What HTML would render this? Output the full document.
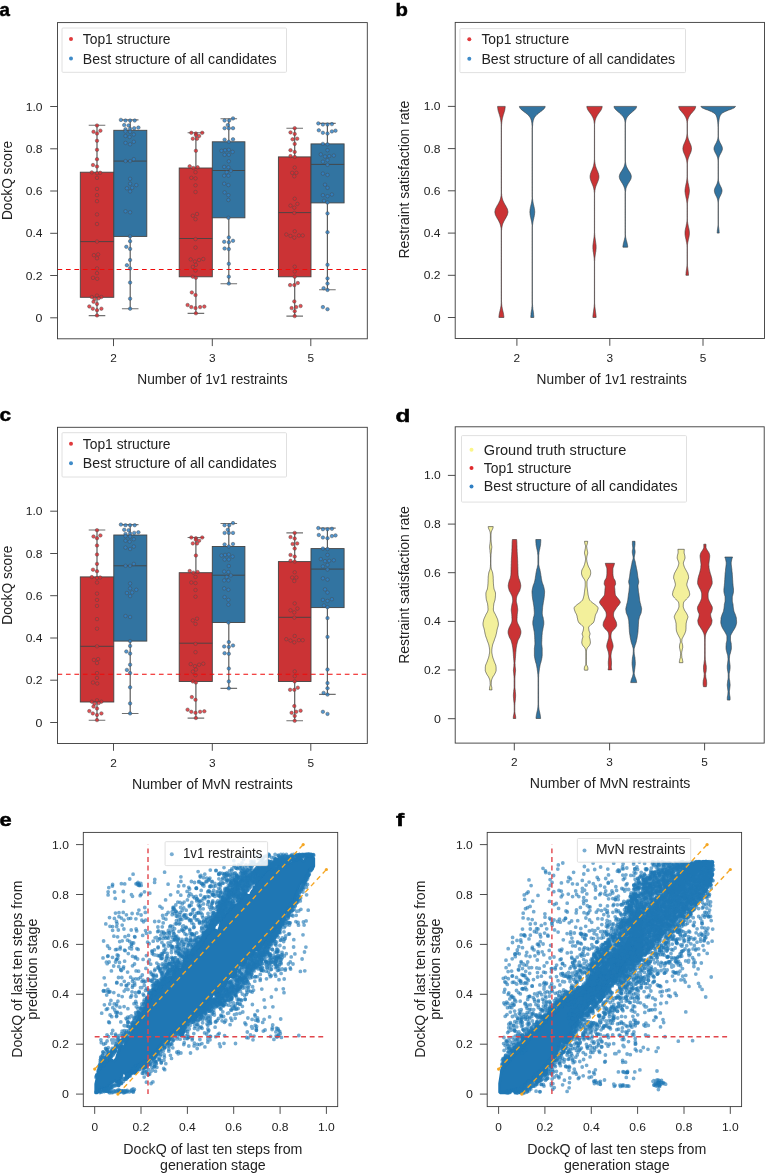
<!DOCTYPE html>
<html><head><meta charset="utf-8"><title>Figure</title>
<style>html,body{margin:0;padding:0;background:#fff}body{width:765px;height:1174px;overflow:hidden;font-family:"Liberation Sans",sans-serif}svg{will-change:transform;transform:translateZ(0)}svg text{font-family:"Liberation Sans",sans-serif;-webkit-font-smoothing:antialiased}</style>
</head><body><svg width="765" height="1174" viewBox="0 0 765 1174" style="display:block;font-family:'Liberation Sans',sans-serif"><path d="M97 125.3V172.2M97 297.3V315.6" stroke="#5c5c5c" stroke-width="1.2" fill="none"/>
<path d="M88.7 125.3h16.6M88.7 315.6h16.6" stroke="#707070" stroke-width="1.1" fill="none"/>
<rect x="80.3" y="172.2" width="33.5" height="125.1" fill="#cb3335" stroke="#444" stroke-width="0.9"/>
<line x1="80.3" y1="241.6" x2="113.8" y2="241.6" stroke="#444" stroke-width="0.9"/>
<g fill="#de2a2e" fill-opacity="0.82" stroke="#4a4a4a" stroke-opacity="0.7" stroke-width="0.65"><circle cx="97" cy="125.5" r="1.75"/><circle cx="93.5" cy="131.8" r="1.75"/><circle cx="100.4" cy="130.7" r="1.75"/><circle cx="97" cy="133.5" r="1.75"/><circle cx="97" cy="140.8" r="1.75"/><circle cx="97" cy="149.8" r="1.75"/><circle cx="97" cy="159.2" r="1.75"/><circle cx="93" cy="165" r="1.75"/><circle cx="97" cy="166.5" r="1.75"/><circle cx="91.8" cy="172.4" r="1.75"/><circle cx="97" cy="173.2" r="1.75"/><circle cx="100.2" cy="172.8" r="1.75"/><circle cx="97" cy="177.8" r="1.75"/><circle cx="97" cy="188.9" r="1.75"/><circle cx="97" cy="195.2" r="1.75"/><circle cx="97" cy="201.2" r="1.75"/><circle cx="97" cy="214.4" r="1.75"/><circle cx="97" cy="224" r="1.75"/><circle cx="97" cy="241.6" r="1.75"/><circle cx="93.9" cy="255.2" r="1.75"/><circle cx="98.1" cy="254.4" r="1.75"/><circle cx="97" cy="258.3" r="1.75"/><circle cx="97" cy="268.4" r="1.75"/><circle cx="97" cy="273.2" r="1.75"/><circle cx="93" cy="277.8" r="1.75"/><circle cx="97.2" cy="278.8" r="1.75"/><circle cx="91.8" cy="297" r="1.75"/><circle cx="97" cy="295.6" r="1.75"/><circle cx="101.4" cy="297" r="1.75"/><circle cx="94.5" cy="299.1" r="1.75"/><circle cx="98.7" cy="298.3" r="1.75"/><circle cx="93.5" cy="301.8" r="1.75"/><circle cx="97" cy="303.9" r="1.75"/><circle cx="89.3" cy="306.4" r="1.75"/><circle cx="92.8" cy="308.7" r="1.75"/><circle cx="97" cy="310.2" r="1.75"/><circle cx="101.4" cy="308.7" r="1.75"/><circle cx="97" cy="315.4" r="1.75"/></g>
<path d="M130.2 119.9V130.3M130.2 236.4V308.8" stroke="#5c5c5c" stroke-width="1.2" fill="none"/>
<path d="M121.9 119.9h16.6M121.9 308.8h16.6" stroke="#707070" stroke-width="1.1" fill="none"/>
<rect x="113.8" y="130.3" width="33" height="106.1" fill="#3274a1" stroke="#444" stroke-width="0.9"/>
<line x1="113.8" y1="161.1" x2="146.8" y2="161.1" stroke="#444" stroke-width="0.9"/>
<g fill="#2e80c6" fill-opacity="0.82" stroke="#4a4a4a" stroke-opacity="0.7" stroke-width="0.65"><circle cx="120.9" cy="119.9" r="1.75"/><circle cx="125.5" cy="120.5" r="1.75"/><circle cx="130.1" cy="120.5" r="1.75"/><circle cx="134.7" cy="120.5" r="1.75"/><circle cx="124.2" cy="125.1" r="1.75"/><circle cx="128.6" cy="125.5" r="1.75"/><circle cx="125.5" cy="129.3" r="1.75"/><circle cx="130.1" cy="128.9" r="1.75"/><circle cx="134.2" cy="128.2" r="1.75"/><circle cx="138.4" cy="127.6" r="1.75"/><circle cx="125.5" cy="131.4" r="1.75"/><circle cx="130.1" cy="131.8" r="1.75"/><circle cx="125.5" cy="136" r="1.75"/><circle cx="129.6" cy="137" r="1.75"/><circle cx="133.8" cy="134.5" r="1.75"/><circle cx="125.5" cy="142.9" r="1.75"/><circle cx="130.1" cy="144.3" r="1.75"/><circle cx="133.8" cy="141.8" r="1.75"/><circle cx="125.5" cy="161.1" r="1.75"/><circle cx="130.1" cy="161.1" r="1.75"/><circle cx="133.8" cy="159.2" r="1.75"/><circle cx="130.1" cy="178.8" r="1.75"/><circle cx="130.1" cy="183.7" r="1.75"/><circle cx="136.3" cy="185.1" r="1.75"/><circle cx="126.9" cy="188.3" r="1.75"/><circle cx="132.2" cy="187.8" r="1.75"/><circle cx="130.1" cy="191.4" r="1.75"/><circle cx="125.5" cy="211.3" r="1.75"/><circle cx="130.1" cy="212.3" r="1.75"/><circle cx="130.1" cy="236.4" r="1.75"/><circle cx="130.1" cy="241.2" r="1.75"/><circle cx="126.3" cy="246.8" r="1.75"/><circle cx="130.1" cy="248.9" r="1.75"/><circle cx="130.1" cy="260" r="1.75"/><circle cx="126.9" cy="265.2" r="1.75"/><circle cx="130.1" cy="268.4" r="1.75"/><circle cx="130.1" cy="282.6" r="1.75"/><circle cx="130.1" cy="298.7" r="1.75"/><circle cx="130.1" cy="308.7" r="1.75"/></g>
<path d="M195.9 132.8V168M195.9 276.8V313.4" stroke="#5c5c5c" stroke-width="1.2" fill="none"/>
<path d="M187.6 132.8h16.6M187.6 313.4h16.6" stroke="#707070" stroke-width="1.1" fill="none"/>
<rect x="179.2" y="168" width="33.1" height="108.8" fill="#cb3335" stroke="#444" stroke-width="0.9"/>
<line x1="179.2" y1="238.5" x2="212.3" y2="238.5" stroke="#444" stroke-width="0.9"/>
<g fill="#de2a2e" fill-opacity="0.82" stroke="#4a4a4a" stroke-opacity="0.7" stroke-width="0.65"><circle cx="191.3" cy="132.8" r="1.75"/><circle cx="195.9" cy="133.5" r="1.75"/><circle cx="202.2" cy="132.8" r="1.75"/><circle cx="195.9" cy="135.1" r="1.75"/><circle cx="199.1" cy="136" r="1.75"/><circle cx="192.8" cy="138.7" r="1.75"/><circle cx="197" cy="138.7" r="1.75"/><circle cx="195.9" cy="150.8" r="1.75"/><circle cx="189.7" cy="166.3" r="1.75"/><circle cx="193.4" cy="168" r="1.75"/><circle cx="197.6" cy="167.3" r="1.75"/><circle cx="195.5" cy="172.2" r="1.75"/><circle cx="191.3" cy="177.8" r="1.75"/><circle cx="195.5" cy="178.4" r="1.75"/><circle cx="195.5" cy="185.3" r="1.75"/><circle cx="195.5" cy="192" r="1.75"/><circle cx="197" cy="214" r="1.75"/><circle cx="192.8" cy="215.7" r="1.75"/><circle cx="195.5" cy="219.2" r="1.75"/><circle cx="195.5" cy="239.1" r="1.75"/><circle cx="195.5" cy="247.5" r="1.75"/><circle cx="190.7" cy="259.4" r="1.75"/><circle cx="194.9" cy="261.5" r="1.75"/><circle cx="199.1" cy="260" r="1.75"/><circle cx="203.3" cy="259" r="1.75"/><circle cx="195.9" cy="264.8" r="1.75"/><circle cx="192.8" cy="266.9" r="1.75"/><circle cx="195.5" cy="270.5" r="1.75"/><circle cx="192.8" cy="276.7" r="1.75"/><circle cx="195.9" cy="277.8" r="1.75"/><circle cx="191.8" cy="292.4" r="1.75"/><circle cx="195.5" cy="295.1" r="1.75"/><circle cx="187.6" cy="305" r="1.75"/><circle cx="191.3" cy="307.1" r="1.75"/><circle cx="195.5" cy="308.1" r="1.75"/><circle cx="200.1" cy="307.1" r="1.75"/><circle cx="204.3" cy="306.6" r="1.75"/><circle cx="195.9" cy="313.3" r="1.75"/></g>
<path d="M228.8 118.8V141.8M228.8 217.8V283.7" stroke="#5c5c5c" stroke-width="1.2" fill="none"/>
<path d="M220.5 118.8h16.6M220.5 283.7h16.6" stroke="#707070" stroke-width="1.1" fill="none"/>
<rect x="212.3" y="141.8" width="32.6" height="76" fill="#3274a1" stroke="#444" stroke-width="0.9"/>
<line x1="212.3" y1="170.5" x2="244.9" y2="170.5" stroke="#444" stroke-width="0.9"/>
<g fill="#2e80c6" fill-opacity="0.82" stroke="#4a4a4a" stroke-opacity="0.7" stroke-width="0.65"><circle cx="233" cy="118.4" r="1.75"/><circle cx="229.2" cy="120.5" r="1.75"/><circle cx="224.6" cy="120.5" r="1.75"/><circle cx="227.8" cy="125.1" r="1.75"/><circle cx="224.6" cy="128.2" r="1.75"/><circle cx="228.8" cy="128.2" r="1.75"/><circle cx="233" cy="128.2" r="1.75"/><circle cx="224.6" cy="139.7" r="1.75"/><circle cx="228.8" cy="141.8" r="1.75"/><circle cx="233" cy="139.3" r="1.75"/><circle cx="221.5" cy="150.8" r="1.75"/><circle cx="225.1" cy="150.2" r="1.75"/><circle cx="228.8" cy="149.8" r="1.75"/><circle cx="232.6" cy="151.9" r="1.75"/><circle cx="224.6" cy="154.8" r="1.75"/><circle cx="228.8" cy="154.8" r="1.75"/><circle cx="228.8" cy="161.3" r="1.75"/><circle cx="224.2" cy="166.9" r="1.75"/><circle cx="228.4" cy="167.3" r="1.75"/><circle cx="230.9" cy="170.7" r="1.75"/><circle cx="226.7" cy="172.2" r="1.75"/><circle cx="224.2" cy="175.7" r="1.75"/><circle cx="228.4" cy="175.7" r="1.75"/><circle cx="224.2" cy="183.7" r="1.75"/><circle cx="228.4" cy="185.1" r="1.75"/><circle cx="224.6" cy="192.4" r="1.75"/><circle cx="228.4" cy="195.2" r="1.75"/><circle cx="228.4" cy="200" r="1.75"/><circle cx="228.4" cy="217.8" r="1.75"/><circle cx="228.8" cy="237.4" r="1.75"/><circle cx="224.2" cy="241.8" r="1.75"/><circle cx="228.8" cy="242.2" r="1.75"/><circle cx="233" cy="240.8" r="1.75"/><circle cx="224.6" cy="248.5" r="1.75"/><circle cx="228.8" cy="249.1" r="1.75"/><circle cx="228.8" cy="263.8" r="1.75"/><circle cx="228.8" cy="276.7" r="1.75"/><circle cx="228.8" cy="283.6" r="1.75"/></g>
<path d="M294.7 128.2V156.9M294.7 276.8V316.1" stroke="#5c5c5c" stroke-width="1.2" fill="none"/>
<path d="M286.4 128.2h16.6M286.4 316.1h16.6" stroke="#707070" stroke-width="1.1" fill="none"/>
<rect x="278.4" y="156.9" width="32.6" height="119.9" fill="#cb3335" stroke="#444" stroke-width="0.9"/>
<line x1="278.4" y1="212.6" x2="311" y2="212.6" stroke="#444" stroke-width="0.9"/>
<g fill="#de2a2e" fill-opacity="0.82" stroke="#4a4a4a" stroke-opacity="0.7" stroke-width="0.65"><circle cx="294.7" cy="128.2" r="1.75"/><circle cx="290.5" cy="132.4" r="1.75"/><circle cx="294.7" cy="133.9" r="1.75"/><circle cx="292.6" cy="139.3" r="1.75"/><circle cx="297.2" cy="138.7" r="1.75"/><circle cx="294.7" cy="143.9" r="1.75"/><circle cx="290.5" cy="150.2" r="1.75"/><circle cx="294.7" cy="151.9" r="1.75"/><circle cx="290.5" cy="156.1" r="1.75"/><circle cx="294.7" cy="156.9" r="1.75"/><circle cx="294.7" cy="167.6" r="1.75"/><circle cx="292.2" cy="172.8" r="1.75"/><circle cx="296.4" cy="172.8" r="1.75"/><circle cx="294.3" cy="176.3" r="1.75"/><circle cx="294.7" cy="198.7" r="1.75"/><circle cx="297.4" cy="203.9" r="1.75"/><circle cx="290.5" cy="205.6" r="1.75"/><circle cx="294.3" cy="207.7" r="1.75"/><circle cx="294.3" cy="212.9" r="1.75"/><circle cx="294.7" cy="231.3" r="1.75"/><circle cx="286.3" cy="234.5" r="1.75"/><circle cx="290.5" cy="235.9" r="1.75"/><circle cx="294.3" cy="237.6" r="1.75"/><circle cx="298.9" cy="235.5" r="1.75"/><circle cx="302.7" cy="235.5" r="1.75"/><circle cx="294.7" cy="266.7" r="1.75"/><circle cx="294.7" cy="271.5" r="1.75"/><circle cx="294.7" cy="276.7" r="1.75"/><circle cx="290.1" cy="285.1" r="1.75"/><circle cx="294.3" cy="285.1" r="1.75"/><circle cx="297.8" cy="283" r="1.75"/><circle cx="294.3" cy="301.4" r="1.75"/><circle cx="291.6" cy="308.1" r="1.75"/><circle cx="296.2" cy="307.1" r="1.75"/><circle cx="300.6" cy="306" r="1.75"/><circle cx="294.7" cy="311.2" r="1.75"/><circle cx="294.7" cy="316.1" r="1.75"/></g>
<path d="M327.4 123.4V143.9M327.4 202.9V289.7" stroke="#5c5c5c" stroke-width="1.2" fill="none"/>
<path d="M319.1 123.4h16.6M319.1 289.7h16.6" stroke="#707070" stroke-width="1.1" fill="none"/>
<rect x="311" y="143.9" width="33.1" height="59" fill="#3274a1" stroke="#444" stroke-width="0.9"/>
<line x1="311" y1="164.4" x2="344.1" y2="164.4" stroke="#444" stroke-width="0.9"/>
<g fill="#2e80c6" fill-opacity="0.82" stroke="#4a4a4a" stroke-opacity="0.7" stroke-width="0.65"><circle cx="318.3" cy="123.4" r="1.75"/><circle cx="322.9" cy="124.5" r="1.75"/><circle cx="327.5" cy="124.5" r="1.75"/><circle cx="331.9" cy="124.1" r="1.75"/><circle cx="318.8" cy="130.3" r="1.75"/><circle cx="322.9" cy="132.8" r="1.75"/><circle cx="327.5" cy="133.5" r="1.75"/><circle cx="331.9" cy="131.4" r="1.75"/><circle cx="335.5" cy="130.7" r="1.75"/><circle cx="322.9" cy="143.9" r="1.75"/><circle cx="327.5" cy="144.3" r="1.75"/><circle cx="327.5" cy="150.2" r="1.75"/><circle cx="320.8" cy="154.4" r="1.75"/><circle cx="325" cy="156.5" r="1.75"/><circle cx="329.2" cy="156.1" r="1.75"/><circle cx="333.8" cy="155.6" r="1.75"/><circle cx="322.9" cy="161.7" r="1.75"/><circle cx="327.5" cy="160.2" r="1.75"/><circle cx="327.5" cy="164.8" r="1.75"/><circle cx="322.9" cy="173.6" r="1.75"/><circle cx="327.5" cy="174.9" r="1.75"/><circle cx="325" cy="184.7" r="1.75"/><circle cx="327.5" cy="187.8" r="1.75"/><circle cx="322.9" cy="195.2" r="1.75"/><circle cx="327.5" cy="196.2" r="1.75"/><circle cx="331.9" cy="194.5" r="1.75"/><circle cx="324" cy="200.8" r="1.75"/><circle cx="327.5" cy="202.5" r="1.75"/><circle cx="327.5" cy="213.4" r="1.75"/><circle cx="327.5" cy="232.2" r="1.75"/><circle cx="327.5" cy="264.8" r="1.75"/><circle cx="327.5" cy="278.4" r="1.75"/><circle cx="327.5" cy="283.6" r="1.75"/><circle cx="323.6" cy="288.2" r="1.75"/><circle cx="327.5" cy="289.9" r="1.75"/><circle cx="322.9" cy="307.1" r="1.75"/><circle cx="327.5" cy="309.2" r="1.75"/></g>
<line x1="57.5" y1="269.50" x2="367.3" y2="269.50" stroke="#f00a0a" stroke-width="1.15" stroke-dasharray="4.7 3.75"/>
<rect x="57.5" y="22.6" width="309.8" height="316.2" fill="none" stroke="#3a3a3a" stroke-width="0.9"/>
<line x1="50.2" y1="317.8" x2="57.5" y2="317.8" stroke="#3a3a3a" stroke-width="0.9"/>
<text x="42.5" y="321.8" font-size="11.5" text-anchor="end" fill="#222" textLength="6.9" lengthAdjust="spacingAndGlyphs">0</text>
<line x1="50.2" y1="275.5" x2="57.5" y2="275.5" stroke="#3a3a3a" stroke-width="0.9"/>
<text x="42.5" y="279.5" font-size="11.5" text-anchor="end" fill="#222" textLength="16.8" lengthAdjust="spacingAndGlyphs">0.2</text>
<line x1="50.2" y1="233.3" x2="57.5" y2="233.3" stroke="#3a3a3a" stroke-width="0.9"/>
<text x="42.5" y="237.3" font-size="11.5" text-anchor="end" fill="#222" textLength="16.8" lengthAdjust="spacingAndGlyphs">0.4</text>
<line x1="50.2" y1="191" x2="57.5" y2="191" stroke="#3a3a3a" stroke-width="0.9"/>
<text x="42.5" y="195" font-size="11.5" text-anchor="end" fill="#222" textLength="16.8" lengthAdjust="spacingAndGlyphs">0.6</text>
<line x1="50.2" y1="148.8" x2="57.5" y2="148.8" stroke="#3a3a3a" stroke-width="0.9"/>
<text x="42.5" y="152.8" font-size="11.5" text-anchor="end" fill="#222" textLength="16.8" lengthAdjust="spacingAndGlyphs">0.8</text>
<line x1="50.2" y1="106.5" x2="57.5" y2="106.5" stroke="#3a3a3a" stroke-width="0.9"/>
<text x="42.5" y="110.5" font-size="11.5" text-anchor="end" fill="#222" textLength="16.8" lengthAdjust="spacingAndGlyphs">1.0</text>
<line x1="113.5" y1="338.8" x2="113.5" y2="346.1" stroke="#3a3a3a" stroke-width="0.9"/>
<text x="113.5" y="362" font-size="11.5" text-anchor="middle" fill="#222" textLength="6.6" lengthAdjust="spacingAndGlyphs">2</text>
<line x1="212.3" y1="338.8" x2="212.3" y2="346.1" stroke="#3a3a3a" stroke-width="0.9"/>
<text x="212.3" y="362" font-size="11.5" text-anchor="middle" fill="#222" textLength="6.6" lengthAdjust="spacingAndGlyphs">3</text>
<line x1="310.8" y1="338.8" x2="310.8" y2="346.1" stroke="#3a3a3a" stroke-width="0.9"/>
<text x="310.8" y="362" font-size="11.5" text-anchor="middle" fill="#222" textLength="6.6" lengthAdjust="spacingAndGlyphs">5</text>
<text x="212.4" y="383.9" font-size="14.2" text-anchor="middle" fill="#222" textLength="150.3" lengthAdjust="spacingAndGlyphs">Number of 1v1 restraints</text>
<text x="11.9" y="180.5" font-size="14.2" text-anchor="middle" fill="#222" textLength="79.1" lengthAdjust="spacingAndGlyphs" transform="rotate(-90 11.9 180.5)">DockQ score</text>
<rect x="62" y="28" width="224.5" height="44.3" rx="1" fill="#fff" fill-opacity="0.85" stroke="#dcdcdc" stroke-width="0.9"/>
<circle cx="71" cy="39.1" r="2.0" fill="#e03a3c"/>
<text x="82.8" y="44" font-size="14.2" text-anchor="start" fill="#222" textLength="87.7" lengthAdjust="spacingAndGlyphs">Top1 structure</text>
<circle cx="71" cy="58.6" r="2.0" fill="#3f8bc8"/>
<text x="82.8" y="63.5" font-size="14.2" text-anchor="start" fill="#222" textLength="193.8" lengthAdjust="spacingAndGlyphs">Best structure of all candidates</text>
<text x="-0.6" y="16.3" font-size="19" text-anchor="start" fill="#000" textLength="10.4" lengthAdjust="spacingAndGlyphs" font-weight="bold" stroke="#000" stroke-width="0.5">a</text>
<path d="M97 530V576.9M97 702V720.3" stroke="#5c5c5c" stroke-width="1.2" fill="none"/>
<path d="M88.7 530h16.6M88.7 720.3h16.6" stroke="#707070" stroke-width="1.1" fill="none"/>
<rect x="80.3" y="576.9" width="33.5" height="125.1" fill="#cb3335" stroke="#444" stroke-width="0.9"/>
<line x1="80.3" y1="646.3" x2="113.8" y2="646.3" stroke="#444" stroke-width="0.9"/>
<g fill="#de2a2e" fill-opacity="0.82" stroke="#4a4a4a" stroke-opacity="0.7" stroke-width="0.65"><circle cx="97" cy="530.2" r="1.75"/><circle cx="93.5" cy="536.5" r="1.75"/><circle cx="100.4" cy="535.4" r="1.75"/><circle cx="97" cy="538.2" r="1.75"/><circle cx="97" cy="545.5" r="1.75"/><circle cx="97" cy="554.5" r="1.75"/><circle cx="97" cy="563.9" r="1.75"/><circle cx="93" cy="569.7" r="1.75"/><circle cx="97" cy="571.2" r="1.75"/><circle cx="91.8" cy="577.1" r="1.75"/><circle cx="97" cy="577.9" r="1.75"/><circle cx="100.2" cy="577.5" r="1.75"/><circle cx="97" cy="582.5" r="1.75"/><circle cx="97" cy="593.6" r="1.75"/><circle cx="97" cy="599.9" r="1.75"/><circle cx="97" cy="605.9" r="1.75"/><circle cx="97" cy="619.1" r="1.75"/><circle cx="97" cy="628.7" r="1.75"/><circle cx="97" cy="646.3" r="1.75"/><circle cx="93.9" cy="659.9" r="1.75"/><circle cx="98.1" cy="659.1" r="1.75"/><circle cx="97" cy="663" r="1.75"/><circle cx="97" cy="673.1" r="1.75"/><circle cx="97" cy="677.9" r="1.75"/><circle cx="93" cy="682.5" r="1.75"/><circle cx="97.2" cy="683.5" r="1.75"/><circle cx="91.8" cy="701.7" r="1.75"/><circle cx="97" cy="700.3" r="1.75"/><circle cx="101.4" cy="701.7" r="1.75"/><circle cx="94.5" cy="703.8" r="1.75"/><circle cx="98.7" cy="703" r="1.75"/><circle cx="93.5" cy="706.5" r="1.75"/><circle cx="97" cy="708.6" r="1.75"/><circle cx="89.3" cy="711.1" r="1.75"/><circle cx="92.8" cy="713.4" r="1.75"/><circle cx="97" cy="714.9" r="1.75"/><circle cx="101.4" cy="713.4" r="1.75"/><circle cx="97" cy="720.1" r="1.75"/></g>
<path d="M130.2 524.6V535M130.2 641.1V713.5" stroke="#5c5c5c" stroke-width="1.2" fill="none"/>
<path d="M121.9 524.6h16.6M121.9 713.5h16.6" stroke="#707070" stroke-width="1.1" fill="none"/>
<rect x="113.8" y="535" width="33" height="106.1" fill="#3274a1" stroke="#444" stroke-width="0.9"/>
<line x1="113.8" y1="565.8" x2="146.8" y2="565.8" stroke="#444" stroke-width="0.9"/>
<g fill="#2e80c6" fill-opacity="0.82" stroke="#4a4a4a" stroke-opacity="0.7" stroke-width="0.65"><circle cx="120.9" cy="524.6" r="1.75"/><circle cx="125.5" cy="525.2" r="1.75"/><circle cx="130.1" cy="525.2" r="1.75"/><circle cx="134.7" cy="525.2" r="1.75"/><circle cx="124.2" cy="529.8" r="1.75"/><circle cx="128.6" cy="530.2" r="1.75"/><circle cx="125.5" cy="534" r="1.75"/><circle cx="130.1" cy="533.6" r="1.75"/><circle cx="134.2" cy="532.9" r="1.75"/><circle cx="138.4" cy="532.3" r="1.75"/><circle cx="125.5" cy="536.1" r="1.75"/><circle cx="130.1" cy="536.5" r="1.75"/><circle cx="125.5" cy="540.7" r="1.75"/><circle cx="129.6" cy="541.7" r="1.75"/><circle cx="133.8" cy="539.2" r="1.75"/><circle cx="125.5" cy="547.6" r="1.75"/><circle cx="130.1" cy="549" r="1.75"/><circle cx="133.8" cy="546.5" r="1.75"/><circle cx="125.5" cy="565.8" r="1.75"/><circle cx="130.1" cy="565.8" r="1.75"/><circle cx="133.8" cy="563.9" r="1.75"/><circle cx="130.1" cy="583.5" r="1.75"/><circle cx="130.1" cy="588.4" r="1.75"/><circle cx="136.3" cy="589.8" r="1.75"/><circle cx="126.9" cy="593" r="1.75"/><circle cx="132.2" cy="592.5" r="1.75"/><circle cx="130.1" cy="596.1" r="1.75"/><circle cx="125.5" cy="616" r="1.75"/><circle cx="130.1" cy="617" r="1.75"/><circle cx="130.1" cy="641.1" r="1.75"/><circle cx="130.1" cy="645.9" r="1.75"/><circle cx="126.3" cy="651.5" r="1.75"/><circle cx="130.1" cy="653.6" r="1.75"/><circle cx="130.1" cy="664.7" r="1.75"/><circle cx="126.9" cy="669.9" r="1.75"/><circle cx="130.1" cy="673.1" r="1.75"/><circle cx="130.1" cy="687.3" r="1.75"/><circle cx="130.1" cy="703.4" r="1.75"/><circle cx="130.1" cy="713.4" r="1.75"/></g>
<path d="M195.9 537.5V572.7M195.9 681.5V718.1" stroke="#5c5c5c" stroke-width="1.2" fill="none"/>
<path d="M187.6 537.5h16.6M187.6 718.1h16.6" stroke="#707070" stroke-width="1.1" fill="none"/>
<rect x="179.2" y="572.7" width="33.1" height="108.8" fill="#cb3335" stroke="#444" stroke-width="0.9"/>
<line x1="179.2" y1="643.2" x2="212.3" y2="643.2" stroke="#444" stroke-width="0.9"/>
<g fill="#de2a2e" fill-opacity="0.82" stroke="#4a4a4a" stroke-opacity="0.7" stroke-width="0.65"><circle cx="191.3" cy="537.5" r="1.75"/><circle cx="195.9" cy="538.2" r="1.75"/><circle cx="202.2" cy="537.5" r="1.75"/><circle cx="195.9" cy="539.8" r="1.75"/><circle cx="199.1" cy="540.7" r="1.75"/><circle cx="192.8" cy="543.4" r="1.75"/><circle cx="197" cy="543.4" r="1.75"/><circle cx="195.9" cy="555.5" r="1.75"/><circle cx="189.7" cy="571" r="1.75"/><circle cx="193.4" cy="572.7" r="1.75"/><circle cx="197.6" cy="572" r="1.75"/><circle cx="195.5" cy="576.9" r="1.75"/><circle cx="191.3" cy="582.5" r="1.75"/><circle cx="195.5" cy="583.1" r="1.75"/><circle cx="195.5" cy="590" r="1.75"/><circle cx="195.5" cy="596.7" r="1.75"/><circle cx="197" cy="618.7" r="1.75"/><circle cx="192.8" cy="620.4" r="1.75"/><circle cx="195.5" cy="623.9" r="1.75"/><circle cx="195.5" cy="643.8" r="1.75"/><circle cx="195.5" cy="652.2" r="1.75"/><circle cx="190.7" cy="664.1" r="1.75"/><circle cx="194.9" cy="666.2" r="1.75"/><circle cx="199.1" cy="664.7" r="1.75"/><circle cx="203.3" cy="663.7" r="1.75"/><circle cx="195.9" cy="669.5" r="1.75"/><circle cx="192.8" cy="671.6" r="1.75"/><circle cx="195.5" cy="675.2" r="1.75"/><circle cx="192.8" cy="681.4" r="1.75"/><circle cx="195.9" cy="682.5" r="1.75"/><circle cx="191.8" cy="697.1" r="1.75"/><circle cx="195.5" cy="699.8" r="1.75"/><circle cx="187.6" cy="709.7" r="1.75"/><circle cx="191.3" cy="711.8" r="1.75"/><circle cx="195.5" cy="712.8" r="1.75"/><circle cx="200.1" cy="711.8" r="1.75"/><circle cx="204.3" cy="711.3" r="1.75"/><circle cx="195.9" cy="718" r="1.75"/></g>
<path d="M228.8 523.5V546.5M228.8 622.5V688.4" stroke="#5c5c5c" stroke-width="1.2" fill="none"/>
<path d="M220.5 523.5h16.6M220.5 688.4h16.6" stroke="#707070" stroke-width="1.1" fill="none"/>
<rect x="212.3" y="546.5" width="32.6" height="76" fill="#3274a1" stroke="#444" stroke-width="0.9"/>
<line x1="212.3" y1="575.2" x2="244.9" y2="575.2" stroke="#444" stroke-width="0.9"/>
<g fill="#2e80c6" fill-opacity="0.82" stroke="#4a4a4a" stroke-opacity="0.7" stroke-width="0.65"><circle cx="233" cy="523.1" r="1.75"/><circle cx="229.2" cy="525.2" r="1.75"/><circle cx="224.6" cy="525.2" r="1.75"/><circle cx="227.8" cy="529.8" r="1.75"/><circle cx="224.6" cy="532.9" r="1.75"/><circle cx="228.8" cy="532.9" r="1.75"/><circle cx="233" cy="532.9" r="1.75"/><circle cx="224.6" cy="544.4" r="1.75"/><circle cx="228.8" cy="546.5" r="1.75"/><circle cx="233" cy="544" r="1.75"/><circle cx="221.5" cy="555.5" r="1.75"/><circle cx="225.1" cy="554.9" r="1.75"/><circle cx="228.8" cy="554.5" r="1.75"/><circle cx="232.6" cy="556.6" r="1.75"/><circle cx="224.6" cy="559.5" r="1.75"/><circle cx="228.8" cy="559.5" r="1.75"/><circle cx="228.8" cy="566" r="1.75"/><circle cx="224.2" cy="571.6" r="1.75"/><circle cx="228.4" cy="572" r="1.75"/><circle cx="230.9" cy="575.4" r="1.75"/><circle cx="226.7" cy="576.9" r="1.75"/><circle cx="224.2" cy="580.4" r="1.75"/><circle cx="228.4" cy="580.4" r="1.75"/><circle cx="224.2" cy="588.4" r="1.75"/><circle cx="228.4" cy="589.8" r="1.75"/><circle cx="224.6" cy="597.1" r="1.75"/><circle cx="228.4" cy="599.9" r="1.75"/><circle cx="228.4" cy="604.7" r="1.75"/><circle cx="228.4" cy="622.5" r="1.75"/><circle cx="228.8" cy="642.1" r="1.75"/><circle cx="224.2" cy="646.5" r="1.75"/><circle cx="228.8" cy="646.9" r="1.75"/><circle cx="233" cy="645.5" r="1.75"/><circle cx="224.6" cy="653.2" r="1.75"/><circle cx="228.8" cy="653.8" r="1.75"/><circle cx="228.8" cy="668.5" r="1.75"/><circle cx="228.8" cy="681.4" r="1.75"/><circle cx="228.8" cy="688.3" r="1.75"/></g>
<path d="M294.7 532.9V561.6M294.7 681.5V720.8" stroke="#5c5c5c" stroke-width="1.2" fill="none"/>
<path d="M286.4 532.9h16.6M286.4 720.8h16.6" stroke="#707070" stroke-width="1.1" fill="none"/>
<rect x="278.4" y="561.6" width="32.6" height="119.9" fill="#cb3335" stroke="#444" stroke-width="0.9"/>
<line x1="278.4" y1="617.3" x2="311" y2="617.3" stroke="#444" stroke-width="0.9"/>
<g fill="#de2a2e" fill-opacity="0.82" stroke="#4a4a4a" stroke-opacity="0.7" stroke-width="0.65"><circle cx="294.7" cy="532.9" r="1.75"/><circle cx="290.5" cy="537.1" r="1.75"/><circle cx="294.7" cy="538.6" r="1.75"/><circle cx="292.6" cy="544" r="1.75"/><circle cx="297.2" cy="543.4" r="1.75"/><circle cx="294.7" cy="548.6" r="1.75"/><circle cx="290.5" cy="554.9" r="1.75"/><circle cx="294.7" cy="556.6" r="1.75"/><circle cx="290.5" cy="560.8" r="1.75"/><circle cx="294.7" cy="561.6" r="1.75"/><circle cx="294.7" cy="572.3" r="1.75"/><circle cx="292.2" cy="577.5" r="1.75"/><circle cx="296.4" cy="577.5" r="1.75"/><circle cx="294.3" cy="581" r="1.75"/><circle cx="294.7" cy="603.4" r="1.75"/><circle cx="297.4" cy="608.6" r="1.75"/><circle cx="290.5" cy="610.3" r="1.75"/><circle cx="294.3" cy="612.4" r="1.75"/><circle cx="294.3" cy="617.6" r="1.75"/><circle cx="294.7" cy="636" r="1.75"/><circle cx="286.3" cy="639.2" r="1.75"/><circle cx="290.5" cy="640.6" r="1.75"/><circle cx="294.3" cy="642.3" r="1.75"/><circle cx="298.9" cy="640.2" r="1.75"/><circle cx="302.7" cy="640.2" r="1.75"/><circle cx="294.7" cy="671.4" r="1.75"/><circle cx="294.7" cy="676.2" r="1.75"/><circle cx="294.7" cy="681.4" r="1.75"/><circle cx="290.1" cy="689.8" r="1.75"/><circle cx="294.3" cy="689.8" r="1.75"/><circle cx="297.8" cy="687.7" r="1.75"/><circle cx="294.3" cy="706.1" r="1.75"/><circle cx="291.6" cy="712.8" r="1.75"/><circle cx="296.2" cy="711.8" r="1.75"/><circle cx="300.6" cy="710.7" r="1.75"/><circle cx="294.7" cy="715.9" r="1.75"/><circle cx="294.7" cy="720.8" r="1.75"/></g>
<path d="M327.4 528.1V548.6M327.4 607.6V694.4" stroke="#5c5c5c" stroke-width="1.2" fill="none"/>
<path d="M319.1 528.1h16.6M319.1 694.4h16.6" stroke="#707070" stroke-width="1.1" fill="none"/>
<rect x="311" y="548.6" width="33.1" height="59" fill="#3274a1" stroke="#444" stroke-width="0.9"/>
<line x1="311" y1="569.1" x2="344.1" y2="569.1" stroke="#444" stroke-width="0.9"/>
<g fill="#2e80c6" fill-opacity="0.82" stroke="#4a4a4a" stroke-opacity="0.7" stroke-width="0.65"><circle cx="318.3" cy="528.1" r="1.75"/><circle cx="322.9" cy="529.2" r="1.75"/><circle cx="327.5" cy="529.2" r="1.75"/><circle cx="331.9" cy="528.8" r="1.75"/><circle cx="318.8" cy="535" r="1.75"/><circle cx="322.9" cy="537.5" r="1.75"/><circle cx="327.5" cy="538.2" r="1.75"/><circle cx="331.9" cy="536.1" r="1.75"/><circle cx="335.5" cy="535.4" r="1.75"/><circle cx="322.9" cy="548.6" r="1.75"/><circle cx="327.5" cy="549" r="1.75"/><circle cx="327.5" cy="554.9" r="1.75"/><circle cx="320.8" cy="559.1" r="1.75"/><circle cx="325" cy="561.2" r="1.75"/><circle cx="329.2" cy="560.8" r="1.75"/><circle cx="333.8" cy="560.3" r="1.75"/><circle cx="322.9" cy="566.4" r="1.75"/><circle cx="327.5" cy="564.9" r="1.75"/><circle cx="327.5" cy="569.5" r="1.75"/><circle cx="322.9" cy="578.3" r="1.75"/><circle cx="327.5" cy="579.6" r="1.75"/><circle cx="325" cy="589.4" r="1.75"/><circle cx="327.5" cy="592.5" r="1.75"/><circle cx="322.9" cy="599.9" r="1.75"/><circle cx="327.5" cy="600.9" r="1.75"/><circle cx="331.9" cy="599.2" r="1.75"/><circle cx="324" cy="605.5" r="1.75"/><circle cx="327.5" cy="607.2" r="1.75"/><circle cx="327.5" cy="618.1" r="1.75"/><circle cx="327.5" cy="636.9" r="1.75"/><circle cx="327.5" cy="669.5" r="1.75"/><circle cx="327.5" cy="683.1" r="1.75"/><circle cx="327.5" cy="688.3" r="1.75"/><circle cx="323.6" cy="692.9" r="1.75"/><circle cx="327.5" cy="694.6" r="1.75"/><circle cx="322.9" cy="711.8" r="1.75"/><circle cx="327.5" cy="713.9" r="1.75"/></g>
<line x1="57.5" y1="674.20" x2="367.3" y2="674.20" stroke="#f00a0a" stroke-width="1.15" stroke-dasharray="4.7 3.75"/>
<rect x="57.5" y="427.3" width="309.8" height="316.2" fill="none" stroke="#3a3a3a" stroke-width="0.9"/>
<line x1="50.2" y1="722.5" x2="57.5" y2="722.5" stroke="#3a3a3a" stroke-width="0.9"/>
<text x="42.5" y="726.5" font-size="11.5" text-anchor="end" fill="#222" textLength="6.9" lengthAdjust="spacingAndGlyphs">0</text>
<line x1="50.2" y1="680.2" x2="57.5" y2="680.2" stroke="#3a3a3a" stroke-width="0.9"/>
<text x="42.5" y="684.2" font-size="11.5" text-anchor="end" fill="#222" textLength="16.8" lengthAdjust="spacingAndGlyphs">0.2</text>
<line x1="50.2" y1="638" x2="57.5" y2="638" stroke="#3a3a3a" stroke-width="0.9"/>
<text x="42.5" y="642" font-size="11.5" text-anchor="end" fill="#222" textLength="16.8" lengthAdjust="spacingAndGlyphs">0.4</text>
<line x1="50.2" y1="595.7" x2="57.5" y2="595.7" stroke="#3a3a3a" stroke-width="0.9"/>
<text x="42.5" y="599.7" font-size="11.5" text-anchor="end" fill="#222" textLength="16.8" lengthAdjust="spacingAndGlyphs">0.6</text>
<line x1="50.2" y1="553.5" x2="57.5" y2="553.5" stroke="#3a3a3a" stroke-width="0.9"/>
<text x="42.5" y="557.5" font-size="11.5" text-anchor="end" fill="#222" textLength="16.8" lengthAdjust="spacingAndGlyphs">0.8</text>
<line x1="50.2" y1="511.2" x2="57.5" y2="511.2" stroke="#3a3a3a" stroke-width="0.9"/>
<text x="42.5" y="515.2" font-size="11.5" text-anchor="end" fill="#222" textLength="16.8" lengthAdjust="spacingAndGlyphs">1.0</text>
<line x1="113.5" y1="743.5" x2="113.5" y2="750.8" stroke="#3a3a3a" stroke-width="0.9"/>
<text x="113.5" y="766.7" font-size="11.5" text-anchor="middle" fill="#222" textLength="6.6" lengthAdjust="spacingAndGlyphs">2</text>
<line x1="212.3" y1="743.5" x2="212.3" y2="750.8" stroke="#3a3a3a" stroke-width="0.9"/>
<text x="212.3" y="766.7" font-size="11.5" text-anchor="middle" fill="#222" textLength="6.6" lengthAdjust="spacingAndGlyphs">3</text>
<line x1="310.8" y1="743.5" x2="310.8" y2="750.8" stroke="#3a3a3a" stroke-width="0.9"/>
<text x="310.8" y="766.7" font-size="11.5" text-anchor="middle" fill="#222" textLength="6.6" lengthAdjust="spacingAndGlyphs">5</text>
<text x="212.4" y="788.6" font-size="14.2" text-anchor="middle" fill="#222" textLength="160.6" lengthAdjust="spacingAndGlyphs">Number of MvN restraints</text>
<text x="11.9" y="585.2" font-size="14.2" text-anchor="middle" fill="#222" textLength="79.1" lengthAdjust="spacingAndGlyphs" transform="rotate(-90 11.9 585.2)">DockQ score</text>
<rect x="62" y="432.7" width="224.5" height="44.3" rx="1" fill="#fff" fill-opacity="0.85" stroke="#dcdcdc" stroke-width="0.9"/>
<circle cx="71" cy="443.8" r="2.0" fill="#e03a3c"/>
<text x="82.8" y="448.7" font-size="14.2" text-anchor="start" fill="#222" textLength="87.7" lengthAdjust="spacingAndGlyphs">Top1 structure</text>
<circle cx="71" cy="463.3" r="2.0" fill="#3f8bc8"/>
<text x="82.8" y="468.2" font-size="14.2" text-anchor="start" fill="#222" textLength="193.8" lengthAdjust="spacingAndGlyphs">Best structure of all candidates</text>
<text x="-0.6" y="421" font-size="19" text-anchor="start" fill="#000" textLength="11.6" lengthAdjust="spacingAndGlyphs" font-weight="bold" stroke="#000" stroke-width="0.5">c</text>
<path d="M498.9 317.5L498.9 316.8L499 316L499.1 315.3L499.2 314.5L499.3 313.8L499.5 313L499.6 312.3L499.8 311.5L500 310.8L500.2 310L500.3 309.3L500.5 308.5L500.6 307.8L500.8 307L500.9 306.3L501 305.5L501.1 304.8L501.1 304L501.2 303.3L501.2 302.5L501.2 301.8L501.2 301L501.2 300.3L501.2 299.5L501.2 298.8L501.2 298L501.2 297.3L501.2 296.5L501.2 295.8L501.2 295L501.2 294.3L501.2 293.5L501.2 292.8L501.2 292L501.2 291.3L501.2 290.6L501.2 289.8L501.2 289.1L501.2 288.3L501.2 287.6L501.2 286.8L501.2 286.1L501.2 285.3L501.2 284.6L501.2 283.8L501.2 283.1L501.2 282.3L501.2 281.6L501.2 280.8L501.2 280.1L501.2 279.3L501.2 278.6L501.2 277.8L501.2 277.1L501.2 276.3L501.2 275.6L501.2 274.8L501.2 274.1L501.2 273.3L501.2 272.6L501.2 271.8L501.2 271.1L501.2 270.3L501.2 269.6L501.2 268.8L501.2 268.1L501.2 267.3L501.2 266.6L501.2 265.8L501.2 265.1L501.2 264.4L501.2 263.6L501.2 262.9L501.2 262.1L501.2 261.4L501.2 260.6L501.2 259.9L501.2 259.1L501.2 258.4L501.2 257.6L501.2 256.9L501.2 256.1L501.2 255.4L501.2 254.6L501.2 253.9L501.2 253.1L501.2 252.4L501.2 251.6L501.2 250.9L501.2 250.1L501.2 249.4L501.2 248.6L501.2 247.9L501.2 247.1L501.2 246.4L501.2 245.6L501.2 244.9L501.2 244.1L501.2 243.4L501.2 242.6L501.2 241.9L501.2 241.1L501.2 240.4L501.2 239.6L501.2 238.9L501.2 238.2L501.2 237.4L501.2 236.7L501.2 235.9L501.2 235.2L501.2 234.4L501.2 233.7L501.2 232.9L501.2 232.2L501.2 231.4L501.2 230.7L501.2 229.9L501.1 229.2L501.1 228.4L501 227.7L500.8 226.9L500.7 226.2L500.5 225.4L500.3 224.7L500.1 223.9L499.8 223.2L499.4 222.4L499.1 221.7L498.7 220.9L498.3 220.2L497.9 219.4L497.4 218.7L497 217.9L496.6 217.2L496.2 216.4L495.8 215.7L495.5 214.9L495.2 214.2L495.1 213.4L494.9 212.7L494.9 211.9L494.9 211.2L495.1 210.5L495.2 209.7L495.5 209L495.8 208.2L496.2 207.5L496.6 206.7L497 206L497.4 205.2L497.9 204.5L498.3 203.7L498.7 203L499.1 202.2L499.4 201.5L499.8 200.7L500.1 200L500.3 199.2L500.5 198.5L500.7 197.7L500.8 197L501 196.2L501.1 195.5L501.1 194.7L501.2 194L501.2 193.2L501.2 192.5L501.2 191.7L501.2 191L501.2 190.2L501.2 189.5L501.2 188.7L501.2 188L501.2 187.2L501.2 186.5L501.2 185.7L501.2 185L501.2 184.3L501.2 183.5L501.2 182.8L501.2 182L501.2 181.3L501.2 180.5L501.2 179.8L501.2 179L501.2 178.3L501.2 177.5L501.2 176.8L501.2 176L501.2 175.3L501.2 174.5L501.2 173.8L501.2 173L501.2 172.3L501.2 171.5L501.2 170.8L501.2 170L501.2 169.3L501.2 168.5L501.2 167.8L501.2 167L501.2 166.3L501.2 165.5L501.2 164.8L501.2 164L501.2 163.3L501.2 162.5L501.2 161.8L501.2 161L501.2 160.3L501.2 159.5L501.2 158.8L501.2 158.1L501.2 157.3L501.2 156.6L501.2 155.8L501.2 155.1L501.2 154.3L501.2 153.6L501.2 152.8L501.2 152.1L501.2 151.3L501.2 150.6L501.2 149.8L501.2 149.1L501.2 148.3L501.2 147.6L501.2 146.8L501.2 146.1L501.2 145.3L501.2 144.6L501.2 143.8L501.2 143.1L501.2 142.3L501.2 141.6L501.2 140.8L501.2 140.1L501.2 139.3L501.2 138.6L501.2 137.8L501.2 137.1L501.2 136.3L501.2 135.6L501.2 134.8L501.2 134.1L501.2 133.3L501.2 132.6L501.2 131.9L501.2 131.1L501.2 130.4L501.2 129.6L501.2 128.9L501.2 128.1L501.2 127.4L501.2 126.6L501.2 125.9L501.2 125.1L501.2 124.4L501.1 123.6L501.1 122.9L501 122.1L500.9 121.4L500.8 120.6L500.7 119.9L500.5 119.1L500.4 118.4L500.2 117.6L500 116.9L499.8 116.1L499.6 115.4L499.4 114.6L499.1 113.9L498.9 113.1L498.7 112.4L498.4 111.6L498.2 110.9L498.1 110.1L497.9 109.4L497.8 108.6L497.7 107.9L497.6 107.1L497.6 106.4L505.2 106.4L505.2 107.1L505.1 107.9L505 108.6L504.9 109.4L504.7 110.1L504.6 110.9L504.4 111.6L504.1 112.4L503.9 113.1L503.7 113.9L503.4 114.6L503.2 115.4L503 116.1L502.8 116.9L502.6 117.6L502.4 118.4L502.3 119.1L502.1 119.9L502 120.6L501.9 121.4L501.8 122.1L501.7 122.9L501.7 123.6L501.6 124.4L501.6 125.1L501.5 125.9L501.5 126.6L501.5 127.4L501.5 128.1L501.5 128.9L501.5 129.6L501.5 130.4L501.5 131.1L501.5 131.9L501.5 132.6L501.5 133.3L501.5 134.1L501.5 134.8L501.5 135.6L501.5 136.3L501.5 137.1L501.5 137.8L501.5 138.6L501.5 139.3L501.5 140.1L501.5 140.8L501.5 141.6L501.5 142.3L501.5 143.1L501.5 143.8L501.5 144.6L501.5 145.3L501.5 146.1L501.5 146.8L501.5 147.6L501.5 148.3L501.5 149.1L501.5 149.8L501.5 150.6L501.5 151.3L501.5 152.1L501.5 152.8L501.5 153.6L501.5 154.3L501.5 155.1L501.5 155.8L501.5 156.6L501.5 157.3L501.5 158.1L501.5 158.8L501.5 159.5L501.5 160.3L501.5 161L501.5 161.8L501.5 162.5L501.5 163.3L501.5 164L501.5 164.8L501.5 165.5L501.5 166.3L501.5 167L501.5 167.8L501.5 168.5L501.5 169.3L501.5 170L501.5 170.8L501.5 171.5L501.5 172.3L501.5 173L501.5 173.8L501.5 174.5L501.5 175.3L501.5 176L501.5 176.8L501.5 177.5L501.5 178.3L501.5 179L501.5 179.8L501.5 180.5L501.5 181.3L501.5 182L501.5 182.8L501.5 183.5L501.5 184.3L501.5 185L501.5 185.7L501.5 186.5L501.5 187.2L501.5 188L501.5 188.7L501.5 189.5L501.5 190.2L501.5 191L501.5 191.7L501.5 192.5L501.5 193.2L501.6 194L501.7 194.7L501.7 195.5L501.8 196.2L502 197L502.1 197.7L502.3 198.5L502.5 199.2L502.7 200L503 200.7L503.4 201.5L503.7 202.2L504.1 203L504.5 203.7L504.9 204.5L505.4 205.2L505.8 206L506.2 206.7L506.6 207.5L507 208.2L507.3 209L507.6 209.7L507.7 210.5L507.9 211.2L507.9 211.9L507.9 212.7L507.7 213.4L507.6 214.2L507.3 214.9L507 215.7L506.6 216.4L506.2 217.2L505.8 217.9L505.4 218.7L504.9 219.4L504.5 220.2L504.1 220.9L503.7 221.7L503.4 222.4L503 223.2L502.7 223.9L502.5 224.7L502.3 225.4L502.1 226.2L502 226.9L501.8 227.7L501.7 228.4L501.7 229.2L501.6 229.9L501.5 230.7L501.5 231.4L501.5 232.2L501.5 232.9L501.5 233.7L501.5 234.4L501.5 235.2L501.5 235.9L501.5 236.7L501.5 237.4L501.5 238.2L501.5 238.9L501.5 239.6L501.5 240.4L501.5 241.1L501.5 241.9L501.5 242.6L501.5 243.4L501.5 244.1L501.5 244.9L501.5 245.6L501.5 246.4L501.5 247.1L501.5 247.9L501.5 248.6L501.5 249.4L501.5 250.1L501.5 250.9L501.5 251.6L501.5 252.4L501.5 253.1L501.5 253.9L501.5 254.6L501.5 255.4L501.5 256.1L501.5 256.9L501.5 257.6L501.5 258.4L501.5 259.1L501.5 259.9L501.5 260.6L501.5 261.4L501.5 262.1L501.5 262.9L501.5 263.6L501.5 264.4L501.5 265.1L501.5 265.8L501.5 266.6L501.5 267.3L501.5 268.1L501.5 268.8L501.5 269.6L501.5 270.3L501.5 271.1L501.5 271.8L501.5 272.6L501.5 273.3L501.5 274.1L501.5 274.8L501.5 275.6L501.5 276.3L501.5 277.1L501.5 277.8L501.5 278.6L501.5 279.3L501.5 280.1L501.5 280.8L501.5 281.6L501.5 282.3L501.5 283.1L501.5 283.8L501.5 284.6L501.5 285.3L501.5 286.1L501.5 286.8L501.5 287.6L501.5 288.3L501.5 289.1L501.5 289.8L501.5 290.6L501.5 291.3L501.5 292L501.5 292.8L501.5 293.5L501.5 294.3L501.5 295L501.5 295.8L501.5 296.5L501.5 297.3L501.5 298L501.5 298.8L501.5 299.5L501.5 300.3L501.5 301L501.5 301.8L501.6 302.5L501.6 303.3L501.7 304L501.7 304.8L501.8 305.5L501.9 306.3L502 307L502.2 307.8L502.3 308.5L502.5 309.3L502.6 310L502.8 310.8L503 311.5L503.2 312.3L503.3 313L503.5 313.8L503.6 314.5L503.7 315.3L503.8 316L503.9 316.8L503.9 317.5Z" fill="#cb3335" stroke="#383838" stroke-width="0.6" stroke-linejoin="round"/>
<path d="M530.8 317.5L530.8 316.8L530.8 316L530.9 315.3L531 314.5L531 313.8L531.1 313L531.2 312.3L531.3 311.5L531.4 310.8L531.6 310L531.7 309.3L531.8 308.5L531.8 307.8L531.9 307L532 306.3L532 305.5L532.1 304.8L532.1 304L532.1 303.3L532.1 302.5L532.1 301.8L532.1 301L532.1 300.3L532.1 299.5L532.1 298.8L532.1 298L532.1 297.3L532.1 296.5L532.1 295.8L532.1 295L532.1 294.3L532.1 293.5L532.1 292.8L532.1 292L532.1 291.3L532.1 290.6L532.1 289.8L532.1 289.1L532.1 288.3L532.1 287.6L532.1 286.8L532.1 286.1L532.1 285.3L532.1 284.6L532.1 283.8L532.1 283.1L532.1 282.3L532.1 281.6L532.1 280.8L532.1 280.1L532.1 279.3L532.1 278.6L532.1 277.8L532.1 277.1L532.1 276.3L532.1 275.6L532.1 274.8L532.1 274.1L532.1 273.3L532.1 272.6L532.1 271.8L532.1 271.1L532.1 270.3L532.1 269.6L532.1 268.8L532.1 268.1L532.1 267.3L532.1 266.6L532.1 265.8L532.1 265.1L532.1 264.4L532.1 263.6L532.1 262.9L532.1 262.1L532.1 261.4L532.1 260.6L532.1 259.9L532.1 259.1L532.1 258.4L532.1 257.6L532.1 256.9L532.1 256.1L532.1 255.4L532.1 254.6L532.1 253.9L532.1 253.1L532.1 252.4L532.1 251.6L532.1 250.9L532.1 250.1L532.1 249.4L532.1 248.6L532.1 247.9L532.1 247.1L532.1 246.4L532.1 245.6L532.1 244.9L532.1 244.1L532.1 243.4L532.1 242.6L532.1 241.9L532.1 241.1L532.1 240.4L532.1 239.6L532.1 238.9L532.1 238.2L532.1 237.4L532.1 236.7L532.1 235.9L532.1 235.2L532.1 234.4L532.1 233.7L532.1 232.9L532.1 232.2L532.1 231.4L532.1 230.7L532.1 229.9L532.1 229.2L532.1 228.4L532.1 227.7L532.1 226.9L532.1 226.2L532.1 225.4L532 224.7L531.9 223.9L531.8 223.2L531.7 222.4L531.6 221.7L531.4 220.9L531.3 220.2L531.1 219.4L530.9 218.7L530.8 217.9L530.6 217.2L530.4 216.4L530.3 215.7L530.2 214.9L530 214.2L530 213.4L529.9 212.7L529.9 211.9L529.9 211.2L530 210.5L530 209.7L530.2 209L530.3 208.2L530.4 207.5L530.6 206.7L530.8 206L530.9 205.2L531.1 204.5L531.3 203.7L531.4 203L531.6 202.2L531.7 201.5L531.8 200.7L531.9 200L532 199.2L532.1 198.5L532.1 197.7L532.1 197L532.1 196.2L532.1 195.5L532.1 194.7L532.1 194L532.1 193.2L532.1 192.5L532.1 191.7L532.1 191L532.1 190.2L532.1 189.5L532.1 188.7L532.1 188L532.1 187.2L532.1 186.5L532.1 185.7L532.1 185L532.1 184.3L532.1 183.5L532.1 182.8L532.1 182L532.1 181.3L532.1 180.5L532.1 179.8L532.1 179L532.1 178.3L532.1 177.5L532.1 176.8L532.1 176L532.1 175.3L532.1 174.5L532.1 173.8L532.1 173L532.1 172.3L532.1 171.5L532.1 170.8L532.1 170L532.1 169.3L532.1 168.5L532.1 167.8L532.1 167L532.1 166.3L532.1 165.5L532.1 164.8L532.1 164L532.1 163.3L532.1 162.5L532.1 161.8L532.1 161L532.1 160.3L532.1 159.5L532.1 158.8L532.1 158.1L532.1 157.3L532.1 156.6L532.1 155.8L532.1 155.1L532.1 154.3L532.1 153.6L532.1 152.8L532.1 152.1L532.1 151.3L532.1 150.6L532.1 149.8L532.1 149.1L532.1 148.3L532.1 147.6L532.1 146.8L532.1 146.1L532.1 145.3L532.1 144.6L532.1 143.8L532.1 143.1L532.1 142.3L532.1 141.6L532.1 140.8L532.1 140.1L532.1 139.3L532.1 138.6L532.1 137.8L532.1 137.1L532.1 136.3L532.1 135.6L532.1 134.8L532.1 134.1L532.1 133.3L532.1 132.6L532.1 131.9L532.1 131.1L532.1 130.4L532.1 129.6L532.1 128.9L532.1 128.1L532.1 127.4L532.1 126.6L532 125.9L532 125.1L531.9 124.4L531.9 123.6L531.8 122.9L531.7 122.1L531.5 121.4L531.4 120.6L531.1 119.9L530.9 119.1L530.6 118.4L530.2 117.6L529.7 116.9L529.1 116.1L528.5 115.4L527.7 114.6L526.8 113.9L525.9 113.1L524.9 112.4L523.9 111.6L522.9 110.9L522 110.1L521.1 109.4L520.4 108.6L519.9 107.9L519.5 107.1L519.4 106.4L545.2 106.4L545.1 107.1L544.7 107.9L544.2 108.6L543.5 109.4L542.6 110.1L541.7 110.9L540.7 111.6L539.7 112.4L538.7 113.1L537.8 113.9L536.9 114.6L536.1 115.4L535.5 116.1L534.9 116.9L534.4 117.6L534 118.4L533.7 119.1L533.5 119.9L533.2 120.6L533.1 121.4L532.9 122.1L532.8 122.9L532.7 123.6L532.7 124.4L532.6 125.1L532.6 125.9L532.5 126.6L532.5 127.4L532.4 128.1L532.4 128.9L532.4 129.6L532.4 130.4L532.4 131.1L532.4 131.9L532.4 132.6L532.4 133.3L532.4 134.1L532.4 134.8L532.4 135.6L532.4 136.3L532.4 137.1L532.4 137.8L532.4 138.6L532.4 139.3L532.4 140.1L532.4 140.8L532.4 141.6L532.4 142.3L532.4 143.1L532.4 143.8L532.4 144.6L532.4 145.3L532.4 146.1L532.4 146.8L532.4 147.6L532.4 148.3L532.4 149.1L532.4 149.8L532.4 150.6L532.4 151.3L532.4 152.1L532.4 152.8L532.4 153.6L532.4 154.3L532.4 155.1L532.4 155.8L532.4 156.6L532.4 157.3L532.4 158.1L532.4 158.8L532.4 159.5L532.4 160.3L532.4 161L532.4 161.8L532.4 162.5L532.4 163.3L532.4 164L532.4 164.8L532.4 165.5L532.4 166.3L532.4 167L532.4 167.8L532.4 168.5L532.4 169.3L532.4 170L532.4 170.8L532.4 171.5L532.4 172.3L532.4 173L532.4 173.8L532.4 174.5L532.4 175.3L532.4 176L532.4 176.8L532.4 177.5L532.4 178.3L532.4 179L532.4 179.8L532.4 180.5L532.4 181.3L532.4 182L532.4 182.8L532.4 183.5L532.4 184.3L532.4 185L532.4 185.7L532.4 186.5L532.4 187.2L532.4 188L532.4 188.7L532.4 189.5L532.4 190.2L532.4 191L532.4 191.7L532.4 192.5L532.4 193.2L532.4 194L532.4 194.7L532.4 195.5L532.4 196.2L532.4 197L532.5 197.7L532.5 198.5L532.6 199.2L532.7 200L532.8 200.7L532.9 201.5L533 202.2L533.2 203L533.3 203.7L533.5 204.5L533.7 205.2L533.8 206L534 206.7L534.2 207.5L534.3 208.2L534.4 209L534.6 209.7L534.6 210.5L534.7 211.2L534.7 211.9L534.7 212.7L534.6 213.4L534.6 214.2L534.4 214.9L534.3 215.7L534.2 216.4L534 217.2L533.8 217.9L533.7 218.7L533.5 219.4L533.3 220.2L533.2 220.9L533 221.7L532.9 222.4L532.8 223.2L532.7 223.9L532.6 224.7L532.5 225.4L532.5 226.2L532.4 226.9L532.4 227.7L532.4 228.4L532.4 229.2L532.4 229.9L532.4 230.7L532.4 231.4L532.4 232.2L532.4 232.9L532.4 233.7L532.4 234.4L532.4 235.2L532.4 235.9L532.4 236.7L532.4 237.4L532.4 238.2L532.4 238.9L532.4 239.6L532.4 240.4L532.4 241.1L532.4 241.9L532.4 242.6L532.4 243.4L532.4 244.1L532.4 244.9L532.4 245.6L532.4 246.4L532.4 247.1L532.4 247.9L532.4 248.6L532.4 249.4L532.4 250.1L532.4 250.9L532.4 251.6L532.4 252.4L532.4 253.1L532.4 253.9L532.4 254.6L532.4 255.4L532.4 256.1L532.4 256.9L532.4 257.6L532.4 258.4L532.4 259.1L532.4 259.9L532.4 260.6L532.4 261.4L532.4 262.1L532.4 262.9L532.4 263.6L532.4 264.4L532.4 265.1L532.4 265.8L532.4 266.6L532.4 267.3L532.4 268.1L532.4 268.8L532.4 269.6L532.4 270.3L532.4 271.1L532.4 271.8L532.4 272.6L532.4 273.3L532.4 274.1L532.4 274.8L532.4 275.6L532.4 276.3L532.4 277.1L532.4 277.8L532.4 278.6L532.4 279.3L532.4 280.1L532.4 280.8L532.4 281.6L532.4 282.3L532.4 283.1L532.4 283.8L532.4 284.6L532.4 285.3L532.4 286.1L532.4 286.8L532.4 287.6L532.4 288.3L532.4 289.1L532.4 289.8L532.4 290.6L532.4 291.3L532.4 292L532.4 292.8L532.4 293.5L532.4 294.3L532.4 295L532.4 295.8L532.4 296.5L532.4 297.3L532.4 298L532.4 298.8L532.4 299.5L532.4 300.3L532.4 301L532.4 301.8L532.4 302.5L532.4 303.3L532.5 304L532.5 304.8L532.6 305.5L532.6 306.3L532.7 307L532.8 307.8L532.8 308.5L532.9 309.3L533 310L533.2 310.8L533.3 311.5L533.4 312.3L533.5 313L533.6 313.8L533.6 314.5L533.7 315.3L533.8 316L533.8 316.8L533.8 317.5Z" fill="#3274a1" stroke="#383838" stroke-width="0.6" stroke-linejoin="round"/>
<path d="M592.9 317.5L592.9 316.8L592.9 316L593 315.3L593.1 314.5L593.2 313.8L593.3 313L593.4 312.3L593.5 311.5L593.6 310.8L593.7 310L593.8 309.3L593.9 308.5L594 307.8L594.1 307L594.2 306.3L594.2 305.5L594.3 304.8L594.3 304L594.4 303.3L594.4 302.5L594.4 301.8L594.4 301L594.4 300.3L594.4 299.5L594.4 298.8L594.4 298L594.4 297.3L594.4 296.5L594.4 295.8L594.4 295L594.4 294.3L594.4 293.5L594.4 292.8L594.4 292L594.4 291.3L594.4 290.6L594.4 289.8L594.4 289.1L594.4 288.3L594.4 287.6L594.4 286.8L594.4 286.1L594.4 285.3L594.4 284.6L594.4 283.8L594.4 283.1L594.4 282.3L594.4 281.6L594.4 280.8L594.4 280.1L594.4 279.3L594.4 278.6L594.4 277.8L594.4 277.1L594.4 276.3L594.4 275.6L594.4 274.8L594.4 274.1L594.4 273.3L594.4 272.6L594.4 271.8L594.4 271.1L594.4 270.3L594.4 269.6L594.4 268.8L594.4 268.1L594.4 267.3L594.4 266.6L594.4 265.8L594.4 265.1L594.4 264.4L594.4 263.6L594.4 262.9L594.4 262.1L594.4 261.4L594.3 260.6L594.3 259.9L594.2 259.1L594.2 258.4L594.1 257.6L594 256.9L593.9 256.1L593.8 255.4L593.7 254.6L593.6 253.9L593.5 253.1L593.4 252.4L593.2 251.6L593.1 250.9L593.1 250.1L593 249.4L592.9 248.6L592.9 247.9L592.9 247.1L592.9 246.4L592.9 245.6L593 244.9L593.1 244.1L593.2 243.4L593.3 242.6L593.4 241.9L593.5 241.1L593.6 240.4L593.7 239.6L593.8 238.9L593.9 238.2L594 237.4L594.1 236.7L594.2 235.9L594.2 235.2L594.3 234.4L594.3 233.7L594.4 232.9L594.4 232.2L594.4 231.4L594.4 230.7L594.4 229.9L594.4 229.2L594.4 228.4L594.4 227.7L594.4 226.9L594.4 226.2L594.4 225.4L594.4 224.7L594.4 223.9L594.4 223.2L594.4 222.4L594.4 221.7L594.4 220.9L594.4 220.2L594.4 219.4L594.4 218.7L594.4 217.9L594.4 217.2L594.4 216.4L594.4 215.7L594.4 214.9L594.4 214.2L594.4 213.4L594.4 212.7L594.4 211.9L594.4 211.2L594.4 210.5L594.4 209.7L594.4 209L594.4 208.2L594.4 207.5L594.4 206.7L594.4 206L594.4 205.2L594.4 204.5L594.4 203.7L594.4 203L594.4 202.2L594.4 201.5L594.4 200.7L594.4 200L594.4 199.2L594.4 198.5L594.4 197.7L594.4 197L594.4 196.2L594.4 195.5L594.4 194.7L594.4 194L594.4 193.2L594.3 192.5L594.2 191.7L594.2 191L594.1 190.2L593.9 189.5L593.8 188.7L593.6 188L593.4 187.2L593.2 186.5L592.9 185.7L592.6 185L592.3 184.3L592 183.5L591.7 182.8L591.4 182L591.1 181.3L590.8 180.5L590.6 179.8L590.4 179L590.2 178.3L590.1 177.5L590.1 176.8L590.1 176L590.2 175.3L590.4 174.5L590.5 173.8L590.8 173L591.1 172.3L591.3 171.5L591.7 170.8L592 170L592.3 169.3L592.6 168.5L592.9 167.8L593.1 167L593.4 166.3L593.6 165.5L593.7 164.8L593.9 164L594 163.3L594.1 162.5L594.2 161.8L594.3 161L594.3 160.3L594.4 159.5L594.4 158.8L594.4 158.1L594.4 157.3L594.4 156.6L594.4 155.8L594.4 155.1L594.4 154.3L594.4 153.6L594.4 152.8L594.4 152.1L594.4 151.3L594.4 150.6L594.4 149.8L594.4 149.1L594.4 148.3L594.4 147.6L594.4 146.8L594.4 146.1L594.4 145.3L594.4 144.6L594.4 143.8L594.4 143.1L594.4 142.3L594.4 141.6L594.4 140.8L594.4 140.1L594.4 139.3L594.4 138.6L594.4 137.8L594.4 137.1L594.4 136.3L594.4 135.6L594.4 134.8L594.4 134.1L594.4 133.3L594.4 132.6L594.4 131.9L594.4 131.1L594.4 130.4L594.4 129.6L594.4 128.9L594.4 128.1L594.4 127.4L594.4 126.6L594.4 125.9L594.4 125.1L594.4 124.4L594.3 123.6L594.2 122.9L594.1 122.1L594 121.4L593.9 120.6L593.7 119.9L593.5 119.1L593.2 118.4L592.9 117.6L592.5 116.9L592.1 116.1L591.7 115.4L591.2 114.6L590.7 113.9L590.1 113.1L589.6 112.4L589 111.6L588.5 110.9L588 110.1L587.6 109.4L587.3 108.6L587 107.9L586.9 107.1L586.8 106.4L602.2 106.4L602.1 107.1L602 107.9L601.7 108.6L601.4 109.4L601 110.1L600.5 110.9L600 111.6L599.4 112.4L598.9 113.1L598.3 113.9L597.8 114.6L597.3 115.4L596.9 116.1L596.5 116.9L596.1 117.6L595.8 118.4L595.5 119.1L595.3 119.9L595.1 120.6L595 121.4L594.9 122.1L594.8 122.9L594.7 123.6L594.6 124.4L594.6 125.1L594.6 125.9L594.6 126.6L594.6 127.4L594.6 128.1L594.6 128.9L594.6 129.6L594.6 130.4L594.6 131.1L594.6 131.9L594.6 132.6L594.6 133.3L594.6 134.1L594.6 134.8L594.6 135.6L594.6 136.3L594.6 137.1L594.6 137.8L594.6 138.6L594.6 139.3L594.6 140.1L594.6 140.8L594.6 141.6L594.6 142.3L594.6 143.1L594.6 143.8L594.6 144.6L594.6 145.3L594.6 146.1L594.6 146.8L594.6 147.6L594.6 148.3L594.6 149.1L594.6 149.8L594.6 150.6L594.6 151.3L594.6 152.1L594.6 152.8L594.6 153.6L594.6 154.3L594.6 155.1L594.6 155.8L594.6 156.6L594.6 157.3L594.6 158.1L594.6 158.8L594.6 159.5L594.7 160.3L594.7 161L594.8 161.8L594.9 162.5L595 163.3L595.1 164L595.3 164.8L595.4 165.5L595.6 166.3L595.9 167L596.1 167.8L596.4 168.5L596.7 169.3L597 170L597.3 170.8L597.7 171.5L597.9 172.3L598.2 173L598.5 173.8L598.6 174.5L598.8 175.3L598.9 176L598.9 176.8L598.9 177.5L598.8 178.3L598.6 179L598.4 179.8L598.2 180.5L597.9 181.3L597.6 182L597.3 182.8L597 183.5L596.7 184.3L596.4 185L596.1 185.7L595.8 186.5L595.6 187.2L595.4 188L595.2 188.7L595.1 189.5L594.9 190.2L594.8 191L594.8 191.7L594.7 192.5L594.6 193.2L594.6 194L594.6 194.7L594.6 195.5L594.6 196.2L594.6 197L594.6 197.7L594.6 198.5L594.6 199.2L594.6 200L594.6 200.7L594.6 201.5L594.6 202.2L594.6 203L594.6 203.7L594.6 204.5L594.6 205.2L594.6 206L594.6 206.7L594.6 207.5L594.6 208.2L594.6 209L594.6 209.7L594.6 210.5L594.6 211.2L594.6 211.9L594.6 212.7L594.6 213.4L594.6 214.2L594.6 214.9L594.6 215.7L594.6 216.4L594.6 217.2L594.6 217.9L594.6 218.7L594.6 219.4L594.6 220.2L594.6 220.9L594.6 221.7L594.6 222.4L594.6 223.2L594.6 223.9L594.6 224.7L594.6 225.4L594.6 226.2L594.6 226.9L594.6 227.7L594.6 228.4L594.6 229.2L594.6 229.9L594.6 230.7L594.6 231.4L594.6 232.2L594.6 232.9L594.7 233.7L594.7 234.4L594.8 235.2L594.8 235.9L594.9 236.7L595 237.4L595.1 238.2L595.2 238.9L595.3 239.6L595.4 240.4L595.5 241.1L595.6 241.9L595.7 242.6L595.8 243.4L595.9 244.1L596 244.9L596.1 245.6L596.1 246.4L596.1 247.1L596.1 247.9L596.1 248.6L596 249.4L595.9 250.1L595.9 250.9L595.8 251.6L595.6 252.4L595.5 253.1L595.4 253.9L595.3 254.6L595.2 255.4L595.1 256.1L595 256.9L594.9 257.6L594.8 258.4L594.8 259.1L594.7 259.9L594.7 260.6L594.6 261.4L594.6 262.1L594.6 262.9L594.6 263.6L594.6 264.4L594.6 265.1L594.6 265.8L594.6 266.6L594.6 267.3L594.6 268.1L594.6 268.8L594.6 269.6L594.6 270.3L594.6 271.1L594.6 271.8L594.6 272.6L594.6 273.3L594.6 274.1L594.6 274.8L594.6 275.6L594.6 276.3L594.6 277.1L594.6 277.8L594.6 278.6L594.6 279.3L594.6 280.1L594.6 280.8L594.6 281.6L594.6 282.3L594.6 283.1L594.6 283.8L594.6 284.6L594.6 285.3L594.6 286.1L594.6 286.8L594.6 287.6L594.6 288.3L594.6 289.1L594.6 289.8L594.6 290.6L594.6 291.3L594.6 292L594.6 292.8L594.6 293.5L594.6 294.3L594.6 295L594.6 295.8L594.6 296.5L594.6 297.3L594.6 298L594.6 298.8L594.6 299.5L594.6 300.3L594.6 301L594.6 301.8L594.6 302.5L594.6 303.3L594.7 304L594.7 304.8L594.8 305.5L594.8 306.3L594.9 307L595 307.8L595.1 308.5L595.2 309.3L595.3 310L595.4 310.8L595.5 311.5L595.6 312.3L595.7 313L595.8 313.8L595.9 314.5L596 315.3L596.1 316L596.1 316.8L596.1 317.5Z" fill="#cb3335" stroke="#383838" stroke-width="0.6" stroke-linejoin="round"/>
<path d="M622.9 247.2L622.9 246.5L623 245.7L623.1 245L623.3 244.2L623.4 243.5L623.6 242.7L623.8 242L624 241.2L624.2 240.5L624.4 239.7L624.6 239L624.7 238.2L624.9 237.5L625 236.7L625.1 236L625.1 235.2L625.1 234.5L625.1 233.7L625.1 233L625.1 232.2L625.1 231.5L625.1 230.7L625.1 230L625.1 229.2L625.1 228.5L625.1 227.7L625.1 227L625.1 226.2L625.1 225.5L625.1 224.7L625.1 224L625.1 223.2L625.1 222.5L625.1 221.7L625.1 221L625.1 220.2L625.1 219.5L625.1 218.7L625.1 218L625.1 217.2L625.1 216.5L625.1 215.7L625.1 215L625.1 214.2L625.1 213.5L625.1 212.8L625.1 212L625.1 211.3L625.1 210.5L625.1 209.8L625.1 209L625.1 208.3L625.1 207.5L625.1 206.8L625.1 206L625.1 205.3L625.1 204.5L625.1 203.8L625.1 203L625.1 202.3L625.1 201.5L625.1 200.8L625.1 200L625.1 199.3L625.1 198.5L625.1 197.8L625.1 197L625.1 196.3L625.1 195.5L625.1 194.8L625.1 194L625.1 193.3L625.1 192.5L625.1 191.8L625 191L624.9 190.3L624.8 189.5L624.7 188.8L624.5 188L624.2 187.3L623.9 186.5L623.6 185.8L623.2 185L622.8 184.3L622.4 183.5L621.9 182.8L621.4 182L621 181.3L620.5 180.5L620.1 179.8L619.8 179L619.5 178.3L619.4 177.6L619.3 176.8L619.3 176.1L619.5 175.3L619.7 174.6L620 173.8L620.4 173.1L620.8 172.3L621.3 171.6L621.8 170.8L622.3 170.1L622.7 169.3L623.1 168.6L623.5 167.8L623.9 167.1L624.2 166.3L624.4 165.6L624.6 164.8L624.8 164.1L624.9 163.3L625 162.6L625.1 161.8L625.1 161.1L625.1 160.3L625.1 159.6L625.1 158.8L625.1 158.1L625.1 157.3L625.1 156.6L625.1 155.8L625.1 155.1L625.1 154.3L625.1 153.6L625.1 152.8L625.1 152.1L625.1 151.3L625.1 150.6L625.1 149.8L625.1 149.1L625.1 148.3L625.1 147.6L625.1 146.8L625.1 146.1L625.1 145.3L625.1 144.6L625.1 143.8L625.1 143.1L625.1 142.3L625.1 141.6L625.1 140.9L625.1 140.1L625.1 139.4L625.1 138.6L625.1 137.9L625.1 137.1L625.1 136.4L625.1 135.6L625.1 134.9L625.1 134.1L625.1 133.4L625.1 132.6L625.1 131.9L625.1 131.1L625.1 130.4L625.1 129.6L625.1 128.9L625.1 128.1L625.1 127.4L625.1 126.6L625.1 125.9L625.1 125.1L625.1 124.4L625.1 123.6L625.1 122.9L625 122.1L624.9 121.4L624.8 120.6L624.6 119.9L624.4 119.1L624.1 118.4L623.7 117.6L623.2 116.9L622.7 116.1L622 115.4L621.3 114.6L620.5 113.9L619.7 113.1L618.8 112.4L617.9 111.6L617 110.9L616.2 110.1L615.5 109.4L614.8 108.6L614.4 107.9L614.1 107.1L614 106.4L636.6 106.4L636.5 107.1L636.2 107.9L635.8 108.6L635.1 109.4L634.4 110.1L633.6 110.9L632.7 111.6L631.8 112.4L630.9 113.1L630.1 113.9L629.3 114.6L628.6 115.4L627.9 116.1L627.4 116.9L626.9 117.6L626.5 118.4L626.2 119.1L626 119.9L625.8 120.6L625.7 121.4L625.6 122.1L625.5 122.9L625.4 123.6L625.4 124.4L625.4 125.1L625.4 125.9L625.4 126.6L625.4 127.4L625.4 128.1L625.4 128.9L625.4 129.6L625.4 130.4L625.4 131.1L625.4 131.9L625.4 132.6L625.4 133.4L625.4 134.1L625.4 134.9L625.4 135.6L625.4 136.4L625.4 137.1L625.4 137.9L625.4 138.6L625.4 139.4L625.4 140.1L625.4 140.9L625.4 141.6L625.4 142.3L625.4 143.1L625.4 143.8L625.4 144.6L625.4 145.3L625.4 146.1L625.4 146.8L625.4 147.6L625.4 148.3L625.4 149.1L625.4 149.8L625.4 150.6L625.4 151.3L625.4 152.1L625.4 152.8L625.4 153.6L625.4 154.3L625.4 155.1L625.4 155.8L625.4 156.6L625.4 157.3L625.4 158.1L625.4 158.8L625.4 159.6L625.4 160.3L625.4 161.1L625.5 161.8L625.6 162.6L625.7 163.3L625.8 164.1L626 164.8L626.2 165.6L626.4 166.3L626.7 167.1L627.1 167.8L627.5 168.6L627.9 169.3L628.3 170.1L628.8 170.8L629.3 171.6L629.8 172.3L630.2 173.1L630.6 173.8L630.9 174.6L631.1 175.3L631.3 176.1L631.3 176.8L631.2 177.6L631.1 178.3L630.8 179L630.5 179.8L630.1 180.5L629.6 181.3L629.2 182L628.7 182.8L628.2 183.5L627.8 184.3L627.4 185L627 185.8L626.7 186.5L626.4 187.3L626.1 188L625.9 188.8L625.8 189.5L625.7 190.3L625.6 191L625.5 191.8L625.4 192.5L625.4 193.3L625.4 194L625.4 194.8L625.4 195.5L625.4 196.3L625.4 197L625.4 197.8L625.4 198.5L625.4 199.3L625.4 200L625.4 200.8L625.4 201.5L625.4 202.3L625.4 203L625.4 203.8L625.4 204.5L625.4 205.3L625.4 206L625.4 206.8L625.4 207.5L625.4 208.3L625.4 209L625.4 209.8L625.4 210.5L625.4 211.3L625.4 212L625.4 212.8L625.4 213.5L625.4 214.2L625.4 215L625.4 215.7L625.4 216.5L625.4 217.2L625.4 218L625.4 218.7L625.4 219.5L625.4 220.2L625.4 221L625.4 221.7L625.4 222.5L625.4 223.2L625.4 224L625.4 224.7L625.4 225.5L625.4 226.2L625.4 227L625.4 227.7L625.4 228.5L625.4 229.2L625.4 230L625.4 230.7L625.4 231.5L625.4 232.2L625.4 233L625.4 233.7L625.4 234.5L625.5 235.2L625.5 236L625.6 236.7L625.7 237.5L625.9 238.2L626 239L626.2 239.7L626.4 240.5L626.6 241.2L626.8 242L627 242.7L627.2 243.5L627.3 244.2L627.5 245L627.6 245.7L627.7 246.5L627.7 247.2Z" fill="#3274a1" stroke="#383838" stroke-width="0.6" stroke-linejoin="round"/>
<path d="M685.9 275.3L685.9 274.5L686 273.8L686 273L686.1 272.3L686.2 271.5L686.3 270.8L686.4 270L686.5 269.3L686.6 268.6L686.7 267.8L686.8 267.1L686.9 266.3L687 265.6L687 264.8L687.1 264.1L687.1 263.3L687.1 262.6L687.1 261.8L687.1 261.1L687.1 260.3L687.1 259.6L687.1 258.8L687.1 258.1L687.1 257.3L687.1 256.6L687.1 255.9L687.1 255.1L687.1 254.4L687.1 253.6L687.1 252.9L687.1 252.1L687.1 251.4L687.1 250.6L687.1 249.9L687.1 249.1L687.1 248.4L687.1 247.6L687.1 246.9L687 246.1L687 245.4L686.9 244.6L686.8 243.9L686.7 243.1L686.6 242.4L686.4 241.7L686.3 240.9L686.1 240.2L686 239.4L685.8 238.7L685.6 237.9L685.5 237.2L685.3 236.4L685.2 235.7L685.1 234.9L685 234.2L685 233.4L685 232.7L685 231.9L685.1 231.2L685.2 230.4L685.3 229.7L685.5 229L685.6 228.2L685.8 227.5L686 226.7L686.1 226L686.3 225.2L686.4 224.5L686.6 223.7L686.7 223L686.8 222.2L686.9 221.5L687 220.7L687 220L687.1 219.2L687.1 218.5L687.1 217.7L687.1 217L687.1 216.2L687.1 215.5L687.1 214.8L687.1 214L687.1 213.3L687.1 212.5L687.1 211.8L687.1 211L687.1 210.3L687.1 209.5L687.1 208.8L687.1 208L687.1 207.3L687.1 206.5L687.1 205.8L687.1 205L687 204.3L687 203.5L686.9 202.8L686.8 202L686.7 201.3L686.6 200.6L686.5 199.8L686.4 199.1L686.2 198.3L686 197.6L685.9 196.8L685.7 196.1L685.6 195.3L685.4 194.6L685.3 193.8L685.2 193.1L685.1 192.3L685 191.6L685 190.8L685 190.1L685.1 189.3L685.2 188.6L685.3 187.9L685.4 187.1L685.6 186.4L685.7 185.6L685.9 184.9L686 184.1L686.2 183.4L686.4 182.6L686.5 181.9L686.6 181.1L686.7 180.4L686.8 179.6L686.9 178.9L687 178.1L687 177.4L687.1 176.6L687.1 175.9L687.1 175.1L687.1 174.4L687.1 173.7L687.1 172.9L687.1 172.2L687.1 171.4L687.1 170.7L687.1 169.9L687.1 169.2L687.1 168.4L687.1 167.7L687.1 166.9L687.1 166.2L687.1 165.4L687.1 164.7L687.1 163.9L687 163.2L686.9 162.4L686.8 161.7L686.7 160.9L686.6 160.2L686.4 159.5L686.2 158.7L686 158L685.7 157.2L685.4 156.5L685.1 155.7L684.8 155L684.5 154.2L684.1 153.5L683.8 152.7L683.5 152L683.3 151.2L683.1 150.5L683 149.7L682.9 149L682.9 148.2L683 147.5L683.1 146.8L683.3 146L683.5 145.3L683.8 144.5L684.1 143.8L684.5 143L684.8 142.3L685.1 141.5L685.4 140.8L685.7 140L686 139.3L686.2 138.5L686.4 137.8L686.6 137L686.7 136.3L686.8 135.5L686.9 134.8L687 134L687.1 133.3L687.1 132.6L687.1 131.8L687.1 131.1L687.1 130.3L687.1 129.6L687.1 128.8L687.1 128.1L687.1 127.3L687.1 126.6L687.1 125.8L687.1 125.1L687.1 124.3L687.1 123.6L687 122.8L686.9 122.1L686.9 121.3L686.7 120.6L686.6 119.9L686.4 119.1L686.1 118.4L685.8 117.6L685.4 116.9L685 116.1L684.5 115.4L684 114.6L683.4 113.9L682.8 113.1L682.1 112.4L681.5 111.6L680.8 110.9L680.2 110.1L679.7 109.4L679.3 108.6L679 107.9L678.8 107.1L678.7 106.4L695.7 106.4L695.6 107.1L695.4 107.9L695.1 108.6L694.7 109.4L694.2 110.1L693.6 110.9L692.9 111.6L692.3 112.4L691.6 113.1L691 113.9L690.4 114.6L689.9 115.4L689.4 116.1L689 116.9L688.6 117.6L688.3 118.4L688 119.1L687.8 119.9L687.7 120.6L687.5 121.3L687.5 122.1L687.4 122.8L687.4 123.6L687.4 124.3L687.4 125.1L687.4 125.8L687.4 126.6L687.4 127.3L687.4 128.1L687.4 128.8L687.4 129.6L687.4 130.3L687.4 131.1L687.4 131.8L687.4 132.6L687.4 133.3L687.4 134L687.5 134.8L687.6 135.5L687.7 136.3L687.8 137L688 137.8L688.2 138.5L688.4 139.3L688.7 140L689 140.8L689.3 141.5L689.6 142.3L689.9 143L690.3 143.8L690.6 144.5L690.9 145.3L691.1 146L691.3 146.8L691.4 147.5L691.5 148.2L691.5 149L691.4 149.7L691.3 150.5L691.1 151.2L690.9 152L690.6 152.7L690.3 153.5L689.9 154.2L689.6 155L689.3 155.7L689 156.5L688.7 157.2L688.4 158L688.2 158.7L688 159.5L687.8 160.2L687.7 160.9L687.6 161.7L687.5 162.4L687.4 163.2L687.4 163.9L687.4 164.7L687.4 165.4L687.4 166.2L687.4 166.9L687.4 167.7L687.4 168.4L687.4 169.2L687.4 169.9L687.4 170.7L687.4 171.4L687.4 172.2L687.4 172.9L687.4 173.7L687.4 174.4L687.4 175.1L687.4 175.9L687.4 176.6L687.4 177.4L687.4 178.1L687.5 178.9L687.6 179.6L687.7 180.4L687.8 181.1L687.9 181.9L688 182.6L688.2 183.4L688.4 184.1L688.5 184.9L688.7 185.6L688.8 186.4L689 187.1L689.1 187.9L689.2 188.6L689.3 189.3L689.4 190.1L689.4 190.8L689.4 191.6L689.3 192.3L689.2 193.1L689.1 193.8L689 194.6L688.8 195.3L688.7 196.1L688.5 196.8L688.4 197.6L688.2 198.3L688 199.1L687.9 199.8L687.8 200.6L687.7 201.3L687.6 202L687.5 202.8L687.4 203.5L687.4 204.3L687.4 205L687.4 205.8L687.4 206.5L687.4 207.3L687.4 208L687.4 208.8L687.4 209.5L687.4 210.3L687.4 211L687.4 211.8L687.4 212.5L687.4 213.3L687.4 214L687.4 214.8L687.4 215.5L687.4 216.2L687.4 217L687.4 217.7L687.4 218.5L687.4 219.2L687.4 220L687.4 220.7L687.5 221.5L687.6 222.2L687.7 223L687.8 223.7L688 224.5L688.1 225.2L688.3 226L688.4 226.7L688.6 227.5L688.8 228.2L688.9 229L689.1 229.7L689.2 230.4L689.3 231.2L689.4 231.9L689.4 232.7L689.4 233.4L689.4 234.2L689.3 234.9L689.2 235.7L689.1 236.4L688.9 237.2L688.8 237.9L688.6 238.7L688.4 239.4L688.3 240.2L688.1 240.9L688 241.7L687.8 242.4L687.7 243.1L687.6 243.9L687.5 244.6L687.4 245.4L687.4 246.1L687.4 246.9L687.4 247.6L687.4 248.4L687.4 249.1L687.4 249.9L687.4 250.6L687.4 251.4L687.4 252.1L687.4 252.9L687.4 253.6L687.4 254.4L687.4 255.1L687.4 255.9L687.4 256.6L687.4 257.3L687.4 258.1L687.4 258.8L687.4 259.6L687.4 260.3L687.4 261.1L687.4 261.8L687.4 262.6L687.4 263.3L687.4 264.1L687.4 264.8L687.4 265.6L687.5 266.3L687.6 267.1L687.7 267.8L687.8 268.6L687.9 269.3L688 270L688.1 270.8L688.2 271.5L688.3 272.3L688.4 273L688.4 273.8L688.5 274.5L688.5 275.3Z" fill="#cb3335" stroke="#383838" stroke-width="0.6" stroke-linejoin="round"/>
<path d="M717.2 233.1L717.2 232.3L717.3 231.6L717.3 230.8L717.4 230.1L717.5 229.3L717.6 228.6L717.7 227.8L717.8 227.1L717.9 226.3L718 225.6L718.1 224.8L718.1 224.1L718.1 223.3L718.1 222.6L718.1 221.8L718.1 221.1L718.1 220.3L718.1 219.6L718.1 218.8L718.1 218.1L718.1 217.3L718.1 216.6L718.1 215.8L718.1 215.1L718.1 214.3L718.1 213.6L718.1 212.8L718.1 212.1L718.1 211.3L718.1 210.6L718.1 209.8L718.1 209.1L718.1 208.3L718.1 207.6L718.1 206.8L718.1 206.1L718.1 205.3L718.1 204.6L718.1 203.8L718.1 203.1L718 202.3L717.9 201.6L717.8 200.8L717.7 200.1L717.5 199.3L717.3 198.6L717 197.8L716.7 197.1L716.3 196.3L715.9 195.6L715.6 194.8L715.2 194.1L714.9 193.3L714.7 192.6L714.5 191.8L714.4 191.1L714.4 190.3L714.5 189.6L714.7 188.8L715 188.1L715.3 187.3L715.7 186.6L716.1 185.8L716.4 185.1L716.8 184.3L717.1 183.6L717.3 182.8L717.6 182.1L717.7 181.3L717.9 180.6L718 179.8L718 179.1L718.1 178.3L718.1 177.6L718.1 176.8L718.1 176.1L718.1 175.4L718.1 174.6L718.1 173.9L718.1 173.1L718.1 172.4L718.1 171.6L718.1 170.9L718.1 170.1L718.1 169.4L718.1 168.6L718.1 167.9L718.1 167.1L718.1 166.4L718.1 165.6L718.1 164.9L718.1 164.1L718.1 163.4L718.1 162.6L718.1 161.9L718.1 161.1L718 160.4L717.9 159.6L717.8 158.9L717.7 158.1L717.5 157.4L717.2 156.6L717 155.9L716.6 155.1L716.2 154.4L715.8 153.6L715.4 152.9L715 152.1L714.7 151.4L714.4 150.6L714.1 149.9L714 149.1L714 148.4L714.1 147.6L714.3 146.9L714.6 146.1L714.9 145.4L715.3 144.6L715.7 143.9L716.1 143.1L716.5 142.4L716.8 141.6L717.2 140.9L717.4 140.1L717.6 139.4L717.8 138.6L717.9 137.9L718 137.1L718.1 136.4L718.1 135.6L718.1 134.9L718.1 134.1L718.1 133.4L718.1 132.6L718.1 131.9L718.1 131.1L718.1 130.4L718.1 129.6L718.1 128.9L718.1 128.1L718.1 127.4L718 126.6L718 125.9L717.9 125.1L717.9 124.4L717.8 123.6L717.8 122.9L717.7 122.1L717.6 121.4L717.5 120.6L717.4 119.9L717.2 119.1L717.1 118.4L716.9 117.6L716.7 116.9L716.4 116.1L716.1 115.4L715.6 114.6L715 113.9L714.1 113.1L712.9 112.4L711.4 111.6L709.7 110.9L707.8 110.1L705.7 109.4L703.8 108.6L702.3 107.9L701.3 107.1L700.9 106.4L735.5 106.4L735.1 107.1L734.1 107.9L732.6 108.6L730.7 109.4L728.6 110.1L726.7 110.9L725 111.6L723.5 112.4L722.3 113.1L721.4 113.9L720.8 114.6L720.3 115.4L720 116.1L719.7 116.9L719.5 117.6L719.3 118.4L719.2 119.1L719 119.9L718.9 120.6L718.8 121.4L718.7 122.1L718.6 122.9L718.6 123.6L718.5 124.4L718.5 125.1L718.4 125.9L718.4 126.6L718.4 127.4L718.4 128.1L718.4 128.9L718.4 129.6L718.4 130.4L718.4 131.1L718.4 131.9L718.4 132.6L718.4 133.4L718.4 134.1L718.4 134.9L718.4 135.6L718.4 136.4L718.4 137.1L718.5 137.9L718.6 138.6L718.8 139.4L719 140.1L719.2 140.9L719.6 141.6L719.9 142.4L720.3 143.1L720.7 143.9L721.1 144.6L721.5 145.4L721.8 146.1L722.1 146.9L722.3 147.6L722.4 148.4L722.4 149.1L722.3 149.9L722 150.6L721.7 151.4L721.4 152.1L721 152.9L720.6 153.6L720.2 154.4L719.8 155.1L719.4 155.9L719.2 156.6L718.9 157.4L718.7 158.1L718.6 158.9L718.5 159.6L718.4 160.4L718.4 161.1L718.4 161.9L718.4 162.6L718.4 163.4L718.4 164.1L718.4 164.9L718.4 165.6L718.4 166.4L718.4 167.1L718.4 167.9L718.4 168.6L718.4 169.4L718.4 170.1L718.4 170.9L718.4 171.6L718.4 172.4L718.4 173.1L718.4 173.9L718.4 174.6L718.4 175.4L718.4 176.1L718.4 176.8L718.4 177.6L718.4 178.3L718.4 179.1L718.4 179.8L718.5 180.6L718.7 181.3L718.8 182.1L719.1 182.8L719.3 183.6L719.6 184.3L720 185.1L720.3 185.8L720.7 186.6L721.1 187.3L721.4 188.1L721.7 188.8L721.9 189.6L722 190.3L722 191.1L721.9 191.8L721.7 192.6L721.5 193.3L721.2 194.1L720.8 194.8L720.5 195.6L720.1 196.3L719.7 197.1L719.4 197.8L719.1 198.6L718.9 199.3L718.7 200.1L718.6 200.8L718.5 201.6L718.4 202.3L718.4 203.1L718.4 203.8L718.4 204.6L718.4 205.3L718.4 206.1L718.4 206.8L718.4 207.6L718.4 208.3L718.4 209.1L718.4 209.8L718.4 210.6L718.4 211.3L718.4 212.1L718.4 212.8L718.4 213.6L718.4 214.3L718.4 215.1L718.4 215.8L718.4 216.6L718.4 217.3L718.4 218.1L718.4 218.8L718.4 219.6L718.4 220.3L718.4 221.1L718.4 221.8L718.4 222.6L718.4 223.3L718.4 224.1L718.4 224.8L718.4 225.6L718.5 226.3L718.6 227.1L718.7 227.8L718.8 228.6L718.9 229.3L719 230.1L719.1 230.8L719.1 231.6L719.2 232.3L719.2 233.1Z" fill="#3274a1" stroke="#383838" stroke-width="0.6" stroke-linejoin="round"/>
<rect x="455.2" y="22.4" width="309.3" height="316.1" fill="none" stroke="#3a3a3a" stroke-width="0.9"/>
<line x1="447.9" y1="317.5" x2="455.2" y2="317.5" stroke="#3a3a3a" stroke-width="0.9"/>
<text x="440.6" y="321.5" font-size="11.5" text-anchor="end" fill="#222" textLength="6.9" lengthAdjust="spacingAndGlyphs">0</text>
<line x1="447.9" y1="275.3" x2="455.2" y2="275.3" stroke="#3a3a3a" stroke-width="0.9"/>
<text x="440.6" y="279.3" font-size="11.5" text-anchor="end" fill="#222" textLength="16.8" lengthAdjust="spacingAndGlyphs">0.2</text>
<line x1="447.9" y1="233.1" x2="455.2" y2="233.1" stroke="#3a3a3a" stroke-width="0.9"/>
<text x="440.6" y="237.1" font-size="11.5" text-anchor="end" fill="#222" textLength="16.8" lengthAdjust="spacingAndGlyphs">0.4</text>
<line x1="447.9" y1="190.8" x2="455.2" y2="190.8" stroke="#3a3a3a" stroke-width="0.9"/>
<text x="440.6" y="194.8" font-size="11.5" text-anchor="end" fill="#222" textLength="16.8" lengthAdjust="spacingAndGlyphs">0.6</text>
<line x1="447.9" y1="148.6" x2="455.2" y2="148.6" stroke="#3a3a3a" stroke-width="0.9"/>
<text x="440.6" y="152.6" font-size="11.5" text-anchor="end" fill="#222" textLength="16.8" lengthAdjust="spacingAndGlyphs">0.8</text>
<line x1="447.9" y1="106.4" x2="455.2" y2="106.4" stroke="#3a3a3a" stroke-width="0.9"/>
<text x="440.6" y="110.4" font-size="11.5" text-anchor="end" fill="#222" textLength="16.8" lengthAdjust="spacingAndGlyphs">1.0</text>
<line x1="516.9" y1="338.5" x2="516.9" y2="345.8" stroke="#3a3a3a" stroke-width="0.9"/>
<text x="516.9" y="362" font-size="11.5" text-anchor="middle" fill="#222" textLength="6.6" lengthAdjust="spacingAndGlyphs">2</text>
<line x1="609.8" y1="338.5" x2="609.8" y2="345.8" stroke="#3a3a3a" stroke-width="0.9"/>
<text x="609.8" y="362" font-size="11.5" text-anchor="middle" fill="#222" textLength="6.6" lengthAdjust="spacingAndGlyphs">3</text>
<line x1="703" y1="338.5" x2="703" y2="345.8" stroke="#3a3a3a" stroke-width="0.9"/>
<text x="703" y="362" font-size="11.5" text-anchor="middle" fill="#222" textLength="6.6" lengthAdjust="spacingAndGlyphs">5</text>
<text x="611.7" y="383.9" font-size="14.2" text-anchor="middle" fill="#222" textLength="150.2" lengthAdjust="spacingAndGlyphs">Number of 1v1 restraints</text>
<text x="409.1" y="179.6" font-size="14.2" text-anchor="middle" fill="#222" textLength="157.8" lengthAdjust="spacingAndGlyphs" transform="rotate(-90 409.1 179.6)">Restraint satisfaction rate</text>
<rect x="459.9" y="28.6" width="225.6" height="44" rx="1" fill="#fff" fill-opacity="0.85" stroke="#dcdcdc" stroke-width="0.9"/>
<circle cx="469.3" cy="39.2" r="2.0" fill="#e03a3c"/>
<text x="481.4" y="44.1" font-size="14.2" text-anchor="start" fill="#222" textLength="87.7" lengthAdjust="spacingAndGlyphs">Top1 structure</text>
<circle cx="469.3" cy="58.8" r="2.0" fill="#3f8bc8"/>
<text x="481.4" y="63.7" font-size="14.2" text-anchor="start" fill="#222" textLength="193.8" lengthAdjust="spacingAndGlyphs">Best structure of all candidates</text>
<text x="395.4" y="16.2" font-size="19" text-anchor="start" fill="#000" textLength="12.4" lengthAdjust="spacingAndGlyphs" font-weight="bold" stroke="#000" stroke-width="0.5">b</text>
<path d="M488.2 526.6L488.3 527.4L488.5 528.2L488.8 529L489.2 529.8L489.6 530.6L489.9 531.4L490.1 532.2L490.3 533L490.3 533.8L490.4 534.6L490.4 535.4L490.4 536.2L490.4 537L490.4 537.8L490.4 538.6L490.4 539.4L490.3 540.2L490.3 541L490.2 541.8L490.1 542.6L490 543.4L489.9 544.2L489.8 545L489.7 545.8L489.6 546.6L489.6 547.4L489.7 548.2L489.8 549L489.9 549.8L490 550.6L490 551.4L490.1 552.2L490.2 553L490.3 553.8L490.4 554.6L490.4 555.4L490.4 556.2L490.5 557L490.5 557.8L490.5 558.6L490.5 559.4L490.5 560.2L490.5 561L490.5 561.8L490.5 562.6L490.5 563.4L490.5 564.2L490.5 565L490.4 565.8L490.4 566.6L490.3 567.4L490.2 568.2L490.1 569L489.8 569.8L489.5 570.6L489.2 571.4L488.9 572.2L488.8 573L488.6 573.8L488.5 574.6L488.4 575.4L488.3 576.2L488.2 577L488.2 577.8L488.2 578.6L488.1 579.4L488.1 580.2L488.1 581L488.1 581.8L488 582.6L488 583.4L487.9 584.2L487.9 585L487.8 585.8L487.7 586.6L487.6 587.4L487.5 588.2L487.3 589L487.1 589.8L486.7 590.6L486.4 591.4L486.1 592.2L485.9 593L485.9 593.8L485.9 594.6L485.9 595.4L486 596.2L486 597L486.1 597.8L486.2 598.6L486.3 599.4L486.5 600.2L486.7 601L487 601.8L487.2 602.6L487.5 603.4L487.6 604.2L487.7 605L487.8 605.8L487.9 606.6L487.9 607.4L488 608.2L488 609L488 609.8L487.9 610.6L487.6 611.4L487.3 612.2L486.8 613L486.4 613.8L485.9 614.6L485.6 615.4L485.2 616.2L484.8 617L484.5 617.8L484.1 618.6L483.8 619.4L483.6 620.2L483.4 621L483.3 621.8L483.1 622.6L483 623.4L483 624.2L483.1 625L483.2 625.8L483.4 626.6L483.7 627.4L483.9 628.2L484.2 629L484.3 629.8L484.5 630.6L484.6 631.4L484.8 632.2L484.9 633L485.1 633.8L485.3 634.6L485.5 635.4L485.7 636.2L486 637L486.3 637.8L486.6 638.6L486.9 639.4L487.1 640.2L487.4 641L487.7 641.8L488 642.6L488.3 643.4L488.6 644.2L488.8 645L489 645.8L489.1 646.6L489.3 647.4L489.4 648.2L489.5 649L489.6 649.8L489.6 650.6L489.6 651.4L489.6 652.2L489.5 653L489.4 653.8L489.2 654.6L489.1 655.4L488.9 656.2L488.7 657L488.5 657.8L488.2 658.6L487.9 659.4L487.6 660.2L487.3 661L487.1 661.8L486.7 662.6L486.4 663.4L486 664.2L485.7 665L485.5 665.8L485.4 666.6L485.3 667.4L485.3 668.2L485.3 669L485.3 669.8L485.3 670.6L485.5 671.4L485.8 672.2L486.2 673L486.6 673.8L487 674.6L487.5 675.4L488.1 676.2L488.6 677L488.9 677.8L489.3 678.6L489.6 679.4L489.8 680.2L490 681L490 681.8L490.1 682.6L490.1 683.4L490.2 684.2L490.2 685L490 685.8L489.8 686.6L489.6 687.4L489.6 688.2L489.5 689L489.4 689.8L489.4 689.9L492 689.9L492 689.8L491.9 689L491.8 688.2L491.8 687.4L491.6 686.6L491.4 685.8L491.2 685L491.2 684.2L491.3 683.4L491.3 682.6L491.4 681.8L491.4 681L491.6 680.2L491.8 679.4L492.1 678.6L492.5 677.8L492.8 677L493.3 676.2L493.9 675.4L494.4 674.6L494.8 673.8L495.2 673L495.6 672.2L495.9 671.4L496.1 670.6L496.1 669.8L496.1 669L496.1 668.2L496.1 667.4L496 666.6L495.9 665.8L495.7 665L495.4 664.2L495 663.4L494.7 662.6L494.3 661.8L494.1 661L493.8 660.2L493.5 659.4L493.2 658.6L492.9 657.8L492.7 657L492.5 656.2L492.3 655.4L492.2 654.6L492 653.8L491.9 653L491.8 652.2L491.8 651.4L491.8 650.6L491.8 649.8L491.9 649L492 648.2L492.1 647.4L492.3 646.6L492.4 645.8L492.6 645L492.8 644.2L493.1 643.4L493.4 642.6L493.7 641.8L494 641L494.3 640.2L494.5 639.4L494.8 638.6L495.1 637.8L495.4 637L495.7 636.2L495.9 635.4L496.1 634.6L496.3 633.8L496.5 633L496.6 632.2L496.8 631.4L496.9 630.6L497.1 629.8L497.2 629L497.5 628.2L497.7 627.4L498 626.6L498.2 625.8L498.3 625L498.4 624.2L498.4 623.4L498.3 622.6L498.1 621.8L498 621L497.8 620.2L497.6 619.4L497.3 618.6L496.9 617.8L496.6 617L496.2 616.2L495.8 615.4L495.5 614.6L495 613.8L494.6 613L494.1 612.2L493.8 611.4L493.5 610.6L493.4 609.8L493.4 609L493.4 608.2L493.5 607.4L493.5 606.6L493.6 605.8L493.7 605L493.8 604.2L493.9 603.4L494.2 602.6L494.4 601.8L494.7 601L494.9 600.2L495.1 599.4L495.2 598.6L495.3 597.8L495.4 597L495.4 596.2L495.5 595.4L495.5 594.6L495.5 593.8L495.5 593L495.3 592.2L495 591.4L494.7 590.6L494.3 589.8L494.1 589L493.9 588.2L493.8 587.4L493.7 586.6L493.6 585.8L493.5 585L493.5 584.2L493.4 583.4L493.4 582.6L493.3 581.8L493.3 581L493.3 580.2L493.3 579.4L493.2 578.6L493.2 577.8L493.2 577L493.1 576.2L493 575.4L492.9 574.6L492.8 573.8L492.6 573L492.5 572.2L492.2 571.4L491.9 570.6L491.6 569.8L491.3 569L491.2 568.2L491.1 567.4L491 566.6L491 565.8L490.9 565L490.9 564.2L490.9 563.4L490.9 562.6L490.9 561.8L490.9 561L490.9 560.2L490.9 559.4L490.9 558.6L490.9 557.8L490.9 557L491 556.2L491 555.4L491 554.6L491.1 553.8L491.2 553L491.3 552.2L491.4 551.4L491.4 550.6L491.5 549.8L491.6 549L491.7 548.2L491.8 547.4L491.8 546.6L491.7 545.8L491.6 545L491.5 544.2L491.4 543.4L491.3 542.6L491.2 541.8L491.1 541L491.1 540.2L491 539.4L491 538.6L491 537.8L491 537L491 536.2L491 535.4L491 534.6L491.1 533.8L491.1 533L491.3 532.2L491.5 531.4L491.8 530.6L492.2 529.8L492.6 529L492.9 528.2L493.1 527.4L493.2 526.6Z" fill="#f3f09b" stroke="#383838" stroke-width="0.6" stroke-linejoin="round"/>
<path d="M512.4 539.5L512.3 540.3L512.2 541.1L512.2 541.9L512.1 542.7L512.1 543.5L512.1 544.3L512.1 545.1L512 545.9L512 546.7L512 547.5L512 548.3L511.9 549.1L511.9 549.9L511.9 550.7L511.9 551.5L511.8 552.3L511.8 553.1L511.7 553.9L511.7 554.7L511.6 555.5L511.6 556.3L511.5 557.1L511.5 557.9L511.4 558.7L511.4 559.5L511.4 560.3L511.3 561.1L511.3 561.9L511.3 562.7L511.3 563.5L511.2 564.3L511.2 565.1L511.2 565.9L511.2 566.7L511.1 567.5L511.1 568.3L511.1 569.1L511.1 569.9L511 570.7L511 571.5L511 572.3L511 573.1L510.9 573.9L510.9 574.7L510.8 575.5L510.6 576.3L510.5 577.1L510.3 577.9L510.1 578.7L509.7 579.5L509.4 580.3L509.2 581.1L508.9 581.9L508.7 582.7L508.5 583.5L508.4 584.3L508.3 585.1L508.2 585.9L508.3 586.7L508.4 587.5L508.6 588.3L508.8 589.1L509.1 589.9L509.3 590.7L509.7 591.5L510.2 592.3L510.6 593.1L511 593.9L511.4 594.7L511.8 595.5L512.1 596.3L512.3 597.1L512.5 597.9L512.6 598.7L512.6 599.5L512.7 600.3L512.7 601.1L512.6 601.9L512.4 602.7L512.2 603.5L512 604.3L511.9 605.1L511.7 605.9L511.6 606.7L511.5 607.5L511.4 608.3L511.3 609.1L511.3 609.9L511.3 610.7L511.4 611.5L511.5 612.3L511.6 613.1L511.7 613.9L511.8 614.7L511.8 615.5L511.9 616.3L511.9 617.1L511.9 617.9L512 618.7L512 619.5L512 620.3L511.9 621.1L511.8 621.9L511.5 622.7L511.2 623.5L510.8 624.3L510.4 625.1L510 625.9L509.6 626.7L509.2 627.5L508.9 628.3L508.7 629.1L508.4 629.9L508.2 630.7L508.1 631.5L508.1 632.3L508.1 633.1L508.3 633.9L508.5 634.7L508.8 635.5L509 636.3L509.3 637.1L509.7 637.9L510.2 638.7L510.6 639.5L511 640.3L511.2 641.1L511.5 641.9L511.7 642.7L511.9 643.5L512.1 644.3L512.3 645.1L512.4 645.9L512.5 646.7L512.7 647.5L512.8 648.3L512.9 649.1L513 649.9L513 650.7L513.1 651.5L513.2 652.3L513.3 653.1L513.3 653.9L513.4 654.7L513.4 655.5L513.5 656.3L513.5 657.1L513.6 657.9L513.7 658.7L513.7 659.5L513.8 660.3L513.9 661.1L513.9 661.9L514 662.7L514 663.5L513.9 664.3L513.9 665.1L513.9 665.9L513.8 666.7L513.7 667.5L513.6 668.3L513.5 669.1L513.5 669.9L513.4 670.7L513.5 671.5L513.6 672.3L513.7 673.1L513.8 673.9L513.8 674.7L513.9 675.5L514 676.3L514 677.1L514.1 677.9L514.1 678.7L514.1 679.5L514.1 680.3L514.1 681.1L514.1 681.9L514.1 682.7L514.1 683.5L514.1 684.3L514.1 685.1L514.1 685.9L514.1 686.7L514.1 687.5L514 688.3L514 689.1L513.8 689.9L513.7 690.7L513.7 691.5L513.6 692.3L513.5 693.1L513.5 693.9L513.4 694.7L513.4 695.5L513.4 696.3L513.5 697.1L513.5 697.9L513.6 698.7L513.6 699.5L513.7 700.3L513.8 701.1L513.9 701.9L514 702.7L514.1 703.5L514.1 704.3L514.2 705.1L514.2 705.9L514.2 706.7L514.2 707.5L514.2 708.3L514.2 709.1L514.2 709.9L514.2 710.7L514.2 711.5L514.1 712.3L514 713.1L513.9 713.9L513.7 714.7L513.5 715.5L513.4 716.3L513.3 717.1L513.3 717.9L513.2 718.5L515.8 718.5L515.7 717.9L515.7 717.1L515.6 716.3L515.5 715.5L515.3 714.7L515.1 713.9L515 713.1L514.9 712.3L514.8 711.5L514.8 710.7L514.8 709.9L514.8 709.1L514.8 708.3L514.8 707.5L514.8 706.7L514.8 705.9L514.8 705.1L514.9 704.3L514.9 703.5L515 702.7L515.1 701.9L515.2 701.1L515.3 700.3L515.4 699.5L515.4 698.7L515.5 697.9L515.5 697.1L515.6 696.3L515.6 695.5L515.6 694.7L515.5 693.9L515.5 693.1L515.4 692.3L515.3 691.5L515.3 690.7L515.2 689.9L515 689.1L515 688.3L514.9 687.5L514.9 686.7L514.9 685.9L514.9 685.1L514.9 684.3L514.9 683.5L514.9 682.7L514.9 681.9L514.9 681.1L514.9 680.3L514.9 679.5L514.9 678.7L514.9 677.9L515 677.1L515 676.3L515.1 675.5L515.2 674.7L515.2 673.9L515.3 673.1L515.4 672.3L515.5 671.5L515.6 670.7L515.5 669.9L515.5 669.1L515.4 668.3L515.3 667.5L515.2 666.7L515.1 665.9L515.1 665.1L515.1 664.3L515 663.5L515 662.7L515.1 661.9L515.1 661.1L515.2 660.3L515.3 659.5L515.3 658.7L515.4 657.9L515.5 657.1L515.5 656.3L515.6 655.5L515.6 654.7L515.7 653.9L515.7 653.1L515.8 652.3L515.9 651.5L516 650.7L516 649.9L516.1 649.1L516.2 648.3L516.3 647.5L516.5 646.7L516.6 645.9L516.7 645.1L516.9 644.3L517.1 643.5L517.3 642.7L517.5 641.9L517.8 641.1L518 640.3L518.4 639.5L518.8 638.7L519.3 637.9L519.7 637.1L520 636.3L520.2 635.5L520.5 634.7L520.7 633.9L520.9 633.1L520.9 632.3L520.9 631.5L520.8 630.7L520.6 629.9L520.3 629.1L520.1 628.3L519.8 627.5L519.4 626.7L519 625.9L518.6 625.1L518.2 624.3L517.8 623.5L517.5 622.7L517.2 621.9L517.1 621.1L517 620.3L517 619.5L517 618.7L517.1 617.9L517.1 617.1L517.1 616.3L517.2 615.5L517.2 614.7L517.3 613.9L517.4 613.1L517.5 612.3L517.6 611.5L517.7 610.7L517.7 609.9L517.7 609.1L517.6 608.3L517.5 607.5L517.4 606.7L517.3 605.9L517.1 605.1L517 604.3L516.8 603.5L516.6 602.7L516.4 601.9L516.3 601.1L516.3 600.3L516.4 599.5L516.4 598.7L516.5 597.9L516.7 597.1L516.9 596.3L517.2 595.5L517.6 594.7L518 593.9L518.4 593.1L518.8 592.3L519.3 591.5L519.7 590.7L519.9 589.9L520.2 589.1L520.4 588.3L520.6 587.5L520.7 586.7L520.8 585.9L520.7 585.1L520.6 584.3L520.5 583.5L520.3 582.7L520.1 581.9L519.8 581.1L519.6 580.3L519.3 579.5L518.9 578.7L518.7 577.9L518.5 577.1L518.4 576.3L518.2 575.5L518.1 574.7L518.1 573.9L518 573.1L518 572.3L518 571.5L518 570.7L517.9 569.9L517.9 569.1L517.9 568.3L517.9 567.5L517.8 566.7L517.8 565.9L517.8 565.1L517.8 564.3L517.7 563.5L517.7 562.7L517.7 561.9L517.7 561.1L517.6 560.3L517.6 559.5L517.6 558.7L517.5 557.9L517.5 557.1L517.4 556.3L517.4 555.5L517.3 554.7L517.3 553.9L517.2 553.1L517.2 552.3L517.1 551.5L517.1 550.7L517.1 549.9L517.1 549.1L517 548.3L517 547.5L517 546.7L517 545.9L516.9 545.1L516.9 544.3L516.9 543.5L516.9 542.7L516.8 541.9L516.8 541.1L516.7 540.3L516.6 539.5Z" fill="#cb3335" stroke="#383838" stroke-width="0.6" stroke-linejoin="round"/>
<path d="M535.8 539.5L535.8 540.3L535.8 541.1L535.9 541.9L535.9 542.7L536 543.5L536 544.3L536.1 545.1L536.3 545.9L536.4 546.7L536.6 547.5L536.7 548.3L536.9 549.1L537.1 549.9L537.3 550.7L537.4 551.5L537.6 552.3L537.6 553.1L537.7 553.9L537.8 554.7L537.9 555.5L537.9 556.3L537.9 557.1L537.9 557.9L537.9 558.7L537.9 559.5L537.9 560.3L537.9 561.1L537.9 561.9L537.9 562.7L537.9 563.5L537.9 564.3L537.8 565.1L537.6 565.9L537.4 566.7L537.3 567.5L537.1 568.3L536.8 569.1L536.6 569.9L536.5 570.7L536.3 571.5L536.2 572.3L536 573.1L535.9 573.9L535.8 574.7L535.7 575.5L535.5 576.3L535.4 577.1L535.3 577.9L535.2 578.7L535 579.5L534.9 580.3L534.7 581.1L534.5 581.9L534.3 582.7L534 583.5L533.7 584.3L533.4 585.1L533.1 585.9L532.9 586.7L532.7 587.5L532.5 588.3L532.4 589.1L532.2 589.9L532.1 590.7L532 591.5L532 592.3L532.1 593.1L532.1 593.9L532.2 594.7L532.2 595.5L532.3 596.3L532.4 597.1L532.5 597.9L532.6 598.7L532.7 599.5L532.9 600.3L533 601.1L533.2 601.9L533.3 602.7L533.4 603.5L533.5 604.3L533.7 605.1L533.8 605.9L533.9 606.7L534 607.5L534 608.3L534.1 609.1L534.2 609.9L534.2 610.7L534.3 611.5L534.3 612.3L534.4 613.1L534.3 613.9L534.2 614.7L534.1 615.5L533.9 616.3L533.6 617.1L533.4 617.9L533.3 618.7L533.2 619.5L533 620.3L532.9 621.1L532.8 621.9L532.8 622.7L532.8 623.5L532.8 624.3L533 625.1L533.1 625.9L533.3 626.7L533.4 627.5L533.6 628.3L533.7 629.1L533.9 629.9L534 630.7L534.2 631.5L534.3 632.3L534.4 633.1L534.4 633.9L534.5 634.7L534.6 635.5L534.6 636.3L534.7 637.1L534.7 637.9L534.7 638.7L534.8 639.5L534.8 640.3L534.8 641.1L534.9 641.9L534.9 642.7L534.9 643.5L534.9 644.3L534.8 645.1L534.7 645.9L534.6 646.7L534.5 647.5L534.4 648.3L534.4 649.1L534.4 649.9L534.4 650.7L534.4 651.5L534.4 652.3L534.4 653.1L534.4 653.9L534.4 654.7L534.4 655.5L534.5 656.3L534.6 657.1L534.7 657.9L534.9 658.7L535 659.5L535.2 660.3L535.4 661.1L535.6 661.9L535.8 662.7L536.1 663.5L536.3 664.3L536.5 665.1L536.6 665.9L536.8 666.7L536.9 667.5L537.1 668.3L537.2 669.1L537.3 669.9L537.4 670.7L537.5 671.5L537.6 672.3L537.7 673.1L537.8 673.9L537.9 674.7L537.9 675.5L537.9 676.3L538 677.1L538 677.9L538 678.7L538 679.5L538 680.3L538 681.1L538 681.9L538 682.7L538 683.5L538 684.3L538 685.1L538 685.9L538 686.7L538 687.5L538 688.3L538 689.1L538 689.9L538 690.7L538 691.5L538 692.3L538 693.1L538 693.9L538 694.7L538 695.5L538 696.3L538 697.1L538 697.9L538 698.7L538 699.5L538 700.3L538 701.1L538 701.9L538 702.7L538 703.5L538 704.3L538 705.1L537.9 705.9L537.9 706.7L537.8 707.5L537.7 708.3L537.6 709.1L537.5 709.9L537.3 710.7L537.1 711.5L536.9 712.3L536.8 713.1L536.6 713.9L536.4 714.7L536.3 715.5L536.2 716.3L536.1 717.1L536 717.9L536 718.5L540.6 718.5L540.6 717.9L540.5 717.1L540.4 716.3L540.3 715.5L540.2 714.7L540 713.9L539.8 713.1L539.7 712.3L539.5 711.5L539.3 710.7L539.1 709.9L539 709.1L538.9 708.3L538.8 707.5L538.7 706.7L538.7 705.9L538.6 705.1L538.6 704.3L538.6 703.5L538.6 702.7L538.6 701.9L538.6 701.1L538.6 700.3L538.6 699.5L538.6 698.7L538.6 697.9L538.6 697.1L538.6 696.3L538.6 695.5L538.6 694.7L538.6 693.9L538.6 693.1L538.6 692.3L538.6 691.5L538.6 690.7L538.6 689.9L538.6 689.1L538.6 688.3L538.6 687.5L538.6 686.7L538.6 685.9L538.6 685.1L538.6 684.3L538.6 683.5L538.6 682.7L538.6 681.9L538.6 681.1L538.6 680.3L538.6 679.5L538.6 678.7L538.6 677.9L538.6 677.1L538.7 676.3L538.7 675.5L538.7 674.7L538.8 673.9L538.9 673.1L539 672.3L539.1 671.5L539.2 670.7L539.3 669.9L539.4 669.1L539.5 668.3L539.7 667.5L539.8 666.7L540 665.9L540.1 665.1L540.3 664.3L540.5 663.5L540.8 662.7L541 661.9L541.2 661.1L541.4 660.3L541.6 659.5L541.7 658.7L541.9 657.9L542 657.1L542.1 656.3L542.2 655.5L542.2 654.7L542.2 653.9L542.2 653.1L542.2 652.3L542.2 651.5L542.2 650.7L542.2 649.9L542.2 649.1L542.2 648.3L542.1 647.5L542 646.7L541.9 645.9L541.8 645.1L541.7 644.3L541.7 643.5L541.7 642.7L541.7 641.9L541.8 641.1L541.8 640.3L541.8 639.5L541.9 638.7L541.9 637.9L541.9 637.1L542 636.3L542 635.5L542.1 634.7L542.2 633.9L542.2 633.1L542.3 632.3L542.4 631.5L542.6 630.7L542.7 629.9L542.9 629.1L543 628.3L543.2 627.5L543.3 626.7L543.5 625.9L543.6 625.1L543.8 624.3L543.8 623.5L543.8 622.7L543.8 621.9L543.7 621.1L543.6 620.3L543.4 619.5L543.3 618.7L543.2 617.9L543 617.1L542.7 616.3L542.5 615.5L542.4 614.7L542.3 613.9L542.2 613.1L542.3 612.3L542.3 611.5L542.4 610.7L542.4 609.9L542.5 609.1L542.6 608.3L542.6 607.5L542.7 606.7L542.8 605.9L542.9 605.1L543.1 604.3L543.2 603.5L543.3 602.7L543.4 601.9L543.6 601.1L543.7 600.3L543.9 599.5L544 598.7L544.1 597.9L544.2 597.1L544.3 596.3L544.4 595.5L544.4 594.7L544.5 593.9L544.5 593.1L544.6 592.3L544.6 591.5L544.5 590.7L544.4 589.9L544.2 589.1L544.1 588.3L543.9 587.5L543.7 586.7L543.5 585.9L543.2 585.1L542.9 584.3L542.6 583.5L542.3 582.7L542.1 581.9L541.9 581.1L541.7 580.3L541.6 579.5L541.4 578.7L541.3 577.9L541.2 577.1L541.1 576.3L540.9 575.5L540.8 574.7L540.7 573.9L540.6 573.1L540.4 572.3L540.3 571.5L540.1 570.7L540 569.9L539.8 569.1L539.5 568.3L539.3 567.5L539.2 566.7L539 565.9L538.8 565.1L538.7 564.3L538.7 563.5L538.7 562.7L538.7 561.9L538.7 561.1L538.7 560.3L538.7 559.5L538.7 558.7L538.7 557.9L538.7 557.1L538.7 556.3L538.7 555.5L538.8 554.7L538.9 553.9L539 553.1L539 552.3L539.2 551.5L539.3 550.7L539.5 549.9L539.7 549.1L539.9 548.3L540 547.5L540.2 546.7L540.3 545.9L540.5 545.1L540.6 544.3L540.6 543.5L540.7 542.7L540.7 541.9L540.8 541.1L540.8 540.3L540.8 539.5Z" fill="#3274a1" stroke="#383838" stroke-width="0.6" stroke-linejoin="round"/>
<path d="M584.5 541.3L584.6 542.1L584.7 542.9L584.9 543.7L585.1 544.5L585.4 545.3L585.6 546.1L585.5 546.9L585.4 547.7L585.3 548.5L585.1 549.3L585 550.1L584.8 550.9L584.6 551.7L584.5 552.5L584.5 553.3L584.7 554.1L584.9 554.9L585.1 555.7L585.3 556.5L585.4 557.3L585.5 558.1L585.6 558.9L585.5 559.7L585.4 560.5L585.3 561.3L585.1 562.1L584.9 562.9L584.7 563.7L584.5 564.5L584.2 565.3L583.9 566.1L583.6 566.9L583.2 567.7L582.7 568.5L582.3 569.3L581.9 570.1L581.7 570.9L581.6 571.7L581.5 572.5L581.5 573.3L581.6 574.1L581.8 574.9L582.1 575.7L582.4 576.5L582.9 577.3L583.4 578.1L584 578.9L584.5 579.7L584.8 580.5L585.1 581.3L585.2 582.1L585.2 582.9L585.2 583.7L585.2 584.5L585.2 585.3L585.2 586.1L585.1 586.9L585 587.7L584.9 588.5L584.8 589.3L584.7 590.1L584.6 590.9L584.5 591.7L584.4 592.5L584.3 593.3L584.2 594.1L584.1 594.9L583.9 595.7L583.7 596.5L583.5 597.3L583.3 598.1L583 598.9L582.7 599.7L582.2 600.5L581.4 601.3L580.5 602.1L579.5 602.9L578.4 603.7L577.3 604.5L576.3 605.3L575.4 606.1L574.6 606.9L574.2 607.7L574.1 608.5L574.3 609.3L574.5 610.1L574.8 610.9L575.1 611.7L575.4 612.5L575.9 613.3L576.3 614.1L576.7 614.9L576.9 615.7L577.1 616.5L577.2 617.3L577.4 618.1L577.6 618.9L577.7 619.7L577.9 620.5L578.2 621.3L578.5 622.1L579 622.9L580 623.7L581.1 624.5L581.9 625.3L582.7 626.1L583.3 626.9L583.6 627.7L583.5 628.5L583.4 629.3L583.3 630.1L583.1 630.9L582.8 631.7L582.5 632.5L582.2 633.3L582.2 634.1L582.4 634.9L582.7 635.7L582.9 636.5L582.8 637.3L582.5 638.1L582.3 638.9L582.1 639.7L582 640.5L581.9 641.3L581.8 642.1L581.8 642.9L582 643.7L582.3 644.5L582.7 645.3L583.3 646.1L584 646.9L584.7 647.7L585.1 648.5L585.4 649.3L585.6 650.1L585.7 650.9L585.8 651.7L585.8 652.5L585.8 653.3L585.8 654.1L585.8 654.9L585.8 655.7L585.8 656.5L585.8 657.3L585.8 658.1L585.8 658.9L585.8 659.7L585.8 660.5L585.8 661.3L585.8 662.1L585.8 662.9L585.8 663.7L585.7 664.5L585.4 665.3L584.9 666.1L584.6 666.9L584.4 667.7L584.3 668.5L584.3 669.3L584.5 670.1L584.5 670.2L587.7 670.2L587.7 670.1L587.9 669.3L587.9 668.5L587.8 667.7L587.6 666.9L587.3 666.1L586.8 665.3L586.5 664.5L586.4 663.7L586.4 662.9L586.4 662.1L586.4 661.3L586.4 660.5L586.4 659.7L586.4 658.9L586.4 658.1L586.4 657.3L586.4 656.5L586.4 655.7L586.4 654.9L586.4 654.1L586.4 653.3L586.4 652.5L586.4 651.7L586.5 650.9L586.6 650.1L586.8 649.3L587.1 648.5L587.5 647.7L588.2 646.9L588.9 646.1L589.5 645.3L589.9 644.5L590.2 643.7L590.4 642.9L590.4 642.1L590.3 641.3L590.2 640.5L590.1 639.7L589.9 638.9L589.7 638.1L589.4 637.3L589.3 636.5L589.5 635.7L589.8 634.9L590 634.1L590 633.3L589.7 632.5L589.4 631.7L589.1 630.9L588.9 630.1L588.8 629.3L588.7 628.5L588.6 627.7L588.9 626.9L589.5 626.1L590.3 625.3L591.1 624.5L592.2 623.7L593.2 622.9L593.7 622.1L594 621.3L594.3 620.5L594.5 619.7L594.6 618.9L594.8 618.1L595 617.3L595.1 616.5L595.3 615.7L595.5 614.9L595.9 614.1L596.3 613.3L596.8 612.5L597.1 611.7L597.4 610.9L597.7 610.1L597.9 609.3L598.1 608.5L598 607.7L597.6 606.9L596.8 606.1L595.9 605.3L594.9 604.5L593.8 603.7L592.7 602.9L591.7 602.1L590.8 601.3L590 600.5L589.5 599.7L589.2 598.9L588.9 598.1L588.7 597.3L588.5 596.5L588.3 595.7L588.1 594.9L588 594.1L587.9 593.3L587.8 592.5L587.7 591.7L587.6 590.9L587.5 590.1L587.4 589.3L587.3 588.5L587.2 587.7L587.1 586.9L587 586.1L587 585.3L587 584.5L587 583.7L587 582.9L587 582.1L587.1 581.3L587.4 580.5L587.7 579.7L588.2 578.9L588.8 578.1L589.3 577.3L589.8 576.5L590.1 575.7L590.4 574.9L590.6 574.1L590.7 573.3L590.7 572.5L590.6 571.7L590.5 570.9L590.3 570.1L589.9 569.3L589.5 568.5L589 567.7L588.6 566.9L588.3 566.1L588 565.3L587.7 564.5L587.5 563.7L587.3 562.9L587.1 562.1L586.9 561.3L586.8 560.5L586.7 559.7L586.6 558.9L586.7 558.1L586.8 557.3L586.9 556.5L587.1 555.7L587.3 554.9L587.5 554.1L587.7 553.3L587.7 552.5L587.6 551.7L587.4 550.9L587.2 550.1L587.1 549.3L586.9 548.5L586.8 547.7L586.7 546.9L586.6 546.1L586.8 545.3L587.1 544.5L587.3 543.7L587.5 542.9L587.6 542.1L587.7 541.3Z" fill="#f3f09b" stroke="#383838" stroke-width="0.6" stroke-linejoin="round"/>
<path d="M605.3 563.3L605.4 564.1L605.7 564.9L605.9 565.7L606.2 566.5L606.5 567.3L606.8 568.1L606.9 568.9L606.9 569.7L606.9 570.5L606.9 571.3L606.9 572.1L606.9 572.9L606.9 573.7L606.8 574.5L606.8 575.3L606.6 576.1L606.5 576.9L606.3 577.7L606 578.5L605.5 579.3L605 580.1L604.6 580.9L604.4 581.7L604.3 582.5L604.2 583.3L604.2 584.1L604.5 584.9L605 585.7L605.2 586.5L605.2 587.3L605.1 588.1L605 588.9L604.9 589.7L604.9 590.5L604.8 591.3L604.8 592.1L604.7 592.9L604.6 593.7L604.5 594.5L604.3 595.3L603.7 596.1L603 596.9L602.4 597.7L601.7 598.5L601.1 599.3L600.5 600.1L600 600.9L599.6 601.7L599.5 602.5L599.9 603.3L600.4 604.1L600.9 604.9L601.6 605.7L602.3 606.5L602.9 607.3L603.4 608.1L604 608.9L604.5 609.7L605 610.5L605.5 611.3L605.9 612.1L606.1 612.9L606.2 613.7L606.3 614.5L606.3 615.3L606.2 616.1L606 616.9L605.7 617.7L605.3 618.5L605 619.3L604.5 620.1L604.1 620.9L603.7 621.7L603.4 622.5L603.3 623.3L603.2 624.1L603.1 624.9L603.2 625.7L603.5 626.5L604 627.3L604.5 628.1L605.2 628.9L606.1 629.7L606.8 630.5L607.5 631.3L608.1 632.1L608.4 632.9L608.6 633.7L608.7 634.5L608.8 635.3L608.8 636.1L608.8 636.9L608.7 637.7L608.6 638.5L608.3 639.3L608.1 640.1L607.9 640.9L607.6 641.7L607.4 642.5L607.1 643.3L607 644.1L606.8 644.9L606.7 645.7L606.7 646.5L606.8 647.3L607 648.1L607.3 648.9L607.6 649.7L607.8 650.5L608.1 651.3L608.3 652.1L608.5 652.9L608.6 653.7L608.7 654.5L608.8 655.3L608.8 656.1L608.8 656.9L608.7 657.7L608.6 658.5L608.5 659.3L608.5 660.1L608.4 660.9L608.3 661.7L608.3 662.5L608.3 663.3L608.3 664.1L608.4 664.9L608.4 665.7L608.5 666.5L608.5 667.3L608.4 668.1L608.3 668.9L608.1 669.7L608.1 669.9L611.7 669.9L611.7 669.7L611.5 668.9L611.4 668.1L611.3 667.3L611.3 666.5L611.4 665.7L611.4 664.9L611.5 664.1L611.5 663.3L611.5 662.5L611.5 661.7L611.4 660.9L611.3 660.1L611.3 659.3L611.2 658.5L611.1 657.7L611 656.9L611 656.1L611 655.3L611.1 654.5L611.2 653.7L611.3 652.9L611.5 652.1L611.7 651.3L612 650.5L612.2 649.7L612.5 648.9L612.8 648.1L613 647.3L613.1 646.5L613.1 645.7L613 644.9L612.8 644.1L612.7 643.3L612.4 642.5L612.2 641.7L611.9 640.9L611.7 640.1L611.5 639.3L611.2 638.5L611.1 637.7L611 636.9L611 636.1L611 635.3L611.1 634.5L611.2 633.7L611.4 632.9L611.7 632.1L612.3 631.3L613 630.5L613.7 629.7L614.6 628.9L615.3 628.1L615.8 627.3L616.3 626.5L616.6 625.7L616.7 624.9L616.6 624.1L616.5 623.3L616.4 622.5L616.1 621.7L615.7 620.9L615.3 620.1L614.8 619.3L614.5 618.5L614.1 617.7L613.8 616.9L613.6 616.1L613.5 615.3L613.5 614.5L613.6 613.7L613.7 612.9L613.9 612.1L614.3 611.3L614.8 610.5L615.3 609.7L615.8 608.9L616.4 608.1L616.9 607.3L617.5 606.5L618.2 605.7L618.9 604.9L619.4 604.1L619.9 603.3L620.3 602.5L620.2 601.7L619.8 600.9L619.3 600.1L618.7 599.3L618.1 598.5L617.4 597.7L616.8 596.9L616.1 596.1L615.5 595.3L615.3 594.5L615.2 593.7L615.1 592.9L615 592.1L615 591.3L614.9 590.5L614.9 589.7L614.8 588.9L614.7 588.1L614.6 587.3L614.6 586.5L614.8 585.7L615.3 584.9L615.6 584.1L615.6 583.3L615.5 582.5L615.4 581.7L615.2 580.9L614.8 580.1L614.3 579.3L613.8 578.5L613.5 577.7L613.3 576.9L613.2 576.1L613 575.3L613 574.5L612.9 573.7L612.9 572.9L612.9 572.1L612.9 571.3L612.9 570.5L612.9 569.7L612.9 568.9L613 568.1L613.3 567.3L613.6 566.5L613.9 565.7L614.1 564.9L614.4 564.1L614.5 563.3Z" fill="#cb3335" stroke="#383838" stroke-width="0.6" stroke-linejoin="round"/>
<path d="M632.4 541.3L632.4 542.1L632.4 542.9L632.4 543.7L632.4 544.5L632.5 545.3L632.6 546.1L632.7 546.9L632.8 547.7L632.8 548.5L632.7 549.3L632.5 550.1L632.3 550.9L632.3 551.7L632.3 552.5L632.4 553.3L632.6 554.1L632.7 554.9L632.9 555.7L633 556.5L633.1 557.3L633.2 558.1L633 558.9L632.8 559.7L632.6 560.5L632.3 561.3L632.1 562.1L632 562.9L631.8 563.7L631.7 564.5L631.5 565.3L631.3 566.1L631.2 566.9L631 567.7L630.9 568.5L630.7 569.3L630.5 570.1L630.4 570.9L630.2 571.7L630.1 572.5L630 573.3L629.9 574.1L629.8 574.9L629.7 575.7L629.6 576.5L629.5 577.3L629.3 578.1L629.2 578.9L629 579.7L628.8 580.5L628.7 581.3L628.7 582.1L628.8 582.9L629 583.7L629.2 584.5L629.4 585.3L629.4 586.1L629.4 586.9L629.3 587.7L629.2 588.5L629.1 589.3L629.1 590.1L629 590.9L628.9 591.7L628.8 592.5L628.6 593.3L628.5 594.1L628.4 594.9L628.3 595.7L628.2 596.5L628.1 597.3L628 598.1L627.9 598.9L627.8 599.7L627.7 600.5L627.5 601.3L627.4 602.1L627.2 602.9L626.9 603.7L626.7 604.5L626.6 605.3L626.4 606.1L626.1 606.9L626 607.7L625.8 608.5L625.8 609.3L625.9 610.1L626 610.9L626.1 611.7L626.2 612.5L626.4 613.3L626.8 614.1L627.1 614.9L627.5 615.7L627.8 616.5L628 617.3L628.2 618.1L628.4 618.9L628.6 619.7L628.7 620.5L628.8 621.3L628.8 622.1L628.9 622.9L628.9 623.7L629 624.5L629 625.3L629.1 626.1L629.1 626.9L629.2 627.7L629.2 628.5L629.3 629.3L629.3 630.1L629.4 630.9L629.4 631.7L629.5 632.5L629.6 633.3L629.7 634.1L629.9 634.9L630 635.7L630.1 636.5L630.2 637.3L630.4 638.1L630.5 638.9L630.7 639.7L630.9 640.5L631 641.3L631.2 642.1L631.5 642.9L631.7 643.7L632 644.5L632.3 645.3L632.5 646.1L632.7 646.9L633 647.7L633.2 648.5L633.3 649.3L633.3 650.1L633.3 650.9L633.3 651.7L633.2 652.5L633.2 653.3L633.1 654.1L633 654.9L632.8 655.7L632.7 656.5L632.5 657.3L632.4 658.1L632.4 658.9L632.3 659.7L632.2 660.5L632.2 661.3L632.1 662.1L632.1 662.9L632.1 663.7L632.1 664.5L632.2 665.3L632.3 666.1L632.4 666.9L632.5 667.7L632.6 668.5L632.7 669.3L632.8 670.1L632.9 670.9L633 671.7L633.1 672.5L633.2 673.3L633.1 674.1L632.9 674.9L632.7 675.7L632.5 676.5L632.2 677.3L631.9 678.1L631.6 678.9L631.3 679.7L631.1 680.5L630.9 681.3L630.8 682.1L630.7 682.6L636.7 682.6L636.6 682.1L636.5 681.3L636.3 680.5L636.1 679.7L635.8 678.9L635.5 678.1L635.2 677.3L634.9 676.5L634.7 675.7L634.5 674.9L634.3 674.1L634.2 673.3L634.3 672.5L634.4 671.7L634.5 670.9L634.6 670.1L634.7 669.3L634.8 668.5L634.9 667.7L635 666.9L635.1 666.1L635.2 665.3L635.3 664.5L635.3 663.7L635.3 662.9L635.3 662.1L635.2 661.3L635.2 660.5L635.1 659.7L635 658.9L635 658.1L634.9 657.3L634.7 656.5L634.6 655.7L634.4 654.9L634.3 654.1L634.2 653.3L634.2 652.5L634.1 651.7L634.1 650.9L634.1 650.1L634.1 649.3L634.2 648.5L634.4 647.7L634.7 646.9L634.9 646.1L635.1 645.3L635.4 644.5L635.7 643.7L635.9 642.9L636.2 642.1L636.4 641.3L636.5 640.5L636.7 639.7L636.9 638.9L637 638.1L637.2 637.3L637.3 636.5L637.4 635.7L637.5 634.9L637.7 634.1L637.8 633.3L637.9 632.5L638 631.7L638 630.9L638.1 630.1L638.1 629.3L638.2 628.5L638.2 627.7L638.3 626.9L638.3 626.1L638.4 625.3L638.4 624.5L638.5 623.7L638.5 622.9L638.6 622.1L638.6 621.3L638.7 620.5L638.8 619.7L639 618.9L639.2 618.1L639.4 617.3L639.6 616.5L639.9 615.7L640.3 614.9L640.6 614.1L641 613.3L641.2 612.5L641.3 611.7L641.4 610.9L641.5 610.1L641.6 609.3L641.6 608.5L641.4 607.7L641.3 606.9L641 606.1L640.8 605.3L640.7 604.5L640.5 603.7L640.2 602.9L640 602.1L639.9 601.3L639.7 600.5L639.6 599.7L639.5 598.9L639.4 598.1L639.3 597.3L639.2 596.5L639.1 595.7L639 594.9L638.9 594.1L638.8 593.3L638.6 592.5L638.5 591.7L638.4 590.9L638.3 590.1L638.3 589.3L638.2 588.5L638.1 587.7L638 586.9L638 586.1L638 585.3L638.2 584.5L638.4 583.7L638.6 582.9L638.7 582.1L638.7 581.3L638.6 580.5L638.4 579.7L638.2 578.9L638.1 578.1L637.9 577.3L637.8 576.5L637.7 575.7L637.6 574.9L637.5 574.1L637.4 573.3L637.3 572.5L637.2 571.7L637 570.9L636.9 570.1L636.7 569.3L636.5 568.5L636.4 567.7L636.2 566.9L636.1 566.1L635.9 565.3L635.7 564.5L635.6 563.7L635.4 562.9L635.3 562.1L635.1 561.3L634.8 560.5L634.6 559.7L634.4 558.9L634.2 558.1L634.3 557.3L634.4 556.5L634.5 555.7L634.7 554.9L634.8 554.1L635 553.3L635.1 552.5L635.1 551.7L635.1 550.9L634.9 550.1L634.7 549.3L634.6 548.5L634.6 547.7L634.7 546.9L634.8 546.1L634.9 545.3L635 544.5L635 543.7L635 542.9L635 542.1L635 541.3Z" fill="#3274a1" stroke="#383838" stroke-width="0.6" stroke-linejoin="round"/>
<path d="M677.9 549.3L678 550.1L678 550.9L678.1 551.7L678.1 552.5L678 553.3L677.8 554.1L677.6 554.9L677.4 555.7L677.3 556.5L677.2 557.3L677.2 558.1L677.4 558.9L677.7 559.7L678 560.5L678.3 561.3L678.6 562.1L678.8 562.9L678.8 563.7L678.6 564.5L678.4 565.3L678.1 566.1L677.9 566.9L677.5 567.7L677.1 568.5L676.7 569.3L676.2 570.1L675.8 570.9L675.4 571.7L674.9 572.5L674.5 573.3L674.3 574.1L674 574.9L673.8 575.7L673.7 576.5L673.6 577.3L673.6 578.1L673.9 578.9L674.2 579.7L674.5 580.5L674.7 581.3L674.9 582.1L675.1 582.9L675.3 583.7L675.4 584.5L675.3 585.3L675.1 586.1L674.8 586.9L674.5 587.7L674.2 588.5L673.9 589.3L673.5 590.1L673.2 590.9L672.9 591.7L672.8 592.5L672.6 593.3L672.5 594.1L672.6 594.9L672.9 595.7L673.4 596.5L674 597.3L674.7 598.1L675.5 598.9L676.3 599.7L677 600.5L677.8 601.3L678.4 602.1L678.7 602.9L678.8 603.7L678.9 604.5L678.9 605.3L679 606.1L678.9 606.9L678.7 607.7L678.4 608.5L678.1 609.3L677.7 610.1L677.3 610.9L676.7 611.7L676.2 612.5L675.7 613.3L675.3 614.1L674.9 614.9L674.6 615.7L674.3 616.5L674.3 617.3L674.5 618.1L674.8 618.9L675.1 619.7L675.4 620.5L675.6 621.3L675.8 622.1L675.9 622.9L676.1 623.7L676.1 624.5L676.1 625.3L676.2 626.1L676.2 626.9L676.2 627.7L676.2 628.5L676.3 629.3L676.3 630.1L676.5 630.9L676.7 631.7L677 632.5L677.3 633.3L677.6 634.1L678.1 634.9L678.5 635.7L678.9 636.5L679.3 637.3L679.8 638.1L680.1 638.9L680.3 639.7L680.3 640.5L680.4 641.3L680.4 642.1L680.2 642.9L679.9 643.7L679.7 644.5L679.6 645.3L679.5 646.1L679.5 646.9L679.5 647.7L679.7 648.5L679.9 649.3L680 650.1L680.2 650.9L680.4 651.7L680.5 652.5L680.6 653.3L680.6 654.1L680.5 654.9L680.5 655.7L680.4 656.5L680.4 657.3L680.2 658.1L679.9 658.9L679.7 659.7L679.6 660.5L679.4 661.3L679.4 662.1L679.3 662.7L682.9 662.7L682.8 662.1L682.8 661.3L682.6 660.5L682.5 659.7L682.3 658.9L682 658.1L681.8 657.3L681.8 656.5L681.7 655.7L681.7 654.9L681.6 654.1L681.6 653.3L681.7 652.5L681.8 651.7L682 650.9L682.2 650.1L682.3 649.3L682.5 648.5L682.7 647.7L682.7 646.9L682.7 646.1L682.6 645.3L682.5 644.5L682.3 643.7L682 642.9L681.8 642.1L681.8 641.3L681.9 640.5L681.9 639.7L682.1 638.9L682.4 638.1L682.9 637.3L683.3 636.5L683.7 635.7L684.1 634.9L684.6 634.1L684.9 633.3L685.2 632.5L685.5 631.7L685.7 630.9L685.9 630.1L685.9 629.3L686 628.5L686 627.7L686 626.9L686 626.1L686.1 625.3L686.1 624.5L686.1 623.7L686.3 622.9L686.4 622.1L686.6 621.3L686.8 620.5L687.1 619.7L687.4 618.9L687.7 618.1L687.9 617.3L687.9 616.5L687.6 615.7L687.3 614.9L686.9 614.1L686.5 613.3L686 612.5L685.5 611.7L684.9 610.9L684.5 610.1L684.1 609.3L683.8 608.5L683.5 607.7L683.3 606.9L683.2 606.1L683.3 605.3L683.3 604.5L683.4 603.7L683.5 602.9L683.8 602.1L684.4 601.3L685.2 600.5L685.9 599.7L686.7 598.9L687.5 598.1L688.2 597.3L688.8 596.5L689.3 595.7L689.6 594.9L689.7 594.1L689.6 593.3L689.4 592.5L689.3 591.7L689 590.9L688.7 590.1L688.3 589.3L688 588.5L687.7 587.7L687.4 586.9L687.1 586.1L686.9 585.3L686.8 584.5L686.9 583.7L687.1 582.9L687.3 582.1L687.5 581.3L687.7 580.5L688 579.7L688.3 578.9L688.6 578.1L688.6 577.3L688.5 576.5L688.4 575.7L688.2 574.9L687.9 574.1L687.7 573.3L687.3 572.5L686.8 571.7L686.4 570.9L686 570.1L685.5 569.3L685.1 568.5L684.7 567.7L684.3 566.9L684.1 566.1L683.8 565.3L683.6 564.5L683.4 563.7L683.4 562.9L683.6 562.1L683.9 561.3L684.2 560.5L684.5 559.7L684.8 558.9L685 558.1L685 557.3L684.9 556.5L684.8 555.7L684.6 554.9L684.4 554.1L684.2 553.3L684.1 552.5L684.1 551.7L684.2 550.9L684.2 550.1L684.3 549.3Z" fill="#f3f09b" stroke="#383838" stroke-width="0.6" stroke-linejoin="round"/>
<path d="M703.8 544.2L703.8 545L703.8 545.8L703.8 546.6L703.8 547.4L703.6 548.2L703.2 549L702.8 549.8L702.3 550.6L701.7 551.4L701.2 552.2L700.8 553L700.5 553.8L700.3 554.6L700.1 555.4L700.1 556.2L700.1 557L700.2 557.8L700.3 558.6L700.4 559.4L700.5 560.2L700.6 561L700.7 561.8L700.8 562.6L700.9 563.4L701 564.2L701 565L700.9 565.8L700.8 566.6L700.8 567.4L700.7 568.2L700.6 569L700.4 569.8L700.2 570.6L700 571.4L699.8 572.2L699.6 573L699.4 573.8L699.1 574.6L698.8 575.4L698.6 576.2L698.4 577L698.2 577.8L698 578.6L697.9 579.4L697.8 580.2L697.7 581L697.6 581.8L697.6 582.6L697.6 583.4L697.8 584.2L698.1 585L698.5 585.8L698.8 586.6L699.2 587.4L699.6 588.2L700.1 589L700.5 589.8L700.8 590.6L701.1 591.4L701.4 592.2L701.6 593L701.7 593.8L701.7 594.6L701.7 595.4L701.7 596.2L701.7 597L701.6 597.8L701.5 598.6L701.2 599.4L700.9 600.2L700.6 601L700.2 601.8L699.8 602.6L699.4 603.4L698.9 604.2L698.6 605L698.1 605.8L697.7 606.6L697.5 607.4L697.4 608.2L697.5 609L697.6 609.8L697.8 610.6L698 611.4L698.3 612.2L698.8 613L699.1 613.8L699.2 614.6L699.1 615.4L699 616.2L698.8 617L698.6 617.8L698.3 618.6L698 619.4L697.8 620.2L697.8 621L697.9 621.8L698 622.6L698.2 623.4L698.5 624.2L698.8 625L699.3 625.8L699.9 626.6L700.4 627.4L700.9 628.2L701.4 629L701.9 629.8L702.4 630.6L702.8 631.4L703.2 632.2L703.6 633L703.9 633.8L704.1 634.6L704.3 635.4L704.4 636.2L704.5 637L704.5 637.8L704.5 638.6L704.6 639.4L704.6 640.2L704.6 641L704.6 641.8L704.6 642.6L704.6 643.4L704.6 644.2L704.6 645L704.6 645.8L704.6 646.6L704.6 647.4L704.6 648.2L704.6 649L704.6 649.8L704.6 650.6L704.6 651.4L704.6 652.2L704.6 653L704.6 653.8L704.6 654.6L704.6 655.4L704.6 656.2L704.6 657L704.5 657.8L704.5 658.6L704.5 659.4L704.4 660.2L704.3 661L704.2 661.8L704.1 662.6L704 663.4L703.9 664.2L703.7 665L703.6 665.8L703.5 666.6L703.5 667.4L703.5 668.2L703.5 669L703.6 669.8L703.6 670.6L703.7 671.4L703.9 672.2L704.1 673L704.2 673.8L704.2 674.6L704.1 675.4L704.1 676.2L704 677L703.9 677.8L703.7 678.6L703.5 679.4L703.3 680.2L703.2 681L703.2 681.8L703.1 682.6L703.1 683.4L703.1 684.2L703.2 685L703.3 685.8L703.4 686.6L703.5 686.7L706.3 686.7L706.4 686.6L706.5 685.8L706.6 685L706.7 684.2L706.7 683.4L706.7 682.6L706.6 681.8L706.6 681L706.5 680.2L706.3 679.4L706.1 678.6L705.9 677.8L705.8 677L705.7 676.2L705.7 675.4L705.6 674.6L705.6 673.8L705.7 673L705.9 672.2L706.1 671.4L706.2 670.6L706.2 669.8L706.3 669L706.3 668.2L706.3 667.4L706.3 666.6L706.2 665.8L706.1 665L705.9 664.2L705.8 663.4L705.7 662.6L705.6 661.8L705.5 661L705.4 660.2L705.3 659.4L705.3 658.6L705.3 657.8L705.2 657L705.2 656.2L705.2 655.4L705.2 654.6L705.2 653.8L705.2 653L705.2 652.2L705.2 651.4L705.2 650.6L705.2 649.8L705.2 649L705.2 648.2L705.2 647.4L705.2 646.6L705.2 645.8L705.2 645L705.2 644.2L705.2 643.4L705.2 642.6L705.2 641.8L705.2 641L705.2 640.2L705.2 639.4L705.3 638.6L705.3 637.8L705.3 637L705.4 636.2L705.5 635.4L705.7 634.6L705.9 633.8L706.2 633L706.6 632.2L707 631.4L707.4 630.6L707.9 629.8L708.4 629L708.9 628.2L709.4 627.4L709.9 626.6L710.5 625.8L711 625L711.3 624.2L711.6 623.4L711.8 622.6L711.9 621.8L712 621L712 620.2L711.8 619.4L711.5 618.6L711.2 617.8L711 617L710.8 616.2L710.7 615.4L710.6 614.6L710.7 613.8L711 613L711.5 612.2L711.8 611.4L712 610.6L712.2 609.8L712.3 609L712.4 608.2L712.3 607.4L712.1 606.6L711.7 605.8L711.2 605L710.9 604.2L710.4 603.4L710 602.6L709.6 601.8L709.2 601L708.9 600.2L708.6 599.4L708.3 598.6L708.2 597.8L708.1 597L708.1 596.2L708.1 595.4L708.1 594.6L708.1 593.8L708.2 593L708.4 592.2L708.7 591.4L709 590.6L709.3 589.8L709.7 589L710.2 588.2L710.6 587.4L711 586.6L711.3 585.8L711.7 585L712 584.2L712.2 583.4L712.2 582.6L712.2 581.8L712.1 581L712 580.2L711.9 579.4L711.8 578.6L711.6 577.8L711.4 577L711.2 576.2L711 575.4L710.7 574.6L710.4 573.8L710.2 573L710 572.2L709.8 571.4L709.6 570.6L709.4 569.8L709.2 569L709.1 568.2L709 567.4L709 566.6L708.9 565.8L708.8 565L708.8 564.2L708.9 563.4L709 562.6L709.1 561.8L709.2 561L709.3 560.2L709.4 559.4L709.5 558.6L709.6 557.8L709.7 557L709.7 556.2L709.7 555.4L709.5 554.6L709.3 553.8L709 553L708.6 552.2L708.1 551.4L707.5 550.6L707 549.8L706.6 549L706.2 548.2L706 547.4L706 546.6L706 545.8L706 545L706 544.2Z" fill="#cb3335" stroke="#383838" stroke-width="0.6" stroke-linejoin="round"/>
<path d="M724.8 557L725.1 557.8L725.4 558.6L725.6 559.4L725.8 560.2L725.9 561L726.1 561.8L726.2 562.6L726.2 563.4L726.2 564.2L726.1 565L726 565.8L725.9 566.6L725.8 567.4L725.7 568.2L725.6 569L725.5 569.8L725.5 570.6L725.4 571.4L725.3 572.2L725.2 573L725.1 573.8L725.1 574.6L725 575.4L725 576.2L724.9 577L724.9 577.8L724.8 578.6L724.8 579.4L724.7 580.2L724.7 581L724.6 581.8L724.6 582.6L724.5 583.4L724.4 584.2L724.4 585L724.3 585.8L724.2 586.6L724.1 587.4L724 588.2L723.9 589L723.9 589.8L723.9 590.6L723.9 591.4L724 592.2L724.1 593L724.3 593.8L724.5 594.6L724.7 595.4L725 596.2L725.1 597L725.1 597.8L725.1 598.6L725.1 599.4L725.1 600.2L725.1 601L725 601.8L724.8 602.6L724.6 603.4L724.4 604.2L724.3 605L724.3 605.8L724.2 606.6L724.1 607.4L724 608.2L723.9 609L723.7 609.8L723.6 610.6L723.4 611.4L723.1 612.2L722.8 613L722.4 613.8L722.1 614.6L721.8 615.4L721.6 616.2L721.3 617L721.1 617.8L721 618.6L721 619.4L720.9 620.2L720.9 621L720.8 621.8L720.8 622.6L720.9 623.4L721.1 624.2L721.3 625L721.5 625.8L721.8 626.6L722.2 627.4L722.6 628.2L723.1 629L723.5 629.8L724 630.6L724.6 631.4L725 632.2L725.5 633L725.9 633.8L726.3 634.6L726.7 635.4L726.9 636.2L726.9 637L726.9 637.8L726.9 638.6L726.9 639.4L726.9 640.2L726.8 641L726.6 641.8L726.4 642.6L726.2 643.4L726.2 644.2L726.1 645L726.1 645.8L726 646.6L726 647.4L726 648.2L726.1 649L726.2 649.8L726.4 650.6L726.6 651.4L726.8 652.2L727 653L727.2 653.8L727.5 654.6L727.7 655.4L727.8 656.2L727.9 657L727.9 657.8L728 658.6L728 659.4L728 660.2L727.9 661L727.8 661.8L727.7 662.6L727.6 663.4L727.5 664.2L727.4 665L727.3 665.8L727.3 666.6L727.3 667.4L727.3 668.2L727.4 669L727.5 669.8L727.6 670.6L727.8 671.4L727.9 672.2L728.1 673L728.2 673.8L728.2 674.6L728.2 675.4L728.2 676.2L728.2 677L728.2 677.8L728.1 678.6L728 679.4L727.8 680.2L727.7 681L727.6 681.8L727.5 682.6L727.4 683.4L727.3 684.2L727.3 685L727.3 685.8L727.4 686.6L727.5 687.4L727.6 688.2L727.7 689L727.8 689.8L727.9 690.6L728 691.4L728 692.2L727.9 693L727.9 693.8L727.8 694.6L727.7 695.4L727.5 696.2L727.4 697L727.3 697.8L727.3 698.6L727.3 699.4L727.4 700.1L730 700.1L730.1 699.4L730.1 698.6L730.1 697.8L730 697L729.9 696.2L729.7 695.4L729.6 694.6L729.5 693.8L729.5 693L729.4 692.2L729.4 691.4L729.5 690.6L729.6 689.8L729.7 689L729.8 688.2L729.9 687.4L730 686.6L730.1 685.8L730.1 685L730.1 684.2L730 683.4L729.9 682.6L729.8 681.8L729.7 681L729.6 680.2L729.4 679.4L729.3 678.6L729.2 677.8L729.2 677L729.2 676.2L729.2 675.4L729.2 674.6L729.2 673.8L729.3 673L729.5 672.2L729.6 671.4L729.8 670.6L729.9 669.8L730 669L730.1 668.2L730.1 667.4L730.1 666.6L730.1 665.8L730 665L729.9 664.2L729.8 663.4L729.7 662.6L729.6 661.8L729.5 661L729.4 660.2L729.4 659.4L729.4 658.6L729.5 657.8L729.5 657L729.6 656.2L729.7 655.4L729.9 654.6L730.2 653.8L730.4 653L730.6 652.2L730.8 651.4L731 650.6L731.2 649.8L731.3 649L731.4 648.2L731.4 647.4L731.4 646.6L731.3 645.8L731.3 645L731.2 644.2L731.2 643.4L731 642.6L730.8 641.8L730.6 641L730.5 640.2L730.5 639.4L730.5 638.6L730.5 637.8L730.5 637L730.5 636.2L730.7 635.4L731.1 634.6L731.5 633.8L731.9 633L732.4 632.2L732.8 631.4L733.4 630.6L733.9 629.8L734.3 629L734.8 628.2L735.2 627.4L735.6 626.6L735.9 625.8L736.1 625L736.3 624.2L736.5 623.4L736.6 622.6L736.6 621.8L736.5 621L736.5 620.2L736.4 619.4L736.4 618.6L736.3 617.8L736.1 617L735.8 616.2L735.6 615.4L735.3 614.6L735 613.8L734.6 613L734.3 612.2L734 611.4L733.8 610.6L733.7 609.8L733.5 609L733.4 608.2L733.3 607.4L733.2 606.6L733.1 605.8L733.1 605L733 604.2L732.8 603.4L732.6 602.6L732.4 601.8L732.3 601L732.3 600.2L732.3 599.4L732.3 598.6L732.3 597.8L732.3 597L732.4 596.2L732.7 595.4L732.9 594.6L733.1 593.8L733.3 593L733.4 592.2L733.5 591.4L733.5 590.6L733.5 589.8L733.5 589L733.4 588.2L733.3 587.4L733.2 586.6L733.1 585.8L733 585L733 584.2L732.9 583.4L732.8 582.6L732.8 581.8L732.7 581L732.7 580.2L732.6 579.4L732.6 578.6L732.5 577.8L732.5 577L732.4 576.2L732.4 575.4L732.3 574.6L732.3 573.8L732.2 573L732.1 572.2L732 571.4L731.9 570.6L731.9 569.8L731.8 569L731.7 568.2L731.6 567.4L731.5 566.6L731.4 565.8L731.3 565L731.2 564.2L731.2 563.4L731.2 562.6L731.3 561.8L731.5 561L731.6 560.2L731.8 559.4L732 558.6L732.3 557.8L732.6 557Z" fill="#3274a1" stroke="#383838" stroke-width="0.6" stroke-linejoin="round"/>
<rect x="455.2" y="426.8" width="309" height="316.3" fill="none" stroke="#3a3a3a" stroke-width="0.9"/>
<line x1="447.9" y1="718.7" x2="455.2" y2="718.7" stroke="#3a3a3a" stroke-width="0.9"/>
<text x="440.8" y="722.7" font-size="11.5" text-anchor="end" fill="#222" textLength="6.9" lengthAdjust="spacingAndGlyphs">0</text>
<line x1="447.9" y1="670" x2="455.2" y2="670" stroke="#3a3a3a" stroke-width="0.9"/>
<text x="440.8" y="674" font-size="11.5" text-anchor="end" fill="#222" textLength="16.8" lengthAdjust="spacingAndGlyphs">0.2</text>
<line x1="447.9" y1="621.4" x2="455.2" y2="621.4" stroke="#3a3a3a" stroke-width="0.9"/>
<text x="440.8" y="625.4" font-size="11.5" text-anchor="end" fill="#222" textLength="16.8" lengthAdjust="spacingAndGlyphs">0.4</text>
<line x1="447.9" y1="572.7" x2="455.2" y2="572.7" stroke="#3a3a3a" stroke-width="0.9"/>
<text x="440.8" y="576.7" font-size="11.5" text-anchor="end" fill="#222" textLength="16.8" lengthAdjust="spacingAndGlyphs">0.6</text>
<line x1="447.9" y1="524.1" x2="455.2" y2="524.1" stroke="#3a3a3a" stroke-width="0.9"/>
<text x="440.8" y="528.1" font-size="11.5" text-anchor="end" fill="#222" textLength="16.8" lengthAdjust="spacingAndGlyphs">0.8</text>
<line x1="447.9" y1="475.4" x2="455.2" y2="475.4" stroke="#3a3a3a" stroke-width="0.9"/>
<text x="440.8" y="479.4" font-size="11.5" text-anchor="end" fill="#222" textLength="16.8" lengthAdjust="spacingAndGlyphs">1.0</text>
<line x1="514.3" y1="743.1" x2="514.3" y2="750.4" stroke="#3a3a3a" stroke-width="0.9"/>
<text x="514.3" y="766.3" font-size="11.5" text-anchor="middle" fill="#222" textLength="6.6" lengthAdjust="spacingAndGlyphs">2</text>
<line x1="609.6" y1="743.1" x2="609.6" y2="750.4" stroke="#3a3a3a" stroke-width="0.9"/>
<text x="609.6" y="766.3" font-size="11.5" text-anchor="middle" fill="#222" textLength="6.6" lengthAdjust="spacingAndGlyphs">3</text>
<line x1="704.6" y1="743.1" x2="704.6" y2="750.4" stroke="#3a3a3a" stroke-width="0.9"/>
<text x="704.6" y="766.3" font-size="11.5" text-anchor="middle" fill="#222" textLength="6.6" lengthAdjust="spacingAndGlyphs">5</text>
<text x="610.1" y="788.3" font-size="14.2" text-anchor="middle" fill="#222" textLength="160.6" lengthAdjust="spacingAndGlyphs">Number of MvN restraints</text>
<text x="409.1" y="585" font-size="14.2" text-anchor="middle" fill="#222" textLength="157.6" lengthAdjust="spacingAndGlyphs" transform="rotate(-90 409.1 585)">Restraint satisfaction rate</text>
<rect x="461.5" y="435.6" width="225" height="66.5" rx="1" fill="#fff" fill-opacity="0.85" stroke="#dcdcdc" stroke-width="0.9"/>
<circle cx="471.5" cy="449.8" r="2.0" fill="#fbf68a"/>
<text x="483.8" y="454.7" font-size="14.2" text-anchor="start" fill="#222" textLength="142.5" lengthAdjust="spacingAndGlyphs">Ground truth structure</text>
<circle cx="471.5" cy="468" r="2.0" fill="#e02a2c"/>
<text x="483.8" y="472.9" font-size="14.2" text-anchor="start" fill="#222" textLength="87.7" lengthAdjust="spacingAndGlyphs">Top1 structure</text>
<circle cx="471.5" cy="486.4" r="2.0" fill="#2f7fc3"/>
<text x="483.8" y="491.3" font-size="14.2" text-anchor="start" fill="#222" textLength="193.8" lengthAdjust="spacingAndGlyphs">Best structure of all candidates</text>
<text x="395.6" y="422" font-size="19" text-anchor="start" fill="#000" textLength="14.8" lengthAdjust="spacingAndGlyphs" font-weight="bold" stroke="#000" stroke-width="0.5">d</text>
<path d="M95.6 1084L96.9 1078.4L98.2 1071.8L99.5 1066.9L100.8 1066.2L102.1 1065.3L103.4 1063.4L104.7 1061.8L106 1061.2L107.3 1060.8L108.5 1059.5L109.8 1058.3L111.1 1059.5L112.4 1060.2L113.7 1061.7L115 1060L116.3 1058.3L117.6 1053.9L118.9 1050.5L120.2 1046.3L121.5 1045.8L122.7 1046.2L124 1047.1L125.3 1043.6L126.6 1040.4L127.9 1037.6L129.2 1037.6L130.5 1036.3L131.8 1033.5L133.1 1029.8L134.4 1026L135.7 1023.6L137 1020.9L138.2 1018.6L139.5 1016.8L140.8 1014.7L142.1 1013.3L143.4 1011.4L144.7 1009L146 1006L147.3 1002.4L148.6 1000.7L149.9 998.1L151.2 995.3L152.5 991.8L153.7 989.4L155 989.4L156.3 990L157.6 989.4L158.9 986.8L160.2 984.7L161.5 982.6L162.8 980.4L164.1 978.2L165.4 977L166.7 977.8L168 977.6L169.2 978.2L170.5 977.4L171.8 977.5L173.1 974.9L174.4 971L175.7 967.7L177 967.2L178.3 968.4L179.6 969.3L180.9 968.6L182.2 968.1L183.4 964.7L184.7 960.6L186 956.1L187.3 955.3L188.6 956.1L189.9 955.4L191.2 953.4L192.5 950.8L193.8 950.5L195.1 949.9L196.4 949.1L197.7 948.6L198.9 948.3L200.2 948.2L201.5 944.9L202.8 940.4L204.1 935.4L205.4 932.8L206.7 932.3L208 931.2L209.3 930.2L210.6 927.8L211.9 928L213.2 927.5L214.4 929.3L215.7 929.9L217 931.3L218.3 930.4L219.6 927.2L220.9 921.6L222.2 916.6L223.5 913.8L224.8 914.5L226.1 914.3L227.4 913.1L228.7 910.7L229.9 909.1L231.2 907.3L232.5 905.9L233.8 905.2L235.1 905.4L236.4 904.9L237.7 903.7L239 902.7L240.3 900.2L241.6 898L242.9 894.4L244.1 893.5L245.4 892.9L246.7 894.5L248 895.3L249.3 895.6L250.6 894.3L251.9 891.1L253.2 890L254.5 886.5L255.8 885.8L257.1 881.6L258.4 880L259.6 877.7L260.9 877L262.2 874.7L263.5 870.9L264.8 868.5L266.1 868.4L267.4 870.1L268.7 869.6L270 868.1L271.3 866.1L272.6 866.7L273.9 867.1L275.1 869.1L276.4 868.1L277.7 866.7L279 862.6L280.3 861.1L281.6 860.3L282.9 862.2L284.2 863.6L285.5 864.1L286.8 863.6L288.1 862.5L289.3 863L290.6 863.8L291.9 863.3L293.2 861.3L294.5 859.1L295.8 859.4L297.1 858.7L298.4 858.1L299.7 856.9L301 858.8L302.3 860.6L303.6 861.3L304.8 860L306.1 857.2L307.4 856.4L308.7 855.6L310 856.7L311.3 856.2L312.6 857.2L313.9 858.3L313.9 866.3L312.6 868.9L311.3 869.7L310 869L308.7 870.7L307.4 875.2L306.1 880.5L304.8 882.2L303.6 881.9L302.3 881.2L301 882.8L299.7 884.8L298.4 887.8L297.1 890.7L295.8 895.3L294.5 899.3L293.2 903.7L291.9 906.8L290.6 908.9L289.3 910.8L288.1 910.9L286.8 911.1L285.5 911.5L284.2 915L282.9 919.2L281.6 922.6L280.3 925L279 926.3L277.7 927.1L276.4 927.2L275.1 928.6L273.9 931.6L272.6 933.9L271.3 937.4L270 939.4L268.7 941.8L267.4 941.7L266.1 942.5L264.8 942.7L263.5 943.6L262.2 944.7L260.9 947.2L259.6 949.7L258.4 950.7L257.1 949.8L255.8 949.4L254.5 950.7L253.2 954.3L251.9 956.6L250.6 957L249.3 956.3L248 956.7L246.7 959.6L245.4 962.5L244.1 964.7L242.9 965.2L241.6 965.4L240.3 965.2L239 965.1L237.7 967.1L236.4 970.5L235.1 975.8L233.8 977.3L232.5 977.6L231.2 976.1L229.9 976.9L228.7 978.1L227.4 980.2L226.1 983.5L224.8 986.5L223.5 989L222.2 989.3L220.9 991.4L219.6 993.4L218.3 995.9L217 995.3L215.7 994.3L214.4 993.1L213.2 993.8L211.9 996L210.6 1000L209.3 1003.5L208 1005.3L206.7 1006.3L205.4 1006.2L204.1 1008.2L202.8 1009.2L201.5 1011.4L200.2 1010.7L198.9 1010.6L197.7 1010.9L196.4 1012.8L195.1 1014.5L193.8 1015.2L192.5 1015.9L191.2 1017.6L189.9 1020.7L188.6 1021.8L187.3 1021.8L186 1023.2L184.7 1028.1L183.4 1033.5L182.2 1036.2L180.9 1035.6L179.6 1033.7L178.3 1031.3L177 1030.1L175.7 1030.7L174.4 1032L173.1 1033.6L171.8 1035.3L170.5 1038.4L169.2 1040.9L168 1041.1L166.7 1041.6L165.4 1041.1L164.1 1042.4L162.8 1041.7L161.5 1044.1L160.2 1046.2L158.9 1050.2L157.6 1052.6L156.3 1055.5L155 1057.6L153.7 1058.7L152.5 1058.9L151.2 1058.1L149.9 1059.5L148.6 1061.8L147.3 1065.5L146 1067.3L144.7 1068.2L143.4 1068.5L142.1 1068.1L140.8 1067.3L139.5 1066.4L138.2 1067.5L137 1070.2L135.7 1073L134.4 1073.5L133.1 1072.6L131.8 1072L130.5 1073.8L129.2 1076.1L127.9 1077.9L126.6 1076.5L125.3 1073.7L124 1071.9L122.7 1073.1L121.5 1076.8L120.2 1079.2L118.9 1081.9L117.6 1081.7L116.3 1082.1L115 1081L113.7 1081.4L112.4 1082L111.1 1083.3L109.8 1084L108.5 1085L107.3 1087L106 1089.6L104.7 1090.3L103.4 1089L102.1 1087.4L100.8 1087.8L99.5 1090.1L98.2 1091.8L96.9 1093.1L95.6 1093.1Z" fill="#1f77b4" stroke="#1f77b4" stroke-width="2.5" stroke-linejoin="round"/>
<path d="M194 909.4h0M219.6 1003.6h0M250.7 967.7h0M244.3 879h0M244.3 977.8h0M154.1 988.6h0M99.9 1092.5h0M270.4 944h0M206.1 1008.6h0M231.1 892h0M135.9 1068.6h0M238.8 896.6h0M255.2 1025.4h0M192.1 1020h0M135.6 956.9h0M247 968h0M271.8 941.5h0M200.9 875.3h0M199.3 943.6h0M217.7 906.4h0M132.5 1025h0M279.7 927.7h0M199.1 1014.5h0M188 918.6h0M198 945.5h0M129.4 1072h0M230.1 885.4h0M228.2 904.2h0M121.4 883.7h0M245.4 880.2h0M213.6 908.3h0M235 989.3h0M126.1 985.4h0M190.9 1022.5h0M222.3 995.2h0M290.7 858.4h0M192.2 942.1h0M257.3 962.6h0M137.7 913.6h0M163.9 945.9h0M260.4 958.3h0M105.7 1058.3h0M307.3 876h0M212.3 1011.7h0M216 870.3h0M278.3 958.3h0M275.2 863.6h0M154.2 978.4h0M171.9 973.3h0M200 942.6h0M212.1 922.5h0M176.9 1029.2h0M152.1 1054.7h0M275.8 932.6h0M174.2 971.9h0M222.4 913.5h0M271.5 865.9h0M242.2 879.4h0M274.1 864.1h0M247.5 879.7h0M117.9 1037.3h0M224.2 911.1h0M120.8 1013.4h0M204 1016h0M255.8 871.3h0M263.7 868.9h0M152 950.8h0M127.2 1090.4h0M238.1 876.1h0M214.4 1002.2h0M196.9 945.8h0M258.2 869.7h0M268.9 956.8h0M285.8 859.4h0M283.2 862h0M211.5 927.5h0M174.8 960h0M180.8 949h0M164.3 1047.8h0M196.9 947h0M285.2 859.6h0M185.5 1031.2h0M119.7 941.6h0M227.9 899.8h0M280.9 854.5h0M205.8 934.4h0M167 967.9h0M287.6 859.4h0M172.3 1041.3h0M256 967.9h0M232.2 987.5h0M273.4 864.9h0M266.2 865.2h0M284.3 861.2h0M247.1 971.7h0M251.3 972.2h0M262.9 955.2h0M256.8 877.7h0M137.9 1008.6h0M270.4 959.6h0M138.1 884.9h0M165.1 964.5h0M223.8 896.8h0M158.9 964.8h0M224.1 915h0M307.4 875.9h0M205.7 932.7h0M161.4 1060.7h0M197.6 943h0M250.6 965.6h0M193.8 1033.6h0M120.6 1042.6h0M198.8 944.3h0M258.4 858.4h0M194.7 1025.2h0M221.7 902.3h0M106.3 1009.4h0M211.6 1009.1h0M207.1 921.6h0M300.7 888.3h0M205.3 1013.5h0M247.2 877.9h0M227.1 895.3h0M236.7 880.8h0M118.3 955.6h0M207.5 1007.8h0M125.2 1036.7h0M253.5 990.2h0M263.3 869.6h0M230.9 993.3h0M204.5 896.9h0M163.3 918h0M200.2 1011.8h0M252.3 1028.2h0M288.9 859.5h0M241.9 980.2h0M183.8 1044.6h0M236.6 989.4h0M231.3 990.2h0M259.8 952.4h0M217.5 999.7h0M170.8 972.1h0M99.3 1069.2h0M275 974.2h0M269.7 861.6h0M262.5 873.1h0M267.2 955.9h0M274.6 863.8h0M209.4 919.3h0M265.4 869.6h0M273.3 937.3h0M267 952.1h0M250.4 967.5h0M265.4 945.7h0M290.8 858h0M231.6 982.9h0M112.6 926.6h0M271 937.6h0M281.4 923.5h0M283.2 860.1h0M273 864.9h0M271 865h0M143.1 959.4h0M258.7 876.4h0M181.7 929.7h0M308.4 855.6h0M196.4 888h0M175.7 1031.3h0M217.7 918.7h0M171.8 965.5h0M250.5 866.1h0M115.5 913.1h0M283.8 919.2h0M271.5 864.7h0M282.7 862.7h0M200.4 943.9h0M221.2 998.2h0M197.9 1015.4h0M163 966.9h0M213.2 1003h0M219.3 916h0M172.2 1032.9h0M200.9 1011.6h0M232.2 905.6h0M229.3 895.8h0M232.7 992.1h0M257.5 870.8h0M273.6 935.7h0M220.2 1002.9h0M140.1 1008.9h0M141.2 894.2h0M212.2 921.1h0M138.9 910.1h0M134 1003.7h0M124.8 1040.5h0M288.1 917.1h0M291.1 903.4h0M244.8 977.1h0M275 941.3h0M165.6 949.1h0M270.2 936.8h0M278.4 960.7h0M308.5 874.9h0M236.4 980.5h0M278.6 951.2h0M121.6 1079.5h0M207.9 1039.5h0M259.6 966.3h0M266 944.3h0M276.3 934.3h0M198.3 945.5h0M303.7 883.4h0M220.7 995.9h0M254.7 882.5h0M213.2 923.8h0M235.5 975.6h0M198.8 1019.2h0M120.4 1040.6h0M102.8 1061h0M177.6 965.5h0M197.3 1014.4h0M194.5 916.4h0M176.8 1052.2h0M238.3 988.7h0M276.8 935h0M213.2 1007h0M226 901h0M284.4 915.1h0M301.9 887.7h0M264.5 856.7h0M274.9 932.1h0M280.3 925.7h0M212 922.4h0M284.1 947.7h0M249.8 870.6h0M300.3 889.1h0M260.3 874.3h0M268.4 867.6h0M285.7 859.6h0M204.9 936.8h0M222.8 915.2h0M202.2 941.6h0M247.6 966.3h0M112.2 1048.4h0M256.4 967.7h0M246.5 881.8h0M283.1 861.7h0M234.1 889.3h0M168.2 972.9h0M178.6 950.4h0M154.7 921.5h0M228.7 1005.2h0M175.7 1034.4h0M310.3 855.1h0M178.3 939.5h0M162.6 915.5h0M283.6 918.2h0M249.9 966.8h0M301.5 855.4h0M235.6 889.3h0M264.3 872.2h0M243.8 978.3h0M164 1060.3h0M272.3 940.1h0M217.9 915.9h0M199.4 906.6h0M218.3 919.9h0M143.1 994.1h0M278.3 861.5h0M241.3 881.2h0M194.2 941.5h0M265.6 951.7h0M237 877.6h0M264.4 955.3h0M193.5 949.1h0M279.9 945.5h0M188.9 950.6h0M168.8 1051.2h0M220.4 997.5h0M254.6 963.7h0M276.6 942.1h0M111.8 1085.1h0M129.3 1074.3h0M280.2 861.2h0M223.7 903.9h0M272 866h0M129 1034.6h0M139.2 992.4h0M100.7 1064.2h0M182.6 952h0M284.7 919h0M121.4 918.1h0M220.6 906.4h0M252.3 865.8h0M108.2 1058.7h0M253.3 875.7h0M141.5 1009.9h0M100.3 1089.3h0M103.8 1089.9h0M177.3 959.6h0M292.8 900.5h0M251.5 865h0M107.2 963.7h0M116.7 959.8h0M219.3 902.4h0M159.8 985.7h0M209.8 918.8h0M237.2 989.8h0M272.9 959.5h0M202.6 939.4h0M211.9 1001h0M211 926h0M242 876h0M266.4 962.1h0M254.1 872.2h0M229.8 893.2h0M103.6 941h0M267.7 949.5h0M267.4 867.3h0M203.7 1010.4h0M251.9 961.4h0M230.4 991.3h0M303.7 885.1h0M228.6 892.2h0M266.9 941.8h0M160.2 971.3h0M231 987.5h0M229.2 904.5h0M120.8 1021.9h0M221.7 996.4h0M113.7 1049.4h0M115.2 1085.7h0M207.8 926.2h0M226.8 995.8h0M225.6 900.1h0M255.3 871.3h0M252.1 965.8h0M300.6 897.9h0M248.9 965.6h0M246.8 876.3h0M122.2 940.8h0M235.6 887.9h0M217.2 922.2h0M278.1 855.4h0M142.7 935.4h0M193.2 946.7h0M171.7 957.4h0M233.4 894.6h0M273.4 863.1h0M278.4 1030.4h0M197.8 1018.2h0M141.8 1008.6h0M109.1 992h0M276.2 933.4h0M126.4 1077.7h0M258.4 964.2h0M266.5 978.8h0M220.1 915h0M128.5 935.4h0M278.4 863.6h0M204.4 1011.5h0M199.4 944.5h0M108.7 1054.4h0M193.4 949.8h0M238.5 888.9h0M192.3 1038.4h0M232.8 901.1h0M186.7 954.2h0M256 879h0M268.1 862.1h0M123.3 1081.4h0M170 972.3h0M286.1 914h0M249.9 972.3h0M208.5 1007.1h0M251.5 874.2h0M259 871.3h0M275 862.6h0M223.9 909.9h0M287.5 859.7h0M187.9 945.6h0M209.3 929.8h0M165.8 975.9h0M219.8 912.3h0M261 947.6h0M286.7 859.4h0M225.4 891.5h0M197 1014.1h0M203.3 1011.1h0M270.8 863.5h0M219.5 1044h0M181.1 945.8h0M100.7 1057.2h0M226.2 901.4h0M186.5 952.8h0M189.6 1021.8h0M291.3 856.1h0M295.8 859.7h0M286.8 918.7h0M267.3 868.5h0M180.9 1053h0M219 915.9h0M252.6 967.8h0M201.6 942.3h0M236.3 883.2h0M284.1 861.3h0M247.2 882.7h0M225.3 898.8h0M96.6 1075.5h0M103.7 1090.1h0M271.3 865.6h0M249.8 878.7h0M220.2 1001.9h0M285.9 859.5h0M146.4 933.3h0M204 937.9h0M286.5 859.7h0M159.8 938.6h0M234.4 879.8h0M195 948.1h0M226.3 907.2h0M197.9 946.5h0M195.9 1017.5h0M138.9 1012.4h0M298.8 856.4h0M221.8 1002.9h0M197 947.4h0M171.3 973.4h0M175.7 957.7h0M136.1 929h0M198.2 1026.1h0M213.7 999.9h0M205.9 933.8h0M200.4 943.1h0M282.6 863.4h0M306.5 854.6h0M287.7 912.6h0M293.8 939.7h0M289.3 908.2h0M231 903.6h0M111.2 1053.5h0M272.2 863.4h0M278.7 970.2h0M183.7 944.4h0M242 863h0M279.6 864.6h0M207 1023.9h0M270.4 937.2h0M212.6 902.1h0M261.2 957.4h0M107.1 1040.9h0M106.4 962.2h0M239.3 978.1h0M236.8 976.6h0M268.7 939.2h0M265.4 870.4h0M282.9 861h0M246.9 872.3h0M185.2 953.1h0M275.9 1031.9h0M127.6 972.1h0M211.4 922.3h0M268.2 864.7h0M278.2 862.5h0M225.7 899.2h0M253.7 960.4h0M256.6 960.2h0M270.3 938.9h0M226.7 902.5h0M145.7 1065.4h0M156 985.1h0M193.2 950.3h0M139.3 1014.8h0M171.4 963.6h0M200.6 942h0M230.9 883.1h0M167.2 964.2h0M264.8 867.2h0M107 1091.1h0M219 909.6h0M203.8 932.7h0M266.8 944.8h0M298.3 857.8h0M276.1 934.4h0M302.4 856.8h0M299.3 854.6h0M195.4 1026.4h0M211.5 920.6h0M227.2 912h0M237.2 992.2h0M189.4 953.1h0M286.4 854.5h0M188.8 1046h0M99.9 1064.3h0M199.3 1015.5h0M254.5 964.3h0M236.2 987.4h0M247.4 867.1h0M108.2 1091.5h0M284.6 917.8h0M286.3 953.7h0M163.1 965.4h0M281.5 861.9h0M226.6 989h0M239.3 971.3h0M284.4 917.9h0M276.2 933.3h0M228.8 989.2h0M238.3 885.7h0M156.1 1050.6h0M169.7 978h0M212.2 881.3h0M297.1 855.6h0M156.4 976.3h0M110.6 1057.4h0M268.9 865h0M201.9 940.5h0M228 996.9h0M240.6 978.5h0M234.2 873.7h0M199.9 944.6h0M125.7 1032.6h0M221.2 1015.9h0M263.8 864.2h0M285.2 970.2h0M164.2 1055h0M203.9 936h0M115.5 962h0M253.2 957.2h0M231.8 894.3h0M261.1 860.9h0M220.2 884.5h0M211.9 1011.5h0M298.8 856.6h0M224.8 907.5h0M210 1039.8h0M110.9 1054h0M254.9 1014.6h0M287 860.5h0M220.3 1046.5h0M268.5 866.6h0M218.7 888.3h0M281.3 861.7h0M298.3 854.9h0M144.5 1064.2h0M288 915.3h0M176 966.1h0M250.9 861.4h0M312.6 855.4h0M271.3 962.3h0M294.9 902.4h0M178.3 962.2h0M207.9 1037.5h0M220.6 909.2h0M251.6 1026.7h0M172.3 947.3h0M206.8 919.9h0M194.7 1017.5h0M218.6 915.9h0M283.7 921.7h0M261.5 872.1h0M223.7 901.4h0M199.7 1044.6h0M158.5 983.8h0M200.1 876h0M100.1 1092h0M219.1 873.7h0M201.5 1012h0M174.7 962.8h0M251.8 965.9h0M279.8 930h0M230.8 899.7h0M206.4 1018.3h0M237.6 897.7h0M274.7 934.2h0M287.9 858.7h0M277.6 863.8h0M244.5 872.9h0M234.1 889h0M265.7 957.2h0M249.5 877.8h0M261.7 961.1h0M265.6 868.7h0M174.6 1035.1h0M272.8 863.1h0M284 931.8h0M143.1 1067.2h0M209.3 925.9h0M119.3 1083.8h0M199.2 941.6h0M266.5 942.5h0M116.7 1015.9h0M243.2 890.6h0M163.1 971.9h0M253.7 878.6h0M213.4 926.2h0M144.3 985.3h0M257 874.5h0M214 999.3h0M141.4 1008.6h0M275 944h0M280.7 960.5h0M268.7 866.5h0M191 950.6h0M263.6 953.3h0M235.4 888.4h0M232.9 990.6h0M223.6 1005.9h0M281.3 924.8h0M272.5 864.7h0M199.9 1013.7h0M196.9 945.9h0M254.6 954.9h0M195.2 1017h0M181 949.3h0M169.3 974.1h0M280.4 865.8h0M120.9 1045.1h0M204.5 930.5h0M269.2 854.8h0M167.7 973.5h0M207 1006.2h0M227.5 991.6h0M278.9 966.3h0M234.6 884.5h0M244.6 977.4h0M218.7 914.7h0M291.6 904.4h0M187.2 954.5h0M270.4 865h0M229.8 879.7h0M229.5 870.9h0M200.3 943.3h0M217.5 1001.1h0M229.8 902.2h0M181.5 1027.3h0M140.1 1067.5h0M195.4 948.8h0M104 1091.5h0M249.3 880.2h0M267.5 865.7h0M218.8 916.3h0M236.6 895.2h0M137.6 959h0M130.7 1032.3h0M231 980.7h0M228 995.5h0M261.6 873.2h0M282.8 924.5h0M157.5 990.5h0M228.1 889.9h0M218.8 916h0M280.9 924.8h0M236.7 978.9h0M132.5 1026.2h0M132.9 1091.8h0M141 1014.4h0M275.3 859.1h0M277.5 863.5h0M235.6 894.8h0M173.2 967h0M231.4 900.5h0M252.8 968h0M110 1053.7h0M264.1 867.4h0M200.4 941.3h0M257.6 874.9h0M143.3 1008.8h0M138.7 1012h0M224.4 894.6h0M282.1 858.4h0M198 1010.4h0M281.7 859.7h0M213.3 927.6h0M125.1 1091.4h0M105.2 1057.6h0M215.4 918.1h0M271.3 864.3h0M231.5 986.2h0M224.8 995.2h0M266.2 945.1h0M237.7 896.4h0M237.8 901.3h0M267.4 868.7h0" stroke="#1f77b4" stroke-opacity="0.62" stroke-width="3.8" stroke-linecap="round" fill="none"/>
<path d="M144.2 1077.1h0M205.5 933.5h0M108.8 1086.6h0M208.3 1005.1h0M176.3 1031.5h0M242.2 896.3h0M207.3 1007.5h0M257.3 877h0M147.9 1000.2h0M225.5 990.5h0M162.3 955.6h0M275.9 960.2h0M142.1 1006.5h0M284.4 859.3h0M118.7 1085h0M225.3 996h0M244.9 977.7h0M228.5 982.4h0M202 939.9h0M98 1071.6h0M301.3 889.8h0M144.4 1007.4h0M299.2 890.4h0M210.2 925h0M232.2 894.4h0M228.3 885.7h0M216.7 903.9h0M277.6 925.7h0M208.1 929.7h0M300.9 855h0M258.1 1021.2h0M177.2 960h0M183.2 1029.4h0M152.4 985.7h0M186 927.2h0M207.1 922.6h0M252.5 958h0M245.8 891.2h0M218.5 910.1h0M280.3 862.4h0M270.4 955.5h0M122.4 1040.9h0M216.3 1006.2h0M281.7 922.4h0M269.2 944.8h0M106.6 1090.9h0M222.7 996.5h0M244.2 885.3h0M263.8 867h0M224.1 905h0M278.4 932.5h0M262.4 870.9h0M214.1 926.3h0M263 954.9h0M203.6 1017.9h0M123.5 1037.6h0M249.1 971.8h0M153.3 974.5h0M206.1 931.9h0M243.6 892.9h0M271.8 864.1h0M175.5 950.7h0M256.5 868.3h0M198.1 946.8h0M283.3 988.8h0M214.4 1000.6h0M289.7 858.8h0M229 875.2h0M224.7 1000.3h0M274.8 931.8h0M259.9 871.5h0M220.1 919.1h0M153.6 954.5h0M133.6 943h0M225.4 907.1h0M159.4 1058.1h0M229.7 890.6h0M254.7 872.3h0M275.7 929h0M272.3 936.3h0M221.1 891.8h0M217.6 906.8h0M133.1 1070.9h0M285.3 859.7h0M196.2 938.3h0M162.4 1045.9h0M277.8 956.3h0M103.4 991.1h0M278.4 927.3h0M239.3 865.7h0M216.7 995.4h0M135.8 1023.7h0M129.7 879h0M200.5 942h0M119.2 1091.9h0M211.6 925.5h0M222.4 879.1h0M238.5 893.8h0M267.1 861.3h0M174.5 957.8h0M117.5 1083.1h0M197.4 1044.4h0M288.8 914.7h0M291.6 911.1h0M222.3 989.9h0M274.4 864.9h0M263 872.6h0M164.3 936.5h0M261.6 959.8h0M197.3 945.6h0M202.1 941.7h0M270.4 863.5h0M276.5 862.3h0M247.7 881.5h0M277.2 935.1h0M132.5 981.2h0M167.6 981.1h0M140.4 1014.2h0M236 890.5h0M260.1 964h0M148.3 1002.6h0M121.1 1042.8h0M273.4 863.9h0M108 1054.7h0M254.6 877.6h0M193.3 951h0M245.1 877.7h0M260 959.9h0M238.1 981.3h0M222.9 1004.6h0M297.5 858.7h0M224.6 1035.7h0M246 876.7h0M194.1 1045.9h0M190.2 955.6h0M205 936.1h0M120.3 1091.5h0M250 875.1h0M126.5 1091.9h0M253.2 882.3h0M207.7 891.9h0M209.3 1021.5h0M166.5 956.9h0M276.7 961.1h0M261.4 970h0M129.2 1075.3h0M224.2 908.3h0M122.4 1091h0M135.4 992.6h0M198.9 945.1h0M105.6 1048.3h0M178.8 920.2h0M123.4 968.5h0M99.2 1065.7h0M291 859.6h0M144.1 1070.9h0M285.6 859.4h0M176.4 963.8h0M235.2 993.2h0M287.6 860.1h0M236.7 875.6h0M279.3 925.6h0M248.3 971.1h0M207.3 930.8h0M188.3 1019.7h0M149.9 993.1h0M255.3 881.3h0M141.3 1007.1h0M201.9 1043.6h0M281.4 861.6h0M212.6 921.6h0M111.5 1056.2h0M286.5 859.6h0M198.7 944.8h0M241.2 892h0M234 903.2h0M226.9 992h0M233.9 892h0M184.6 1038.7h0M196.2 1015.2h0M246.4 969.5h0M305.9 947.1h0M174.9 939.4h0M112.7 1030.4h0M217.6 1001.9h0M239.9 867.8h0M241 880.7h0M202.5 1012.3h0M214.1 922h0M284.8 860.3h0M208.1 933h0M207.4 1004.8h0M118.1 1090h0M288.2 859.7h0M264.3 866.2h0M217.3 999.4h0M269.6 955.4h0M274.2 957.5h0M263.3 1031.1h0M209 1022.1h0M173.7 934h0M288.7 858.6h0M213.9 923.7h0M204.8 936.8h0M232.3 986.5h0M285.6 859.6h0M292.2 856.3h0M282.5 920.8h0M210.6 1022.9h0M261.2 951.3h0M241.2 870.4h0M245.4 976.6h0M303.5 854.7h0M238.1 897.7h0M258.2 878.5h0M270.2 865.4h0M232.5 887.9h0M173 946.6h0M184.6 1022h0M242.1 886.2h0M251.3 883.3h0M266.2 971.2h0M200.1 901.5h0M244.9 870.3h0M275 961.9h0M211.1 1003.8h0M192 947.2h0M130.7 1090.8h0M234.9 891.7h0M259.4 869.9h0M279.6 964.4h0M197.3 941.7h0M170 970.4h0M244 889.3h0M125.6 1078.6h0M292 906h0M217.1 891.6h0M291.9 915h0M235.1 896.8h0M205.2 1012.9h0M218.2 905.9h0M212.9 1002.4h0M199.2 1014.3h0M252.1 970.3h0M269.9 954.9h0M286.8 859.6h0M181.3 955.6h0M223 903.5h0M121.4 970.5h0M277.3 860h0M208.4 1005.5h0M277.4 970.5h0M257.5 872.3h0M139.2 1065.7h0M238.7 893.9h0M160.9 958.4h0M201.1 1012.8h0M283.4 860.8h0M153 989.1h0M241.7 967.8h0M101.2 1057.2h0M180.2 1034.8h0M308.1 856.2h0M210.9 926.9h0M259 875.7h0M295.2 896.7h0M274.9 938h0M225.4 888.4h0M275.7 859.3h0M139.4 883.6h0M255.2 873.4h0M222.5 892.8h0M264.6 954.6h0M204.2 1010.1h0M211.2 885.6h0M261.7 870.5h0M230.5 893.1h0M180.6 907.5h0M203.2 1011h0M183.2 1023.3h0M232.2 906.4h0M292.4 857.2h0M235.2 977h0M267.5 952.4h0M226.3 904.2h0M165.3 969.9h0M287.3 861.6h0M258.6 955.2h0M168.1 912.5h0M107.2 1088h0M173.3 1040.4h0M270.8 861.6h0M139 1020h0M236.2 900.7h0M206.5 1008.4h0M131.2 1073.7h0M104.2 977.8h0M212.1 1013.9h0M241 885.9h0M248.4 971h0M159.4 985.8h0M219.7 904.3h0M172.5 958.5h0M254.9 870.8h0M169.1 977.6h0M232.8 976.8h0M164.3 933.1h0M286.5 860.4h0M223 909.2h0M279.9 927.3h0M209.5 930.1h0M193.3 951h0M136.1 970.9h0M192.3 952.8h0M174.4 913.5h0M250.5 877.8h0M215.4 1021.9h0M187.7 1021.9h0M193.6 924.3h0M201.1 1011.4h0M253.2 965.9h0M192 1015.6h0M238.5 864.9h0M170.6 894.8h0M165.8 1063.7h0M171.4 1034.4h0M193.7 1020.7h0M307.8 855.8h0M232.9 878.1h0M251.4 974.2h0M107.7 1058.6h0M251.8 880.3h0M223.5 916.4h0M153.4 1056.2h0M111.9 1092.7h0M178.3 962h0M298.8 1035.5h0M247 974.7h0M175.4 1032.1h0M221.5 909.1h0M194.6 950.3h0M145.4 981.3h0M210.9 886.6h0M219.4 996h0M230 890.4h0M224.3 898.2h0M212.4 894.8h0M201.1 943.4h0M293.8 860.2h0M199.2 936.8h0M172.3 1038.2h0M233.6 904.7h0M156.3 975.2h0M186.5 1038.3h0M263.8 870.6h0M249.7 875.1h0M220.6 905.6h0M294.8 899.9h0M290.1 858.5h0M285.6 936h0M235.9 890h0M214.9 922.1h0M195.3 1017.9h0M146.9 1000.3h0M198.3 947.5h0M199 943.4h0M158.7 988.7h0M267.5 943.9h0M192.7 940.6h0M140.8 883.3h0M204.7 936.8h0M240.5 979.5h0M135.6 1066.3h0M225.5 900.5h0M259.7 952.8h0M183.2 1022.9h0M304.5 952h0M260 955.8h0M301.1 856.3h0M252.7 970.4h0M198.3 944.9h0M132.7 985.5h0M193 1022.2h0M170.3 970.8h0M249.4 884.4h0M297.3 898.6h0M117.3 1012.1h0M195.5 947.5h0M230.8 998.8h0M230.1 1024.7h0M216.1 919.7h0M257.6 867.3h0M264.7 863.2h0M156.4 1063.8h0M248.9 966.1h0M217.6 920.4h0M262.6 873.9h0M131.4 1027.3h0M132 1028h0M267.3 865.6h0M263.5 948.6h0M210 1019.2h0M205.4 936.2h0M167.8 1041.6h0M193.7 1018.1h0M161 957.6h0M210.9 925.8h0M246.6 869.7h0M246.9 890.4h0M124.8 1039.9h0M276.4 933.5h0M247.8 873.9h0M197.2 946.2h0M231.9 889.8h0M242 974.6h0M165.8 1042.9h0M217.9 916.4h0M198.7 946.2h0M221.8 906.1h0M252.2 992.1h0M273.9 864.2h0M240.5 987.8h0M219.7 911.4h0M119.1 1090.1h0M241.2 897.5h0M110.5 1055.6h0M115.9 1051.1h0M256.6 954.4h0M248.1 962.9h0M272.6 939.9h0M120.8 969.4h0M272.8 863.9h0M204.5 935.1h0M246.6 876.1h0M188.9 958.1h0M242.4 994.1h0M142.3 1073.3h0M299.6 891.9h0M134.9 937.1h0M244.9 1022.9h0M126.2 1078.9h0M262.4 858.7h0M220.9 902.8h0M192.5 1017.2h0M172.7 966.6h0M254.9 976.8h0M232.2 988h0M106.8 1055.6h0M219.5 912h0M185.8 1026.6h0M204.2 1009.3h0M229.7 982.6h0M141.2 885.4h0M170.9 969.1h0M203.5 903.9h0M115.6 1034.2h0M269 965.6h0M166.6 974h0M246.7 870.6h0M128.2 1021.8h0M266.4 869h0M271 861.8h0M230 902.5h0M263 868h0M241.6 896.3h0M243 888.1h0M110.8 1054.3h0M124.6 961.2h0M223 995.9h0M130.6 1072.4h0M276.6 864.2h0M167.5 974h0M168.4 930.5h0M230.3 904.6h0M210.3 870.1h0M226.6 882.2h0M96.8 1075h0M171.5 949.3h0M100.4 1059.9h0M201 942.3h0M241.2 975.8h0M119.7 1041h0M192.2 954.6h0M225.2 899.9h0M204.6 1032.9h0M105.8 923.9h0M180.6 1032h0M227.5 996.2h0M308.6 875.2h0M218.1 916.4h0M224 1043.3h0M237.1 1003.3h0M229.8 892.7h0M173.5 935.6h0M218.7 999.7h0M149.1 1064.2h0M279.2 862.5h0M272.7 1024.9h0M268.5 962.7h0M271.8 864.1h0M192.2 1017.7h0M143.2 1007.8h0M250.8 875.9h0M253.9 956.3h0M212.4 927.5h0M238.1 867.3h0M193.5 1021.8h0M283.5 919.1h0M234 894.1h0M237.4 885h0M161 986.7h0M171.9 1044.4h0M262.1 954.3h0M192.6 1018.6h0M164 950.6h0M187.6 1024.3h0M263.3 948.9h0M217.9 1004.6h0M184.6 962.6h0M260.7 952.4h0M276.9 951.6h0M108.6 1058.2h0M147.9 989.7h0M201.2 941.7h0M225.1 888.3h0M110.6 1087.8h0M198.3 905h0M227.4 901.9h0M133.1 1070.4h0M212.7 915.6h0M155.3 993.7h0M216.6 1006h0M165.3 978.1h0M243.6 969.8h0M280.9 862.2h0M278.7 931.4h0M256.4 873.5h0M285 855.6h0M251 883.5h0M140 1065.3h0M263.5 944h0M271.6 863.7h0M304.8 854.4h0M248.2 878.4h0M222.8 988.5h0M235.9 974.8h0M242.4 880.4h0M278.6 862h0M154.4 988.1h0M242.6 978.6h0M206.3 926.5h0M249.4 887.9h0M185 933.9h0M272.2 864.6h0M129.4 1075.8h0M206.9 1020.2h0M234.9 993.8h0M196.6 948.3h0M120.1 1043.4h0M118.3 930h0M126.2 1025.8h0M204.8 874.2h0M164.2 980.6h0M233.8 891.8h0M180.4 912.3h0M222.5 897.6h0M274 932h0M222.3 900h0M159.2 968.7h0M242.8 1012h0M258.9 869.1h0M287.4 915.9h0M155 954.9h0M303.4 883.5h0M182.3 1026.7h0M224.5 904.3h0M179.2 1029.4h0M289.2 861.9h0M282.2 954.5h0M276.7 949.2h0M296 899.6h0M184 955.4h0M224.3 879h0M140.2 895.7h0M225.1 990.9h0M248.1 886.6h0M176.3 965.5h0M218.7 1002.6h0M217.9 998.6h0M238.7 892.6h0M221.3 910.7h0M255.6 957h0M254.3 965.8h0M253.6 963.4h0M191.9 940.1h0M160.3 1055.8h0M202.4 938.2h0M163.4 952.4h0M212 1007.4h0M266.7 865.4h0M166 981.3h0M228.9 892.6h0M269 946h0M138.4 1012.5h0M102.8 1052.1h0M207.4 932.2h0M289.8 912.9h0M274.8 859.5h0M217.4 994.2h0M258.5 868.1h0M168.1 971.1h0M237.7 897.1h0M209.9 878.1h0M163.5 932.2h0M248.9 877.7h0M220.3 919.9h0M119 916.7h0M280.8 861.9h0M302.4 884h0M111.9 1051.6h0M198.6 1013.6h0M232.5 906.3h0M264 951.8h0M110.1 1056.4h0M199.7 943.7h0M287.7 857.4h0M195.2 938.1h0M157.6 955.4h0M247.7 881.4h0M278.5 955.2h0M194.6 949.7h0M275.4 864.8h0M244.6 995.5h0M256.4 870.5h0M253.5 873.3h0M179.7 1028.9h0M124.2 1025.6h0M216.7 916.4h0M262 868.4h0M175.2 948.8h0M120.3 947.1h0M218.3 909.6h0M120 1081.9h0M234.2 1008.7h0M235.4 899h0M268.1 942.7h0M171.1 941.5h0M276.6 931.9h0M259.5 876.1h0M202 1017.2h0M202.3 937.4h0M170 963.9h0M184.1 902.1h0M283.7 918.1h0M219.4 920h0M275 937.6h0M305.8 879.1h0M236.7 891.1h0M299.2 855.4h0M170.8 1038.6h0M298.2 892.1h0M192.2 1019.8h0M137.2 1016.1h0M288.4 860.4h0M300.9 891.2h0M238.3 890h0M255.5 880.9h0M240.1 876.8h0M119.5 1082.5h0M263.3 870.8h0M205.7 932.8h0M244.9 872.5h0M197.7 947.3h0M227.8 989.9h0M263.4 862.3h0M234.2 875.9h0M176.6 1033.2h0M288.8 859.9h0M272.9 1006.8h0M220.1 1002.5h0M234.2 880.5h0M170.8 963.9h0M110.6 1056.2h0" stroke="#1f77b4" stroke-opacity="0.62" stroke-width="3.8" stroke-linecap="round" fill="none"/>
<path d="M112.1 1051.8h0M200.7 942.6h0M246.3 881.1h0M188.6 944.6h0M222.8 915.3h0M242 986.3h0M277.7 929.8h0M287.7 858.2h0M96.3 1076.3h0M269.5 968.4h0M217.2 999.1h0M224.7 992.4h0M152.5 1070.2h0M275.3 961.1h0M111.2 1089.7h0M248.7 881.8h0M253.7 873.8h0M136 883.8h0M156.5 937.4h0M275.5 862.2h0M276.9 931.1h0M222 994.4h0M289.5 912.5h0M241.4 967.4h0M219 874.4h0M232.6 880.3h0M243.7 880.6h0M135.7 1001.5h0M108.1 1055.1h0M297.1 856.6h0M114.4 1091h0M266.8 944.4h0M203.8 936.4h0M275.1 854.3h0M217.8 1005.6h0M254.2 966.3h0M136.4 1013.9h0M263.5 869.8h0M270.9 969.5h0M173.2 969.4h0M116.9 982.5h0M161.2 953.9h0M309.6 855.9h0M144.3 999.8h0M150 932.4h0M229.3 908.3h0M282.2 856.8h0M120.1 1090.8h0M174.6 928.7h0M121.3 984.7h0M211.8 925.3h0M203.4 932.7h0M271.7 865.8h0M132.2 1024.9h0M122.1 1031.1h0M122.2 996.6h0M275 935.3h0M184.9 1027.6h0M209 1003.7h0M280.9 859.6h0M182.8 965.6h0M177.2 1033.2h0M168.1 971.5h0M191.5 1022.5h0M168.3 1044.5h0M146.9 997.7h0M204.6 935.4h0M137.6 1011.9h0M205.5 922h0M158.6 967.1h0M238.2 884.3h0M104.3 1058.4h0M190.3 914.3h0M151.4 996h0M280.3 861h0M210.8 926.7h0M232.3 881.6h0M258.6 954.9h0M186.8 959.4h0M220.8 992.2h0M227.7 1000.2h0M222.5 909.9h0M252.7 872.4h0M264.2 863.9h0M267.3 856.8h0M196.6 898.9h0M296.8 894h0M164.7 1069.7h0M220.4 897.3h0M283.7 920.1h0M146.7 1065.8h0M285.3 860h0M228.6 898.5h0M200.5 942.9h0M114 1053.1h0M236 894.9h0M243.3 973.3h0M233 882.9h0M119.1 1047.6h0M235.3 882h0M176.7 946.4h0M285.9 921.2h0M107.4 1090.2h0M206.2 1009.6h0M164.3 1042.7h0M209.1 930.4h0M243.6 975.5h0M251.3 870.1h0M183.1 1030.8h0M148.8 1069.6h0M247.6 883.1h0M267 867.3h0M215.9 995h0M224.4 995.1h0M237.2 981.3h0M210.5 1005.2h0M303.2 854.8h0M108 1088.6h0M268.3 939.5h0M262 867h0M228.1 893.3h0M231.5 883h0M158.5 984.7h0M126.2 1034.1h0M118 1047h0M254.6 963.8h0M121.8 977.5h0M198.2 1014.3h0M101.7 1013.2h0M194.4 917.9h0M105.8 1090.6h0M193.6 951.1h0M128.4 918.6h0M161.3 1062.4h0M290.8 859.3h0M117.7 958.3h0M229.7 993.5h0M279.3 932.2h0M95.9 1092.1h0M275.4 967.7h0M130.6 977.2h0M138.5 1068.4h0M276.4 867.5h0M121.2 1091.1h0M162.6 982.7h0M172.1 911.8h0M275.9 957h0M246.6 973.4h0M237 883.4h0M245 886.4h0M278.1 862.1h0M246.1 983.6h0M233.4 1003h0M243.8 883.1h0M154.6 1066.8h0M280.8 962.5h0M231.8 903.9h0M209.2 1009.3h0M238 888.3h0M231.2 988.3h0M165.7 1046.9h0M222.2 915.2h0M147.5 998.5h0M219.2 907h0M281 939.9h0M181.9 919.6h0M246 881.8h0M212.9 920h0M193.4 896.6h0M146.4 955.6h0M240.5 991.4h0M105.4 984.9h0M179.9 923.1h0M228.6 1012.9h0M151.4 1055.6h0M270.8 866.3h0M271.7 941.6h0M106.5 1057.6h0M208.5 930.9h0M275.1 866.4h0M145.3 1008.7h0M211.3 925.7h0M273.2 864.7h0M283.1 922.4h0M221.8 998h0M221.2 910.5h0M224.8 992.7h0M245 981.2h0M220.6 900.4h0M211 926h0M178.3 965.7h0M238.8 897.7h0M194.5 949.6h0M265 946.3h0M160.1 1050.3h0M279.4 924.4h0M209.2 931h0M273.5 936.9h0M189.7 958.5h0M211.5 923.9h0M175.3 923.8h0M261.8 964.1h0M298.5 925.2h0M239.6 977.6h0M168.1 1045.9h0M207.4 923.9h0M198.9 913.2h0M275.2 965.1h0M117 949.3h0M294.7 855.8h0M200.4 877h0M253.7 877.2h0M214.2 1001.5h0M250.3 880.1h0M199.4 943.3h0M253.9 956.8h0M288.2 860.3h0M155.1 1052.2h0M273.5 863.7h0M114.3 1050.6h0M171.1 945.8h0M275.9 862.8h0M155 969.2h0M284.3 860.7h0M299.5 854.5h0M245.3 872.3h0M108.8 1059.3h0M277.7 863.4h0M157.3 980.9h0M232.3 890h0M136.7 1068h0M230.6 992.3h0M202 1010h0M278.6 863h0M207.7 1017.4h0M288 859.1h0M119.9 1007.2h0M261.6 956.4h0M224.4 1022.3h0M295.2 855.5h0M288 916.7h0M242.2 895.6h0M257.7 1020h0M278.8 863.7h0M268.4 971.8h0M227.3 888.3h0M193.1 1018.5h0M283 863.7h0M220.7 917.6h0M222.8 1011.8h0M178.6 886h0M223.2 1000.2h0M213.4 912.6h0M252 965.7h0M276.3 932.5h0M164.2 979.5h0M261.6 860.4h0M147.6 999.7h0M217.6 913.6h0M190.4 949.8h0M146.5 988.4h0M244.1 973.4h0M195.8 1016.8h0M284 860.4h0M232.4 991.9h0M109.1 1087.9h0M220.1 997.4h0M276.3 933.4h0M131.5 948.9h0M262.2 945.1h0M268.9 866.5h0M222.8 883.2h0M125.1 1035.1h0M302.2 856.2h0M123.6 966.8h0M176 923.8h0M285.8 862.6h0M220.4 999.9h0M276.9 862.6h0M299.6 890.1h0M158.4 968h0M196.6 942.2h0M246 876.2h0M223.5 902.2h0M145 1062h0M189.7 942.9h0M134 1069h0M257.3 976.6h0M133.6 1022.7h0M287.2 857.4h0M283.5 861.8h0M163.3 1042.8h0M221.6 995.3h0M222.3 906.9h0M212.4 927.9h0M265.7 949h0M264.6 955.9h0M263.9 958.9h0M273.8 937.6h0M234.5 985h0M274.2 937.4h0M198.2 912.9h0M129.6 948h0M200.6 942.4h0M208.9 1030.3h0M257.3 956.4h0M118.1 1082.5h0M224 867.6h0M190.1 919.8h0M149.4 999.8h0M206.1 933.5h0M263.3 872h0M258 869.4h0M248.2 876.1h0M203.6 1010.1h0M275.1 862.5h0M202.3 1009.5h0M245.8 872.2h0M217.9 901h0M151.1 992.1h0M290.4 855.9h0M169.7 975.6h0M201.8 928.5h0M162.3 926.8h0M185.7 953.1h0M253.8 871.5h0M214 913.9h0M216.8 1001.9h0M213.3 894.5h0M146.8 1071.5h0M250.2 964.4h0M281.1 861.1h0M227.3 894.1h0M303 934.8h0M138.9 1069.4h0M278 957.5h0M203.6 937.7h0M190 933.5h0M111.3 1086.1h0M241.8 979.3h0M136.8 1017.1h0M215.9 995.3h0M246.2 979.9h0M197.4 945.6h0M238.9 988.3h0M237.1 883.9h0M151.3 994.6h0M272.4 941h0M220.4 916.1h0M256.6 873.3h0M188.3 950.7h0M116.2 1043.7h0M195 915.9h0M298.9 899.4h0M177.6 1031.9h0M273.5 937.5h0M231.8 992.7h0M215.5 1001.4h0M196.2 948.2h0M211.2 924.3h0M175.9 952.8h0M222 908.8h0M275.8 976.2h0M204.8 935.4h0M210.6 1036.5h0M131.4 944.4h0M239.9 894h0M195.5 948.9h0M160.1 983.9h0M243.1 880.1h0M104.2 1057.7h0M132.2 1024.5h0M231.6 997.3h0M289.9 858.5h0M183.9 1026.6h0M277 863h0M178.3 953.6h0M272.4 863.6h0M227.7 874h0M285.5 860.1h0M218.3 1002.3h0M193.5 950h0M218.2 1001.7h0M109.5 1056.7h0M227.3 1000.3h0M259.4 964.1h0M260.3 866.4h0M284 992.7h0M153.3 1060.8h0M215.2 915h0M253.7 883h0M202 935.7h0M287.8 859.6h0M210.9 928h0M247.9 966.7h0M204.7 1010.2h0M108.5 1056h0M233.1 985.3h0M108.8 887.6h0M249.3 973.8h0M183.5 931.5h0M305.7 884.3h0M191.1 905.2h0M250.4 969.2h0M278.7 863.6h0M283.6 858.8h0M126.5 1033.1h0M262 955h0M132.5 965.8h0M209.3 928.7h0M254.2 864h0M261.2 876h0M192.6 952.4h0M288.4 858.7h0M283.7 921.2h0M138.6 971.2h0M243.7 978.3h0M127.6 1074.6h0M252.6 873h0M219.2 998.5h0M282.8 919.6h0M181.8 961.4h0M196.1 947h0M284.3 859.7h0M219.3 914.1h0M211.6 922.2h0M185.3 962.1h0M227 990.8h0M280.1 860.9h0M288.2 859.9h0M279.9 927h0M305.5 854.8h0M224.7 986.8h0M150 999.4h0M225.2 874.3h0M216.5 995.7h0M217.2 994.7h0M217.3 919.8h0M288.5 934.2h0M212.3 923h0M236.8 883h0M220.9 911.9h0M303.5 881.9h0M284.4 860.8h0M230.2 981.9h0M267.7 867.6h0M190 1025.6h0M263.3 864.6h0M188.6 1020.4h0M265 870.2h0M204.7 935.9h0M236.2 891.7h0M252.5 882.3h0M145.7 920.1h0M172.1 972.8h0M219.9 917.3h0M108.1 894.9h0M275 934.8h0M157.8 1054.1h0M168.9 969.9h0M291.2 861.1h0M287.6 861.8h0M196.4 940.6h0M264.8 953.7h0M109.8 1004h0M217.6 1005.2h0M220.2 908.4h0M108.1 992h0M310.5 869.6h0M211.4 926.5h0M241 999.8h0M113 1092.3h0M221.1 905.7h0M276.8 952.8h0M217.1 1001.2h0M245.5 872.1h0M231.7 881.1h0M210.7 1005.7h0M115.7 1049.4h0M226.1 1004.6h0M132 991.8h0M201.6 942.9h0M152.8 979.1h0M255.4 870.8h0M216.6 1002.6h0M240.5 980.7h0M138.8 1016.7h0M180.9 964.9h0M313.7 855.2h0M225 876.1h0M213.9 1000.1h0M266.3 865.1h0M182.4 956.4h0M252.2 977.3h0M222.2 996.7h0M230.4 985.8h0M195.9 944.5h0M196.7 932.8h0M192.6 952.6h0M160.8 1051.9h0M99.3 1066.9h0M173 959.4h0M200.9 1012.8h0M121.6 1083.1h0M290.7 858.6h0M268.3 941.7h0M106 1049h0M220.2 1003.1h0M218.6 905.9h0M219.2 915.3h0M202.3 939.3h0M141.9 920.2h0M151 1071.6h0M136.5 1018.9h0M207.8 1007.1h0M200.5 1011.8h0M248.6 883.4h0M256.4 1030.3h0M233.4 1005.4h0M122.8 1042.8h0M184.5 961.2h0M250.2 883.7h0M153.3 989.3h0M212.7 924.8h0M271.3 865.7h0M226.1 991.4h0M296.2 903.4h0M227.8 894.4h0M274.2 857.4h0M240.4 873.3h0M191.8 902.4h0M237.1 896.9h0M286.2 859.7h0M269.3 866.8h0M298.3 858.6h0M195.3 948.8h0M176.9 965.6h0M237.4 990.9h0M289.4 861.1h0M230.1 876.3h0M104.3 1091.3h0M242 973.6h0M202.1 1011.9h0M223.4 904.7h0M121.5 1083.1h0M226.2 988.5h0M268.1 944.2h0M261.6 874.3h0M155.1 937.8h0M279.4 926.5h0M168.1 884.2h0M138.3 978.9h0M176.3 916h0M231.5 881.7h0M307.7 856.2h0M228.9 892.6h0M243.1 876.9h0M170 970.4h0M97.4 1075.9h0M262.5 874.5h0M263.9 870.6h0M207.5 933.2h0M241.1 883.1h0M194.7 1021.3h0M229.1 992.1h0M225.4 903.7h0M231.6 1006.1h0M226 891.6h0M173.6 975h0M270.9 941.4h0M194.5 1014.5h0M225 901.9h0M152.3 953.5h0M270.4 954h0M116.5 921.4h0M268.2 952.1h0M253.5 873.2h0M261.5 970h0M236.5 876.3h0M188.5 959.5h0M259.9 962.2h0M259.6 957.2h0M233.4 884.5h0M273.1 939.5h0M179.2 1034.3h0M266.1 866.3h0M210.7 1005.1h0M214.3 913.1h0M117.2 1012.9h0M215.3 1003.9h0M195.1 948h0M284.9 915.9h0M258.6 866.4h0M201.2 942.4h0M204.9 934.3h0M215.4 1000.9h0M152.4 1055.7h0M268.2 863.6h0M270.3 962.9h0M271.7 941.8h0M282.1 952.5h0M181.1 942.5h0M217.6 917.4h0M212.4 903.3h0M151 1064.6h0M133.8 1023.2h0M278.5 928.5h0M111 1086.6h0M130.5 1033h0M138.5 1014.4h0M224.3 994.3h0M263.6 864.4h0M145.4 1062.2h0M205.6 933.1h0M203.9 936.4h0M183.7 957.2h0M227.6 992.8h0M235.4 895.9h0M201.7 941.3h0M153 1062.7h0M222.7 990.2h0M185.4 1023.9h0M254.5 967.8h0M192.8 949.9h0M107.6 946h0M282.2 923h0M222.6 997.7h0M212.7 920h0M279.4 862.2h0M250.1 877.3h0M232.6 884.2h0M219.4 1002.3h0M194.4 1016.1h0M189.6 956.6h0M226.8 909.5h0M261.6 875.2h0M156 1061.3h0M261.3 865.7h0M161.4 982.1h0M244.9 987.7h0M250.9 884.6h0M225.4 908.2h0M130.2 1075.9h0M280.8 861.3h0M209.6 929.6h0M206.8 881.7h0M227.6 1013.3h0M261 872h0M142.2 1010.3h0M279.3 856.6h0M191.8 922.9h0M151.3 974h0M233.8 993.6h0M202.2 936h0M195.5 948.1h0M218 892.1h0M199.3 943.6h0M165.1 967.9h0M213.7 919.6h0M169.9 1044.4h0M125.4 1036.8h0M125.7 1079.2h0M109.4 1022.7h0M263.3 857.3h0M215 916.5h0M140.8 1013.7h0M209 879.4h0M232.5 894.4h0M252.3 962.5h0M218.5 920.9h0M224.8 911.9h0M201.3 942.8h0M284 860h0M96.2 1091.8h0M255.9 881.4h0M237.8 985.6h0M175.8 904.9h0M284.1 860.4h0M187.1 891.4h0M270.5 939.1h0M199.8 1012.6h0M200.4 942.2h0M220 913.6h0" stroke="#1f77b4" stroke-opacity="0.62" stroke-width="3.8" stroke-linecap="round" fill="none"/>
<path d="M188.6 1019.6h0M239.9 978h0M226.4 994.1h0M207.7 930.8h0M278.5 927.7h0M205.9 935.3h0M193.6 927.6h0M188 1024.4h0M109.4 1088.2h0M282.3 860.2h0M214.9 924.2h0M149.2 1059.8h0M245.2 999.5h0M278.5 929.9h0M238.6 985.1h0M255.8 958.5h0M242.4 883.2h0M228.4 899.1h0M257 869.2h0M232.8 881.6h0M103.7 1090.3h0M256.2 879.2h0M127.3 1074h0M259 874h0M266.7 866.7h0M312 854.7h0M148.1 1074.7h0M164.5 1047.5h0M192.5 912.8h0M268.9 867.7h0M225.6 894.7h0M211.9 925.2h0M101.2 1062.7h0M168.3 980.1h0M132.2 1029.1h0M240.6 881.7h0M177.7 962.4h0M259.9 955.1h0M305.7 855.6h0M204.5 1010.5h0M197.7 946.2h0M112.6 1042.9h0M215.9 994.9h0M282.1 921.3h0M202.9 917.7h0M229.4 994.7h0M248.8 885h0M139 1015.1h0M302.1 855.4h0M252 969.4h0M280.2 865.1h0M207.3 1008.6h0M150.5 992.6h0M107.6 1008.7h0M288.4 964h0M296.4 896.3h0M263.1 873.8h0M233.8 860.7h0M288.2 859.1h0M276.7 1029h0M279.6 861.1h0M198.6 944.3h0M98.4 1070.2h0M140.3 1064.6h0M154.3 989.4h0M226.6 908.4h0M121.7 1040.4h0M226.4 888.7h0M181.8 1035.2h0M278.8 1035.4h0M251.1 976.1h0M276.6 931.3h0M103.9 1057.1h0M263.3 871.9h0M240.3 877.3h0M256.9 964.8h0M237.7 878h0M266.5 945.2h0M221.7 912.8h0M159.9 906.3h0M277 966.7h0M290.2 967.8h0M207.8 931.3h0M239.7 982.8h0M234.8 987.5h0M277.5 863.1h0M287.9 858.7h0M184.6 942h0M239.2 982.1h0M127.1 1019.8h0M279 861.1h0M263.6 870.5h0M293.6 902.8h0M148.3 1003.6h0M240.8 972.5h0M167.5 967.4h0M276.3 932.2h0M287.5 860.5h0M212.2 922.9h0M289.2 859.2h0M290.6 858.3h0M241.5 878.1h0M186.6 1019.9h0M195.4 948.9h0M209.9 920.6h0M198.7 945h0M170.2 977.8h0M228.7 896.9h0M236.6 982.8h0M171.6 1034.7h0M303.6 882.4h0M230.2 882.1h0M180.2 950.9h0M222.7 897h0M164.1 980h0M259.2 957.9h0M212.3 1004.4h0M200.2 942.8h0M118.2 1038.2h0M105.2 1059.4h0M275.9 960.6h0M228.3 903.6h0M281.3 861.6h0M200 939.1h0M242.4 1006.3h0M270.8 865.6h0M154.1 989.8h0M224 900.6h0M197.8 919.6h0M290.3 922.8h0M162.7 983.6h0M302.5 855.9h0M172.2 914.7h0M252.8 873.7h0M154.1 1058.1h0M273.7 864.1h0M290.7 859.8h0M286.8 859.6h0M261.3 970.6h0M230.2 908.6h0M266.1 870.1h0M257 962.1h0M243.9 881.2h0M288 859.5h0M163.7 1068.5h0M239.1 986.2h0M281 862.3h0M168.4 964.1h0M221.4 903.9h0M248.3 983h0M105.5 1062.1h0M216.6 907.1h0M113.3 1050.2h0M280.5 861.7h0M144 1001.3h0M169 972.2h0M202.3 940.8h0M245.7 890.9h0M184 957.2h0M307.7 875.1h0M282.3 856h0M124.5 1038.2h0M158.5 982.6h0M115.2 1041.6h0M208 913.7h0M271.2 869.5h0M125.2 950.7h0M242.8 883.1h0M225.1 1002.8h0M199.6 943.9h0M224.5 1004.3h0M185 960.1h0M200.9 912.8h0M209.2 932.1h0M195.7 1019.3h0M118 1047h0M228.1 900.6h0M244.1 982.7h0M238.2 895.2h0M234.6 883.7h0M222.2 993.4h0M197.1 937.6h0M123.7 901.2h0M260 957.3h0M226.8 911.3h0M217.1 1004.1h0M115.3 1050.6h0M262.2 951h0M278.2 937.1h0M300.3 900.9h0M297.3 895.1h0M235.4 879.7h0M293.7 902h0M177.2 913h0M194.3 935.6h0M281.5 959.1h0M220.1 912.6h0M269 942.1h0M215.6 922.9h0M144.4 1006.8h0M155.5 1061.9h0M267.5 946.5h0M281.2 862.4h0M146.2 1062h0M194.6 1016.7h0M210.4 920.7h0M114.5 1048.5h0M280.2 960h0M269.8 865.7h0M195.2 948.8h0M264.5 870.8h0M226.4 989.8h0M288.5 915.7h0M190.3 940h0M253 1039.8h0M239.7 969.2h0M122.4 1036.1h0M213.5 923.8h0M244.4 872.8h0M241.2 882.2h0M210.6 921.3h0M248.9 973.9h0M280.8 860.4h0M313 854.9h0M232 905.4h0M177.2 946.5h0M132.4 1027h0M246.8 971.2h0M208 1011.3h0M273.5 864.4h0M123.1 1038.9h0M232.6 901.2h0M308.1 873.9h0M285.3 860.5h0M277 862.7h0M187.4 899.9h0M282.5 920.8h0M290.9 859.5h0M217.9 910.8h0M265.8 945.9h0M201.2 883.4h0M195.6 1017h0M222 994.9h0M233.3 992.3h0M261.3 955.5h0M220.7 997.1h0M126.4 1077.6h0M285.8 860.2h0M267.5 944.9h0M219.8 911h0M213.7 1009.9h0M259.9 874.7h0M268.5 866.3h0M192.9 934.9h0M279.7 927h0M257.1 868h0M254.7 953.2h0M233.2 902.2h0M128.2 1075.9h0M278.3 957.9h0M202.3 940.8h0M219.2 1033.3h0M305.2 882.6h0M262.8 864.3h0M245.9 873.8h0M257.5 876.6h0M214.1 919.3h0M277.2 861.9h0M235.6 886.4h0M308.8 855.2h0M236.4 881.7h0M161.8 975.8h0M187.6 1034.2h0M210.8 1004.7h0M157 1054h0M295.3 906h0M259 868.8h0M148.4 962h0M271 938.9h0M296.8 895.1h0M192.1 951.8h0M198.6 1014.4h0M149.4 959.9h0M168.8 970h0M147.3 997.4h0M249.8 959.7h0M182.3 903.9h0M269.2 864.3h0M214 1000.3h0M197.7 1024.3h0M142 981.3h0M118.7 1082.3h0M202.6 939.3h0M197.4 947.5h0M148.8 992.9h0M271.4 997h0M116.5 1016.5h0M197 945.8h0M266.7 967.6h0M255.6 879.2h0M260.5 871.1h0M151.9 1067.3h0M134.9 1070.6h0M264.2 872.3h0M242.7 889h0M111.1 1051.7h0M109.7 1092.8h0M235.3 892.6h0M168.9 970h0M265.4 947.2h0M274.7 867.4h0M135.9 1066.1h0M227.7 880.3h0M244.8 966.1h0M231.4 1010.2h0M109.6 1054.5h0M164.4 1057.2h0M162.7 968.6h0M302.3 885.8h0M201.7 1007.6h0M187 942.6h0M248.7 964.3h0M237.7 987.6h0M238.3 983.1h0M237.4 982.3h0M298 855h0M115.3 1085.3h0M282.2 922.6h0M99.8 1067.6h0M248.5 966.4h0M160 970.3h0M152.3 1054.3h0M133.7 1025.2h0M255.4 871.7h0M230.7 874.1h0M102.9 1065.8h0M118.1 1040.9h0M177.9 1033.9h0M264.9 867.1h0M251.6 960.1h0M176.7 923.6h0M268.6 867.1h0M233.7 891.8h0M145.1 1002.8h0M278.5 924.3h0M101.9 1090.4h0M288.6 860h0M183.5 949.3h0M254 874.2h0M249.4 965.2h0M172.5 958.3h0M147 1005.1h0M143.2 1067.1h0M200.2 1019.1h0M197.2 1015.6h0M266 954.3h0M214.4 1002.7h0M252.8 878.1h0M308.8 873.9h0M215.6 885.9h0M216.5 916.2h0M265.1 870.4h0M193.1 950.6h0M276.5 1028.1h0M196.1 888.3h0M246.7 878.1h0M243.3 878.9h0M103.2 1061.7h0M204.7 1010.7h0M248 967.2h0M131.6 946.2h0M193.9 949.4h0M113.7 1039.9h0M248.5 987.4h0M280.2 926.6h0M222.5 988.3h0M143.8 1003.5h0M245.8 964.1h0M217.4 918h0M208.1 913.3h0M106.8 1050h0M143.3 1073.2h0M181.9 1030.9h0M247.9 1018h0M212.3 1004.5h0M264.7 868.1h0M116.6 1004h0M279 957.6h0M236.6 988.7h0M186.3 949.8h0M246.6 1037.5h0M202.8 884.5h0M217.5 912.1h0M225 900.8h0M137.5 1070h0M201.4 1013.1h0M223.8 911.1h0M162.2 980.8h0M131.4 1073.3h0M303.7 884.9h0M220.1 908.8h0M226.6 899.4h0M232.5 889.7h0M240.5 865.6h0M297.6 856h0M211.7 928.3h0M284.5 859.8h0M261 957.6h0M183.6 951.1h0M247.5 870.4h0M126.3 1030.8h0M204.3 927.8h0M267.2 860.9h0M309.7 855.6h0M243.4 879.4h0M207.6 1008.5h0M196.3 1016.2h0M138.6 1012.7h0M191.8 951.6h0M257.4 873.2h0M218.7 895.4h0M277.5 927.1h0M266.2 855.8h0M224.3 914.8h0M224 912.1h0M217.6 920.6h0M279 862.6h0M239.4 883.6h0M228.5 994h0M275.2 932.9h0M185 954.1h0M262.1 874h0M219.4 1001.5h0M241.9 876.6h0M117.2 954.9h0M205.5 933.9h0M220.2 889.6h0M269.5 937.7h0M254.6 882.7h0M244.6 867h0M256.6 1026.5h0M191.1 894.4h0M266.7 864.4h0M163.9 944.8h0M172.3 937.4h0M207.9 1025.3h0M198.1 945h0M280.3 1033.4h0M257.7 878.5h0M236.7 885.2h0M165.9 919.2h0M116.7 982.9h0M279.3 927.2h0M235.8 985.6h0M284.2 979h0M202.8 938.4h0M274.6 861.3h0M169.2 932.3h0M197.7 947h0M108 955.8h0M213.7 890.5h0M238.7 979.3h0M284.3 955.9h0M109 1054.3h0M221.6 906.3h0M282.1 923h0M235.9 885.7h0M103.1 1064.4h0M222.6 998.4h0M280.7 861.5h0M215 998.6h0M192.1 1019.6h0M146.8 1074.1h0M158.6 1048.6h0M160.2 955.9h0M278.5 865h0M308.1 874.3h0M193.7 950.9h0M225.1 910.4h0M256.1 961.6h0M283 864.7h0M261.5 872.6h0M282.7 920h0M280.4 861.4h0M206.8 932.2h0M205.7 932.6h0M134.1 1026.1h0M172.3 961.7h0M290.7 858.3h0M263.1 953.6h0M245.5 983.7h0M137.3 1067.1h0M287.6 856.7h0M201.4 930.8h0M192.6 951h0M250.4 961.9h0M112.8 1007.7h0M268.4 854.2h0M236.2 987.2h0M236.5 874.5h0M241.6 894h0M179.6 1029.1h0M149.2 980.1h0M126.5 1036.5h0M292.9 916h0M119.5 962.5h0M237.7 890.2h0M250.5 1035h0M171.9 929.9h0M288.5 857.3h0M102.4 1055.1h0M259.2 865.1h0M230 890.7h0M159.4 1059.4h0M206 881.5h0M276.8 931h0M201.4 940.8h0M193.2 953.6h0M161.9 942.5h0M257.1 965.4h0M245.7 892.5h0M102.3 1090.6h0M303.5 887.3h0M209.7 929.1h0M185.1 959.3h0M205.5 932.3h0M156.2 985.6h0M166.3 982.2h0M113.4 1086h0M267.2 965.2h0M290.7 858.3h0M207.1 932h0M292.5 906.6h0M114.3 1048.1h0M244 874.3h0M255.7 966.5h0M282.2 924.1h0M149.9 1064.7h0M274.4 862.6h0M221 918.8h0M274.8 937.5h0M213.1 1003.6h0M219.4 1007.2h0M299.1 858.9h0M237 986.2h0M295.5 900.2h0M278.2 861.4h0M267 864.7h0M132.2 1027h0M262.3 949.9h0M223.6 1016.5h0M216.6 921.4h0M104 1061.5h0M153.3 984.2h0M250.3 865.1h0M198.6 946.5h0M230.9 882.1h0M302.2 854.5h0M267.4 945.4h0M104.8 1089.4h0M231.3 991.8h0M276.8 863.1h0M124 920.1h0M279.8 861.6h0M242.1 980h0M217 996.8h0M253.8 963.9h0M132.1 1073.2h0M304.9 879.3h0M247.6 884.9h0M290.3 858.3h0M205.8 932.2h0M115.8 1046.5h0M274 940h0M199.5 943h0M220 919.3h0M244.8 966.9h0M251.3 879.8h0M267 941.8h0M173.1 909.2h0M174.6 1035.2h0M243.6 876.5h0M150.9 996.3h0M208.9 1004.4h0M252.7 881.6h0M267.7 945.2h0M246.5 889.5h0M302.8 883.6h0M201.7 939.9h0M248.8 882.6h0M298.2 857h0M216.3 1002.5h0M162 958.1h0M310.6 870.8h0M149.8 1062.7h0M281.5 924.6h0M260.4 868.7h0M167.9 979.9h0M224.6 904.9h0M242.6 980.3h0M122 1091.1h0M265.6 961.8h0M221.2 1003.4h0M236.5 881.9h0M204.7 1010.2h0M293 910.1h0M145.9 968.4h0M282.3 858h0M135.7 1071.3h0M243.8 965.5h0M273 865.2h0M210.5 924.2h0M277.7 862.2h0M121 1083.7h0M111.7 1040h0M233.4 895.8h0M276.4 929.5h0M188.1 953.4h0M266.4 963.5h0M286.9 859.8h0M272.5 865.9h0M232.5 902.4h0M127.8 1022.7h0M198.2 1012.8h0M243.2 873h0M209.8 1002.2h0M311.8 869h0M253.5 969h0M240.4 986.4h0M236.6 868.1h0M234.4 994.3h0M257.5 959.4h0M111.4 1087.3h0M283.2 861.6h0M220.9 882h0M244.7 871.1h0M281.1 924.8h0M281.7 923.8h0M297.3 897.6h0M216.2 902.3h0M285.5 968.8h0M214.4 921.6h0M207.9 1002.7h0M235.6 884.5h0M265.8 868.3h0M223.1 883.1h0M195.2 944.8h0M293.6 854.4h0M222.9 899.4h0M209.1 896.8h0M151.7 981.1h0M188.5 943.1h0M251.6 960.4h0M239.3 899h0M258.6 957.8h0M96.1 1077.4h0M142.8 1067.3h0M259.1 874.6h0M272.1 1029.5h0M199.8 1015.9h0M160.8 1045.4h0M287.1 922.5h0M111.7 1016.7h0M231.4 992.4h0M224.4 993.2h0M234 866.8h0M208.1 928.4h0M266.5 967.3h0M100.2 1091.4h0M291.9 854.6h0M118.9 1035.7h0M206.1 925.5h0M221.6 996.5h0M209.3 891.2h0M246.4 889h0M146.2 1004.3h0M168.6 978.8h0M244 883h0M211.5 904.1h0M116.4 1040.1h0M189.8 893.4h0M264.8 865.8h0M288.3 860h0" stroke="#1f77b4" stroke-opacity="0.62" stroke-width="3.8" stroke-linecap="round" fill="none"/>
<path d="M221.7 900.8h0M103 957.9h0M213.9 922.9h0M201.3 1026.8h0M143.7 1008.7h0M210.7 892.5h0M200.6 1013.4h0M188.1 1023.3h0M180.9 876.8h0M145.5 1002.4h0M185.7 957.9h0M178.6 1026.8h0M163.5 976.4h0M248.1 876h0M266.4 951.6h0M156.2 984.7h0M272.9 863h0M207.7 904.4h0M112.1 1052.3h0M265.1 1030h0M173 907.5h0M277.7 861.6h0M262.7 868.3h0M273.9 935.9h0M194.7 1019.4h0M135.3 1015.8h0M100.6 1059.6h0M281.5 861.3h0M204.5 935.8h0M197.2 947.1h0M268.2 862.3h0M272 865.1h0M280.1 932.8h0M159.5 983.7h0M238.7 878.1h0M274 934.1h0M154.4 949.9h0M155.8 984.6h0M266.4 869h0M257 961.6h0M307.5 879.1h0M146.4 1072h0M130.3 1028.9h0M249.7 875h0M149.8 893.2h0M169.8 932.9h0M211.1 1006.6h0M193.2 1018.5h0M249.4 984.6h0M133.5 1090.4h0M172.6 966.7h0M188.9 1037.1h0M168.9 964h0M166.3 977.3h0M157.6 987.2h0M246.4 971.1h0M198.1 945.8h0M175.6 965.4h0M278.2 861.5h0M173.5 971.5h0M219.2 994.7h0M231.1 883.2h0M210 1036.3h0M308.2 854.5h0M265.4 861.6h0M191.4 881.5h0M225.7 908.4h0M147.3 999.9h0M131.2 1071.3h0M267.6 860.8h0M163.6 933.3h0M227.5 910.2h0M232.5 892.6h0M293.9 860.2h0M303.4 922h0M283.5 917.3h0M199.4 1017.2h0M174 1039.3h0M112.9 1055h0M218.6 918.3h0M173.3 931.6h0M117.6 936.8h0M246.4 994.4h0M210.4 1005h0M155.9 1063h0M123.7 1079h0M288.1 915h0M99.8 1090.9h0M254 1036.1h0M216 870.7h0M260.3 974.4h0M280.8 858.5h0M211.7 928.9h0M217.7 914.3h0M286.5 859.6h0M232.6 986.5h0M248.3 959.9h0M130.7 918.3h0M231 991.1h0M242.6 895.8h0M247.7 977.6h0M290.6 859.1h0M264.2 872h0M296.3 898.7h0M295.6 898.2h0M116.7 1084.4h0M208.6 1004.1h0M242.3 896.5h0M132.3 1028.6h0M167.5 973.8h0M181.9 1026h0M148 1063.1h0M162.2 980.7h0M249.4 872.9h0M254.5 961.7h0M213.5 925.1h0M111.4 1053.2h0M222.6 899.6h0M212.6 892.8h0M258.7 863.9h0M125 936.7h0M130.1 1016.7h0M193 1018.1h0M256.8 868.9h0M153.6 975.8h0M230.9 990.5h0M278.5 855.5h0M290.6 969.1h0M215.3 924.4h0M187.4 1022h0M205.8 934.6h0M242 867.1h0M242.6 868.5h0M284.1 917.6h0M264.9 1007.3h0M250.2 963h0M193.8 950.6h0M208.2 1031.6h0M157.7 931.7h0M232.6 988.1h0M132.5 896.3h0M294.3 904.9h0M197.8 1029.7h0M154.4 994.6h0M179.8 958.8h0M195.7 951.3h0M125.2 1040.6h0M252.4 1004.5h0M276.6 860.4h0M129.7 941.5h0M202.4 1011.4h0M246 979.7h0M125 1037.9h0M134.8 985.1h0M303 854.7h0M182.6 926.4h0M271.9 937.6h0M236.6 884.4h0M273.5 863.9h0M283.3 854.4h0M244.9 965.5h0M206 933.3h0M130.5 1027.2h0M215.7 918.1h0M144.8 907.5h0M253.6 881.9h0M273.5 863.6h0M254.7 872.4h0M160.8 1054.4h0M226.2 991.4h0M262.5 866.8h0M240.7 897.2h0M195.6 947.8h0M162.8 975h0M200.7 1015h0M178 961.7h0M255.8 967.4h0M108.4 1052h0M107.9 1091.3h0M227 994.2h0M230.9 890h0M264.2 951.6h0M129.3 1033.3h0M239.6 885h0M104.4 1004.8h0M287.7 859.4h0M224.1 900.9h0M281 862h0M247.6 987h0M259.8 872.3h0M301.4 855h0M270.5 937.5h0M284.2 927.6h0M199 943.4h0M178 943.9h0M269.7 954.2h0M193.3 1015.4h0M184.9 957.7h0M268.8 867.8h0M243.5 873.4h0M262.1 859.7h0M264.1 1019.4h0M205.8 926.3h0M228.8 894.9h0M268.8 947.2h0M220.7 998.7h0M270.8 866h0M228.2 983.1h0M261.8 948.7h0M226 902.5h0M243.4 980.9h0M225.5 993.7h0M304 854.9h0M182.5 964.5h0M267.8 864.9h0M263.8 860.3h0M235.2 1006h0M183.5 925.9h0M207.9 930.1h0M276.1 945.3h0M209.7 930.5h0M115.7 1084.7h0M247.9 870h0M227 874.2h0M131.9 1089.6h0M243.1 985.1h0M207.7 896.4h0M280.3 926h0M220.2 912.1h0M223.4 998.3h0M290 858.4h0M262 868.4h0M198.6 944.4h0M269.6 1016.9h0M106.8 1056.4h0M196 1017.4h0M110.1 1015h0M240 986h0M242.9 982.3h0M285.6 860.8h0M164.8 966.3h0M268.7 940.7h0M131.9 1090.8h0M294.8 905.7h0M232.9 896.2h0M227.6 985.3h0M279.5 863.3h0M194.1 948.7h0M300.9 909.3h0M231.5 906.7h0M257.5 871.6h0M168.3 946h0M207.7 1006.4h0M289.6 860h0M215.6 922.7h0M257.3 871h0M310.5 854.3h0M207.7 1005.6h0M219.9 902.4h0M262 967.4h0M307.8 874.7h0M246.4 978.4h0M113.6 1084.2h0M249.9 887.6h0M243.7 983.1h0M268.1 864.7h0M263.6 867.7h0M158.9 988.6h0M140.7 1012.8h0M169.6 967.5h0M255.1 1016h0M192.8 1018.6h0M284 919.3h0M206.1 933.3h0M115.6 1035.3h0M247.2 887.7h0M250.5 991.3h0M110 991.7h0M235.1 995.6h0M223.2 902.5h0M233.7 989.4h0M200.6 895.1h0M202.6 936.8h0M231.5 996.6h0M252.9 872.7h0M241.1 974h0M232.6 981.4h0M208.9 1004.1h0M108.3 1088.5h0M247.6 979.4h0M205.3 897.1h0M123 1079h0M222.9 878.1h0M236.9 984.9h0M254.4 961.1h0M311.5 868.4h0M194.4 1043.2h0M215.4 919.6h0M199.7 945h0M220.2 896h0M136.7 1017.3h0M221.7 909.2h0M226.2 876.7h0M248.6 963.7h0M245.3 965.7h0M307.3 875.7h0M235.4 975.2h0M175.7 937.5h0M126.1 1039h0M221 896.9h0M265.9 947.2h0M233.7 895.3h0M158.2 947h0M235.5 1043.5h0M257 877.9h0M284.2 939.4h0M260.1 953h0M275.8 931.5h0M258.7 871.8h0M261.8 989.1h0M273.2 864h0M119.5 1092.3h0M212.8 1001.3h0M190.6 937.1h0M235.2 1018.3h0M272.6 962.1h0M106.7 1061.1h0M192.3 950.4h0M99 1069.4h0M290.7 858.9h0M246.2 880.3h0M211.5 1006.6h0M267.4 862.8h0M267 961.8h0M211.6 1003.7h0M239.2 975.2h0M215.6 1001.6h0M236.6 1008.8h0M124.5 950.1h0M107.3 1056h0M226.8 872.9h0M116.3 959.5h0M306.6 894.8h0M197.2 1011.2h0M273.6 862.8h0M219.9 999.3h0M143.1 980.2h0M245.2 885.3h0M192.1 952.6h0M238.8 999.2h0M105.7 1061.5h0M274.9 864.2h0M109.9 1053.1h0M231.6 906.6h0M307 854.7h0M267.8 867.2h0M201.9 900.4h0M225.7 900.1h0M173.9 940h0M276.2 932.6h0M280.7 857.7h0M255.1 855.6h0M162.4 964h0M272.9 867.1h0M250.3 968.6h0M237.4 980.1h0M211.9 1004.9h0M282.7 862.1h0M228.9 999.6h0M302.1 959h0M239.6 983.7h0M210.8 925.3h0M195.3 949.1h0M201.3 938.6h0M270.4 866.4h0M283.9 860.9h0M223 913.1h0M310.5 870.3h0M199.6 945.2h0M298.3 896.4h0M220.3 1003.3h0M250.5 966.5h0M261 871h0M278.9 861.2h0M272.1 865.1h0M143.5 921.8h0M210.2 1020.8h0M212.6 1001.6h0M239.6 984.1h0M225.3 910.2h0M247.2 889.5h0M175.3 938.4h0M239 989.5h0M203.9 883.6h0M202.7 943.8h0M198.1 1015h0M266.6 950h0M244.8 963.9h0M283.2 861.7h0M117.2 1046.8h0M210.6 927h0M156.4 980.5h0M266.1 948h0M264.6 868.4h0M139.1 991.5h0M105.6 1043.3h0M107.7 956.3h0M205.7 933.5h0M194.7 1016h0M110.9 1000.4h0M220.8 915.8h0M276 931.1h0M254.7 880h0M238 883.7h0M116.5 1091.2h0M212.1 921.8h0M280.2 956.7h0M148.5 1058.9h0M294.6 906.2h0M265.2 867.5h0M196.3 947.1h0M110.8 1091.2h0M261.6 960.1h0M284.1 859.9h0M240.4 895.1h0M134.1 1018.4h0M246.9 967.8h0M119.1 1091.6h0M255.7 870.1h0M247.8 978.4h0M112.6 884.5h0M256 864.6h0M277.4 1036.4h0M247.3 882.8h0M198.1 871.6h0M200.6 942.6h0M218.5 1018.4h0M149.4 993.4h0M271.8 863.8h0M159.4 1048.6h0M129.5 1017.7h0M214.3 914.4h0M264.2 866.1h0M232 996h0M132.5 956.3h0M227.5 991.7h0M215.1 1002.1h0M258 877.6h0M266.3 869.4h0M213.1 1001.6h0M104.8 1089.9h0M150.9 991h0M257.5 879.8h0M131.6 1026.4h0M230.3 902.2h0M208.2 1008.5h0M238.8 972.1h0M200.8 1014h0M243.4 887.1h0M187 953.2h0M226.6 889.9h0M154.8 983.1h0M273.5 934.1h0M263.1 956.1h0M191.7 951.6h0M194.2 949.3h0M118.7 1083.3h0M237.2 896.5h0M262 865h0M215.5 918.6h0M223.8 1002.7h0M254.9 964.4h0M257.8 879.1h0M282.5 920.7h0M212.8 901h0M182.2 964.5h0M283.8 862h0M307.5 854.4h0M228.7 996.9h0M218.4 922h0M272.3 1027.8h0M101.2 1065.9h0M166.3 960.3h0M233.5 980.7h0M251.1 877.1h0M231.3 896.3h0M282.2 957.6h0M124.1 1006.6h0M196.1 939.9h0M267.2 951.2h0M250.8 866.7h0M252 875.3h0M253.8 874.3h0M273.3 936.4h0M266.5 867.3h0M222.8 1005.7h0M306.6 876.3h0M239.5 883h0M211.7 926.2h0M214.2 922.9h0M255.8 962.9h0M250.5 873.4h0M206.8 878.1h0M243.5 859.5h0M103.6 1090h0M208.2 901.5h0M138 1019.4h0M212 925.7h0M239.3 987.1h0M224.1 908.2h0M236.2 990.3h0M210.3 1010.9h0M243.5 984.3h0M179.8 954.1h0M213.6 1000.6h0M212 924.2h0M262.4 963.4h0M248.2 889.8h0M252.1 960.3h0M156.7 1056.9h0M264.7 867.7h0M152.2 981.3h0M308.6 854.7h0M271.4 966.1h0M283.2 859h0M201.7 940.4h0M169.8 926.9h0M259.8 873.9h0M215.1 894.1h0M238.3 896.2h0M145.5 1060.9h0M105.2 991h0M183.1 956.7h0M218.9 995.7h0M296 860h0M186.5 939.6h0M255.7 1020.2h0M131.3 1016h0M177.3 916.5h0M110.7 1086.7h0M178.7 938.3h0M115.2 1051.1h0M152.7 992.8h0M259.4 959.4h0M257.6 865.5h0M194.9 949.5h0M240.7 879.9h0M225.4 907.6h0M215.6 917.3h0M253 874.5h0M304.5 882h0M112.3 1054.5h0M272.4 864.6h0M145.7 1067.3h0M238.3 891.8h0M109.8 1056.7h0M223.5 915.7h0M216.6 917.3h0M301.9 855.3h0M179.2 924.1h0M263.1 944h0M276.9 862.8h0M169.1 965.9h0M211.8 925.3h0M193.8 949h0M245.4 885.1h0M242.7 873.4h0M229.4 992.7h0M168.7 958.7h0M224.6 904.5h0M277.2 951.2h0M234.4 892.7h0M198.1 1013.9h0M99.1 1067h0M278.7 863.3h0M111.5 1052.3h0M227.4 897.2h0M102.7 1055.4h0M160.3 1049.2h0M182.4 930.3h0M272.2 949.5h0M117.9 1001.2h0M146.5 1067.7h0M275.7 864.5h0M107.9 989.5h0M262.7 1022.4h0M164.7 952.1h0M187.7 947.7h0M240.8 888.8h0M214.4 1004.1h0M190.9 940.1h0M213.1 1001.8h0M131.5 894.7h0M244.1 888.8h0M175.9 911.4h0M189.6 1021h0M265.8 961.5h0M122.9 1039.3h0M148.5 1059.2h0M176.9 970.2h0M188.7 887.3h0M189.4 905.3h0M293 964h0M247.1 962.5h0M236.7 888h0M216.4 915.9h0M162.5 1044.9h0M154.3 1057.8h0M168.1 966.2h0M246.1 888.3h0M292.4 910.6h0M236.1 881.6h0M231.2 999.2h0M208.7 932.4h0M279.4 858.2h0M152.1 996.3h0M211 923.2h0M194.1 948.3h0M280 930.8h0M283.7 863.5h0M224.4 902.8h0M114.2 1091.2h0M167.1 1043.7h0M254.2 960.8h0M258.6 955.7h0M178.2 1053.8h0M207.6 932h0M241.3 887.4h0M196.1 948.2h0M154.5 1064.2h0M217.3 995.5h0M102.9 1064.1h0M262.7 958.7h0M156.6 984h0M215.3 1005.8h0M144.2 1010.6h0M253.1 872.2h0M256.1 875.5h0M220.5 886h0M180.1 1039.2h0M221.6 1016.8h0M232.1 876.4h0M277.6 860.1h0M219.8 998.6h0M241.5 979.2h0M160.4 1045.6h0M285.2 923.6h0M269.1 939.3h0M198.9 944.9h0M213.9 1003.3h0M263.6 866.4h0M268.8 944.7h0M266.1 865.8h0M147.8 1002.9h0M180.1 902.4h0M293.1 857.8h0M230.1 982.7h0M281.1 963.7h0M201.9 922.5h0M289 862.4h0M210.3 924.1h0M287 862.3h0M258.2 953.4h0M231.1 894.9h0M269.1 869h0M216.7 916.6h0M108.1 891.8h0M153.9 1052.8h0M139.5 885.1h0M206.7 933h0M204.2 937.2h0M231 988.5h0M227.2 890.2h0M267.1 947.1h0M184.2 914.6h0M227.1 996.1h0M222.3 910.2h0M296.7 902.4h0M245.5 873.3h0M202.6 1022.8h0M217.9 997.9h0M230.8 1018.1h0M169.2 1046.5h0" stroke="#1f77b4" stroke-opacity="0.62" stroke-width="3.8" stroke-linecap="round" fill="none"/>
<path d="M161.7 978.6h0M236.2 982.7h0M187.6 1038.6h0M192.3 952h0M299.9 892h0M278.4 861.3h0M242.2 880.1h0M197.2 1048.5h0M309.7 854.6h0M205.7 1010.1h0M212.8 925.7h0M204.8 1008.9h0M264.6 868.9h0M112.6 930.3h0M223.2 903.3h0M214.9 921.4h0M278.8 956.2h0M259.7 949.5h0M186.4 917.6h0M170 944.1h0M251.1 966.7h0M174.7 966.8h0M257.6 1018h0M295.9 921.6h0M203.2 933.4h0M182.2 910.5h0M112.4 886.1h0M279.7 1031.3h0M240 868.6h0M229.8 896.1h0M186.3 927.8h0M131.2 930h0M210.4 926h0M225.1 874.1h0M281 925h0M171.2 964.1h0M211.7 928.8h0M178.5 953.1h0M235.1 890.8h0M285.2 860.7h0M277.4 863.1h0M156.6 982.5h0M241.7 888.6h0M266.8 864.7h0M237.8 894.4h0M237.1 989.9h0M146.5 1000.6h0M231.5 984.4h0M297.3 901.1h0M231.1 895.7h0M228.2 995.9h0M161 1050.6h0M261 865.9h0M265.4 867.7h0M102.8 1090h0M271.5 864.9h0M291.9 907.8h0M242.6 894.4h0M215.3 916.8h0M274 864.7h0M307.8 877.2h0M277 864.1h0M144.8 1067.6h0M232.9 991.1h0M275.9 862.2h0M234.7 887.5h0M233.6 986.5h0M290.8 859.1h0M200.2 1018.6h0M262.4 871.9h0M222.1 904.8h0M176.4 920.7h0M110.4 1087h0M218.3 916.7h0M217.9 1004.5h0M220.6 892.7h0M276.6 929.5h0M159.5 988h0M214.2 921.2h0M164.4 1048h0M201.2 944.6h0M184.9 959.3h0M181.9 1023.8h0M211.3 926.8h0M113.8 992.6h0M232.8 1008.5h0M210.4 1017.1h0M295.3 859.7h0M278.8 927.8h0M284.1 918.3h0M162.1 908.1h0M153.4 987.6h0M185.4 1024h0M162.8 983.5h0M245.6 964.3h0M109.8 1087.9h0M230.7 879.9h0M195.5 945h0M222.6 912.5h0M217 997.7h0M215 1004h0M154.9 1065.8h0M269.1 867.9h0M285.4 861h0M215.6 1000.3h0M214 1012.6h0M208.2 933.2h0M313.3 854.7h0M206.2 917.9h0M193.1 1018.8h0M105.8 1059.4h0M105 1060.5h0M140.5 977.3h0M228.6 992.1h0M162.3 972.6h0M281 862.3h0M235.6 974.8h0M279.4 861h0M168.5 1043h0M186.1 1036h0M169.5 961.9h0M296.8 911.3h0M301.9 888.5h0M225.8 989.8h0M195.9 1016.5h0M237.3 999.6h0M183.7 946.8h0M259.4 870.4h0M196.6 946h0M288.8 912.6h0M132.4 987.3h0M272.6 865.5h0M110.5 1057h0M132 943h0M110 926.3h0M289.5 933.9h0M198 1011.7h0M97.5 1074.5h0M214.9 1000h0M240.9 885.6h0M246.8 877.4h0M255.7 963h0M312.4 855h0M271.3 975.7h0M158.9 921.3h0M229.5 982.5h0M258.9 961.5h0M224.1 995.3h0M291 911.3h0M166.4 1039.6h0M200.3 942.4h0M211.5 929.5h0M280.7 1019h0M171.8 946.7h0M133.3 1070.3h0M159.4 986.9h0M177.8 902.1h0M263.3 866.3h0M306 880.7h0M294.2 903.8h0M269.2 963.9h0M127.1 1036.9h0M234.2 1007.1h0M210.4 1006.7h0M288.2 908.3h0M239.2 893.5h0M229.8 999.5h0M164.3 981.6h0M245.3 885.4h0M167.2 953.3h0M101.8 1062.5h0M247.5 981.7h0M262.6 954.7h0M276.9 930.8h0M171.8 1033.3h0M275.1 964.1h0M166.5 974.5h0M258.3 953.9h0M282.2 922.6h0M274.3 936h0M261 951.4h0M218.7 916.8h0M199.1 881.3h0M276.8 863.3h0M258.3 875.1h0M195 944.5h0M241.6 979.4h0M238.1 879.3h0M99.9 1067.7h0M224.9 901.6h0M199.8 1009h0M242.4 983.9h0M288.5 858.6h0M304.3 855.8h0M196.1 896.3h0M258.2 964.9h0M145.8 1064.5h0M233.7 884.6h0M231.3 887.4h0M171.4 952.5h0M220.4 911h0M156.1 988.6h0M285.2 857.1h0M152.8 1058.2h0M172.8 969.4h0M204.8 1011h0M242.3 895.2h0M273.4 862.8h0M220.5 1000.2h0M275 941.3h0M178.9 965.7h0M259.6 869.7h0M221.1 999.8h0M153.4 1053.9h0M176.6 969.1h0M122.2 925.1h0M300.7 857.5h0M101.6 1058.4h0M258.4 874.2h0M270.1 955.7h0M272.5 865.4h0M238.4 885.1h0M229.6 884.5h0M235.7 886.3h0M281.9 925.3h0M229.6 907.2h0M281.4 955.2h0M114.4 918.4h0M273.9 936.2h0M218.7 995.1h0M203.6 877.7h0M128.5 1030.9h0M221 1015.1h0M242.2 885.1h0M167.2 937.2h0M229.6 891.7h0M267.8 866.9h0M218.7 884.1h0M234.7 898.7h0M150 980.4h0M223 1005.4h0M248.9 885.6h0M239.9 970.4h0M127.4 989.1h0M243.2 883.4h0M267.5 968h0M101.5 1062.9h0M251.6 876.2h0M101.3 1042.7h0M251 876.6h0M259.5 868.6h0M285.8 859.5h0M251 959.1h0M247.4 972.3h0M261.3 875.6h0M304.1 883.2h0M234 988.3h0M229.2 988.2h0M200.1 1027.7h0M271.2 945h0M269.8 864.7h0M124.2 1039.1h0M180.8 965.4h0M207.5 931.2h0M201.6 883.3h0M274.2 935.8h0M297.1 896.3h0M134.5 964h0M262.6 872.1h0M249 877.9h0M232 997.9h0M217.2 921.3h0M186.9 955.1h0M280.6 862.2h0M210.3 917.7h0M196.9 944h0M202.5 1009.6h0M117.9 1044.7h0M224.8 893h0M295.5 901h0M192.5 1017.4h0M134.6 1023.2h0M166.6 979h0M216.3 1001.1h0M250.2 977.9h0M279 979.7h0M254.2 876.2h0M231.2 996.3h0M247.3 966h0M227.2 904.9h0M147.9 978.8h0M118.7 966.6h0M106.9 1052.2h0M100.5 1090.4h0M273.2 935.6h0M265.4 944.7h0M208.4 929.4h0M176 1036.4h0M108.5 1036.6h0M132.1 913.5h0M269.6 938.6h0M227.7 908h0M143.9 995.6h0M194.2 1019.9h0M115.8 1012.6h0M298.7 910.9h0M237.5 979.8h0M199.7 944.1h0M238.9 897.9h0M239.5 977.1h0M138 882.4h0M296 854.5h0M235.9 883.2h0M236.6 1013.9h0M275.7 935.7h0M276.9 956.4h0M253.2 966.8h0M221.2 907.6h0M209.3 1010.3h0M184.1 916h0M253.5 881.6h0M281.9 861.3h0M220 901.8h0M194.4 1017h0M220.5 905.8h0M212 918.4h0M274.7 862.7h0M279.6 925.3h0M262 871.1h0M171 1043.8h0M286.2 858.2h0M126 1018.3h0M235.2 893.8h0M307.5 884.5h0M238.3 894.3h0M260.1 871.8h0M259.5 949.3h0M203.6 920.9h0M281.1 928h0M290.1 858.7h0M212.9 895h0M261.1 873.6h0M180.9 881.4h0M194.5 948.3h0M276.4 931.3h0M264.7 949.7h0M252.6 986.7h0M280 957.5h0M155.8 985.8h0M177.4 1036.9h0M250.2 976.2h0M109.1 1054.1h0M168.1 942.9h0M287.3 860.2h0M193 950.5h0M110.6 1085.8h0M120.9 970h0M121.6 1082.8h0M238.1 886.1h0M211.9 881.9h0M118.4 1044.4h0M274.5 863.5h0M132.9 1069.3h0M157.9 927h0M197.7 1020.3h0M290.6 859.2h0M219.4 997.4h0M230.5 897.2h0M294.9 953.9h0M231.8 1020.4h0M227.3 998h0M266.8 869.6h0M225.7 994.8h0M274.2 935.4h0M157.9 989.9h0M273.5 935.4h0M227.7 999.2h0M194.5 897.8h0M199.5 921.5h0M133.8 1027.4h0M268.1 946.6h0M287.9 858.7h0M245.9 1024.5h0M229.2 908.1h0M224.6 901.8h0M256.4 873.4h0M133.1 874.2h0M198.5 912.4h0M249.7 876.4h0M298.1 895.8h0M278.1 862.9h0M278.6 1034.6h0M133.3 1026.5h0M255 953.4h0M200 939.6h0M218.3 919.5h0M224.4 1001.3h0M104.1 1089.2h0M183.9 1023.9h0M157.9 967.1h0M159.4 1046.9h0M277 859.5h0M188.7 896h0M209.5 917.9h0M229.2 887.2h0M153.2 941.2h0M237.8 881.9h0M191.3 946h0M227.1 897.9h0M198.7 946.2h0M278 862.8h0M153.9 1059.4h0M266 964.8h0M106.1 1061.2h0M290.3 962h0M291.1 859.4h0M208.7 928.9h0M249.3 875.4h0M281.9 922.3h0M227.1 880.5h0M219.1 912h0M120.7 1081.3h0M291.2 956.9h0M249.8 963h0M254.9 870.5h0M232.4 882.2h0M309.3 855.3h0M213.8 913.5h0M235.1 879.5h0M135.7 1070.2h0M241.8 886.5h0M174.4 961.6h0M133.3 1089h0M219.1 911.2h0M172 969.4h0M242.8 988.1h0M259.9 868.8h0M289.5 925.1h0M208.9 1005.2h0M108.3 1047.6h0M192.9 909.9h0M223.8 875.1h0M201.5 1016.3h0M127.1 1077.4h0M298.4 855.7h0M216.6 923.7h0M145.5 1065.5h0M121 1040.3h0M208.5 890.9h0M266.7 942.1h0M309.8 855.9h0M275.6 859.3h0M275.4 931.6h0M267.8 867.1h0M252.9 956.5h0M262.1 954.9h0M179.3 948.4h0M254.1 861.2h0M267.5 943.8h0M199.3 1013.1h0M237.8 888h0M257.7 865h0M283.4 919.8h0M254.4 966.4h0M281.1 973.4h0M223.6 902.5h0M230.6 908.8h0M299.3 893.5h0M270.8 945.7h0M144.4 1062.9h0M280.2 861.7h0M223.9 915.9h0M296.9 855.9h0M137.5 1021.1h0M252.3 861.8h0M192.4 934.2h0M125 1092.3h0M234 883.1h0M234.5 1014.6h0M269.3 946.2h0M268.4 866.2h0M221.7 996.3h0M233.3 892.7h0M208.8 1010.7h0M112.7 1050.2h0M153.4 994.1h0M241.9 986.3h0M226.4 894.1h0M306.2 854.3h0M219.8 905.2h0M307.9 876h0M118 1046.1h0M239.6 1004.2h0M200.7 943.7h0M131.9 1030.3h0M130.6 997.2h0M142.9 1068.2h0M276 936h0M204.5 935.5h0M274.4 937.7h0M266.2 870.1h0M282.3 937.9h0M193.6 950h0M128.6 983.6h0M241.8 871.1h0M264.5 868.2h0M181.6 955h0M299.6 896.3h0M149.3 999.1h0M249.3 972.9h0M177.9 892h0M124.7 883.9h0M250.2 970.2h0M155.1 1060.9h0M115.2 898.4h0M212.5 1002.3h0M259 956.4h0M143.9 1061.7h0M191.2 954.2h0M127.5 940.2h0M259.4 874.9h0M250 959.2h0M134.6 982.9h0M304.1 925.1h0M249.6 974.5h0M264.4 868.1h0M108.7 1022h0M163.4 978.5h0M254.1 877h0M147.6 942.2h0M272.4 863.3h0M271.7 940.7h0M277.4 931.6h0M163.4 1050.7h0M186.6 934.8h0M136.3 1003.3h0M270 941h0M223.8 895.8h0M211.4 906.2h0M242.5 889.2h0M267.5 865.4h0M149.5 1059.7h0M308 875.9h0M240.5 888.2h0M259.7 875.1h0M155.6 984.9h0M228.5 902.3h0M288.2 913.1h0M283.9 861.5h0M132.8 1068.9h0M206.6 933.9h0M258.2 968.9h0M206.6 1034.1h0M264.6 948.7h0M130.2 1029.3h0M133.9 1020.9h0M222.4 913.7h0M218 1004.6h0M289.4 859.8h0M236.6 876.2h0M278.8 928.7h0M176.7 936.2h0M265.7 960.8h0M124.2 1030.7h0M255.5 976.7h0M219.6 915.6h0M250.7 873.1h0M276.4 864.3h0M209 1002.3h0M134.4 1089.5h0M200.8 943.7h0M182.8 1028.9h0M200.1 939.4h0M194.1 1020.1h0M204.7 1007.4h0M216.6 915.9h0M238 883.5h0M278.3 864.2h0M170.5 925.8h0M257.9 872.4h0M310.4 855.3h0M204.6 936.9h0M128 989.5h0M282.1 860.4h0M189.5 1018.7h0M217.3 919.5h0M204.9 936.8h0M238.4 882.2h0M262.3 871.4h0M256.1 878.1h0M157.6 991.5h0M198.5 1020.7h0M294.3 909.3h0M181.4 1030.8h0M208.5 1006.6h0M264.7 949.1h0M124.2 991.1h0M183.5 965h0M209.7 1010.3h0M252.4 966.3h0M215.1 1027.2h0M249.4 976.1h0M295.2 899.6h0M234.1 885.8h0M242.2 987.9h0M238.2 900.5h0M243.6 890h0M258.4 875h0M143 1071.1h0M130.9 1073h0M267.3 864.6h0M235.9 1009.2h0M210.9 1002.6h0M198.2 900.2h0M210.7 925.3h0M125.5 1090.8h0M113.5 1049.6h0M103.7 1064.7h0M220 1000.5h0M183.1 1026.4h0M275.4 863.7h0M196.2 947.4h0M150.7 964.2h0M238.1 984.3h0M297.5 859.1h0M106 1062.2h0M269.2 861.4h0M263.8 869.2h0M219.4 1004.4h0M135.7 1067.8h0M200.1 944.1h0M123.9 929h0M185.2 1036.4h0M138.5 1020.2h0M237.6 988.4h0M115.5 949.7h0M187.7 1031.4h0M236.5 997.1h0M254.8 981.2h0M102.7 1090h0M163.1 1051.5h0M180.4 919.3h0M269.7 866.6h0M276.8 932.6h0M234.8 886.1h0M258.1 952.9h0M160.3 968.9h0M281.7 923.3h0M237 881.3h0M189.3 906.5h0M152.2 951.6h0M164.6 979.3h0M256.1 875.9h0M221 1000.8h0M159.7 989.9h0M287.9 856.4h0M274.3 933.4h0M246.8 990.7h0M184.6 952.7h0M255.8 872.9h0M248 880.3h0M208 1007.1h0M107.2 1088h0M231.4 903.6h0M119.9 1045.9h0M124.2 1041h0M262.9 869.1h0M202.1 940.2h0M154.6 970.6h0M280.3 862.2h0M288.6 922.4h0M125.8 989.3h0M206.9 1007.6h0M274.6 866.2h0M158.5 931h0M233.9 903.5h0M179.4 964.1h0M250.5 878.9h0M190.5 957.4h0M228.6 1000.7h0M110.9 1056.9h0M168.8 1049.3h0M124.3 981.3h0" stroke="#1f77b4" stroke-opacity="0.62" stroke-width="3.8" stroke-linecap="round" fill="none"/>
<path d="M276.1 1036h0M213.9 925.7h0M220.9 1009.2h0M219.9 994.1h0M211.3 1009.9h0M200.5 905.4h0M118.5 1091.3h0M243.3 869.2h0M158.1 1053.1h0M201.6 1016.8h0M259.3 949.1h0M226.4 904.5h0M127.1 1075.4h0M189.2 1028.9h0M162.5 1046.2h0M189 952.3h0M260.1 866.2h0M103.3 1051.9h0M262.2 959.2h0M140.5 987.6h0M277.6 963.4h0M162.2 1049.3h0M302.3 886.8h0M197.1 1016.2h0M262.5 968.1h0M223 899.6h0M279.6 857.8h0M220.8 913.1h0M262.5 867.5h0M271.9 943.3h0M208.8 1016h0M247.4 968.4h0M234.2 887.9h0M162.7 975.7h0M192.3 1018.6h0M246 972.5h0M123.3 1092.6h0M205.6 934.2h0M255.8 961.7h0M207.9 1029h0M260.2 968.6h0M239.1 877.4h0M163.2 922.9h0M285.2 938.5h0M242.2 874.5h0M190.2 944.6h0M168.3 938.3h0M211.9 916.9h0M222.3 873.3h0M154.5 1055.1h0M214.2 926.3h0M185.9 915h0M207.2 1004.7h0M183.8 907.9h0M128.5 1026.6h0M258.1 875.7h0M294.5 903.1h0M229.4 892.9h0M108.7 1090.6h0M293 907h0M232.3 889.8h0M200.8 942.1h0M109.5 917.6h0M193 950.4h0M283.4 919.8h0M213.4 1014.4h0M265.6 869h0M106.6 1060.7h0M269.7 974.4h0M308.7 854.7h0M240 887.2h0M195.4 949.3h0M214.8 896.3h0M203.7 937.7h0M255.9 878h0M254.2 876.7h0M249.7 877h0M272.9 936.8h0M260.2 980.4h0M263.3 948.7h0M132.1 1071.3h0M138 1021.7h0M241.6 1000.5h0M146.4 1082.2h0M228.5 896.9h0M211.7 1000h0M135.9 918.8h0M158.5 982h0M165.9 964.7h0M209.7 886.7h0M281.9 923.8h0M171.6 969.1h0M215.7 1036.7h0M250.1 877.9h0M163.2 977.5h0M273.7 936.9h0M297 858h0M202.5 941.4h0M115.6 1045.2h0M210.4 930.3h0M264.8 867.7h0M226.9 911.3h0M169 978.3h0M230.3 893.9h0M139.4 1069.6h0M274.8 935.2h0M291.6 859.1h0M148 1064.7h0M194.7 940h0M283.9 861.8h0M275.9 859.1h0M201.2 942h0M293.6 860h0M167.9 979.9h0M203.6 921.5h0M259.6 877.4h0M245.6 973.8h0M114.2 1003.9h0M226.6 999.4h0M242.2 876.5h0M291.6 859.4h0M187.8 1029.5h0M164.6 872.2h0M218.4 919.7h0M249.8 875.1h0M131.6 995.7h0M184.2 1042.7h0M295.2 859.2h0M231.7 990.5h0M256.9 965.7h0M238.5 897.5h0M223.4 904.7h0M209.6 927.8h0M206.3 1014.7h0M113.3 1053.9h0M241.3 879.2h0M306.4 887.4h0M261.2 867.6h0M203.9 886h0M286.3 860.1h0M154.6 882.4h0M234.3 987.3h0M219 896h0M205.7 1012.2h0M104 1089.3h0M172.8 1047.8h0M231.7 999.6h0M269.9 866.9h0M217.2 995.1h0M193.3 1020.6h0M283.6 861.8h0M159.6 938.9h0M260.4 872h0M203.2 908.8h0M242.9 892.5h0M286.2 861.1h0M251.2 874.5h0M100.2 1062.1h0M302.3 884.4h0M266.9 952.8h0M276.2 862.7h0M196.7 1013.8h0M285 919.8h0M153 975.4h0M176.7 1031h0M273.9 868.2h0M244.9 882.1h0M229.1 991.9h0M267.4 866.5h0M258.6 870.7h0M189.6 929.3h0M271.6 958.1h0M157.8 1053.6h0M132.1 1023.3h0M198.4 937.6h0M144.8 1003.7h0M187.2 959.9h0M230.6 892.2h0M279 861.8h0M233.4 989.9h0M284.4 861.2h0M199.4 945.2h0M200.4 909h0M194.4 934.2h0M222.3 1004.4h0M272.5 949.5h0M151.1 997.4h0M127.1 1074.4h0M183.9 944.2h0M276.5 959h0M243 874.7h0M273.9 864.2h0M108.7 1091.1h0M251.4 969.5h0M311.5 869.8h0M211.1 1002.3h0M287 862.8h0M247.2 961.9h0M247 886.9h0M297.1 894.5h0M174.4 908.9h0M219.5 909h0M213.3 927.6h0M222.8 999.7h0M290 905.1h0M308.1 875.2h0M263.9 872.5h0M100.3 1067.6h0M117.3 1045h0M228.7 902.6h0M283 857.8h0M256.4 1030.1h0M215.9 1021.8h0M148.5 1074.6h0M158.4 1053.5h0M274.7 863h0M138.2 949.4h0M218 1034.7h0M252.3 872.9h0M206.7 1006.5h0M198.9 943.9h0M247.9 968.9h0M209.5 907.2h0M113.9 936.2h0M214.9 1007.6h0M109 1055.3h0M262 953h0M179.8 914.7h0M239.9 979.6h0M96.9 1076.3h0M246.7 878.3h0M230.4 1002.1h0M298.5 890.6h0M257.1 962.4h0M113.7 966h0M157.6 940.6h0M311.7 869.1h0M179 944.2h0M252 876.6h0M282.3 862.4h0M124 1033.6h0M221.2 907.7h0M101 1064.3h0M283.2 863.5h0M259.1 864h0M236.4 990.8h0M229.9 909.6h0M228.1 904.5h0M246.6 981.7h0M243.2 967.6h0M134.5 1070.8h0M291.4 858.3h0M236.4 881.9h0M142.2 1064.5h0M288.7 860h0M288.6 859h0M212.1 907.7h0M281.4 1037.4h0M195.7 1015.3h0M298.6 856.1h0M299.3 892.3h0M236.4 979.4h0M256.7 956.7h0M203.4 937.2h0M293.8 857.4h0M272.2 938.1h0M181.6 1026.4h0M160.9 935.1h0M237.3 885.9h0M193.1 1022.1h0M117 923.7h0M243.3 977.5h0M112.5 957.3h0M233 894.3h0M114.3 1052.6h0M139.3 885.6h0M202.7 885h0M272.1 941.6h0M260.7 946.8h0M204.7 1006.8h0M284.2 919.1h0M279.9 969.4h0M225.5 901.6h0M276.4 863.8h0M230.6 999.2h0M285 856.2h0M197.7 946.5h0M268.2 865.6h0M179.1 954.8h0M220.2 996.2h0M292.8 903h0M229.6 905.6h0M270.2 939.7h0M111.7 1033.6h0M235.9 995.4h0M194.8 947.8h0M281.7 862.1h0M256 962.3h0M120.1 948.9h0M216.5 913.8h0M254.1 970.9h0M227.1 994.4h0M257.9 878.5h0M252.1 970.9h0M208.5 927.5h0M143.2 1066h0M263.4 952.5h0M210.3 1004.2h0M234.5 976.9h0M237.3 889.2h0M193.5 1018.5h0M264.8 949h0M221.7 999h0M267.2 866.5h0M178.2 947.4h0M252.9 872.9h0M288.9 858.5h0M308.1 854.2h0M257.5 1010.8h0M197.3 942.6h0M238.4 895.8h0M241.4 873h0M132.9 1028.4h0M246.8 878.5h0M154.8 879.5h0M249 969.9h0M193 1018.4h0M113.1 1053h0M201.7 1015.5h0M141.1 1063.4h0M287.7 913h0M255.1 869.4h0M135.9 1025.3h0M232.7 897.4h0M199.5 943.4h0M177.9 961.1h0M246.7 974.7h0M226.3 898h0M277.2 950.9h0M167.3 980.2h0M283.2 860.7h0M252 973.8h0M239.7 890.3h0M230.5 896h0M206.6 933.3h0M287 924.8h0M256.5 879.8h0M195 1016.5h0M258.7 877.1h0M168.2 971.1h0M230.9 903.2h0M201.5 1010.5h0M239.3 970.6h0M146.4 1065.4h0M157.7 1053.2h0M242.3 979.5h0M173.8 907.4h0M248.2 1037.8h0M151.1 996.9h0M154 1066.8h0M138.1 1065.2h0M244.1 874.7h0M253.4 966.1h0M245.7 974h0M174.8 1031.3h0M306.1 920.9h0M305.1 856.8h0M267.1 866.3h0M200.3 1012.2h0M148.9 998.8h0M278.3 862.3h0M179.1 954.9h0M269.9 941.4h0M144.7 1066.5h0M262.9 969.9h0M262.8 969.9h0M148.1 990.3h0M277.6 949.5h0M202.2 939.5h0M234.8 891.5h0M202.5 939.2h0M199.5 922.3h0M146.8 998.6h0M225.2 908.9h0M283.8 919.9h0M141.9 1004h0M239.8 882.8h0M206.1 932.5h0M135.9 995.8h0M174.5 962.9h0M270.6 941.2h0M261.6 959.7h0M187.1 1026.3h0M172.6 970.5h0M220.9 918.5h0M178.4 966.6h0M305.7 854.7h0M247.4 890.5h0M224.7 989.4h0M214.4 918h0M139.1 1066.5h0M280.5 861h0M220.6 906.9h0M216.8 916.1h0M228.2 905.5h0M161.2 1063.1h0M159.8 1047.8h0M277.8 933.2h0M275.9 864h0M210.8 923.3h0M296 900.8h0M220.5 905.2h0M182.9 1029.3h0M138.8 885.3h0M104.6 1058.9h0M217.1 895.4h0M148.6 1002.6h0M210 931.2h0M244.6 870.3h0M161 979.6h0M297.8 922.8h0M177.7 962h0M218.9 911.4h0M194.5 882.5h0M124.7 1035.5h0M179.2 1032h0M196.3 1015.3h0M239 888.2h0M257.4 872h0M264.1 999.9h0M287.7 858.9h0M261.8 954.8h0M171.7 1038.7h0M254.2 875h0M251.4 868h0M210.5 924.4h0M235.7 868.1h0M259.1 875.4h0M228.2 989.5h0M103.7 1044.2h0M118.5 977.5h0M210.9 925.6h0M212.1 913.2h0M225 901.9h0M255.2 953.8h0M208.5 932.5h0M216.9 917.1h0M203.8 933.4h0M169 979.4h0M259.8 862.3h0M121.5 1033.7h0M207.4 1004.4h0M195.4 1015.9h0M227 875.3h0M202.9 1012.2h0M204.9 1009.6h0M259.6 868h0M274.5 863.2h0M276.6 862.2h0M240.7 888.4h0M283.3 863.6h0M100.2 1063.9h0M290 856.7h0M237.5 985.2h0M178.4 1051.7h0M213.4 912.3h0M212.5 926.4h0M185.6 949.2h0M220.7 1004.5h0M162.5 983.2h0M255.3 959.9h0M157.8 990.8h0M211.6 1006.4h0M230.6 987.2h0M226.2 994.8h0M228.7 890.8h0M232.1 887h0M192.2 1039.9h0M303.2 889.2h0M174.6 939.7h0M158.3 983.2h0M255.1 877.1h0M166.3 914.6h0M276.8 863.7h0M227.3 994.7h0M208.7 1004.2h0M226.7 879.4h0M210.3 925h0M140.3 1008.1h0M306.8 855.4h0M289 859.6h0M136.3 1006.8h0M205.9 1010.2h0M145 1066.2h0M216.7 918.7h0M208.2 932.5h0M137.2 883.7h0M202.7 938.7h0M138.1 1019h0M283.8 860.9h0M118.6 1085.5h0M251.8 876.4h0M285.2 924.8h0M232.2 873.4h0M265.5 866.6h0M122.1 1092h0M251.8 959.3h0M161.9 958.5h0M221.9 993.6h0M219 912.9h0M214.9 883.5h0M290.4 857.3h0M253.3 962.9h0M267.9 947.9h0M208.7 916.7h0M141.8 987.6h0M269.2 960.3h0M193.4 949.3h0M127.1 1091.4h0M222.1 1020.8h0M278.5 932.5h0M160.3 986.9h0M242.2 974.7h0M303 884.9h0M295.5 899.8h0M243.8 982.7h0M290 857h0M253 961.1h0M212.9 1001.9h0M199.9 1014.2h0M231.8 898h0M273.9 1039.4h0M237.1 977.4h0M277.5 929.5h0M259.3 867.7h0M260.5 869.8h0M223.6 911h0M168 1043.5h0M160.5 981.7h0M252.3 880.7h0M234.2 895.3h0M227.8 996.3h0M236 992.1h0M239.5 982.5h0M205.4 933.2h0M101.5 1092.2h0M154 992.6h0M178.9 963.1h0M310.7 869.7h0M192.1 1019.2h0M132.8 1028.8h0M258.3 874.9h0M225.5 990.2h0M265.5 947.2h0M182.1 939.5h0M270.4 944h0M116.5 1005.8h0M259.8 855.7h0M189.3 955.8h0M133 979.1h0M111.4 970.9h0M161.4 973.2h0M148.2 1060.9h0M118.2 1040.2h0M275.5 935.4h0M161.1 978.9h0M184.5 959.1h0M255.5 879.5h0M202.1 1028.3h0M203.5 898.3h0M212.8 999.4h0M229.5 893.1h0M137 1006.7h0M311.2 854.9h0M155.5 1071.2h0M279.8 861.8h0M162.7 1046.6h0M155.2 983h0M249.9 864.8h0M127.8 1017.2h0M177 951.3h0M271.6 857.3h0M209.4 928.1h0M227.6 991h0M225.9 988.7h0M267.3 948.8h0M239.5 980.3h0M219.7 1002.5h0M177.1 942h0M256.5 956.1h0M232.8 886.7h0M214.4 1015h0M229.1 902.8h0M203.5 1010.4h0M203.3 938.9h0M230.1 982.1h0M219.4 903.9h0M300.4 971.4h0M250 878.8h0M301.2 887.3h0M165.6 899.9h0M213.6 919.6h0M192.5 1018.3h0M270.1 864.5h0M201 1013.4h0M202 941.7h0M267.5 943.5h0M158.1 991.2h0M209.7 922h0M287.7 859.3h0M294.1 856h0M127.9 1008.7h0M264.4 945.3h0M193.5 951.6h0M208.5 1021.2h0M204.8 898.7h0M213.3 912.7h0M223.5 991.7h0M285.6 860.8h0M221.2 913.8h0M196.4 947.4h0M271.9 864.2h0M220 998.6h0M261.6 947.3h0M182.6 956.5h0M219.9 997.9h0M169 975.2h0M285.2 926.1h0M220.8 892.9h0M218.9 878.8h0M151.1 1083.5h0M296.2 915.3h0M191.8 933.6h0M282.3 969h0M242.7 886.9h0M205.9 933h0M218.6 916.3h0M246.5 977.5h0M249.6 959.1h0M119 912.7h0M145.5 990.4h0M265.3 865.4h0M155.9 985.8h0M277.9 862.3h0M167.6 955.9h0M126.8 985.5h0M135.6 1017.8h0M140.2 1067.9h0M177.2 1038.9h0M194.4 1016.8h0M215.4 916.9h0M138.7 992.4h0M128.8 1032.3h0M216.3 919.2h0M263.9 869h0M145.2 1066.5h0M190.6 914.3h0M154.1 1056h0M307.2 854.8h0M163.1 938.5h0M207.8 1042.2h0M286.3 857.8h0M231.9 870.5h0M136.1 996.4h0M191.2 920.2h0M175.6 936.6h0M236.1 987.8h0M239.4 889h0M307.3 855.2h0M209.4 1011.3h0M112 1054.9h0M203.5 1011.4h0M145.3 912.4h0M290.5 859.5h0M195 949.8h0M281.2 859.6h0M280.5 862.6h0M216.3 1006.7h0M186.2 1027.3h0M177.2 966.3h0M225.6 995.9h0M277.2 859.6h0M298.1 922.5h0" stroke="#1f77b4" stroke-opacity="0.62" stroke-width="3.8" stroke-linecap="round" fill="none"/>
<path d="M286.7 859.3h0M272.1 861.2h0M175.8 911.2h0M217.5 915.5h0M199 901.6h0M213.7 886.6h0M104.1 1053.3h0M225.1 908.1h0M251.1 968.7h0M103.5 990.7h0M256.5 881.2h0M249.5 966h0M299.9 855.8h0M269.1 937.6h0M225.5 1021.1h0M112.1 1087.4h0M222.5 904.8h0M250.4 877.5h0M247.3 1032h0M250 881.2h0M236 883.3h0M197.1 898.6h0M291.2 858.9h0M244.2 890.6h0M270.8 958h0M283.4 858h0M136.9 948.6h0M169.5 963.9h0M173.4 1033.2h0M155.9 988.6h0M206.2 931.7h0M289 912.3h0M263.4 864.1h0M250.5 965.3h0M211.6 920.2h0M234.3 865.4h0M165.9 938.2h0M141.5 1010h0M294.3 858.7h0M220.7 907.2h0M197.3 1021.1h0M280.8 923.2h0M126.4 914.8h0M276.1 989.5h0M237.1 888.4h0M205.2 933.6h0M228.3 892.7h0M242.9 886.6h0M254.1 873.5h0M277.1 863.4h0M185.6 1020.8h0M265.8 869.6h0M268.6 939.4h0M119.7 1042.9h0M207.6 930.3h0M286.7 860.9h0M154.4 1056.2h0M245.6 881.5h0M192.8 945h0M229.1 894.8h0M273.4 862.2h0M277.8 1028.6h0M283.6 919h0M188.9 1037.2h0M259 878.3h0M130.3 1032.8h0M279.5 925.2h0M109.1 1091.8h0M292.2 858h0M253.5 872.3h0M309.2 854.1h0M261.5 870.6h0M219.9 997.5h0M280.6 864.1h0M225.3 998.6h0M162.4 982.4h0M196.4 913.4h0M230.5 995.2h0M220.1 999.3h0M250.4 958.6h0M199.6 1014.1h0M147.3 1060.6h0M133.3 1028.7h0M275.7 934.3h0M236.6 886.5h0M251.9 884.3h0M210.1 1005h0M234.9 979h0M295.7 855.8h0M181.8 941.4h0M144.5 891.8h0M282 861.4h0M277.6 861.2h0M123.2 912.4h0M168 972.1h0M189.6 889h0M252.6 872.8h0M199.5 923.3h0M266.1 942.6h0M276.5 965.6h0M274.8 958h0M300.5 887.9h0M216.7 1002.6h0M132.6 1022.5h0M107 1034.8h0M200.4 1012.9h0M270.4 864h0M152.3 1061h0M135.7 978.8h0M265.1 946.1h0M112.7 1086.5h0M189.8 920.7h0M306.2 877.9h0M202.1 1014.1h0M123 1035h0M294.1 858.4h0M165.3 961.4h0M204.6 934.7h0M195.1 1017.5h0M232.1 991.5h0M117 1091.2h0M280.6 860.7h0M220.6 913.9h0M222.4 988.9h0M278.1 1028.9h0M299.5 897.5h0M146.2 1063.4h0M256.5 878.7h0M128.2 1022.4h0M252.6 960.1h0M255.8 956.7h0M266.2 865.7h0M219.7 990.8h0M240 979h0M212.2 926.5h0M134.3 1017.7h0M223 913.7h0M283.6 861.7h0M221.2 990.1h0M145.8 1064.3h0M267.1 868.7h0M173 968.9h0M242.9 879.3h0M281.6 857.6h0M129.3 1091.9h0M133.4 1091.9h0M147.8 1000h0M268.6 867h0M164.4 983.4h0M250.2 882.6h0M249.6 877.6h0M196.7 900.9h0M231.9 984.3h0M158.1 1049.8h0M137.5 1068.5h0M106.7 995.1h0M118.5 1085.4h0M116.7 926.6h0M307.5 876.7h0M216.9 998.4h0M238.9 1000.2h0M214.8 924.5h0M242.4 980.8h0M289.8 915.4h0M128.3 953.6h0M246.4 980h0M266.8 865.6h0M232.3 901.2h0M281.2 865.1h0M153.7 985.4h0M185.9 939.1h0M111.6 1050.5h0M218.7 873.9h0M207.4 1007.4h0M291.8 857.9h0M276.6 932.7h0M271.4 969.3h0M194.9 949.6h0M223 911.1h0M119.2 1082h0M241.7 883.1h0M252.6 966.8h0M198.5 944.5h0M224.7 913h0M113 1052.3h0M144 1004h0M136.7 930.9h0M149.8 1000.1h0M202.8 1019.7h0M257.7 956h0M184.5 1021.8h0M246 886.5h0M140.9 1014.7h0M204.3 936.3h0M185.2 918h0M240 1013.3h0M277.5 860.7h0M139.2 884.3h0M139.7 1016h0M224.3 873.6h0M103.5 1061.2h0M264.5 871.8h0M279.4 928.1h0M238.8 897.3h0M156.8 963.1h0M103.8 1089.6h0M238.1 1008.5h0M240.7 886h0M283.5 863.7h0M220.3 1004.1h0M244.5 966h0M123.1 1042.1h0M231.1 984.8h0M237.7 900.9h0M308.2 910.2h0M161.6 973.1h0M245.6 978.9h0M286.7 916.9h0M261.4 874.8h0M272.1 935h0M288.3 918.1h0M189.9 930.7h0M268.8 865.1h0M283.7 941.6h0M224.7 889.8h0M282.9 860.7h0M280.4 940.3h0M223.9 991.3h0M273.5 955.3h0M116.3 1046.1h0M229 906.7h0M256.1 952.1h0M221.2 993.2h0M262.8 867.4h0M236.9 884.5h0M206.4 1009.1h0M255.1 873.9h0M212.1 1002.2h0M244.9 877.6h0M248.6 990.6h0M280.6 923.2h0M279.8 858.6h0M231.8 868.9h0M246.2 964.6h0M250.4 965.3h0M248.5 972.4h0M277.1 931.8h0M241.4 886.2h0M161 1046.4h0M259.5 868.6h0M172.9 973.3h0M253.3 862.6h0M124.8 1079.6h0M301.1 886.9h0M263.7 866.3h0M201.6 1009.5h0M282.2 921.9h0M283.8 918.6h0M196.5 888.4h0M244 885.3h0M203.4 939.4h0M106.5 1091.2h0M209.9 929.5h0M196.4 920h0M148.7 1001.3h0M287 860.5h0M283.5 860.7h0M215.2 919.7h0M179.7 953.6h0M218.9 910.3h0M131.2 1029.5h0M297.4 899.9h0M167.3 980.9h0M172.7 961.2h0M236.9 885h0M160.3 984h0M173.1 975.6h0M297.8 902.1h0M291.4 858.9h0M214.2 999.2h0M208.5 1004.3h0M222.1 914.9h0M213.3 919.8h0M110.4 1054.7h0M295.1 856.4h0M244.4 976.9h0M209.2 1005.6h0M231.2 882.3h0M170.9 973.2h0M263.7 863.2h0M251.6 880.2h0M230.3 891.9h0M232.7 987h0M232.3 985.5h0M263 946.5h0M183.9 885.7h0M248 879.3h0M210.7 909.7h0M267.8 868.5h0M156.9 1067.3h0M243 880.9h0M202.2 914.4h0M107.5 1049.7h0M114.6 892h0M277.9 862.5h0M288.7 861.8h0M212.5 917.1h0M263.2 970.9h0M251.3 882.6h0M240.3 1004h0M221.2 909.9h0M248.5 968.3h0M181.1 967.4h0M269.3 948.8h0M225.7 905.5h0M190.5 1053h0M179 931.4h0M169.5 935.7h0M208.8 880.2h0M209.4 1007.9h0M209.1 926.9h0M302.8 887.4h0M219.9 1000.4h0M263 872.4h0M273.8 934.1h0M257.4 958.9h0M205.5 1009.5h0M255.9 958.8h0M219.1 884.1h0M242.7 878.3h0M158.7 984.6h0M109.1 962h0M221 990.6h0M184 963.2h0M158.8 1059.9h0M282.9 921.9h0M286.8 860.8h0M118.6 995.3h0M100.9 1039.8h0M220.9 913.1h0M204.1 1011.4h0M192.4 952.1h0M187.2 960.2h0M262.4 868.3h0M193.3 951.6h0M222 1003.5h0M200.7 943.5h0M172.6 926.5h0M135.6 1012.6h0M123.2 1039.5h0M267.3 867h0M264.7 870h0M227.7 986.5h0M172.9 966.8h0M103 1060.3h0M274.8 863.4h0M203.7 1009.2h0M279.6 927.4h0M275.4 933.3h0M139.1 1013.6h0M178.2 948.4h0M151.9 990.5h0M174.1 933.8h0M228.9 898.9h0M109.5 948.4h0M165.1 1045.1h0M241.9 977.5h0M243.1 885.8h0M125.4 1034.4h0M223.8 998.2h0M290.8 858.9h0M201.7 927.5h0M293.6 947h0M201.9 1012.6h0M271.2 864.9h0M198.6 882h0M253.9 879.6h0M113.2 1049.8h0M183.9 916.2h0M141 1009.7h0M252.1 885.9h0M226.6 900.9h0M184.4 928.9h0M148.8 994.7h0M260.3 978.8h0M162.4 954h0M297.5 895h0M211.9 999.6h0M186.7 939h0M273.9 962.6h0M239 892.9h0M103.7 1064.1h0M201.2 890.4h0M158.3 1051.9h0M181.3 1025.2h0M141.1 915h0M113.3 1050.3h0M191.2 953h0M194.3 927.1h0M159.2 1050.4h0M173.7 908.8h0M165.3 974.6h0M228.3 888.1h0M272 863.8h0M237.3 980.4h0M226.3 890.2h0M221.5 909.9h0M208 929.6h0M123.9 1090.6h0M243.4 873.6h0M208.2 1008.4h0M246.9 881.9h0M194.3 1014.4h0M196.5 1024.2h0M225.5 909.9h0M280.3 925.2h0M180.4 963h0M150.6 972.1h0M263.1 870.2h0M148.2 1064.3h0M228.5 988.4h0M237.3 876.1h0M115.8 1050.1h0M155.3 1053.4h0M209.1 926.7h0M217.1 1020.4h0M260.4 871.4h0M234.9 887.6h0M247.3 992.5h0M271.3 960.9h0M236 994.6h0M276.8 932.1h0M193.7 1018.3h0M209 1003.9h0M270.4 865.8h0M216.1 909.4h0M229.8 995.3h0M308.8 873.5h0M108.4 1052.7h0M184.9 1027.8h0M285.9 860.2h0M265.1 866.7h0M245.7 975.2h0M270.7 940.8h0M146.5 998.6h0M261.2 961.8h0M192.9 949.9h0M289.4 923h0M205.1 934.7h0M276.1 867.1h0M272 865.7h0M194.5 949.5h0M229.1 893.8h0M188.5 940.3h0M311.1 854.4h0M276.7 863.7h0M281.9 922.5h0M158 947.8h0M260.4 869.8h0M230.9 1009.8h0M248.3 886.5h0M202.2 927.5h0M263 863.5h0M214.6 1000.8h0M220 872.9h0M275.4 963.5h0M255.4 876.4h0M204.7 1012.9h0M191.9 934.2h0M145.5 930.6h0M276.8 967.2h0M294.9 857.2h0M256.3 955.1h0M263.1 870.2h0M188.6 953.6h0M225.7 1020.2h0M259 962h0M254 965.4h0M297.6 892.3h0M166.2 958.6h0M105 1060.4h0M193.2 1019.4h0M134.7 1021.7h0M194.6 1017.4h0M237.4 880.1h0M234.2 878.8h0M256.3 1028.6h0M149.1 943.7h0M260.5 967.6h0M266.7 951.7h0M212.7 1006h0M279 931.8h0M160.4 987.1h0M261.3 873.4h0M155.2 993.4h0M186.2 910.2h0M278.1 861.2h0M128 1026h0M100.3 1065.6h0M158.7 1048h0M177.8 940.5h0M206.3 919.4h0M149.6 1074.2h0M210.3 886.1h0M152.9 1081.9h0M207.5 1004.2h0M198.2 946h0M222.1 992.9h0M218.1 920.8h0M245.4 892.8h0M256 964.9h0M123.3 891.5h0M242.3 893.1h0M240.3 987.4h0M220.7 1008.6h0M259.6 872h0M144 1004.1h0M184.1 960.5h0M247.6 883.5h0M195.2 952.3h0M124.3 1041.6h0M196 948.1h0M286 919.1h0M119.2 1090.4h0M214.6 1000.1h0M180.5 955.8h0M207.5 931.7h0M309.3 874h0M265 951.4h0M122 1043.1h0M275.5 943.6h0M270.3 976.7h0M217.8 921.7h0M268.7 953.9h0M303.4 855.2h0M237.4 975.3h0M227.4 993.7h0M200.6 1014h0M166.1 973.8h0M235.4 883h0M108.9 1055.8h0M259.1 959h0M105.5 1059.4h0M210.2 1023.4h0M269.5 863.9h0M286.9 860.5h0M279 926.8h0M272 865.7h0M204.9 934.6h0M260.2 953.7h0M174.7 963.4h0M115.5 1091.9h0M159.6 984.2h0M243.5 893.9h0M136.7 1023.7h0M144 982h0M202.2 915.8h0M135.3 957.9h0M154.4 993.1h0M221.6 908.8h0M162.8 979.3h0M237.4 868.7h0M237.7 1003.1h0M246.5 887.2h0M235.2 872.8h0M259.8 965.1h0M270.6 1036.4h0M171.9 975.7h0M200.3 1012.8h0M108.8 1055.9h0M237.9 989.4h0M276.9 1037.1h0M114.7 1010h0M157.1 985.3h0M225.2 1000.9h0M252.1 1019.4h0M228.7 986.1h0M131.7 1022.8h0M161.6 931.9h0M204.9 1005.2h0M303 892.1h0M159.3 980.2h0M306.6 854.6h0M309.2 855.4h0M166.8 933.3h0M195.9 947.5h0M180.2 917.1h0M134.6 936.6h0M162.5 1045.2h0M231.5 997.7h0M177.6 939.5h0M253.1 864h0M193.9 1017.3h0M179.8 1027.9h0M134.3 1020.7h0M292.9 856.2h0M278.6 861.2h0M237.5 973.4h0M298.1 895.3h0M215.2 1003.8h0M180.8 895.2h0M275.4 860.9h0M263 952.1h0M301.2 889.2h0M286 860.6h0M245.1 999.2h0M194 950.2h0M110.3 1053.7h0M221.2 915.9h0M284.9 860.7h0M203.9 1010.6h0M275.6 859.3h0M242.5 883.8h0M159.1 955.9h0M243.7 978.5h0M139.4 1065.4h0M123.4 1037.8h0M171.5 1058.4h0M274 866h0M204.9 1046.9h0M194.5 1016.7h0M279.7 862.2h0M197.7 946.7h0M199.8 1011.8h0M123.9 1092.7h0M250 869.3h0M236.3 990.6h0M100.2 1091.3h0M265.3 868.8h0M170.4 1055.3h0M210.3 1001.8h0M269.9 866.2h0M203.2 924.8h0M142.3 975h0M227.9 988.2h0M260.1 872.4h0M304.8 970.8h0M257 966.3h0M263.1 865.8h0M208.5 929.1h0M223.4 898.3h0M272.2 866.1h0M231.3 885.2h0M273.4 865.2h0M282.6 924.3h0M138.3 1014.3h0M234.7 878.2h0M209.2 1003.7h0M227.8 983.6h0M247.9 878.2h0M236.5 893.8h0M187.9 951.5h0M238.9 892.3h0M303.6 855.2h0M107.7 1088.8h0M224.6 900.5h0M275.1 952.2h0M199.9 1039.5h0M239.3 881.4h0M184.7 1030.4h0M302.6 857.5h0M278.8 861.5h0M167.4 1040.5h0M115.2 1047.6h0M232.6 905.4h0M269.1 856h0M114.2 1051.4h0M236.6 875.6h0M124 1078.2h0M135.9 1024h0M246.7 879.3h0M231.3 994.1h0M238.5 972.3h0M208.6 901.9h0M218.7 912.6h0M166.4 1042.1h0M283.9 857.2h0M202.1 927.3h0M150.2 1063.1h0M194.5 1028.4h0M246 864.8h0M299.8 856.1h0M105.6 1089.2h0" stroke="#1f77b4" stroke-opacity="0.62" stroke-width="3.8" stroke-linecap="round" fill="none"/>
<path d="M94.7 1036.7H326.4M148 1094.1V844.6" stroke="#e1454b" stroke-width="1.4" stroke-dasharray="4.9 3.7" fill="none"/>
<path d="M94.7 1069.1L303.2 844.6M117.9 1094.1L326.4 869.5" stroke="#f5a623" stroke-width="1.35" stroke-dasharray="4.9 3.7" fill="none"/>
<circle cx="94.7" cy="1069.1" r="1.6" fill="#f5a623"/>
<circle cx="303.2" cy="844.6" r="1.6" fill="#f5a623"/>
<circle cx="117.9" cy="1094.1" r="1.6" fill="#f5a623"/>
<circle cx="326.4" cy="869.5" r="1.6" fill="#f5a623"/>
<rect x="83.3" y="832.4" width="254.4" height="274.2" fill="none" stroke="#3a3a3a" stroke-width="0.9"/>
<line x1="76" y1="1094.1" x2="83.3" y2="1094.1" stroke="#3a3a3a" stroke-width="0.9"/>
<text x="68.9" y="1098.1" font-size="11.5" text-anchor="end" fill="#222" textLength="6.9" lengthAdjust="spacingAndGlyphs">0</text>
<line x1="76" y1="1044.2" x2="83.3" y2="1044.2" stroke="#3a3a3a" stroke-width="0.9"/>
<text x="68.9" y="1048.2" font-size="11.5" text-anchor="end" fill="#222" textLength="16.8" lengthAdjust="spacingAndGlyphs">0.2</text>
<line x1="76" y1="994.3" x2="83.3" y2="994.3" stroke="#3a3a3a" stroke-width="0.9"/>
<text x="68.9" y="998.3" font-size="11.5" text-anchor="end" fill="#222" textLength="16.8" lengthAdjust="spacingAndGlyphs">0.4</text>
<line x1="76" y1="944.4" x2="83.3" y2="944.4" stroke="#3a3a3a" stroke-width="0.9"/>
<text x="68.9" y="948.4" font-size="11.5" text-anchor="end" fill="#222" textLength="16.8" lengthAdjust="spacingAndGlyphs">0.6</text>
<line x1="76" y1="894.5" x2="83.3" y2="894.5" stroke="#3a3a3a" stroke-width="0.9"/>
<text x="68.9" y="898.5" font-size="11.5" text-anchor="end" fill="#222" textLength="16.8" lengthAdjust="spacingAndGlyphs">0.8</text>
<line x1="76" y1="844.6" x2="83.3" y2="844.6" stroke="#3a3a3a" stroke-width="0.9"/>
<text x="68.9" y="848.6" font-size="11.5" text-anchor="end" fill="#222" textLength="16.8" lengthAdjust="spacingAndGlyphs">1.0</text>
<line x1="94.7" y1="1106.6" x2="94.7" y2="1113.9" stroke="#3a3a3a" stroke-width="0.9"/>
<text x="94.7" y="1130.5" font-size="11.5" text-anchor="middle" fill="#222" textLength="6.6" lengthAdjust="spacingAndGlyphs">0</text>
<line x1="141" y1="1106.6" x2="141" y2="1113.9" stroke="#3a3a3a" stroke-width="0.9"/>
<text x="141" y="1130.5" font-size="11.5" text-anchor="middle" fill="#222" textLength="16.8" lengthAdjust="spacingAndGlyphs">0.2</text>
<line x1="187.4" y1="1106.6" x2="187.4" y2="1113.9" stroke="#3a3a3a" stroke-width="0.9"/>
<text x="187.4" y="1130.5" font-size="11.5" text-anchor="middle" fill="#222" textLength="16.8" lengthAdjust="spacingAndGlyphs">0.4</text>
<line x1="233.7" y1="1106.6" x2="233.7" y2="1113.9" stroke="#3a3a3a" stroke-width="0.9"/>
<text x="233.7" y="1130.5" font-size="11.5" text-anchor="middle" fill="#222" textLength="16.8" lengthAdjust="spacingAndGlyphs">0.6</text>
<line x1="280.1" y1="1106.6" x2="280.1" y2="1113.9" stroke="#3a3a3a" stroke-width="0.9"/>
<text x="280.1" y="1130.5" font-size="11.5" text-anchor="middle" fill="#222" textLength="16.8" lengthAdjust="spacingAndGlyphs">0.8</text>
<line x1="326.4" y1="1106.6" x2="326.4" y2="1113.9" stroke="#3a3a3a" stroke-width="0.9"/>
<text x="326.4" y="1130.5" font-size="11.5" text-anchor="middle" fill="#222" textLength="16.8" lengthAdjust="spacingAndGlyphs">1.0</text>
<text x="212.9" y="1154.3" font-size="14.2" text-anchor="middle" fill="#222" textLength="179.1" lengthAdjust="spacingAndGlyphs">DockQ of last ten steps from</text>
<text x="212.9" y="1169.6" font-size="14.2" text-anchor="middle" fill="#222" textLength="105.7" lengthAdjust="spacingAndGlyphs">generation stage</text>
<text x="21.6" y="969.2" font-size="14.2" text-anchor="middle" fill="#222" textLength="177.1" lengthAdjust="spacingAndGlyphs" transform="rotate(-90 21.6 969.2)">DockQ of last ten steps from</text>
<text x="36.6" y="969.2" font-size="14.2" text-anchor="middle" fill="#222" textLength="101.3" lengthAdjust="spacingAndGlyphs" transform="rotate(-90 36.6 969.2)">prediction stage</text>
<rect x="165.1" y="841.7" width="102.5" height="23.9" rx="1" fill="#fff" fill-opacity="0.85" stroke="#dcdcdc" stroke-width="0.9"/>
<circle cx="171.8" cy="854.3" r="2" fill="#1f77b4" fill-opacity="0.6"/>
<text x="182.9" y="858" font-size="14.2" text-anchor="start" fill="#222" textLength="79.5" lengthAdjust="spacingAndGlyphs">1v1 restraints</text>
<text x="-0.5" y="826.2" font-size="19" text-anchor="start" fill="#000" textLength="12.2" lengthAdjust="spacingAndGlyphs" font-weight="bold" stroke="#000" stroke-width="0.5">e</text>
<path d="M499.5 1083.5L500.7 1075.8L501.9 1067.8L503.1 1062.6L504.3 1062L505.5 1061.7L506.7 1062.2L507.9 1060.2L509.1 1059.1L510.3 1057.5L511.5 1057.5L512.7 1055.5L513.9 1053.6L515.1 1050.9L516.3 1051.2L517.5 1050.5L518.7 1050.2L519.9 1047.3L521.1 1045.6L522.3 1044.5L523.5 1043.4L524.7 1040.9L525.9 1037.7L527.1 1035.7L528.3 1035.5L529.5 1035.4L530.7 1034.3L531.9 1032L533.1 1030.3L534.3 1030L535.5 1030.6L536.7 1030.9L537.9 1030.5L539.1 1029.4L540.3 1027L541.5 1025L542.7 1022.7L543.9 1022.7L545.1 1021L546.3 1019.5L547.5 1015.2L548.7 1012.4L549.9 1010.6L551.1 1011.1L552.3 1012.5L553.5 1012.6L554.7 1012.7L555.9 1011.8L557.1 1010.9L558.3 1008.5L559.5 1004.5L560.7 1001.1L561.9 998.5L563.1 999.3L564.3 1000.1L565.5 1001L566.7 1000.1L567.9 999.2L569.1 997.8L570.3 996.4L571.5 995.4L572.7 995.5L573.9 995.9L575.1 995.5L576.3 994.8L577.5 994.3L578.7 993.6L579.9 992.5L581.1 991.4L582.3 991.2L583.5 990L584.7 988.8L585.9 986.7L587.1 986.3L588.3 982.6L589.5 979.4L590.7 975.1L591.9 976.1L593.1 978.4L594.3 981.3L595.5 980.5L596.7 977.1L597.9 973.2L599.1 972L600.3 972.1L601.5 972.7L602.7 972L603.9 970.9L605.1 969.6L606.3 968.7L607.5 970L608.7 971.2L609.9 971.4L611.1 967.2L612.3 960.6L613.5 956L614.7 954.7L615.9 957L617.1 956.4L618.3 954.8L619.5 951.6L620.7 950.1L621.9 949.3L623.1 948.3L624.3 947.5L625.5 945.3L626.7 944.1L627.9 942L629.1 942.3L630.3 943.1L631.5 945.4L632.7 945.3L633.9 944.6L635.1 940.8L636.3 938.6L637.5 935.5L638.7 934.9L639.9 934.3L641.1 933.4L642.3 932.2L642.3 950.1L641.1 951.1L639.9 951.5L638.7 952.4L637.5 953.1L636.3 952.9L635.1 952.4L633.9 954L632.7 957.7L631.5 960.5L630.3 959.9L629.1 958.4L627.9 958.9L626.7 962.9L625.5 965.8L624.3 968.4L623.1 968.9L621.9 970.3L620.7 969.9L619.5 970.4L618.3 972.8L617.1 976.4L615.9 979.6L614.7 980.2L613.5 981L612.3 980.7L611.1 980.8L609.9 980.1L608.7 981.4L607.5 983.7L606.3 987.4L605.1 990.4L603.9 994L602.7 997.2L601.5 999.8L600.3 1000L599.1 999.2L597.9 997.4L596.7 995.8L595.5 995.4L594.3 997L593.1 998.9L591.9 1000L590.7 1001L589.5 1003.1L588.3 1005.9L587.1 1008.1L585.9 1008.3L584.7 1009.8L583.5 1011L582.3 1014.8L581.1 1015.8L579.9 1016.9L578.7 1017.4L577.5 1021.4L576.3 1025.1L575.1 1026.7L573.9 1025.8L572.7 1026.5L571.5 1030.7L570.3 1036.4L569.1 1041.2L567.9 1042.7L566.7 1042.6L565.5 1042.7L564.3 1042.8L563.1 1042.4L561.9 1041L560.7 1041.8L559.5 1044.3L558.3 1048.8L557.1 1051.8L555.9 1055.5L554.7 1057.1L553.5 1059.2L552.3 1059.8L551.1 1061.2L549.9 1062.5L548.7 1064.1L547.5 1066.4L546.3 1068.6L545.1 1071L543.9 1071.8L542.7 1072.2L541.5 1072.1L540.3 1073.8L539.1 1076.4L537.9 1078.4L536.7 1078.7L535.5 1077.1L534.3 1078L533.1 1079.5L531.9 1081L530.7 1080.4L529.5 1080.2L528.3 1080.9L527.1 1082.3L525.9 1084L524.7 1086.9L523.5 1089.6L522.3 1092.3L521.1 1093L519.9 1093.1L518.7 1092L517.5 1092.3L516.3 1092.6L515.1 1092.8L513.9 1090.9L512.7 1090.7L511.5 1090.7L510.3 1092.4L509.1 1092.2L507.9 1093.1L506.7 1093.1L505.5 1093.1L504.3 1093.1L503.1 1093.1L501.9 1093.1L500.7 1093.1L499.5 1092.3Z" fill="#1f77b4" stroke="#1f77b4" stroke-width="2.5" stroke-linejoin="round"/>
<path d="M710 868.3h0M595.4 973.8h0M632.1 959.4h0M659.1 947.7h0M668.1 886.1h0M542 1073.4h0M689.6 871.1h0M587.2 1015.3h0M634 937.6h0M543.4 1006.2h0M680.1 885h0M633.1 964.1h0M699.8 894.7h0M633.5 985.1h0M682.5 894.7h0M653.7 919.5h0M637.7 911.5h0M530.6 1034.3h0M650.4 941.4h0M643.5 895.4h0M654.5 907.9h0M637.8 934.6h0M621.7 929.9h0M635.3 1044.2h0M609.2 986.1h0M603.8 961.6h0M635.7 955.4h0M647.6 920.7h0M635 869h0M673.9 936.1h0M563 1043.4h0M670.6 902.4h0M701.7 889.9h0M643.5 896.5h0M578.3 987.8h0M620.5 1005.6h0M664.7 931.4h0M633.7 926.4h0M654.1 918.9h0M679.8 911h0M686.4 920.3h0M635 957h0M674.6 895.3h0M692.2 892.8h0M663.2 919.2h0M684 873h0M625.6 961.3h0M553.8 891.7h0M632.1 897.7h0M650.1 949.3h0M603.5 993h0M689.4 889h0M686.4 906.5h0M652.3 925.3h0M700.9 867.2h0M636.4 912.6h0M668.7 885.2h0M665 881.6h0M682.7 873.8h0M641 931.9h0M686.9 876.8h0M658.5 882h0M569.3 976.3h0M672.1 908.9h0M674.7 888.1h0M668.8 891.5h0M542.4 1011.2h0M661.6 995.8h0M692.5 888.7h0M638 929h0M666.9 914.5h0M576.4 1074.2h0M523.3 963.9h0M674.8 876.6h0M594.1 933.6h0M601.8 1046.7h0M666.3 942.7h0M632.1 939.5h0M658.2 881.5h0M690.5 892.1h0M633.8 1035h0M667.7 881.9h0M648.2 928.6h0M536.6 928.7h0M682.5 865h0M584.9 1030.6h0M680 904h0M636.8 952.2h0M625.6 931.9h0M546.1 1068.2h0M663.4 903.4h0M702.5 892h0M594.5 980.3h0M605.2 948h0M517 940.4h0M702 899.2h0M552.6 1011.7h0M569.6 1067.3h0M567.9 994.4h0M688.6 884.2h0M671 896.6h0M572.7 1031.8h0M642.2 928.9h0M640.9 929h0M684.6 882.2h0M700.9 893.1h0M509.1 1057.4h0M673.7 894.1h0M707.8 863.5h0M559.9 985h0M591.7 1002.4h0M712.4 864.7h0M512.6 937.4h0M658.7 909.4h0M609.9 1010.6h0M556.5 976.6h0M510.8 1056.3h0M575.2 993.9h0M657 937.2h0M529.4 1084h0M638 938.4h0M531.6 1027.6h0M580.5 992.2h0M556.3 903.5h0M700.8 881.4h0M709.7 866h0M691.8 903.9h0M706.6 876.3h0M692 871.2h0M709.1 896h0M647.3 943.6h0M608.6 941.2h0M598.6 967.9h0M680.1 868h0M575 981.4h0M557.2 1059.6h0M524.2 964.9h0M693 881.6h0M686.7 898.5h0M639.3 901.3h0M642.7 954.8h0M684 875.2h0M684 873.1h0M581.9 1003h0M600.4 885.5h0M681.9 878.3h0M671.3 913.2h0M593 974h0M681.5 877h0M652.3 913h0M698.6 879.8h0M681.8 879.5h0M590.4 1026.4h0M661.4 934.2h0M676.4 924.4h0M548.5 1014.9h0M632.5 948.9h0M653 877.8h0M634.5 933.1h0M564.4 998.1h0M675.4 912.9h0M641.4 977.7h0M599.2 949.4h0M590.4 1009.8h0M684.7 875.5h0M687.5 879.5h0M619.2 962.3h0M671.1 868.9h0M673.5 966h0M604.3 1008.7h0M680.9 979.9h0M650.2 936.4h0M602 967.2h0M568.2 1038.5h0M703.2 891h0M633.1 923.8h0M712.3 868.5h0M643.9 908.1h0M645.3 879.6h0M699.4 875.3h0M694.7 893h0M680.3 868.7h0M589.3 980.4h0M639.9 887.9h0M657.4 912.2h0M625.2 979.9h0M606.6 988.5h0M704.1 863.8h0M618.7 960.8h0M575.8 975h0M657.4 961.5h0M665.7 874.2h0M650.4 925.9h0M616.1 956h0M605.6 954.8h0M610.9 953.1h0M681.4 873.6h0M672.4 876.7h0M636.5 941.6h0M659.4 897.2h0M638.7 925.6h0M644.6 893h0M630.2 937.4h0M677.8 932.4h0M506.4 1041.9h0M703.7 878.6h0M636.1 927.1h0M632.1 931.9h0M682.1 885.9h0M580.5 988.1h0M682.2 886.8h0M655.8 883.4h0M636.3 948.1h0M628.9 931.5h0M523.3 1041.5h0M541.8 1017.3h0M690.9 943.8h0M587.7 984.4h0M705.4 863h0M658.8 908.1h0M638.6 949.9h0M514.6 1053.5h0M629.2 989.2h0M691 897.3h0M697.3 881.3h0M647.7 932.9h0M652.7 919h0M637.8 887.7h0M671.7 901.8h0M619.7 973.9h0M634.8 940.9h0M655 917.8h0M570.9 1033.3h0M659.2 935.6h0M583.2 952h0M671.5 865.2h0M624.6 933.9h0M631.4 957.9h0M587.7 1037.4h0M653.4 894.1h0M638.7 881.2h0M637.6 941.5h0M606.5 951.6h0M658.5 918.7h0M579.5 977.2h0M571.5 993.5h0M682.9 887.2h0M659.5 883.9h0M679 904.9h0M621.2 951.8h0M680.4 873.9h0M705.2 893.2h0M513.2 1053.4h0M640.7 948.4h0M528.2 918.8h0M701.2 887.4h0M619.2 950.1h0M707.4 876.9h0M618 984.4h0M691 937.6h0M661.2 919.5h0M576.7 1025.5h0M652.1 913h0M674.4 903.6h0M579.3 969.9h0M684.7 893.2h0M629.4 945.1h0M657.6 920.1h0M598.6 1045h0M653.6 879h0M703.4 861.9h0M692.6 957.7h0M671.1 928.3h0M563 973.9h0M692 865.2h0M700.6 884.2h0M561 968.3h0M683.9 901.5h0M672.9 950h0M600.7 893.3h0M710.5 873.1h0M633.2 920.1h0M633.5 895.3h0M638.6 909.2h0M640.4 925.3h0M694.6 871.9h0M598 1040.8h0M630.2 930h0M691 877.4h0M663.7 878.5h0M661.8 907.4h0M703 872h0M554.2 1060.5h0M552.9 1058.8h0M684.5 872.7h0M643 954.6h0M639.7 919.5h0M681.4 870.6h0M671.2 920.3h0M640.2 931.2h0M703.9 883.7h0M609 962.2h0M647 931.7h0M678.5 870h0M671.6 964.8h0M640.3 934h0M675.7 883.7h0M573.2 1062.7h0M664.5 930.8h0M655.1 968.8h0M698.6 908.6h0M659.2 930.8h0M515.3 1047.9h0M569.3 1051.5h0M700.2 863.2h0M539.1 945.9h0M581 1016.7h0M636.3 922.5h0M599.8 961.3h0M636.2 899h0M633.7 936.9h0M641.4 912.8h0M521.7 1035.9h0M548 936.2h0M654.5 914.1h0M581.9 1015.3h0M689.9 862.2h0M658.7 911.8h0M636.6 941.8h0M547.1 1015.6h0M680.4 877.1h0M656.2 913.1h0M562 1006.3h0M672 906.5h0M532.2 919.6h0M653.5 959.5h0M528.4 1036.1h0M582.3 1004.8h0M617.8 954.9h0M656.3 867.2h0M589.3 1071.8h0M666.1 946h0M570.7 995h0M707.8 871.2h0M564.1 1042.5h0M531.1 1037.6h0M619.6 998.4h0M562.1 1001.2h0M637.2 951.7h0M653.4 933.8h0M561.2 959h0M647.3 912.9h0M546.1 1070.4h0M590.6 1011h0M677.8 901.4h0M673 911.3h0M658 937.9h0M711.9 865.6h0M562.8 1001.9h0M593.9 999.7h0M679.3 884.2h0M680.1 876.9h0M628.6 962.9h0M598.7 960.4h0M684.4 874.2h0M593.6 974.4h0M667.5 891.9h0M669.2 894h0M653.4 944.6h0M669.1 896.5h0M632.5 920.6h0M618.9 939h0M667.2 925.5h0M676.6 888.4h0M681.8 901.1h0M593.6 956h0M679.6 899.7h0M657.1 930.2h0M711.2 885h0M631.5 923.8h0M667.5 926h0M554.2 1008.9h0M646.6 887.6h0M698.9 898.2h0M613.6 950.4h0M645.2 880.5h0M665.5 896.5h0M647.6 936.7h0M659.4 950.7h0M684.1 897.5h0M530.4 1087.3h0M526.5 1035.4h0M696.6 864.8h0M594.6 967.7h0M644.2 961.5h0M580.7 988.9h0M514.2 1039.8h0M627.1 953.7h0M687.7 871.2h0M652.7 861.9h0M573.3 995.4h0M704.1 940.9h0M676.9 958.3h0M651.1 942.8h0M694.6 874.2h0M641.2 971.5h0M669.5 914h0M642.6 875.8h0M650 884.1h0M672.4 905.7h0M636.4 910.6h0M652.9 893.7h0M679.1 931h0M650.2 948.6h0M661.1 1082.2h0M582.6 988.4h0M675.5 888.3h0M694.1 899.9h0M709 881.6h0M563.1 1049.3h0M635.3 1049.2h0M529.1 967.8h0M696.9 892.3h0M641.3 929.6h0M592.7 963h0M629.5 917.6h0M639 918.1h0M684.3 869.8h0M592.1 981.7h0M704.2 890.8h0M695.9 869.7h0M709.4 884.5h0M659 933.1h0M630.6 927.1h0M683.5 871.8h0M682.2 876.1h0M514.1 1004.7h0M603 970.2h0M700.9 890.5h0M616 897.3h0M628.5 933h0M691.7 867h0M639.8 900.2h0M551.4 1009.1h0M682.4 882.7h0M680.2 908.6h0M623.7 929.1h0M658.5 973.1h0M639.6 904.5h0M601.3 973.2h0M659.8 897.7h0M538.2 1005.4h0M591.8 944.6h0M567.1 1055h0M618.1 973.2h0M696.4 905.1h0M535.3 923.5h0M629.3 905.2h0M643.4 928.8h0M657 1083.5h0M601.9 960h0M617.3 949.9h0M665.8 924.4h0M632.2 990h0M679.6 874.3h0M566.7 1041.5h0M635.5 934.1h0M559.3 1000.3h0M656.7 939.4h0M693.6 871.1h0M572.6 896.6h0M532.2 948.6h0M604.7 887.2h0M648.8 911.9h0M629.7 939.8h0M690.4 890.3h0M689.3 871.1h0M678.3 1041.2h0M636.9 932.9h0M676.7 866.6h0M696.7 873h0M538.2 1077.5h0M681 911.4h0M708.4 863.4h0M664.2 969.1h0M672.6 896.3h0M603.5 973.7h0M625.4 1016.8h0M506.1 967.7h0M586.7 968.6h0M582.8 994.6h0M701.5 871.2h0M662.3 932.8h0M606.5 968h0M512.7 1051.8h0M515.5 1049.5h0M634.1 934h0M572.9 1035.7h0M668 891.2h0M635 917.3h0M525.7 1084h0M697.5 868.7h0M668.9 989.9h0M608.3 981.5h0M552.2 925.3h0M552.9 987.5h0M628.8 974.6h0M519.9 1044h0M677.2 876.9h0M692.4 873.8h0M700.3 884.9h0M685.4 873.2h0M596 976.8h0M610.9 963.7h0M675.9 881.6h0M646.2 932.5h0M601 995.5h0M666.4 911.7h0M653.2 890.9h0M691.6 896.8h0M671.7 895.4h0M664.8 873.4h0M627.8 945.5h0M612.6 1012.5h0M571.9 938.1h0M637.7 982.5h0M536.8 1026.4h0M709.1 873.7h0M680.6 911.9h0M685.5 882.1h0M636.3 945h0M640.5 924.9h0M533.2 1077.6h0M523 1037.4h0M602.1 960.1h0M682.8 871.4h0M654.7 970.9h0M634.3 901.5h0M588 1012.8h0M675.7 901.1h0M666.5 869.5h0M707.3 885.1h0M561.9 1044.6h0M707.2 867.4h0M679.9 879.6h0M671.6 888.4h0M667 892.2h0M637.8 956.5h0M699.3 867.8h0M676.3 889.1h0M637.8 900.5h0M670.4 902.2h0M671.7 883.6h0M661.3 874.6h0M638.6 902.6h0M655.2 884.7h0M680.6 866.1h0M694.3 872.1h0M659.7 910.8h0M694.8 880.4h0M684 910.2h0M623.9 948.7h0M692.7 876.4h0M706.8 908h0M674.2 972.3h0M607.7 991.9h0M565.9 1066.7h0M690.3 916.1h0M658.9 899.3h0M586.1 935.4h0M687.4 869.4h0M684.5 935.4h0M697.6 900.5h0M640.6 977.2h0M686.7 945.7h0M568.6 996.7h0M712.1 870.9h0M632.9 921.7h0M544.8 1018.6h0M694.2 871.5h0M645.2 892.9h0M672.8 904.2h0M693.2 909.6h0M635.5 898.5h0M600.5 998.2h0M674.5 894.3h0M599.7 1052.4h0M582.3 880.4h0M648.2 911.7h0M606.5 957.9h0M579.6 1021.1h0M625.9 874.8h0M643.9 1025h0M564.9 1047.8h0M691.3 875.3h0M623.5 923h0M671.8 967h0M684.3 879.5h0M575.1 1015.6h0M573.8 995.2h0M560.9 1054h0M673.6 910.6h0M581.9 1020.4h0M690.9 890.3h0M580.7 991.6h0M637.7 1014.8h0M630.2 965.4h0M580.8 928.5h0M628.8 912.1h0M634.6 960.7h0M640.7 898.8h0M641.9 918.1h0M554.3 987.1h0M574.3 1069.2h0M661 884.7h0M690.2 901.1h0M713.1 880.6h0M638.7 898.1h0M610.4 934.1h0M705.9 872.5h0M652 873.6h0M613.1 950.5h0M696.5 885.8h0M638.8 929.4h0M629.3 973.8h0M661.9 910.4h0M671.8 877.7h0M663.1 905.6h0M638.1 927.3h0M578 1043.1h0M633.6 982.5h0M698.4 876.3h0M668.7 933.4h0M702 862.7h0M671.4 871.4h0M652.9 915.5h0M575.1 1031.2h0M605.8 951h0M698.3 863.1h0M553.7 1011.6h0M627 1072.5h0M594.9 983.8h0M602.9 1005.5h0M525 1041.6h0M593.9 1022.9h0M631.7 896.5h0M551.1 1065h0M670.1 961.7h0M688.2 875.1h0M627.3 912.7h0M639.4 862h0M706.9 885.2h0M549.6 918.2h0M591.7 982.6h0M709.9 878.7h0M555.9 1011.4h0M639.6 916.8h0M520.2 1001.2h0M667.1 882.8h0M642.3 960.3h0M624.6 932.5h0M638.6 934.8h0M599.4 962.8h0M665 886.4h0M654.7 872h0M667.3 911.1h0M608.4 986.6h0M660.2 940.8h0M621.8 945.5h0M685.8 918.5h0M664.3 876.8h0M640 933h0M620.1 912.8h0M645.8 876h0M692.4 906.7h0M676 892.6h0M696.7 874.7h0M689 875.8h0M680.7 884.2h0M607.8 962.1h0M521.1 1043.5h0M678.8 912h0M664.9 896.6h0M572.7 1014.7h0M585.6 1054.4h0M604.2 955.4h0M702.3 873.3h0M678.5 886h0M577.2 1036.5h0M704.6 878.1h0M633 923.6h0M650 885.8h0M619.3 997.4h0M572.9 1004h0M531.1 1030.9h0M597.1 986.8h0M644.6 938.4h0M669.8 892h0M680.2 875.6h0M660.9 907.7h0M656.1 903.7h0M687.8 899.2h0M707.6 884.9h0M645.3 919.7h0M639.6 955.2h0M657 908.7h0M677.5 905.2h0M658 914.2h0M527.1 1008.6h0M583.5 900.9h0M633.1 913h0M670.4 902.7h0M665 896.3h0M595.2 998.8h0M618.4 974.3h0M656.1 919.2h0M653.9 879.3h0M603.9 1036.1h0M522.9 1029.2h0M557.6 1002.4h0M648.9 927.3h0M628.5 948.7h0M636.5 918.9h0M691.3 867.5h0M541.3 1009.9h0M666.6 876h0M701.3 963h0M514.2 1054.5h0M598 928.3h0M624.6 966.1h0M595.4 1069.8h0M640.5 981.2h0M607.2 948.3h0M621.7 968.7h0M596.5 988.5h0M575.5 1026.7h0M679 871.2h0M594.6 1007h0M644.2 928.9h0M657.8 917.5h0M620.4 952.2h0M620 982.5h0M645.4 954.7h0M709.2 866.9h0M702.7 885h0M632.9 932.9h0M692.3 865.5h0M699.9 861.6h0M619.6 934.9h0M616.1 909.9h0M537.6 1026.2h0M578.1 1021.3h0M520.4 1047.4h0M555.3 969.1h0M704 950.3h0M676.5 881.6h0M660.8 986.7h0M618.3 953.1h0M679.7 909.1h0M647 902.5h0M601.3 967.3h0M575.4 989.8h0M597.8 918.7h0M633.4 928.4h0M588 986.5h0M631.9 990.4h0M693.4 864.4h0M561 1003.9h0M662.5 898.6h0M706.5 868.5h0M513.7 1025.4h0M691.6 866.1h0M636.2 961.5h0M674.7 907.1h0M599.6 971.4h0M688.6 874h0M588.8 970.6h0M691.8 871.4h0M577.6 1021.5h0M640.2 919.9h0M688.8 880.1h0M650.3 1009.8h0M679.2 888h0M674.3 897.2h0M622.2 1031.3h0M653.7 876.1h0M646.3 923.7h0M662.3 874.4h0M580.3 943.1h0M704 876.4h0M641.4 942.3h0M615 936.2h0M509.9 1058.6h0M655 948.9h0M622.8 944.8h0M636.4 933.7h0M623.1 970.6h0M659.9 873.5h0M695.6 894.3h0M669.2 963.1h0M651.3 947.3h0M589.4 980.4h0M690.7 873.1h0M638.9 956.5h0M667.2 901.2h0M579.5 1039.1h0M657.4 914.4h0M649.8 877.4h0M653.7 874.9h0M527.6 979.1h0M593.9 963.3h0M648.2 916.4h0M510.2 1060.3h0M639 940.2h0M633.7 954.9h0M631.3 920.2h0M660.5 921.1h0M570.8 978.1h0M593.1 985.6h0M621.7 928.4h0M630 960.7h0M647 936.3h0M664.1 885.5h0M610.2 958.6h0M705.2 861.9h0M573.7 1028h0M631.6 903.6h0M636.4 956.2h0M637 953.2h0M677.8 864.7h0M706.9 879h0M522.1 988.9h0M594.5 971.7h0M663.9 879h0M616.1 934.7h0M508.7 1027.7h0M597.8 967.9h0M527.8 1037.2h0M673.8 925.2h0M686.4 888h0M676.2 886.3h0M668.5 886.6h0M651.4 904h0M630 947.6h0M671.5 863.6h0M677.6 903.2h0M596.8 958.3h0M541 1020.2h0M624.7 975.8h0M690.3 867.2h0M697.7 864.8h0M592.1 965.2h0M615.6 982.9h0M659.9 920.7h0M698.8 864.6h0M565.5 918.2h0M596.7 962.7h0M632.2 898.7h0M641.8 938.8h0M663.2 895.4h0M642.3 884.4h0M595.9 951h0M612.4 1023.3h0M569.7 1039.8h0M712.4 873.6h0M608.2 941.8h0M600.6 959h0M624.6 923.4h0M635.5 983.8h0M692.7 865.7h0M638.3 922.3h0M560.7 1047.8h0M626.7 908.7h0M661.3 930.3h0M650.6 922.8h0M540.2 1017.1h0M647.1 920.8h0M674.2 893.8h0M703.5 886.2h0M575.4 1001.3h0M665.1 914h0M711 877.9h0M689.5 891.7h0M640.1 912.6h0M592.2 970.1h0M577 989h0M619.5 1023.4h0M677.7 867.1h0M559.6 950.1h0M708.4 864.1h0M680.7 866.5h0M551.7 1006.8h0M686.1 895.9h0M698.3 867.9h0M580.8 965.1h0M636.7 936.4h0M633.2 982.6h0M688.7 903.5h0M562.9 1046.6h0M545 992.6h0M695.2 870.8h0M692.3 888.1h0M531.6 967.6h0M606.6 963.5h0M667 956.8h0M552.3 1010.4h0M610.1 894.5h0M700.2 862.9h0M620.3 973.5h0M692.1 873.2h0M672.4 912.1h0M633.8 885.2h0M698.9 870.1h0M692.5 887.5h0M641 987.3h0M680.4 898.1h0M688.4 872.9h0M661.6 882.5h0M679.3 902.9h0M689.9 865.8h0M609.2 947.4h0M619.6 943.7h0M678.3 882h0M665.7 908.3h0M586.4 1044.3h0M671.5 894.2h0M579.1 1025.4h0M688.4 902.7h0M683.2 874.1h0M641.1 893.2h0M610.2 946.1h0M595.8 969.7h0M608.1 941.9h0M678.3 907.7h0M661.4 870h0M663.2 909h0M520.4 1023.1h0M689.6 880.7h0M515.9 1039.8h0M632.9 938.9h0M688.4 871.9h0M602.6 975h0M699.6 896.6h0M630.2 940.5h0M696.3 886.2h0M664.4 931.9h0M682 907.6h0M703.8 865h0M708.1 942.9h0M620.9 960.2h0M677.5 880.8h0M672.6 921.2h0M606.4 957.9h0M577.7 941.8h0M576.1 1032.4h0M637.9 956.7h0M631.9 945h0M676.8 902h0M647.6 938h0M605.7 891h0M521.3 1019.7h0M691.4 880.5h0M636.1 926h0M675.7 920.2h0M680.7 902.5h0M710.6 916.5h0M579.8 976.7h0M569.4 1014.9h0M668.9 915.8h0M676.2 886.4h0M665.7 883.1h0M704.3 879.6h0M645.6 1034.9h0M623.4 942h0M675.1 993.2h0M612.3 981.4h0M701.2 862.1h0M654 864.6h0M585.4 1013.8h0M673.3 877.5h0M665.2 902.3h0M613.9 930.2h0M606.9 965.7h0M612.6 927.6h0M699.8 866.3h0M655.2 878.3h0M631.3 906.7h0M582.3 986.8h0M644.4 911.5h0M691.6 880.6h0M639.6 960.8h0M626.2 1001.2h0M681.1 876.8h0M609.8 1027.2h0M677.9 925.6h0M550.1 1012.3h0M672.8 938.9h0M624.8 924.5h0M633.6 864h0M521.3 963h0M654.5 935.9h0M642.2 940.3h0M635.4 937.2h0M697.1 894.1h0M604.2 952.4h0M573.1 1036.9h0M692.6 870.5h0M616.6 890.4h0M628.7 940h0M596.3 1024.5h0M663.1 924.9h0M668.7 929.3h0M635.2 903.4h0M674.5 922.6h0M585.5 1032.1h0M641 921.4h0M692.6 1040.7h0M525.3 1042.2h0M628.7 919.2h0M564.7 965.6h0M662.3 947.3h0M676.6 864h0M676.1 895.4h0M584.2 1035.1h0M671 903h0M601.7 1041.2h0M627.9 920.1h0M649.2 942.3h0M633.8 965.3h0M623.2 966.9h0M667.6 918.3h0M575.7 995.6h0M654 902.4h0M658.6 918.7h0M622.8 875.1h0M628.8 906.2h0M654.1 872.2h0M615.9 886.7h0M642.4 950.9h0M614 932.7h0M626.2 907.5h0M588.2 1029.6h0M684.1 869.6h0M673.5 921.9h0M505.2 1016.3h0M650 970.3h0M640.5 945h0M694.8 875.2h0M591.8 1038h0M608.6 945h0M696.1 890.3h0M695.3 869.4h0M694.7 872.7h0M587 980h0M627.3 932.4h0M631.5 951.9h0M704.1 863.1h0M561.8 997.6h0M667.3 874.1h0M634.2 931.3h0M531.9 1035.6h0M631.1 912.8h0M601.7 953.9h0M517.9 1034.2h0M669.7 906.5h0M657.5 934.4h0M679.5 907.7h0M681.8 882.5h0M594.6 954.9h0M650.7 948.1h0M661.8 919h0M689.5 873h0M610.2 1002.5h0M682.8 908.1h0M596.9 1034.3h0M523.7 1036.2h0M673.1 899.4h0M678.7 884h0M637.8 1002.4h0M683.5 938.8h0M625.6 956.6h0M614 962.2h0M695 868h0M673.5 920.5h0M699 863.5h0M650.6 917.9h0M665.6 917.7h0M625.8 903.3h0M640.2 941.9h0M618.6 957.2h0M614 980.7h0M673.5 891.3h0M641.2 875.6h0M645.1 901.7h0M519 1046.2h0M703 871.1h0M691.4 869.7h0M645 900.4h0M630.2 946.6h0M647.8 931.6h0M703 863.2h0M679.2 925.4h0M674.8 903.5h0M645.1 924.1h0M634.7 956.2h0M618.5 945.4h0M702.4 879.8h0M665.1 892.2h0M653.4 976.7h0M634.3 953.1h0M631.5 929.3h0M701.6 888.3h0M546.8 1002.7h0M509.8 998.9h0M624.3 943.8h0M712.3 862.2h0M618.4 951.2h0M648.9 878.4h0M628.8 1030.3h0M596.8 934.8h0M662.3 925.3h0M618.8 956h0M659.9 880.9h0M683.8 875.5h0M709.6 910.1h0M660.6 909.8h0M550.3 1011.4h0M536.6 1082.1h0M586.9 1046.8h0M651.9 893.6h0M665.9 917.5h0M674 916.3h0M645.6 875.9h0M609.8 959.4h0M677.5 910.4h0M583.1 1015.7h0M631.5 957.5h0M522.7 1052.5h0M691.2 894.7h0M677.5 883.2h0M626 934h0M658.7 862.8h0M577.9 1013.5h0M612.9 981.6h0M582.8 1033.5h0M673.3 883.5h0M679 892.5h0M624.8 945.9h0M585.7 926.3h0M628.2 965.3h0M574.6 1044.1h0M689.9 895.6h0M638.1 957.3h0M704.5 892.4h0M589.4 982.8h0M549.5 1016h0M573.3 1031.5h0M695.8 974.1h0M597.2 877.3h0M683.9 888.5h0M536.1 1091.2h0M691 906.8h0M655.1 888.7h0M585.1 985.5h0M511 996.7h0M634.1 957.8h0M630 965.9h0M522.4 1043.1h0M693 876.5h0M669.6 890.6h0M587.1 1010.7h0M562.8 863h0M674.5 930.7h0M660.6 916.6h0M641.7 938.3h0M644.1 920.5h0M632.4 964.3h0M658.6 963.9h0M588.1 1007.4h0M667.3 873.4h0M681.1 876.4h0M628.7 917.2h0M574.9 997.5h0M593.9 976.2h0M634.9 937.6h0M676.8 888.5h0" stroke="#1f77b4" stroke-opacity="0.62" stroke-width="3.8" stroke-linecap="round" fill="none"/>
<path d="M683.4 906.9h0M704 904.8h0M535.7 1026.8h0M599.4 971.2h0M653.8 937.9h0M684.7 898.6h0M633.7 933.9h0M591.6 970.8h0M659.3 875.9h0M688.6 869.8h0M695.9 870.5h0M671.8 898.8h0M677.9 915.8h0M637.8 964.5h0M664.7 965.3h0M577.2 957.2h0M700.1 871.6h0M651.3 873h0M672 959.2h0M632.4 913.9h0M670.3 918.1h0M675.5 896.7h0M701.4 876.5h0M507.3 984.4h0M558.9 1051.3h0M630.1 966.7h0M651.8 914.1h0M589.5 974.4h0M690.3 909.2h0M688.4 890h0M566 910.9h0M510.2 1060.3h0M621.3 926.9h0M669.8 874.6h0M699.6 869.7h0M689.9 886.4h0M547.6 1015.5h0M681.3 891.3h0M624.3 937.6h0M641 955.7h0M651.9 888.7h0M625.8 985.7h0M688.1 874.5h0M629.2 976.3h0M669.2 887.4h0M677.7 864.2h0M512.4 982.4h0M707.5 869.8h0M518.9 1031.9h0M693.9 869.3h0M538.6 1072.9h0M514.9 1053.4h0M653.9 903.3h0M678.9 862.4h0M633 928.6h0M673.3 903.4h0M693.1 888.8h0M580.2 1028.3h0M661.7 917.9h0M613.2 961.4h0M537.6 977h0M630.3 950.8h0M660.9 921.9h0M706 889.5h0M671 899.3h0M580.6 1013.5h0M595 930.6h0M617.3 929h0M692.9 894.2h0M535.2 1081h0M636.5 951.8h0M656.5 953.8h0M674.3 883h0M669.8 883.2h0M512.2 958.8h0M599.1 953.5h0M673.3 893h0M545.5 871h0M670.6 897.7h0M648.8 932.5h0M655.5 1084.4h0M661.6 904.4h0M647.8 949.6h0M674.2 887.2h0M672.9 878.1h0M581.3 988.9h0M623.9 952.5h0M606.7 923.3h0M604.6 968.1h0M684.2 896.3h0M672.9 894.1h0M705.6 862.7h0M595.1 973.4h0M570.9 1021.1h0M601.9 954.9h0M699 863.6h0M614.7 975.1h0M656.6 895.9h0M620.4 957.4h0M578.7 987.3h0M610.5 1028.8h0M658 877.8h0M626.3 910.3h0M636.1 954.3h0M641.4 916.2h0M679.2 898.8h0M679.3 914.4h0M584.4 866.5h0M549.2 950.4h0M552.6 1009.1h0M665.1 936.7h0M603.6 1004.8h0M688.7 877.9h0M702.7 866.5h0M659.6 886.4h0M605.3 943h0M711.1 867.3h0M573.3 975.2h0M620.1 923.7h0M674.1 886.2h0M680.7 888.3h0M686.5 874.2h0M596.9 965.1h0M708.3 876.7h0M675.7 899.8h0M679.7 874.1h0M634.8 942.6h0M691.8 911.3h0M595.5 887.1h0M697.1 928.8h0M675.3 876.1h0M626.2 998.7h0M696.6 867.5h0M647.4 937.1h0M605.9 1020.9h0M658.4 922.4h0M517.3 1048.9h0M622.2 965.3h0M570 1037.1h0M584.2 986.8h0M612.3 981.6h0M551.7 1061.7h0M612.4 960.2h0M677.7 891h0M649.6 947.5h0M524.6 1038.3h0M671 893.3h0M678.5 882h0M676.6 877.4h0M572.9 997.2h0M666.4 911.3h0M562.5 894.8h0M631.6 939.7h0M633 964.1h0M681.8 908.9h0M615.9 1007.4h0M606.4 933.9h0M640.8 938.3h0M648.5 1036.2h0M676.8 900.9h0M549.6 1060.4h0M659.4 1085.5h0M586.9 1001.3h0M703 915.5h0M656.2 1084.6h0M657.4 974.1h0M702.7 871.5h0M699.5 864.8h0M641.2 872.3h0M665.2 916.8h0M678.6 892.7h0M633.6 929.7h0M680.6 886.2h0M544.3 1020.3h0M656.2 1017.6h0M634.9 975.2h0M634.5 937.7h0M650.6 898.5h0M663.8 891.1h0M709.5 878.2h0M595.5 977.8h0M680.6 915.1h0M692.7 867.3h0M671.1 896.7h0M676.7 926.2h0M688.4 950.9h0M541.9 1071.9h0M685.9 877.7h0M638.7 950.1h0M668.7 938h0M602.8 961.3h0M684 882.2h0M699.3 863h0M558.3 864.9h0M605.9 1025.5h0M673.5 895.2h0M630.9 900.8h0M681.7 899.7h0M635.3 905.9h0M531 1009.3h0M644.6 913.9h0M563.7 1047.1h0M608.7 964.3h0M694.4 866.1h0M646.4 945.2h0M528.9 1039h0M647.7 904.7h0M620.9 922.6h0M633.2 979.7h0M644.6 954.6h0M646.6 889.9h0M689.5 871.3h0M650.1 952h0M597 1001.1h0M642.1 945.5h0M685.7 882.8h0M599.5 987.8h0M629.2 934.7h0M503.9 1003h0M625.9 945.1h0M668.9 882.8h0M660.8 954.5h0M654 955.2h0M516.8 984h0M708.8 877.3h0M556.7 1001.7h0M508.1 1093h0M636.6 965.2h0M676.5 908.8h0M527.5 907.7h0M657.9 899.2h0M649.7 944.6h0M671.4 885.3h0M698.2 896.2h0M599 1051.1h0M568.9 1041.8h0M596 958h0M551 986h0M665.3 944.3h0M681.4 872.7h0M685.6 900.9h0M639.8 926.3h0M554.8 1008.8h0M638.1 943.5h0M619.3 970.8h0M663.8 941.5h0M566.7 973.8h0M702.5 867h0M706.1 885.9h0M693.5 885.6h0M702.2 897.5h0M646.7 951.3h0M647.8 952.7h0M694.6 864.5h0M682.3 870.2h0M680.8 892.5h0M645.4 943h0M676.7 904.3h0M653.4 917.5h0M703 865.4h0M598.2 974.1h0M666.6 871.4h0M621.9 1023.2h0M612.1 959.3h0M569.4 1082.6h0M585.2 982.9h0M658 919.4h0M607.9 982.7h0M639.2 946.1h0M632 898.5h0M618.2 899.5h0M677.9 885.4h0M695.8 867.2h0M634.1 934.1h0M641.5 902.6h0M611.6 960.3h0M674.8 908h0M662.3 929.7h0M682 916.7h0M673.9 867.8h0M670.3 915.8h0M597.8 978.8h0M656 918.3h0M689.9 884h0M703.3 907h0M534.3 1082.2h0M592.2 976h0M663.8 867.5h0M601.6 953.5h0M671.1 900.7h0M570.7 1045.4h0M624.4 918.4h0M654.3 883.9h0M644 882.9h0M682.9 888.1h0M654.5 953.6h0M641.9 921.2h0M511.8 1007.7h0M523.3 1040.2h0M639.9 933.4h0M667.9 892.4h0M682.4 913.7h0M696.2 869.6h0M577.9 987.7h0M701.5 887.3h0M701 865.7h0M663.9 1083.7h0M630.6 970.4h0M586.1 989.1h0M623.8 946.3h0M699.9 868.5h0M533.7 1009.6h0M680.7 879.1h0M632.6 914h0M635 950.8h0M612.1 977.8h0M678 875.8h0M641.4 924.9h0M696.6 868.1h0M648.4 971.5h0M680.8 879h0M692.1 900.4h0M651.4 946.7h0M687.3 890.8h0M676.5 900.1h0M685.2 871.8h0M650.6 910.6h0M614 1018.3h0M614.7 952.9h0M680.6 901.5h0M650.9 894.3h0M665 898.6h0M639.5 929.4h0M675.4 894.5h0M616.8 967.9h0M539.3 968.4h0M701.1 868h0M518.4 969.4h0M652.6 926.5h0M684.4 911.6h0M687.6 867.8h0M623.5 1085.2h0M641.8 914.7h0M602.1 995.7h0M632 910.9h0M625.3 1072.5h0M643.4 980.9h0M652.1 911.4h0M576.1 995.3h0M655.2 936.2h0M597.7 961.4h0M634.1 938.7h0M670.6 898.2h0M670.8 903.9h0M567.7 1052.5h0M599.2 1082.3h0M641.4 944.2h0M677.5 891.1h0M654.7 877.2h0M610.9 956.7h0M504.6 1065.8h0M681 889.4h0M701.5 864.7h0M682.6 924.3h0M651 924.3h0M593.5 1000.6h0M551.2 1083.6h0M646.7 887.4h0M683.6 893h0M644.7 945.9h0M607.7 982.6h0M620.8 1085.3h0M577.9 988.8h0M598.7 964.3h0M694 875.5h0M621.2 939.1h0M594 953.4h0M536.2 1082.2h0M654.1 879.1h0M665.8 888.4h0M689.1 955.5h0M604.5 955.3h0M564.7 994.7h0M657.7 922.3h0M706.1 863.1h0M684.5 877.9h0M688.1 870.5h0M648.6 977.2h0M518.1 1018.2h0M687.9 891h0M656.3 881.5h0M634.2 913h0M608.9 943.7h0M623.8 937.9h0M663.7 911.4h0M612.8 1016h0M626.7 964.1h0M644.9 952.8h0M638.4 939h0M592.3 930.2h0M653.5 946h0M689.2 879.4h0M619.7 987h0M659.4 864.3h0M709.9 866.4h0M602.1 954.7h0M538.3 1078.2h0M639 951.6h0M618.9 1003.8h0M685.6 892.3h0M628.1 910.5h0M699.8 893.4h0M662.6 933.6h0M658.8 932.2h0M640 928.2h0M660.7 931.7h0M586.6 1007.6h0M671.9 904.5h0M650.9 968.7h0M628 923.8h0M539 1017.4h0M596.6 1001.1h0M682.7 861.7h0M648.2 921.8h0M696 892.6h0M638.8 961.1h0M598.3 1043.6h0M695.2 962.5h0M670 868.4h0M604.3 976.4h0M608.3 946.4h0M595.6 965.6h0M580.4 1029.6h0M537.9 993.1h0M528.6 1081.7h0M647.5 924.5h0M567.2 903.2h0M629.2 945.9h0M549.3 996.2h0M513.7 1025.6h0M641.2 983.5h0M686 884.8h0M618.8 947.3h0M538.3 1073.5h0M655.1 1009.5h0M680.2 963.7h0M686.5 885.4h0M701 864.2h0M535.4 1029.2h0M656.1 929.8h0M631.7 933h0M615.2 979.9h0M606.7 951.2h0M656.3 890.7h0M681.9 898.6h0M600.3 1084.3h0M688.4 962.1h0M662.5 904.3h0M640 932.3h0M597.9 1083.5h0M603.5 966.1h0M689.8 886.8h0M672.7 901.4h0M655.6 943.4h0M677.5 896h0M601.7 972.8h0M602.6 950h0M695.6 872.4h0M619.5 944.3h0M639.5 887.4h0M680.1 862.5h0M594.1 999.6h0M631.3 935h0M618.4 1071.9h0M650.3 961.3h0M540 1091.8h0M553.6 875.5h0M634.4 915.3h0M690.2 879.4h0M670.6 902.9h0M674.1 912.5h0M706.2 862.1h0M656.6 877.5h0M594.8 964.2h0M670.6 875.3h0M696.9 891.3h0M625.7 997.5h0M603.9 1017.1h0M644.7 952.9h0M664.3 866.3h0M690 874.4h0M604.8 953.9h0M634.4 977.7h0M695.3 887.2h0M627.9 962.8h0M645.3 964.1h0M650 910.5h0M638.1 933.2h0M602.2 954.6h0M562.5 973.4h0M709.7 876h0M566.2 999h0M669.1 915.6h0M621.4 975.9h0M681.1 868.9h0M621.3 951.8h0M689.5 869.7h0M511.7 1050.8h0M682.4 951.1h0M633 958.9h0M627.1 944.1h0M665.7 873.3h0M525 1089.5h0M569.4 1018.7h0M618.5 971.7h0M651.7 957.1h0M614.4 952.6h0M710.4 905.8h0M705 862.5h0M598.4 1034h0M607.9 963.6h0M684.7 878.2h0M660.4 909.4h0M601.8 924.6h0M638.8 964.9h0M505.2 1058.2h0M623.4 969.4h0M609.8 958.6h0M672.6 895.6h0M673.6 890.8h0M652.7 902.7h0M647 869.2h0M542.2 951.8h0M603.5 996.5h0M611 982.2h0M712 862.3h0M705 863.9h0M655.8 908.5h0M698.8 884.8h0M558.7 1004.1h0M645.1 936.7h0M639.4 950.9h0M704.6 883.2h0M624 1046.7h0M537.1 1022.3h0M623.8 901.5h0M675.4 926.4h0M536.8 967.9h0M641.4 922.9h0M559.5 919.2h0M659.4 934.5h0M697.6 867.9h0M560 1053h0M708.8 866.6h0M630 910.1h0M656 885.8h0M705.9 861.7h0M701.7 878.8h0M677.5 874.2h0M591.4 965.3h0M705.3 863.8h0M622.1 924.5h0M632.1 952.2h0M574.4 989.6h0M595 974.9h0M550.2 1015.6h0M688.5 936.7h0M566.7 996.3h0M590.5 1008.3h0M605.8 966.1h0M649.7 907.6h0M689.7 932.1h0M626.9 984.3h0M687.2 880.2h0M631.2 939.8h0M528.6 1030.3h0M675.1 929.8h0M655.2 915h0M619.1 928.2h0M659.8 929.7h0M689 873.2h0M674.1 915.2h0M529.6 1032.8h0M576.1 1028.9h0M625.7 987.2h0M648.7 878.7h0M593.5 981.7h0M634.9 923.1h0M547.5 1073.9h0M524 1092.1h0M705.4 862.7h0M546.5 983.2h0M678.9 898.5h0M706.2 896.1h0M682.7 882.6h0M708.3 881.3h0M694.6 881.8h0M704 864.6h0M659.2 947.7h0M680.1 910.7h0M597.6 978.9h0M594.5 983.1h0M702.4 880.2h0M642.2 924.9h0M592.9 1052.4h0M577.8 1008.3h0M653 942.5h0M695.6 862.4h0M665.4 963.3h0M523.4 1040.3h0M680 889.8h0M636.2 933.6h0M649.8 883.5h0M665.6 1084.2h0M536.7 1080.2h0M597.4 950.4h0M630.3 936.4h0M670.8 895.6h0M692.8 902.5h0M623.8 976.5h0M679.6 904.7h0M663 924.3h0M674.6 917.2h0M644.5 908.4h0M654.7 914.6h0M559.7 1000h0M555.7 1004h0M555.9 1006h0M578.1 1052.1h0M524.2 1090.5h0M634 918.2h0M640.7 947.6h0M627.1 1054h0M692.9 899.3h0M629.2 920.5h0M698.6 882.2h0M642.1 929.6h0M623.7 925.9h0M656 917.5h0M664.5 900.2h0M656 938.8h0M575.6 991.9h0M677.1 893.6h0M568 977.3h0M516.7 1048.7h0M573.2 1032.6h0M607.6 993.7h0M619.4 870.8h0M573.5 989.4h0M611.6 1006.7h0M548.5 1069.6h0M549.2 1008.6h0M638.4 997.9h0M692.7 871.7h0M607.9 953h0M644.2 946.7h0M640.7 911.6h0M652.8 940.3h0M635.9 892h0M616.8 997.4h0M622.5 946.8h0M703.4 878.7h0M641.1 931.5h0M551.8 923.3h0M590.2 1009.5h0M666 928.3h0M617.2 958.9h0M618.3 980.2h0M690.5 880.4h0M550 987h0M577.3 993.3h0M687.8 882.7h0M550.2 1002.6h0M655.4 913.3h0M667 918.5h0M686.8 917.4h0M613.6 940.6h0M698 865.3h0M633.9 918.4h0M520.3 993.9h0M668.9 906.6h0M669.8 899.8h0M588.8 906.8h0M700.4 886.8h0M537.1 1021.3h0M631.1 942.8h0M655.5 882.6h0M628.8 934.5h0M685 868h0M688.3 909.2h0M653.7 881.3h0M640.3 937.5h0M522.4 1091.4h0M693.6 870.1h0M652.1 930.2h0M636.8 917.1h0M645.5 983.6h0M709.8 877.2h0M609.3 1044.2h0M581 1023.2h0M654.7 943.7h0M599.8 972.5h0M642.1 947.1h0M659.5 931.9h0M649.5 887.2h0M538.4 1000.3h0M522.2 1038.2h0M712.4 869.9h0M665.5 928.8h0M645.3 878.8h0M562.9 1043.9h0M682.1 912.7h0M684.3 884.7h0M701.1 884h0M668.2 889.3h0M634.5 957.1h0M638.3 890.9h0M694.9 938.4h0M570.7 1036.8h0M630.4 1002.7h0M608.4 982.6h0M598.7 1002.2h0M687.7 867h0M663.6 880.1h0M655.8 900.1h0M634.7 924.2h0M676.6 962.9h0M506.2 1040.7h0M512.8 1042.4h0M574.1 965h0M565.6 991.4h0M643.8 880.4h0M650.8 883.5h0M688.7 960.5h0M646.8 946.4h0M596.3 912.2h0M650.6 875.2h0M702.7 861.8h0M674.7 876.3h0M567.9 995.9h0M704.1 885.7h0M680.1 956.6h0M702.2 875.3h0M507.7 1032.6h0M614.6 949.6h0M674.3 898.3h0M620 1085.1h0M635.5 917.8h0M684.1 866.3h0M713 865.9h0M539 1075.9h0M626.2 889.4h0M639.4 940.7h0M688.5 901.7h0M704.8 882.5h0M700.4 865.4h0M690.5 869.4h0M628.8 977.2h0M658.9 873.6h0M680.9 890.4h0M683.4 916.6h0M633.4 938.4h0M592.1 968.6h0M619.9 970.6h0M676.4 942.8h0M601.4 992.4h0M664.2 940.2h0M615.5 938.8h0M533.2 997.6h0M638.4 926h0M656.6 931.8h0M645.1 934.2h0M629 965.9h0M657.5 944h0M550.2 1065.7h0M684.7 884.6h0M647.8 936h0M670.1 935.7h0M635.6 913.4h0M601.8 967.7h0M685.5 896h0M556 1006.8h0M527.6 1016.8h0M523.7 1016.9h0M623 967.1h0M686.5 870.5h0M675.3 906h0M638.1 958.1h0M686.9 879h0M662.4 991.5h0M567.7 973.7h0M522.7 1037.9h0M625.1 983.2h0M638.7 963.6h0M626.2 963.9h0M652 917.5h0M655.6 953.3h0M686.3 898.5h0M538.2 1030h0M702.3 874.1h0M686.7 871.1h0M661.9 934.8h0M699.7 875.7h0M677.6 911h0M675.2 886.5h0M542.9 1010.4h0M670.5 872.9h0M660.4 896.5h0M701 933.5h0M629.9 950.7h0M677.6 893.4h0M571.2 1018.4h0M680.5 866h0M699.7 866.5h0M691.6 870.9h0M633 988.2h0M531 1032.1h0M561.7 1003.8h0M524.5 1041.1h0M676.8 880.4h0M684.5 940.5h0M699.1 885.3h0M623 1071.7h0M538.3 1007.5h0M631 963.2h0M585.1 1020.7h0M647.9 963.7h0M554 1011.5h0M698.9 935h0M593.2 984.7h0M709 861.7h0M704.8 890.2h0M633.5 936.1h0M707.9 884.4h0M687.3 870.1h0M631.1 984.2h0M618.7 950.8h0M564.6 1059.7h0M541.7 994.7h0M657.3 906.4h0M633.6 917.5h0M654 884.4h0M678.3 869.1h0M626.5 908.2h0M577.7 988.8h0M656.5 901.9h0M601.5 938.1h0M668.6 995.6h0M681.7 873.9h0M528.8 1021.8h0M584.7 1015h0M688.3 876h0M580.7 992h0M667.9 941.4h0M622 955.3h0M710.2 867.8h0M704.3 865.8h0M703.9 865.5h0M690 865.3h0M683.3 890.1h0M593.3 1007.8h0M684.8 886.1h0M599.4 955.7h0M666 887.7h0M699 889h0M605.1 947.3h0M683.4 892.6h0M623.9 1039.5h0M566.3 1040h0M594.9 984.5h0M676.1 972.6h0M709.3 879.4h0M605.8 952h0M686.4 872.6h0M608.3 965.3h0M638.3 956.1h0M659.9 910.8h0M656 880.7h0M635.3 950.9h0M658.8 882.9h0M511.3 1056.8h0M598.7 973.2h0M635.4 904.8h0M639.1 952.1h0M675.5 876h0M634.7 931.9h0M646.8 936.2h0M640.6 955.9h0M626 932.7h0M608.3 959.3h0M641.3 948.4h0M699.6 868.1h0M609.8 964.5h0M669.8 897.6h0M683.6 868.2h0M632.5 1011.1h0M550.6 1007h0M620.9 977.3h0M555.2 993.3h0M515 954.2h0M676 912.7h0M690.6 877.3h0M684.1 866h0M627 942.2h0M580.2 1042.9h0M693.8 875.5h0M680.2 877.9h0M644 882.6h0M567.2 1048.6h0M703.8 871.2h0M634.1 920.9h0M596.4 1003.7h0M670.9 926h0M630.2 943.5h0M615 944.9h0M636.9 930.3h0M667.5 924h0M663.4 905.1h0M587.3 986h0M683.1 921.9h0M679.5 911.1h0M567.7 1067.3h0M647.3 974.7h0M587.5 948.5h0M591.2 978.2h0M607.2 966.3h0M677.2 882.3h0M643.2 879.1h0M703.2 864.1h0M707.5 871.6h0M642.5 944h0M631.7 952.5h0M631.3 1010.6h0M705 878.8h0M606.4 986.1h0M699 883.4h0M531 1081.9h0M658.1 910.3h0M689.8 899.8h0M665.8 912h0M631.6 913.7h0M678.1 892.8h0M673.4 889.8h0M568.5 972.5h0M677.6 889.1h0M642.7 918.8h0M657.6 880.9h0M698.9 861.8h0M542.9 1016.6h0M609.1 989.1h0M601.3 950.8h0M504.8 981.8h0M688.2 877.4h0M625.7 1086h0M653.1 924.7h0M712.6 865.1h0M656 927.6h0M634.2 934.6h0M608.5 964.3h0M651.7 971.7h0M703.6 862h0M656.7 927h0M636.9 866.9h0M626.6 959.2h0M546 1019.4h0M642 948.6h0M593 971.4h0M633.1 951.5h0M568 881.5h0M702.1 875h0M539.9 1022.7h0M640 887.5h0M624.1 938h0M625.6 976.7h0M605.9 962.8h0M534.1 1082.7h0M646.5 961h0M632.4 927.7h0M583.4 991.5h0M607.8 986.1h0M525.3 1003.2h0M641.1 915.3h0M697.2 867.4h0M620.8 997.5h0M639.2 965.5h0M642.4 894.5h0M535 1075.4h0M501.5 1071h0M661.3 906.3h0M561.3 891.2h0M588.5 1011.1h0M554.3 1000.6h0M684 910.2h0M694 869.1h0M577.3 884.2h0M673.6 872.9h0M613.4 963.8h0M512.4 1056.7h0M539.4 1081.1h0M666 927.3h0M687.8 901.7h0M692.6 899.4h0M709.6 863.3h0M685.2 911.8h0M603.7 954.7h0M536.6 1014.9h0M553.3 1005.5h0M701.1 872.5h0M574.7 961.7h0M699.8 865.9h0M711.7 874.1h0M535.6 1029h0M572.1 973.2h0M683.9 908.8h0M510.8 1027.7h0M689.7 871.4h0M636.3 925h0M620.1 946h0M564.8 1047.6h0M630.3 1054.7h0M640.2 957.9h0M650.4 905.6h0M636.1 984h0M586.8 1007.3h0M526.8 893.3h0M662.2 903.5h0M659.3 899.9h0M677.7 938.9h0M516.5 1048.9h0M640.2 959.6h0M521 1017.2h0M610.6 985.4h0M602.6 967.3h0M640.3 948h0M659.8 880.9h0M639.9 917.2h0M633.5 936.3h0M589.8 979.7h0M682.4 877.2h0M636 924h0M517.3 1093.1h0M577 990.7h0M629.6 921.7h0M610.1 986.5h0M583.9 998.3h0M624.7 891.1h0M671.4 894.5h0M695.7 863.2h0M604.2 958.7h0M697.8 869.6h0M587.7 1038.2h0M554.3 1087.6h0M503.6 1061.2h0M686.3 879h0M664.4 888.5h0M570.1 998.6h0M536.9 1084.4h0M556.2 1006.8h0M558.3 1000.1h0M702.8 879.9h0M631.1 907.5h0M647.4 878.5h0M523.3 1045.7h0M679.3 892.2h0M595.2 886.3h0M643.1 935.3h0M708.2 894.6h0M703.1 863.1h0M596.3 960.1h0M654.7 930.4h0M635.7 909.9h0M693.4 887.8h0M570.1 1024.5h0M595.7 1000.4h0M702.5 863.4h0M703.9 879.9h0M662.6 900h0M644.7 945.8h0M634.6 954.9h0M700.6 866h0M693.9 863.8h0M569.3 1039h0M586.1 967h0M594.4 979.8h0M636.3 961.8h0M635.8 921.2h0M649.1 920.5h0M638.6 895.7h0M635.7 940.7h0M655 892.9h0M657.7 895.9h0M701.6 867.8h0M681 897.9h0M655.1 884.8h0M587.3 905.6h0M635.4 922.8h0M544.3 1016h0M594.4 1083.5h0M603.5 1012.6h0M661.1 970.5h0M637.8 924.5h0M634.8 914.5h0M526.6 965.1h0M639.7 913.6h0M657.6 927h0M691.3 904.5h0M699.3 863.6h0M533.5 1085.9h0M686.2 904.6h0M601.5 970.9h0M644.9 944.6h0M635.1 919.3h0M701.1 873h0M655.5 908.4h0M636.2 959.8h0M643.2 964.7h0M618.8 976.4h0M535.5 1014.8h0M661.1 890.6h0M703.5 882.5h0M687.4 875.3h0M636.5 996.9h0M602 953.1h0M578.4 1045.5h0M622.7 973.5h0M574.3 933h0M645.9 914.6h0M642.6 889.4h0M651.8 953.1h0M583.2 1052.6h0M636.3 932.5h0M628.7 889.5h0M685.7 924.6h0M631.5 988.8h0M702.5 872h0M542.9 1071.6h0M620.1 1035.5h0M545.5 1080.3h0M621 904.6h0M696.2 871.3h0M568.8 1049h0M671.7 888.9h0M704.8 867.5h0M680.8 910.8h0M681.9 884.8h0M621 993.3h0M637.5 878.5h0M627.8 930.3h0M638.7 937.1h0M676.9 867.7h0M631.8 914.5h0M627.7 903.4h0M659.3 1080.7h0M571.6 921h0M651.5 891.1h0M572.3 991.2h0M591.5 1025.3h0M625.8 973.2h0M674 869.4h0M627 922.6h0M648.4 973.9h0M571.4 1053.5h0M660.5 890.7h0M585.8 986.6h0M617.5 1023.9h0M647.8 939.3h0M686.1 894.8h0M663 930.7h0M633.2 954.7h0M630 935.5h0M516.2 983.6h0M678.8 898.3h0M645.3 938.2h0M690.4 888h0M679.6 887.8h0M595 1026.1h0M614 960.1h0M612.8 893h0M707.1 887.5h0M673.8 888.4h0M711.2 861.6h0M706.6 861.7h0M623.1 1045.5h0M696.4 872h0M645.3 939.6h0M551.5 1008.4h0" stroke="#1f77b4" stroke-opacity="0.62" stroke-width="3.8" stroke-linecap="round" fill="none"/>
<path d="M552.7 1071.1h0M663.5 864.2h0M625.2 986.8h0M704.7 928.1h0M523.4 1087.5h0M690.2 876.5h0M653.9 1020.3h0M672.8 935.2h0M671.6 902.2h0M593.6 1022.9h0M621.1 948.9h0M569.1 1066.4h0M533.6 1086h0M536.6 1083.5h0M672.5 916.7h0M612.7 1034.9h0M665.6 899.2h0M589.9 910.6h0M655 1004.9h0M572.8 962.9h0M646.8 889.3h0M517.3 949.9h0M529.7 1033h0M704.3 881.3h0M600.6 1022.5h0M660.1 904.3h0M527.4 1090.7h0M557.1 1055.8h0M644.6 953h0M512.5 1037.7h0M630 976.5h0M577.9 988.5h0M576.7 1043.3h0M705 879.1h0M633.9 1032h0M626.4 947h0M704.6 877.3h0M686.6 893h0M536.4 1024.4h0M607.3 910.7h0M635.9 913.6h0M656.5 909.4h0M631.1 933.6h0M630.5 941.4h0M505.6 1055.3h0M682.4 872.3h0M700.3 863.6h0M560 1063.4h0M690.4 896.4h0M669.4 879.5h0M620.1 931h0M662.1 862h0M660.8 921.5h0M630.4 939.7h0M640 915.8h0M655 904h0M638.9 882.9h0M682.3 896.6h0M650 924.5h0M618.2 919.5h0M532.2 1032.3h0M657.2 915.3h0M690.6 872.3h0M531.1 885.6h0M649.1 905.3h0M641.6 937.3h0M600.6 998.9h0M657.5 922.7h0M665.3 933h0M603 961.1h0M555.8 998.6h0M611.9 967.9h0M625.8 939.1h0M542.5 999.2h0M602.3 944.5h0M620.9 914.1h0M668.5 942.5h0M619.7 933h0M635.5 939.1h0M633.2 967.5h0M701.8 894.7h0M614.4 948.4h0M686.8 873.4h0M561.6 975h0M573.9 994.2h0M561.6 1007h0M676 884.5h0M627.9 968.2h0M620.8 945.8h0M629.5 920.3h0M578.4 973.8h0M629.9 947h0M683 897.1h0M581.7 1017.6h0M669.6 891h0M677.3 888.1h0M638.6 959.4h0M690.7 887.6h0M701.4 896.6h0M634.5 927.1h0M658.2 939.3h0M696 871.5h0M688.1 884.6h0M638 944.4h0M674 896.1h0M677.5 902.1h0M698.6 948.8h0M645.8 929.2h0M693.3 874.5h0M608.1 954.9h0M601.5 967.5h0M586.3 900.6h0M689.4 877.7h0M604.7 965h0M617.5 931h0M507.5 1007.7h0M653.6 918h0M699.4 888h0M627.7 946.5h0M591.1 1032.8h0M690.2 871.8h0M702.5 863h0M580.9 971.6h0M537.3 995.8h0M647.6 888.4h0M655.9 924.3h0M554.7 1060.7h0M640.4 952.6h0M575.7 927.2h0M670 874.2h0M632.7 938.5h0M570.1 1051.9h0M645 926.9h0M641.6 945.7h0M605 968.2h0M588.7 1013.4h0M664.1 884h0M551.4 1063.8h0M697 942.2h0M699.4 866.7h0M631.1 912.1h0M646.9 897h0M649 915.2h0M710.2 881.5h0M661.6 924.2h0M577.6 993.5h0M645.8 919.3h0M617.9 952.3h0M657.9 929.9h0M683.6 913.5h0M632.3 897.2h0M592.9 961.1h0M634.8 932.6h0M694.4 870.1h0M684.3 874.7h0M678.3 904.6h0M660.4 938.4h0M700.3 881h0M681.4 862.1h0M607.1 895.3h0M561.3 1000h0M625.7 992.7h0M654.5 905.6h0M692.5 889.1h0M666 880.7h0M712.5 862h0M628.4 965.8h0M684 979.7h0M621.3 988.5h0M660.6 918.1h0M591.8 958.7h0M638.6 888.6h0M597.4 971.8h0M697.4 876.1h0M708.2 879.9h0M610.5 1008.8h0M635 898.9h0M529 879.9h0M514.8 1021.7h0M657.5 884.2h0M620.6 930.9h0M650.3 930.4h0M670.3 928.3h0M649.1 891.2h0M711.7 867.3h0M628.8 932.6h0M699.9 885.8h0M651.2 927.5h0M669.6 901.6h0M656.4 901.2h0M626.4 969.7h0M509.9 1041.4h0M650.9 870.5h0M522.5 1025.2h0M630.2 917.4h0M642.3 928.9h0M597.1 948.3h0M672.3 876.1h0M617.4 904.8h0M638.9 906.6h0M592.3 967.4h0M655.5 951.3h0M594.9 954.1h0M706.2 912.5h0M564.9 1047.8h0M657.2 935.9h0M626.7 945.8h0M627.1 1072.3h0M623.5 922.6h0M704.2 863.6h0M521.1 942.1h0M689 900.9h0M656.2 905.8h0M540 992.5h0M512.9 1055.3h0M622.8 926.2h0M647.5 881.9h0M687.7 899h0M675.4 886.4h0M706.2 884.6h0M651.4 921.5h0M674.7 904.5h0M611.5 1010.4h0M672.3 889.9h0M670.3 920.2h0M571.2 1033.4h0M695.1 866.2h0M672.2 907.1h0M697.6 869.1h0M650.4 915.4h0M592.1 1041.7h0M645.6 939.8h0M666.8 916.1h0M594.7 974.2h0M551.4 1058.3h0M606 963h0M683.2 881.5h0M643.4 905.2h0M673.9 888.1h0M517.4 1092.5h0M637 908.1h0M636.2 896.4h0M700.2 869.6h0M711.3 874.9h0M651.3 868.1h0M702.8 863.7h0M614.9 980.9h0M588.1 983.7h0M550.6 945.3h0M658.2 1083h0M695.1 866.3h0M699.6 870.1h0M589.6 919.9h0M657.4 914.9h0M636.8 904.9h0M697.2 863.3h0M642.6 906.9h0M678.5 888.7h0M694.9 903.6h0M561.1 1001.3h0M673 899.2h0M596 1005.8h0M649.1 946.5h0M607.9 983.7h0M639.9 941.8h0M695.2 868.7h0M676.6 891.8h0M560.9 997.2h0M667.9 879.8h0M563.7 1047.2h0M582.4 987.6h0M651.2 915.9h0M506.5 1063.7h0M571.2 952.4h0M601.7 990.6h0M669.3 875.1h0M709.8 861.8h0M710.1 874.5h0M649.1 941.9h0M638.9 949.1h0M696.1 866.6h0M644.7 931.5h0M663.5 907.4h0M511.1 1030.2h0M668.6 911.9h0M698.7 885h0M701.9 923.3h0M560.4 1065.7h0M702.2 863.7h0M681.1 916.2h0M632.1 925.3h0M631 934.9h0M596.7 1002.7h0M526.8 983.6h0M705 862.1h0M688.6 874.8h0M588.5 1012.6h0M679 956.1h0M609.7 989.4h0M661 923.1h0M602 958.3h0M680 953.9h0M647.1 903.3h0M583.6 1059.5h0M671.7 895.3h0M634.5 927.8h0M699.5 868.1h0M552 968.7h0M710.8 874.1h0M707.5 862.7h0M648.6 947.8h0M667.9 912.4h0M620.5 975.1h0M632 917.9h0M680.2 933.5h0M624.5 919.5h0M668.3 956.7h0M625.1 929.2h0M569.8 1078h0M546.6 1072.2h0M649.8 909.6h0M639.5 919.3h0M599.1 964.1h0M669.6 891.9h0M668.3 899.3h0M650 883.4h0M684.6 873.9h0M640.2 928.5h0M597 1034.3h0M680.6 935.5h0M607.3 984.7h0M687 884.7h0M504.3 1065.7h0M572.7 993.7h0M503.8 1066.7h0M704 864.4h0M701.5 880.8h0M620.6 932.5h0M546.8 1016.3h0M708.5 877.4h0M673 893.1h0M700.3 884.8h0M589.5 1009.6h0M640.4 955.8h0M652.8 886.6h0M597.7 976.9h0M551.7 983.7h0M611.2 961.9h0M612.1 1019.9h0M672.9 896.7h0M526.4 1042.8h0M711.2 920.6h0M631.3 901.4h0M598.7 975.8h0M709.1 872.5h0M559.8 1004.3h0M618.2 955h0M510.3 1055.2h0M666.1 904.1h0M670.6 923.2h0M682.2 889h0M631.7 962.2h0M632.3 953.7h0M696.2 885.9h0M659.7 902.6h0M634.2 928.8h0M683.6 870.2h0M544.8 1078.6h0M706.7 867.4h0M637.7 927.9h0M684.6 910.1h0M645.3 881.8h0M705.3 915h0M521.6 1045.6h0M610.7 992.1h0M674.1 910.1h0M640.5 920.6h0M657.4 945.6h0M637.9 952.5h0M704.3 887.3h0M668.1 914.8h0M577.2 1030.1h0M557.4 992.8h0M532.7 901.1h0M522 974.7h0M609.2 987.4h0M700.7 918.4h0M711.1 864.5h0M702.4 874.8h0M667.1 901.4h0M599.3 996.2h0M680.2 882.7h0M515.9 1050h0M656 927.8h0M620.5 927h0M621.5 939.8h0M672.8 897.7h0M616.6 970h0M526.6 989.7h0M682.8 892.6h0M660.8 966.1h0M709.8 867.5h0M661.4 924.9h0M691 863.7h0M665 943.6h0M640.5 925.3h0M663 906.1h0M592 972.5h0M708.8 916.4h0M704.3 881.9h0M696.5 869.7h0M665 923.1h0M709.3 869.3h0M665.6 874.4h0M640.1 947.8h0M680.2 867.2h0M658.7 865.4h0M644.9 949.3h0M679.5 884.7h0M634.9 940.8h0M687.1 869.5h0M676.6 908.9h0M669.7 936.5h0M550.2 1070.6h0M674.3 914.5h0M620.2 973.8h0M660.1 907.7h0M663.8 913.8h0M710 873.1h0M663.4 931.8h0M590.2 1045.6h0M649.9 903.3h0M709.8 874.4h0M578 995.3h0M636.7 929.1h0M600.6 931.6h0M601.3 997.3h0M632.4 961.9h0M628.2 943h0M687.3 885.3h0M698.7 877.5h0M587.4 969.5h0M707.3 887.3h0M657.7 970.9h0M704.3 874.9h0M646.9 942.7h0M700 867.6h0M544.5 1070.1h0M643.3 899.7h0M593.2 967.8h0M637.9 988h0M704.6 887.4h0M608.5 1037.5h0M664.5 973.2h0M662 897.8h0M671.5 864.8h0M671.5 919.8h0M684.6 864h0M666.5 896.3h0M554.7 1065.2h0M692.9 865.1h0M569.7 1040.8h0M664.3 923.8h0M690.2 901.7h0M626 919.6h0M627.7 961.4h0M592.7 978h0M636.6 905.5h0M694.2 866.6h0M662.9 916.1h0M700.3 895.2h0M681.3 904.6h0M700.8 879.6h0M704.7 871.3h0M608.1 925.7h0M572.2 1014.4h0M649.4 894.6h0M637.3 956.2h0M647.6 939.5h0M665.7 900.8h0M663.7 919.9h0M608 944.5h0M627 937.1h0M658.1 905.1h0M626.8 985.4h0M633.2 938.4h0M654 922.8h0M626.8 939.6h0M691.4 878.1h0M669.7 905.7h0M563.9 999.3h0M692.6 864.5h0M554 957h0M698.2 897.9h0M679.6 911.3h0M678.6 961.4h0M661.7 904.7h0M634.7 959.6h0M669.1 911.5h0M646.8 913.1h0M683.7 907.3h0M594.4 999.4h0M632.2 901h0M636.2 934.7h0M618.6 944.6h0M590.4 1010.9h0M635.7 956.5h0M647.2 929.2h0M659.7 875.6h0M571.3 1045.4h0M637 916.5h0M579.6 1006h0M660.3 924.4h0M512.5 975.8h0M558 980.7h0M687.8 872.3h0M655.2 929.3h0M651.5 909.4h0M700.8 865.3h0M698.3 865h0M667.2 910.9h0M608.2 883.2h0M685.5 890.2h0M600.1 1001.2h0M536.3 1026.8h0M544.9 913.8h0M661 887.1h0M516.2 1090.6h0M695.1 864.5h0M676.6 899.7h0M635.3 1025.8h0M625.7 954h0M692.9 872.8h0M642.5 918h0M619.3 934.5h0M569 1070.3h0M690.9 914.7h0M649.9 944.6h0M667.3 906.2h0M687.2 901.3h0M672.6 908.1h0M611.8 956.1h0M512.4 1016.5h0M609 959.2h0M653.6 936.7h0M668.2 914.9h0M626.4 922.3h0M652 903.2h0M646.2 886.4h0M633.9 894.5h0M631.9 924.6h0M644.8 952.1h0M594.4 980.5h0M678.6 876.1h0M705.5 862.3h0M659 885.4h0M639.7 924.1h0M616.7 957.2h0M672.4 883.2h0M624.8 953.3h0M637.6 951.5h0M678.6 906.2h0M514.5 1053.1h0M693.3 925.2h0M675.5 877h0M600.6 974h0M614.5 954.2h0M683.1 921.5h0M639.4 929.9h0M612.4 937.4h0M630.6 929h0M653.2 939.7h0M540.5 1077.5h0M646.6 941.9h0M611 959.4h0M645.7 953.3h0M515.1 1050.8h0M683.9 884.2h0M665 963.2h0M664.3 871.9h0M707.7 873.8h0M666.1 914.8h0M629.4 908.4h0M699.6 888.1h0M652.9 982.6h0M693.3 890.7h0M623.2 936.3h0M664.9 886.6h0M530.3 924h0M517.6 1046h0M689.4 873.7h0M682.7 899.1h0M626 942.4h0M635.3 929.7h0M522.5 968.6h0M628.2 943.2h0M646.4 898h0M622.4 920.6h0M575.7 890.9h0M577.7 1047.5h0M695.2 892.8h0M663 931.8h0M642.9 935.3h0M708.2 876.8h0M671.8 873.2h0M520.1 1014.4h0M654.8 882.9h0M689.9 873.8h0M706 862.7h0M658.5 872.5h0M610.1 965.4h0M658.5 913.7h0M694 893.4h0M639.8 931h0M621.4 954.9h0M635.7 894.8h0M609.3 946.4h0M571.3 989.9h0M661.4 894.4h0M658.5 898.2h0M660 917.1h0M570.6 1049.4h0M579.8 1061.5h0M578.4 991.4h0M529.3 1034.5h0M543.3 1074.7h0M597.5 964.9h0M658.9 928.8h0M692.2 874.6h0M671.4 892.3h0M617.8 956.6h0M707.6 875.8h0M682.4 921.8h0M615 953.8h0M659.2 927.5h0M600.4 1034.6h0M628.2 926.6h0M649.7 933.2h0M635 930.1h0M547.2 1070.7h0M694.9 878.7h0M673.4 891.1h0M706.2 880.5h0M598.8 969.1h0M642.9 922.9h0M644.6 928.7h0M662.4 927.3h0M668.6 888.7h0M531.5 1031.6h0M662.9 898.2h0M688.9 896.5h0M516 1053h0M585.9 988h0M681.7 865h0M689.3 898.3h0M685.1 882.1h0M524.1 1085.7h0M636.5 915.7h0M608.9 962.5h0M602.4 959.2h0M653.2 919.8h0M579.4 993.8h0M684.7 868.3h0M661.7 908.6h0M650.1 919.7h0M689.3 877.8h0M606.8 912.1h0M634.7 934.7h0M688.1 868.5h0M698.3 863.4h0M644.5 926.8h0M620.7 948.1h0M607.7 947.1h0M679.5 904.3h0M657.3 870.1h0M695.4 885.5h0M641.5 909.2h0M608.5 985.4h0M641.4 914.7h0M601.8 962.6h0M667.6 901.8h0M663.4 870.1h0M590.8 1027.2h0M686.1 932.6h0M677.8 906.1h0M588.9 992.4h0M623.7 1023.8h0M669.3 961.9h0M634.1 931.7h0M706.6 865.9h0M698.4 886.1h0M694 889.3h0M630.7 933.3h0M695.2 897.7h0M546.9 1075.8h0M609.8 960.6h0M642.9 934.3h0M657.3 903.1h0M617.7 966.5h0M633.3 935.3h0M515.2 1036.1h0M671 953.4h0M609.3 987.7h0M608.6 1012.5h0M662.7 1082.8h0M607.3 991.1h0M645.1 934.1h0M654 900.2h0M662.9 876.7h0M541.6 1074.4h0M681.5 909.3h0M663.5 880h0M591.3 938.1h0M670.5 863.8h0M710.7 876.9h0M676.2 887.1h0M708.2 883.5h0M685.5 882.5h0M693.8 871.2h0M525.8 1017.3h0M654.5 928.2h0M584.4 934.3h0M629.1 906.8h0M662.9 933.7h0M607.6 950.3h0M685.8 863.7h0M632.5 930h0M661.1 908.1h0M603.4 959.1h0M581.3 943.9h0M681.9 872.4h0M690.5 911h0M660.7 1082.7h0M510.2 1056.6h0M545.3 1071.5h0M695.4 864.4h0M524.9 975.4h0M682.3 903.4h0M567 1045.7h0M709.7 868.2h0M693.8 864.1h0M662.2 963.4h0M654.6 931.4h0M623.6 923.9h0M617.2 954.9h0M633.5 928.2h0M656.8 905.9h0M597 952.6h0M694 883.4h0M659.4 952.2h0M700.9 866.5h0M657.4 985h0M519.9 1050.4h0M682.1 899.7h0M700.1 899.7h0M663 891h0M656.7 929.3h0M590.6 1009.5h0M626.8 936.1h0M607.2 974.4h0M538 929h0M686.2 886.4h0M586.2 972.8h0M706.3 884h0M591.7 963.7h0M630.2 943.6h0M637.4 935.1h0M660.3 891.5h0M543 868.3h0M661.4 907h0M640.5 959.2h0M695.9 862.8h0M698.6 896.9h0M637.4 888.1h0M596.6 982.3h0M674.5 896.9h0M651.9 940.3h0M613.7 937h0M694.7 868.2h0M692.6 893.6h0M659.5 910.1h0M675.2 896.1h0M621.7 973.1h0M632.5 914.1h0M700 862.3h0M687.2 862.4h0M696.8 867.3h0M628.5 977.5h0M670.4 890.2h0M607.1 950.4h0M683.2 884.3h0M604.8 950.2h0M697.7 888.3h0M685.4 899.3h0M689.9 887.5h0M568.7 1051.2h0M646.4 925.8h0M690.5 879.9h0M708 875.7h0M628.7 983.6h0M621 1008.1h0M634.8 904.1h0M585.9 1010.5h0M604.8 1014h0M572.5 1060.2h0M641.2 913.1h0M643.8 929.7h0M631.5 913.1h0M617.8 946.5h0M698.2 864.4h0M644.7 903.9h0M703.8 868.5h0M662.7 925.7h0M673.6 918.9h0M649.7 878.4h0M571.4 1039.1h0M558.9 1006.9h0M658 909.7h0M677.2 898.9h0M610.3 995.9h0M676.3 928.5h0M623.3 949.8h0M522.1 1035.1h0M692.2 890.3h0M615.6 960.6h0M669.7 864.9h0M579 976.9h0M703.1 889.3h0M624.1 914.5h0M624 980.2h0M643.8 884.4h0M577.3 1054.9h0M648.9 910.3h0M670.1 926.4h0M638.1 878.8h0M636.9 912.8h0M693.8 899.7h0M647.9 949.2h0M507 1014.6h0M533.4 1030.1h0M659.2 913.4h0M679.2 891.9h0M544 1086.1h0M585.1 1024.4h0M706.8 930.4h0M656.7 878h0M665.1 898.3h0M534.4 1080.2h0M616.8 943h0M683.3 865.5h0M644.8 888.3h0M666.6 904.3h0M581 1012.9h0M616.4 948.8h0M602.4 931.5h0M677.2 888.8h0M574.6 991.3h0M651.5 905.3h0M698.8 867.1h0M607.1 1023.9h0M596.6 942h0M623.6 931.3h0M692.4 871.1h0M683.4 924.9h0M664.7 906.5h0M680 886.8h0M677 883.7h0M609.9 973.8h0M590.1 1056.9h0M546 1014.6h0M543.5 1022.7h0M531.1 1028.8h0M564.6 1002.4h0M667.1 929.5h0M615.8 961.3h0M574.8 1029.9h0M639.5 926.2h0M655.7 955.7h0M618.9 975.1h0M706.2 883.4h0M683.3 921.1h0M561.3 1054.6h0M650.1 891h0M641.9 947h0M660.8 933.5h0M639.7 923.9h0M575.4 994.3h0M689.4 902.1h0M692.1 908.7h0M692.2 875h0M707.6 883.2h0M661.3 917.3h0M690.3 894.3h0M676.4 893.8h0M637.6 926.9h0M616.2 953.2h0M630.5 929.7h0M711.2 977h0M572.6 1035.5h0M567.1 1091.4h0M633.9 934.2h0M675.9 901.5h0M633.8 1019.9h0M667.4 913.1h0M682.8 876.8h0M700 868.5h0M593.8 980.2h0M695 895.5h0M583.6 959.6h0M668.5 866.6h0M661.6 879.4h0M705.3 889h0M663.7 928.9h0M641.4 931.7h0M608 987.5h0M636.3 949.1h0M667.4 893.1h0M503.3 978.3h0M599.1 1000.7h0M512.5 1048.7h0M678.8 868.6h0M688.4 939.3h0M698.3 861.8h0M559.1 996.2h0M698.8 862.8h0M636.9 952h0M638.2 933.5h0M680.4 914.6h0M639.9 922h0M538.7 1077.6h0M620.7 923.3h0M663.4 899.7h0M669.3 927.8h0M636.5 925.1h0M654.4 886.2h0M708.7 861.8h0M673.7 920.4h0M705.3 885.8h0M660.3 899.9h0M671.5 915.5h0M673.9 881.4h0M693.9 873.8h0M702.8 881.6h0M641.1 908.4h0M700.8 867.4h0M686 869.3h0M639.6 945.1h0M638.4 954.3h0M661 903.5h0M685.8 894.4h0M689.1 867.3h0M634 928.4h0M511.6 1050.5h0M694.3 945.4h0M634.7 915.8h0M672.6 892.5h0M626 996.6h0M650.9 887.9h0M657.3 934.6h0M570.7 991.7h0M677.4 910.7h0M622.4 1027.9h0M660.6 904.8h0M657.7 908.1h0M651.2 913.8h0M634.4 960.3h0M652.5 894.9h0M686.2 891.6h0M541.3 1076.8h0M621.4 946h0M607 1026.3h0M709.2 884h0M667.5 910h0M668.3 892.1h0M687.5 909.1h0M663.7 926.8h0M688.9 869.1h0M636.8 929.1h0M709 866.1h0M626.8 944.4h0M684 914.4h0M673.2 936.3h0M664.7 904h0M635.9 953h0M639.9 908.7h0M610.4 994.1h0M638.6 918.1h0M599.8 1020.5h0M675.2 889h0M528.7 1039.1h0M558.8 1006.2h0M675.3 918.8h0M668.4 877.5h0M633.8 952.3h0M574.8 968.1h0M703.2 864.3h0M676.7 918.1h0M587.6 964.8h0M656.8 897.9h0M591.3 964.7h0M581.7 956h0M652.6 926h0M648.4 996.9h0M635.1 899.4h0M591 960h0M626.7 960.5h0M648.5 963.4h0M607.5 941.1h0M682.8 876.5h0M677.7 898.3h0M611.1 959.9h0M636 931.9h0M664.3 928.8h0M538.1 1024.3h0M594.2 946.8h0M649.3 932h0M654 1085h0M639.8 939.3h0M679.6 930.1h0M525 936h0M550.2 1016.3h0M709.3 871.6h0M647.6 884.3h0M545.2 1074.6h0M636.1 951.5h0M667.6 881.1h0M620 947.7h0M658.2 915.5h0M634 942.3h0M636.8 896.4h0M526 1038.5h0M652.8 912h0M671.7 887.3h0M518.9 1044.1h0M516.8 1026.8h0M640.7 934.2h0M656.5 909.6h0M698.1 903.4h0M631.9 916.5h0M655.1 953.6h0M662.1 929.2h0M630 921.1h0M659.8 884.8h0M681.9 946.2h0M670.2 924.1h0M709.9 880.2h0M509 1031.1h0M635.1 970.5h0M657.9 930.8h0M677.1 894.1h0M686.9 913.3h0M637.6 990.1h0M626.4 937.9h0M571.4 992.5h0M671.4 905.5h0M647.3 983.4h0M705.9 904.2h0M568.4 992.9h0M607 989.1h0M695.6 879.3h0M623.3 868.8h0M612.8 960.2h0M662.2 932.4h0M653.1 940.2h0M651.6 899.3h0M680.5 897.6h0M648.2 923.2h0M516.5 1045.9h0M654.4 921.3h0M635.2 913h0M621.3 951.4h0M704.8 881.6h0M702.9 885.9h0M530.5 1030.6h0M670.2 891.4h0M630.8 949.2h0M597.2 970.6h0M603.5 964.5h0M703.6 868.8h0M698.7 888.5h0M662.8 903h0M699.1 863.9h0M577.9 965.2h0M624.5 979.5h0M547.2 1069.4h0M591.4 981.4h0M522.3 1038.5h0M598.9 973.2h0M533.2 1085.5h0M651.7 910.9h0M560.8 973.9h0M650.6 924h0M659.7 884.3h0M524.3 983.4h0M673.1 925h0M669.7 907.5h0M631.3 987h0M689.6 878.7h0M660.5 935.1h0M621.1 924.8h0M634.7 931.2h0M638.2 935.1h0M636.3 907.2h0M686.1 881.2h0M692.5 868.9h0M594.8 976.3h0M600.3 970.5h0M638.9 927.1h0M598.5 879.5h0M623.2 986.5h0M599.9 959.6h0M698.5 871.3h0M505.9 1057.5h0M678.3 866.4h0M707.2 876.4h0M662.6 954.6h0M634.7 951.5h0M629.2 938.6h0M638.2 994.9h0M528.3 1035.6h0M570.4 994.4h0M537.2 1025.1h0M647.7 915.9h0M657.3 919.6h0M613.5 949.7h0M632.4 934.5h0M623.7 949.2h0M615.1 945.7h0M702.1 989.4h0M645.4 931.8h0M694.7 901.5h0M644 881.7h0M686.8 883h0M623.7 956.2h0M660.3 919.5h0M705.5 862h0M599.2 1015.5h0M565.2 1043.6h0M650 941.7h0M702.6 875.4h0M703.7 861.9h0M663.6 947.4h0M696.3 883.8h0M584.4 1038.1h0M665.2 896.9h0M585.9 918h0M624.2 934h0M590.8 1052.5h0M664 882.3h0M665.4 889.6h0M679.1 908.3h0M530.3 1032.8h0M512 1054.1h0M624.2 1005.3h0M684.5 879.5h0M684.7 908.5h0M626.1 988.9h0M592.3 1036.2h0M677.2 868.9h0M631.6 940.5h0M657.1 937.5h0M531.5 1086.1h0M594.5 955.5h0M561.2 1055.2h0M596.4 1082.3h0M700.2 880.6h0M653.5 924.2h0M600.6 867h0M603.3 992.9h0M593.5 1023h0M678.9 881.5h0M630 944.2h0M666.6 918h0M641.8 932h0M618.5 950.5h0M707 897.9h0M608.8 959.8h0M611.9 958.5h0M643.4 924.3h0M632.4 931.7h0M701.8 894.8h0M681.3 881.6h0M670.1 911.2h0M633.2 929.2h0M603.6 980h0M619.9 973.2h0" stroke="#1f77b4" stroke-opacity="0.62" stroke-width="3.8" stroke-linecap="round" fill="none"/>
<path d="M619 952.1h0M705.3 863.3h0M663.8 872.2h0M596.2 962h0M599.4 956.8h0M630 962h0M622.2 927.6h0M679.2 915.5h0M621.7 939h0M621.3 926h0M576.9 981h0M598.7 961.4h0M640.3 919.5h0M677.9 883.2h0M653.3 921h0M649.6 886.9h0M630.6 961.3h0M577.6 1024.6h0M656.3 878h0M699.5 896h0M620.6 943.2h0M650.8 937.4h0M651.8 916.7h0M623.3 889.1h0M674 890.6h0M573.9 986.1h0M668.9 862.7h0M650.7 973.3h0M681.9 877h0M678.1 909.9h0M678.8 885h0M516.9 1044.8h0M648.6 911.1h0M627.4 1072.2h0M645 890.6h0M573 994.1h0M667.4 924.2h0M551.2 1073.6h0M702.1 871.7h0M601.1 992h0M581.3 1016.5h0M576.9 1026.3h0M567.1 933.6h0M653.1 878.1h0M515.8 1040.2h0M668.7 926.6h0M626.6 971h0M560.1 959.7h0M642.4 936h0M665.4 949.4h0M664.4 911.1h0M653.7 926.5h0M518.3 1045.3h0M624.1 972.8h0M660.8 1003.5h0M659.5 896.6h0M674.3 917.7h0M662.7 915.1h0M652.1 946.4h0M639.4 922.2h0M654.4 899.6h0M640.1 922.3h0M658.2 934.7h0M684.7 898.7h0M628.2 984.5h0M622 949h0M701.8 889.3h0M692.9 878.9h0M657.6 921.4h0M692.1 876.3h0M705.4 867.4h0M564.5 998.6h0M580.4 907.4h0M690.7 893.3h0M569.5 1042.1h0M667 880.7h0M527.9 1039.6h0M593.5 981.4h0M599.7 970h0M678.5 874.2h0M606.7 987.7h0M615.2 961.6h0M691.1 870.4h0M661.3 917.4h0M571.2 966.7h0M567.6 1041.2h0M636 914.8h0M663.8 883.6h0M564 1062h0M708 870.3h0M618.5 1029.2h0M511.3 1049.8h0M616.9 956.6h0M519.2 980.2h0M644.7 909.4h0M627.3 902.3h0M657.5 881.8h0M705.7 997h0M675.8 917.4h0M628.7 913.8h0M673.5 912h0M675.7 912.3h0M626.8 945.7h0M627.3 944.8h0M655.7 892.1h0M602.2 962.5h0M684.1 912.7h0M700.4 890.3h0M647.4 911.4h0M605 909.2h0M683.4 905.2h0M598.1 958.8h0M545.3 1065.8h0M602.5 1019.7h0M679.7 886.3h0M527.9 1087.1h0M690.2 890.7h0M616 953h0M538.3 1026.2h0M682.4 883.8h0M679.9 938.9h0M517.5 1046h0M640.5 919.5h0M539.1 1078.7h0M608.8 1027.6h0M655.4 889.6h0M581.3 1002.4h0M678 906.5h0M692 873.5h0M667.9 921h0M618.1 976.2h0M635.8 954.1h0M677.8 878.8h0M599 969.2h0M551 1064h0M538 951.7h0M622.1 977.8h0M607.9 945.5h0M690.4 876.7h0M625.7 948.6h0M656.8 916.2h0M578.4 989h0M686 908.1h0M603.3 956.2h0M543.3 1073.7h0M592.3 969.3h0M647.5 949.4h0M531.9 1013.6h0M608.9 984.2h0M648.5 900h0M585.5 986.1h0M593.6 973h0M540.8 1080.1h0M680.9 886.9h0M680.4 889.5h0M635.8 1023.1h0M551.6 1009.8h0M667.8 890.5h0M615.6 976.1h0M687.2 897h0M631.3 926.4h0M504.1 992.2h0M623.4 954.4h0M688.8 870.7h0M685.2 889.1h0M655.2 914.1h0M680.9 879.2h0M525.4 1036.7h0M642.5 932.6h0M634.8 965.3h0M666.6 906h0M623.7 933.1h0M546.8 1011.9h0M675.8 924.5h0M691.4 864.4h0M684.3 894.3h0M638.9 928.1h0M650 925.1h0M704.8 875.2h0M704.4 862.7h0M546 1013.8h0M657.9 917.6h0M529.4 996.3h0M574.3 1016h0M640.3 955.6h0M563.3 1001.9h0M508.8 1024.2h0M705.5 863.4h0M545 917.2h0M631.8 919.4h0M578.1 1045.9h0M610 997.8h0M590.1 965.7h0M646.1 943.1h0M628.9 909.1h0M537.2 1021.6h0M638.7 908.6h0M571.1 1034.4h0M503 1058.6h0M541.4 976.2h0M669 903.5h0M636.3 956.6h0M595 1004h0M544 989h0M656.1 930.3h0M546.1 1021.5h0M596 968.7h0M695.6 874.2h0M592.7 999.4h0M683 877.3h0M686.4 906.5h0M692.5 867.7h0M590 970.5h0M673.2 913.9h0M562 1060.9h0M685.3 935h0M550 1006.5h0M638 949.4h0M666.2 936.5h0M621.5 951.6h0M638.5 927.3h0M694.6 871.9h0M707 871.4h0M506.6 1002.2h0M643.6 945.5h0M603 956h0M550.9 1009.4h0M637.2 928.8h0M710 879h0M626.6 934.6h0M692.1 879.7h0M630.8 875.4h0M628.4 949.2h0M615.3 899.1h0M692.8 910.3h0M547.2 991.7h0M677.2 943.6h0M698.1 881.1h0M637.2 914.6h0M687 871.9h0M670.9 894.3h0M590.7 1008.2h0M629.7 963h0M682.3 922.8h0M659 886.2h0M513 1052.3h0M643.2 913h0M543.1 1067.3h0M652.1 945.6h0M623.5 941.6h0M553.5 1013.7h0M574.4 959.6h0M655 934h0M674.7 885.5h0M659.7 915.4h0M620.9 980.9h0M700.9 863.1h0M680 934.2h0M563.2 1052h0M529.2 1023.6h0M592.3 977.2h0M651.2 876.1h0M658.2 895.3h0M668.8 872.7h0M514.2 1029h0M630.1 921.3h0M596 962.8h0M545.3 1009.8h0M682.8 882.3h0M650.5 948.4h0M641.3 959.1h0M622.6 1060.4h0M649.4 942.4h0M618.4 1006.3h0M641 922.9h0M635 894.7h0M600.6 960.9h0M706.5 862.2h0M650.2 922.9h0M576.8 1037h0M628.6 968.6h0M660.1 991.9h0M507.8 1056.4h0M683.1 885.7h0M658.1 880.4h0M534.3 999.4h0M631.3 948.6h0M620.1 954.4h0M634.6 929.5h0M622.1 968.2h0M598.1 909.9h0M642.8 928.3h0M550.4 1003.9h0M633.7 979.3h0M678.9 915.9h0M636.7 923.7h0M662 900h0M674.4 924.4h0M545.1 1013.9h0M572.7 1059h0M643.2 940.5h0M691.4 868.3h0M620.7 933.3h0M681.4 870.2h0M652.4 906.2h0M707 881h0M609.9 1011.6h0M627.6 946.6h0M628.1 948h0M650.2 880h0M600.2 994.6h0M696.4 867.6h0M608 963.3h0M641.2 942.7h0M651.9 883h0M627.6 1071.4h0M694.6 885.6h0M647.1 951.5h0M662.5 915.7h0M659.8 1084.1h0M556.1 1009.4h0M610.7 945.7h0M574.8 992.3h0M640.3 876.2h0M656.2 947.8h0M679.3 882.8h0M682.1 888.9h0M629 938.7h0M644.2 893.6h0M668.6 900.9h0M595.6 956h0M654 930.2h0M675.8 885.9h0M637.2 933.6h0M629.1 947.2h0M688.5 873.8h0M656.6 880.5h0M633.6 947.6h0M695.7 884.4h0M700.2 892.8h0M561.7 1053.7h0M661.7 911.5h0M646.5 979.1h0M679.3 888h0M583.8 874h0M666.9 905.3h0M686.3 905.1h0M672.1 882.1h0M690 869.6h0M655.5 940h0M641.5 924.3h0M694.4 905.3h0M648.5 918h0M610.5 968.6h0M658 939.5h0M653.4 937.2h0M641.3 925.2h0M648.6 946.9h0M707.5 934.2h0M659.1 945.5h0M579.1 988h0M635.4 934.8h0M638.5 880.3h0M676.9 890.1h0M550.1 879.6h0M603.1 1003.5h0M630.1 924.1h0M626.4 913.6h0M643 920.3h0M616.7 935.3h0M570.7 997.3h0M626.8 941h0M679.4 906.5h0M653.7 917h0M629.2 921h0M664.5 888.1h0M603 954.7h0M632.9 916.7h0M700 900h0M578.1 987.5h0M710 882.4h0M544.7 1068.7h0M652.7 997.9h0M514.4 1052.9h0M708.3 866.6h0M689.7 912h0M612.2 958.6h0M594.8 975.4h0M633.6 925.4h0M645.6 949.3h0M591.1 1022.9h0M631.1 933.5h0M699.9 986.5h0M650.1 912.9h0M666.2 878.3h0M525.9 1087.3h0M606.1 993.9h0M632.5 973.9h0M633.9 950.5h0M680.1 913.6h0M604.8 982h0M694.5 901.2h0M642.3 922h0M688.9 893.4h0M665.4 942.7h0M634.7 1006.7h0M634.8 887.8h0M706.2 877.4h0M545.3 996.1h0M594.7 1005.2h0M567.3 912h0M643.2 910.5h0M705.5 864.4h0M701.5 865.3h0M592.5 1009.5h0M606.5 948.4h0M638.8 936.3h0M676 880.9h0M603.8 1025.8h0M655.5 925.1h0M556.3 1060.4h0M667.3 938.6h0M692.3 904.2h0M634 949.4h0M633.3 919.1h0M702.4 871.1h0M625 987.4h0M636.5 900.3h0M649.2 940.8h0M633.3 964.1h0M526.7 1086.8h0M668.5 899.8h0M530 956.5h0M712 880.7h0M545.9 1005.8h0M703.1 866.9h0M644.8 928.9h0M594.9 973.5h0M708.3 866.9h0M673.3 871.1h0M704.4 862h0M543.4 1084.5h0M658.1 901.9h0M521.5 1026.2h0M658.9 915.2h0M532.2 986.2h0M609.6 962.3h0M544.1 986.8h0M593.3 993.6h0M683.3 886h0M528.2 1039.6h0M628.3 945.6h0M681.7 886.7h0M622.2 940.1h0M657.3 931.9h0M596 1023.4h0M711 873.4h0M652.4 946.1h0M624.4 949.4h0M508.5 1051.3h0M609.3 960.9h0M671.7 919h0M705.2 862.2h0M535.9 1004.6h0M616 1053.7h0M624.8 968.6h0M706.4 884.8h0M645.4 919.9h0M584.7 938.4h0M579.7 1022.3h0M616.3 956.7h0M584 912.7h0M684.6 871.7h0M688.3 871.1h0M636.3 923.3h0M635.8 897.4h0M503.6 1063.8h0M665.5 899.9h0M601.5 996.5h0M559 890.4h0M658.8 873.4h0M609.3 965.4h0M673.1 895.7h0M623.7 968.8h0M682.3 871h0M669.3 924.7h0M536.9 1076.3h0M670.7 889.6h0M584.2 990.6h0M626.3 1077.4h0M598.5 970.6h0M685.3 891.3h0M628.6 909.2h0M660.2 887.3h0M572.5 962.5h0M625.2 948h0M702.4 892.1h0M654.3 911.9h0M667.8 956.5h0M685.8 975.3h0M666.7 915.7h0M576.2 912.9h0M703 870.5h0M683.2 869.5h0M651 912.5h0M641.1 929.3h0M672.5 885.5h0M504.3 1061.3h0M686 877.4h0M630.7 939h0M631.8 898.5h0M651.6 917.5h0M551.9 1063.4h0M684 908.3h0M700.6 879.2h0M659.5 899h0M607.3 947.1h0M564.4 995.3h0M692.3 898h0M641.4 918.4h0M611.8 976.3h0M571.8 985.1h0M672.8 906.6h0M675.8 961h0M594.5 1081.6h0M540.1 1016.3h0M641.9 914.7h0M640.2 945.9h0M674.8 877.1h0M685.3 890.7h0M609.2 924.7h0M545.2 1074h0M616.5 956.1h0M608.6 943.9h0M587.7 1046.6h0M570.2 993h0M703.1 863h0M597.5 971.5h0M673.1 869.6h0M513.6 1005.2h0M630.5 938.7h0M635.9 932.1h0M689.8 874.5h0M620.5 1086.4h0M702.8 893.4h0M669 917.8h0M609 939.1h0M696.8 864.1h0M595.7 1006.2h0M654.9 888.3h0M524.7 1031.6h0M591.9 1001.8h0M616.1 976.5h0M639.2 936.6h0M674.7 980.5h0M652.5 921.4h0M640.4 909.1h0M631 937.1h0M691.9 863.6h0M709 878.3h0M526.1 955.7h0M684.1 907.6h0M669.7 926.4h0M687.1 893.6h0M619.6 988.5h0M671 908.4h0M659.9 891.5h0M591.8 1006.8h0M599.3 1008.8h0M676.4 928.2h0M648 922.6h0M712.2 865.4h0M620 978.8h0M616.6 953.8h0M573.6 872.3h0M628.9 978.6h0M656.9 942h0M679.5 889.6h0M630.2 982.9h0M639.9 923.3h0M514.8 1050.4h0M569.3 1018.3h0M596.5 983.4h0M598.1 972.8h0M696.8 890h0M675.1 870.5h0M643.5 877.4h0M681.7 956.2h0M621.8 946.6h0M604 954.4h0M647.3 881.9h0M634.3 943.3h0M657.8 930.6h0M638.6 929.2h0M704.2 872h0M638.2 959.1h0M557.8 869.1h0M666.2 893.8h0M641.1 904.2h0M654.6 862.3h0M696.6 863.4h0M626.1 884.9h0M656.8 917.7h0M672 931.4h0M636 922.7h0M622.4 1009.7h0M615.2 916.8h0M694 874.4h0M670.7 893.9h0M562.6 981.5h0M686 909h0M690.6 886.7h0M663.6 909h0M693.2 886.5h0M658.2 904.1h0M682.2 887.6h0M629.8 920.4h0M571.2 994.8h0M686.6 884h0M560.9 1073.7h0M630.3 941.3h0M581.4 988h0M619.5 952.9h0M540.5 1078.4h0M633.5 965h0M563.9 1046.5h0M674.5 914.5h0M635.3 1041.7h0M659.4 901.8h0M648.2 893.4h0M706.1 890h0M628.5 1041.6h0M696.4 867.6h0M624.8 950.1h0M687 902.3h0M601.4 964.2h0M636.3 895.4h0M708.6 883.1h0M644.8 927.4h0M606.3 926.3h0M699.3 894.8h0M633.8 929.8h0M632.9 933.4h0M633.9 962.1h0M610.6 936.9h0M682 865h0M568.3 894.1h0M673.5 871.8h0M702.6 881.3h0M666.3 892.3h0M636 933.8h0M577.3 972.2h0M679.1 875.9h0M710.2 865.3h0M657.7 866.2h0M631.4 933.6h0M541.7 1017.3h0M673.7 910.5h0M551.7 990.3h0M576.4 1050.4h0M637.4 909h0M681.4 905.6h0M689.1 875.2h0M638.8 958.3h0M683.9 883.5h0M613.3 957.9h0M574.8 1061.7h0M574.6 1039.6h0M622.7 921h0M651.9 915.8h0M705.9 891h0M670.4 917.8h0M580.2 977.4h0M651 929.6h0M634.7 926.2h0M624.8 878.1h0M694.4 895.7h0M600.6 994.1h0M621.6 991.8h0M646.6 923.5h0M515.6 1048.7h0M673.2 939.6h0M527.2 1091.5h0M642.8 907.2h0M640.9 945h0M667.8 872h0M692.8 900.8h0M702.2 879.9h0M562.3 1052.9h0M664.2 916.2h0M695 864.5h0M637 916.9h0M642 902.3h0M574.9 1011.6h0M637.2 884.3h0M640.7 935h0M649.9 931.7h0M686.7 902.8h0M702.6 891.6h0M528 1027.1h0M562.4 1049.5h0M576.2 1023.4h0M687.1 877.3h0M604.8 931.7h0M572.8 1048.5h0M689.2 884.4h0M646.6 925.4h0M641.9 954.6h0M621.6 983.6h0M632.6 936.8h0M645.9 897h0M647.3 878h0M679.7 889.3h0M667.5 889.9h0M695.6 862.9h0M606.7 957.2h0M661.1 896.1h0M681.1 884.1h0M657.8 904.4h0M669.4 909.4h0M709.4 885.6h0M516.1 1043h0M658.5 929.7h0M549.1 1012.7h0M670.9 891h0M609.8 957.8h0M529.4 1012.7h0M673.5 888.3h0M662.5 926.8h0M638.8 959.5h0M661.3 930.9h0M665.5 880.8h0M655.2 906.6h0M700.7 863.1h0M598.8 966.7h0M687.8 882.4h0M639.9 920.3h0M603.9 966.8h0M507 1059.6h0M686.8 863.5h0M692 869.6h0M707.3 874.6h0M530.2 1032.6h0M617 1010.6h0M691.5 872.4h0M683.9 878h0M604.9 993.4h0M636.6 895.9h0M523.3 1029.6h0M653.3 910.2h0M529.4 1086.2h0M567 998.1h0M657.3 866.1h0M626.7 1034.4h0M667.5 911.7h0M602.1 919h0M614 953.9h0M634 939.7h0M690.4 894.6h0M573.4 1036.4h0M592.5 1002.2h0M583.6 984.3h0M614.6 955.5h0M679.4 932.6h0M639.8 912.1h0M522.9 1039.6h0M693.8 873.2h0M613.8 1004.3h0M639.7 968.2h0M505.6 977.4h0M706 934.4h0M637.8 960.1h0M684.6 872.5h0M681.6 903.3h0M594.4 984.4h0M685.2 904.6h0M707.9 933.8h0M667.9 948.4h0M602.3 963.6h0M690.2 889.9h0M530.1 1082.2h0M628.3 978.9h0M575.8 978.3h0M522.1 1034.9h0M516.3 1091.5h0M528.4 1032.9h0M592.5 963.3h0M630.6 1025.9h0M630.6 936.1h0M657.6 906.2h0M663.7 1082.8h0M651.1 887h0M708 928.1h0M648.9 940.5h0M679.9 885.2h0M646.1 895.4h0M682.7 907.6h0M704.9 883.7h0M637.5 951.9h0M659.9 921.5h0M675.9 880.8h0M697.1 894.9h0M619.2 965.4h0M672.7 876.1h0M576.6 894.5h0M699.6 872.2h0M683.8 910.6h0M569.3 993.9h0M685.7 876.7h0M506.2 1059.6h0M664.6 884.9h0M623.5 941.1h0M566.7 1000.2h0M688 882.8h0M635.9 917h0M567.7 1052.7h0M636.3 884.3h0M611.6 966.3h0M609.4 966.4h0M640.1 939.3h0M577.7 920.7h0M688.7 953.7h0M601.5 951.9h0M712 879.8h0M554.5 1003.3h0M622 972.3h0M625.3 912.4h0M674.1 864.3h0M620.7 950.9h0M679.5 895.9h0M688.7 871.4h0M665.6 882.6h0M703.1 861.7h0M660.1 932.5h0M708.4 904.1h0M658.6 927.2h0M710.7 879.6h0M639.3 896h0M637.8 918.3h0M702.3 873.8h0M632.3 906.9h0M543.6 972.2h0M673.1 893.1h0M521 1048.5h0M699.2 863h0M613.2 955h0M686.2 863.1h0M514.8 1047.4h0M571.4 991.3h0M637.6 911.4h0M650.1 904.1h0M616.3 980.6h0M564.4 1080.2h0M704.9 862.6h0M654.8 921.1h0M660.2 906.8h0M600.6 957.4h0M699.8 865.7h0M644 1004.8h0M560.3 922.2h0M692.5 885.1h0M616.1 937.1h0M685.4 871.9h0M687.1 863.4h0M637.3 957.5h0M701.2 877.3h0M630.8 939.5h0M634 941.4h0M655.9 887.6h0M671.5 957.3h0M638.1 1022.3h0M638.8 920.2h0M710.3 869.3h0M695.7 877.8h0M611.6 997h0M659.6 1086.4h0M703.2 887.5h0M691.4 872.9h0M587.7 984.6h0M698.7 916.5h0M688.7 900.9h0M690.3 889.5h0M711.9 875.4h0M705.3 879.7h0M688.5 909.7h0M529.6 1087h0M611.9 952.9h0M583.2 1019.7h0M631.3 933.5h0M696.7 883.1h0M632 911.8h0M636.8 915.5h0M599.4 971.8h0M521 983.2h0M613.4 924h0M643.1 884.1h0M652.3 884.7h0M532.7 1030.2h0M694.7 881.7h0M698.5 877h0M711.7 862.9h0M672.6 906.1h0M627 923.8h0M629 983.4h0M622.4 952.1h0M621.9 939h0M678.3 896.4h0M671.7 874.5h0M622.9 956.7h0M698.8 954.7h0M673 900.5h0M692.9 888.3h0M678.5 890.9h0M648 1049.3h0M686.8 880.9h0M627.5 1085.9h0M564.5 981.8h0M710.5 864.2h0M609.4 941.2h0M677.2 898.4h0M602.1 965.5h0M599.7 962.6h0M524.9 1087.2h0M648.5 877.9h0M672.9 904.1h0M643.8 878.3h0M660.6 928.9h0M637.4 925.5h0M663.7 903.9h0M591.9 982.2h0M679.4 906.4h0M555.5 1002.4h0M524.2 894.9h0M605.8 943.2h0M610.6 1023.1h0M643.4 921.1h0M523.8 1039.5h0M654.3 981.2h0M545.5 1016.3h0M617.4 939.1h0M582.8 1015.5h0M622 971.4h0M649.7 883h0M675.6 886.4h0M607.9 990.4h0M587.7 975.9h0M644.6 863.4h0M705.9 873.2h0M507.3 1044.5h0M679 926.2h0M633.8 952.7h0M631.8 909.3h0M536.6 1016.2h0M619.8 926.1h0M552 1008.6h0M580.4 1024h0M662.6 878.5h0M706.5 876.7h0M647 917.3h0M553.4 1060h0M625.6 987.1h0M681.3 905h0M659.2 874.1h0M640.8 946.2h0M658.3 1082.4h0M589.2 1017h0M642.1 932.8h0M684.9 875.1h0M709.8 881.3h0M592.6 1004.7h0M664.7 897.2h0M633.8 944.8h0M703.3 862.3h0M622.3 955.1h0M547.7 1063.8h0M629.2 943.7h0M681.9 896.5h0M626.8 939.9h0M611.3 935.9h0M688.5 913.7h0M691.2 867.4h0M613.5 937.2h0M589.1 1077.5h0M628.6 942.7h0M698.2 861.6h0M603.8 985.8h0M625 943.7h0M576.2 1042.3h0M660.7 917.9h0M695.9 866.1h0M655.3 890.2h0M701.9 921.3h0M614.2 941.2h0M673.5 921.5h0M617.7 942.2h0M577.3 1010.3h0M586.4 961.2h0M694.2 905h0M688.2 874h0M711.1 863.2h0M675.6 895.8h0M616.3 976.4h0M680.1 879.5h0M658.2 875.5h0M641.8 921h0M685.1 897.7h0M639.7 960h0M691.9 877.5h0M639.9 928.5h0M696.3 873.3h0M665 909.8h0M561.5 1003.3h0M570.9 1014.9h0M542.2 1072h0M666.7 951.1h0M658.3 903.5h0M665 888.5h0M633.6 962.9h0M570.7 934.3h0M560.4 1046.2h0M693.8 871.3h0M622.2 1039.6h0M580.3 1017.3h0M703.3 863.9h0M520.6 1034.2h0M635.8 873.1h0M619.2 1035.2h0M549.7 1008.6h0M568.8 877.4h0M517.4 1035.3h0M654.2 977.1h0M606.4 948.5h0M635.5 918h0M624.5 975.7h0M650.5 896.8h0M675.3 928h0M625.9 943.5h0M603.6 952.7h0M626.8 868h0M525.7 1028.7h0M611.4 962.8h0M627.1 944.1h0M674.2 898h0M642.3 893.3h0M692.8 906.7h0M618.5 938.6h0M601.9 1041.9h0M537.6 1075.8h0M631 911.6h0M631.1 936.4h0M540.3 1071.2h0M683.4 874.8h0M613 982.9h0M622.4 968.5h0M643.5 916.1h0M649.5 911.5h0M518.7 1051.9h0M612.2 992.7h0M685.3 876.9h0M630.2 920.3h0M627.5 940.6h0M520.8 1092.2h0M690.1 954h0M593.3 883.7h0M617.5 1010.9h0M689.2 881.5h0M680.2 923.2h0M696.7 883h0M545.1 1070.5h0M662 884h0M628.3 943.9h0M515 953.9h0M697.1 886.3h0M705.7 863.5h0M640.4 953h0M596.5 962.8h0M670.2 914.4h0M638.5 882h0M700.2 885.7h0M660.7 920.2h0M629.2 992.3h0M585.3 996.3h0M653.9 929.9h0M637.8 959.6h0M599.2 962h0M708.7 873.7h0M655.9 929.9h0M582.5 1019.6h0M692.6 867.3h0M518.7 970.1h0M621.5 948.6h0M681.2 896.6h0M621.9 947.7h0M583.5 1035.2h0M600.6 968.1h0M652.4 901.7h0M635.3 940.8h0M541.5 1026.1h0M601.6 995.7h0M633.8 940.5h0M691 867.2h0M667.6 914.1h0M618.7 996.8h0M534.3 1078.9h0M698.5 870.7h0M672.5 898.7h0M638.1 936.9h0M651.4 920.6h0M556.5 1004.6h0M648.7 912.9h0M681.8 882.2h0M614.5 949h0M639.9 944.5h0M530.3 929h0M648.7 1010.3h0M682.7 916.7h0M661.3 950h0M519.5 1036.7h0M699.9 892.9h0M634 931.6h0M648.8 910.6h0M673.3 880.8h0M653 925.5h0M692.4 899.4h0M646.7 892.2h0M546.7 928.8h0M666.7 895.4h0M523.1 1092.5h0M655 875.4h0M658.3 954.9h0M701.9 927.5h0M699 882.8h0M649.2 932.5h0M698.8 863.4h0M628.5 928.2h0M660 897.7h0M685.9 879.4h0M614.8 1053.7h0M645 891.5h0M652.6 875.6h0M638.1 934.4h0M663.7 1022.6h0M599.3 965.1h0M691.8 869.2h0M651.3 966.8h0M627.9 1000.4h0M671.5 949.4h0M635.9 989.2h0M593.6 988.1h0M610.8 1020.9h0M691.7 903.9h0M663.5 921.5h0M562.3 963.8h0M657.9 914.1h0M548.1 1008.6h0M681.6 872.7h0M686.2 916.1h0M600.4 952.3h0M661.2 962.3h0M641.4 947.1h0M613.6 956.1h0M702.7 863.4h0M651.9 944.4h0M545 923.7h0M639.3 935.4h0M693.9 966.5h0M632 913.3h0M675.9 940.2h0M590.8 1010.3h0M693.5 963.1h0M649.5 922.7h0M666.6 888.6h0M675.2 863.8h0M634 897.8h0M593.9 975.9h0M611.3 956.8h0M524.6 899.4h0M630.8 895h0M593.1 863.1h0M625.4 936.8h0M666.7 926.2h0M662.6 907.7h0M594.5 1047.8h0M575.8 993.6h0M693.8 890.7h0M669.5 927.1h0" stroke="#1f77b4" stroke-opacity="0.62" stroke-width="3.8" stroke-linecap="round" fill="none"/>
<path d="M594.4 973.8h0M585.3 988.4h0M648.7 958.9h0M523.6 1014.4h0M653.2 914h0M608.7 948.6h0M687.7 908.3h0M632.8 969.4h0M665.4 916.4h0M702.4 866.3h0M657.9 893.1h0M641.2 922.2h0M710.6 869.6h0M643.7 916.4h0M638.8 910.8h0M669.3 925.4h0M589.1 1038.7h0M601.6 970.2h0M685.7 960.9h0M687.8 908.4h0M607.4 967.3h0M670.9 910.2h0M539.2 1023.8h0M682.9 919.6h0M589.9 1010.5h0M632.1 923.7h0M541.3 1084.4h0M592.4 963.6h0M666 905.2h0M687.9 917.8h0M667.4 904.3h0M692.6 885.7h0M635.3 893.4h0M632.7 898.8h0M686.5 906.7h0M529.7 973.3h0M708.9 869.7h0M708.6 916.9h0M607.7 954.4h0M702.2 862.6h0M687.3 890.2h0M512.5 942.5h0M638.7 972.7h0M635.6 959.6h0M687.3 868h0M710.4 866h0M644.3 945.7h0M633.6 949.7h0M681.1 862.3h0M702.7 863h0M689.7 879.7h0M507.4 1091.2h0M508.2 948.7h0M552.9 1083.6h0M647.4 929.6h0M653.7 948h0M624.3 968.2h0M650.5 931.2h0M654.9 931.3h0M690.9 913.8h0M591.1 982.6h0M601.4 967.1h0M512.8 1052.8h0M627.6 995.6h0M668.8 892h0M698.9 895.7h0M570.4 997.8h0M665 898.8h0M623.6 951.4h0M661.1 904.3h0M580.6 966.1h0M690.1 904.7h0M607.1 956.6h0M568.7 1035.3h0M597.4 967.6h0M682.3 898.3h0M590.9 976.7h0M705.2 876.7h0M642.3 931.7h0M577 1038.5h0M539.1 1024.7h0M673.1 912.2h0M664.7 911.6h0M607.8 869.1h0M676.3 867.6h0M641 958.3h0M643.5 939.5h0M705.9 937.4h0M669.5 900.1h0M636.9 935.9h0M659 874.1h0M619.3 951h0M664 918.6h0M681.3 881.1h0M648.3 1025.4h0M672.9 926.3h0M636.3 912.8h0M678.5 881.6h0M622.8 1086.1h0M672.1 892.3h0M695.4 892.4h0M652.8 930.1h0M660.5 880.8h0M694.3 878.4h0M678.4 890.9h0M641.1 907.2h0M633.1 928.3h0M633.2 1006h0M514.8 1050.2h0M522.4 1089.7h0M644.8 915.3h0M584.2 1017.8h0M520.3 1035.8h0M701.7 881.3h0M613.1 983.4h0M682.2 888.5h0M520.7 980.9h0M637.8 928.4h0M587.2 1012.9h0M676.5 911.4h0M663.2 919h0M687.5 923.3h0M639.2 884.6h0M696.1 881.7h0M671 880h0M667.6 870.4h0M621.3 929.9h0M634.5 1001.4h0M607.5 999.5h0M561.9 1045.7h0M666.7 886.9h0M529.4 1081.6h0M673.5 875.4h0M513.7 997.5h0M580.2 980.1h0M508.1 971.6h0M544.1 1075.9h0M628.8 1086.2h0M666.7 962.7h0M620.4 954.8h0M613.7 1043.7h0M659.6 1084.7h0M528.1 996.8h0M536.1 1084h0M537.7 1081.2h0M674.8 910.7h0M595.4 976.3h0M638.9 940h0M706.3 879.6h0M615.7 979.7h0M603.5 988.2h0M547.8 935.2h0M683.4 892.1h0M688.9 900h0M654.1 918.8h0M552.1 1078.9h0M535.3 1032.7h0M592.5 1023.9h0M663.6 919.4h0M654.8 898.8h0M620.4 970.7h0M514.6 1011.1h0M688.2 879.9h0M545.7 872.5h0M695.5 893.2h0M589.5 969.5h0M592 1030.1h0M607.9 934.6h0M594.2 978.2h0M637.8 927h0M682.9 915.6h0M648.1 966.8h0M688 881.5h0M675.5 930h0M694.1 878.6h0M652.9 888.6h0M633.3 910.9h0M656.5 940.5h0M616.4 998.1h0M704.9 876.6h0M707.8 900.9h0M528.7 1024.4h0M549.9 1009.1h0M652.2 930.6h0M624.9 965h0M707.2 877.9h0M634.5 958.4h0M667 929.3h0M643.2 913.4h0M692.2 877.8h0M667.6 900h0M658.4 927h0M546.5 1079.3h0M630.5 923.2h0M689.2 866.9h0M684.6 883.5h0M692.3 870.7h0M632.7 938.5h0M673.4 886.1h0M656.1 1085.9h0M704.6 862.5h0M630.5 904.4h0M629.8 906.7h0M646.8 932.4h0M646.8 925.2h0M637.1 915h0M690.7 864.6h0M697.2 902.6h0M657.1 873.4h0M542.2 1075.7h0M667.6 921.2h0M708.8 877.7h0M632.7 919.9h0M701.7 866.9h0M641.5 927.1h0M654.8 962.8h0M573.5 979.3h0M604.6 986.9h0M655.6 903.3h0M539.1 1081.2h0M665.4 919.3h0M701.5 863.8h0M678.4 903.3h0M627 936.2h0M634.7 921.2h0M588 1014.8h0M545.8 984.1h0M594 1003h0M692.8 891.2h0M528.9 1085.4h0M704.7 878.7h0M702 884.2h0M528.3 1087.1h0M673.1 884.9h0M586.8 893.9h0M614.8 953.1h0M630.3 907.6h0M516 1047.1h0M658.7 892.6h0M632.7 902.1h0M690.9 884.5h0M660.3 1012.9h0M704.6 917h0M658.6 931.7h0M705.9 869.2h0M682.8 912.2h0M559.3 1063.7h0M671 910.5h0M587.6 1048.3h0M553.4 1014h0M623.8 942.7h0M578.8 896.6h0M634.1 946.2h0M646.7 943.8h0M529.7 1032.1h0M649.2 894.8h0M636.7 958.2h0M627.7 994.2h0M688 874.6h0M710.4 882.5h0M678.8 918.8h0M663.3 901.7h0M706.9 879.8h0M668.9 889.5h0M694 867.8h0M634.5 973h0M568 992.2h0M623.6 1072.1h0M646.8 906.2h0M657 918.4h0M709 863h0M675 907.1h0M552.7 1089.3h0M515.9 1031.4h0M651.1 894.8h0M541.3 1017.6h0M614.9 978.5h0M696.9 887.7h0M704.7 863.2h0M648.8 920.4h0M676 879.6h0M637.5 903.9h0M594.7 869.5h0M674 915.5h0M641.7 936.5h0M700.6 873.6h0M601.3 961.6h0M700.6 894.3h0M657 957.9h0M686.3 862.7h0M561.2 1001.7h0M680.6 897.1h0M640.7 952.6h0M687.3 881.5h0M606 963.7h0M631.6 923.2h0M693.7 939.4h0M647.5 911.6h0M598.9 1006.4h0M686.6 905.5h0M543.6 1002.6h0M679.9 880.7h0M628.9 938.1h0M656 913.8h0M575.2 967.3h0M640.9 979h0M692 873.2h0M648.1 889.3h0M593.6 961.4h0M664.6 906.4h0M621 952.4h0M662.8 923.8h0M706.8 867h0M630.6 938.9h0M669 870.3h0M534.5 1024.3h0M698.4 866.1h0M659.6 903.7h0M575 971.8h0M656.4 936h0M565.3 1003.4h0M704.6 891.3h0M506.8 1048.3h0M542.1 1079.5h0M664.6 899.1h0M698.9 878.2h0M656.7 910.9h0M620.2 927.6h0M599.4 968.8h0M695.9 906.8h0M656.9 938.1h0M597.2 975h0M683.1 874.9h0M702.1 882.3h0M638.3 955.3h0M642.3 892.2h0M630.2 896.6h0M623.4 1037.1h0M690.4 878.8h0M540.7 1009.8h0M597.3 980.3h0M676.1 904.4h0M538.9 1079.9h0M647.8 947.3h0M521.8 1041.5h0M643.7 924.1h0M514.9 1049.6h0M621.6 1016.4h0M640.7 1051h0M525.5 1087h0M637.6 929.7h0M633.3 921.2h0M595.5 968.3h0M638.5 973.6h0M620.7 919.7h0M683.9 885.7h0M629.7 904.7h0M638.8 972.9h0M649.4 947h0M576 983.1h0M685.9 891.8h0M626.9 944.4h0M626.4 958.6h0M668.2 905.7h0M703.3 863.6h0M643.7 887.3h0M586.4 1017.2h0M511.6 971.1h0M705.3 876.9h0M701.5 886.4h0M688.2 872.9h0M686 868.3h0M682.3 885.1h0M630.6 938.5h0M677.4 880.3h0M663.4 897.7h0M683.1 880.2h0M683 880.5h0M696.6 903.9h0M622.6 982.9h0M613.7 978.4h0M611.3 928.3h0M649.8 895.4h0M689.2 888.5h0M614.9 956.9h0M609.4 1016.5h0M633.4 921.4h0M632.9 922.4h0M526.5 1086.3h0M643.7 892.6h0M663.3 952.5h0M681.8 920h0M657.9 941.3h0M592.2 977h0M699.2 863h0M648.5 960.1h0M626.5 942.4h0M663.7 865.8h0M651.6 942.9h0M630.4 925.5h0M615.5 977.9h0M669.1 921.9h0M552.1 882.4h0M513 1050.7h0M628.2 924.6h0M600 975.7h0M668.8 917.3h0M550.5 1063.6h0M644.2 941.5h0M640.7 930h0M706.5 874.1h0M631.1 912.4h0M643.8 948.4h0M698.1 868h0M646.9 919.4h0M625.6 1062.2h0M529.3 1009.5h0M688.4 880.9h0M650.3 957.1h0M665.2 863.3h0M634.5 954.5h0M528.4 980.5h0M689 950h0M680.3 879h0M629.9 919.4h0M712 874.8h0M649.5 925.2h0M692 864.7h0M679.7 930.4h0M670.9 883.7h0M644.1 926.4h0M635.9 957.9h0M552.6 1007.8h0M664.5 899.9h0M660.9 886.8h0M629.7 931.3h0M526.1 977.8h0M641 970.2h0M678.1 932h0M698.5 869.6h0M553.1 1011.4h0M669.2 902.1h0M654.3 907h0M698.3 895h0M626.5 969.7h0M588.7 981.6h0M656.3 919.2h0M696 873.3h0M525.1 1089.6h0M635.1 945.2h0M551.3 1085.6h0M646.1 869.9h0M535.8 1015.4h0M674.2 931.6h0M660.8 909.7h0M525.1 1019h0M673.4 871.7h0M623.7 948.5h0M592.5 959.4h0M647 948.7h0M671.6 932.1h0M623.1 973.2h0M512.1 1051.7h0M705.5 862.3h0M623.9 951.2h0M648.4 943h0M588.7 981.6h0M606.9 957.9h0M651.1 905.7h0M561.9 949.1h0M639.5 956.6h0M523.2 913.2h0M633.5 941.2h0M698.1 870.2h0M700 863.7h0M641 884.1h0M682 867.2h0M623.3 879.5h0M694.4 887.3h0M608.4 882.5h0M640.6 954.3h0M658.7 905h0M676.7 896.1h0M516.5 977.4h0M688.1 877.9h0M655.7 925.6h0M660 910.7h0M636.1 930.9h0M656.8 873.1h0M630.5 924.2h0M581.2 934.3h0M633.4 955.4h0M696.9 873.7h0M655.7 929.3h0M690.6 870.9h0M677.7 884.3h0M692.7 863.5h0M625.5 938.5h0M658.1 1080h0M569.1 1058.9h0M683.1 880.7h0M630.3 908.8h0M553.5 1011.2h0M657 920.5h0M673 885.1h0M669.8 913.6h0M602.7 966.5h0M706.9 880.8h0M692.7 888.9h0M653.7 913h0M658.1 907.8h0M552.7 1064.3h0M542.8 1070.6h0M667.2 868.6h0M651 921.5h0M511.9 1090.3h0M621.5 922.9h0M699.5 867.6h0M583.2 1075.8h0M666.7 921.5h0M604.9 996.2h0M591.8 985.5h0M585.7 1027.8h0M648.1 891.4h0M710.4 885h0M652.7 923.8h0M672.6 923.9h0M702.5 886h0M575.5 1005.7h0M630.9 952.5h0M701.8 935h0M654 914.3h0M681.6 897.9h0M687.2 901.3h0M557.1 1002.3h0M677.5 884.6h0M582.6 1026.2h0M668.8 896.9h0M664 876.6h0M672.5 976.1h0M657.2 913.1h0M647.8 942h0M558.9 1077.8h0M644 948.6h0M709.5 894.4h0M620.5 948.1h0M541.3 1079.5h0M622.2 947.2h0M700 869.7h0M678.6 899.4h0M572.7 1027.3h0M523.1 975.3h0M613.1 939.8h0M548.5 889.1h0M661.5 924.5h0M688.4 941.7h0M665.6 901.7h0M632.2 938.6h0M690.9 882h0M601.1 1029.8h0M581.1 1027.1h0M605.4 1007.4h0M572.5 987.1h0M562.5 997h0M577.4 989.5h0M649.6 930.6h0M597.9 1009.8h0M529.4 1033.1h0M662.9 915.1h0M652.7 920.2h0M626.1 912h0M575.1 1031.5h0M620.1 973.8h0M627.1 1032.5h0M635.6 958.3h0M658.9 912.3h0M626.4 940.4h0M592.4 984.6h0M681.5 951.4h0M672 873.8h0M631.1 906.7h0M534.6 1077.3h0M634.2 896.9h0M657.3 881.5h0M685.3 902.9h0M654.5 872.6h0M619.6 986.2h0M589.1 882.1h0M641.2 966.2h0M634.9 917.3h0M596.7 1046.8h0M665.1 872.7h0M639.3 982.1h0M641.1 940.1h0M648.2 891.9h0M581.8 1019.4h0M665.7 907.6h0M580.2 954.9h0M640.4 974.5h0M697.9 890.3h0M621.6 942.8h0M700.5 882.9h0M693.1 948.9h0M618.6 945.3h0M705.5 884.1h0M645.9 934.2h0M648.1 915.7h0M697.1 875.6h0M633.3 923.7h0M592 961.5h0M629.6 927.6h0M645.3 1026.2h0M649.3 911.7h0M593.6 1072.4h0M643.9 915.3h0M594.3 983.9h0M637.5 1023.2h0M685.6 876.9h0M684.7 890.6h0M604 1002.3h0M651.2 924.8h0M651.2 928.7h0M686.5 882h0M631.3 922.3h0M688.4 864.2h0M707.6 883.3h0M558 1049.8h0M554 1007.9h0M602.4 963.9h0M575.3 1020.1h0M528.5 1037.9h0M630.4 939.5h0M642.2 936.6h0M612.5 984.2h0M628.3 911.5h0M586.9 974.2h0M524.5 1044.5h0M704.1 862.1h0M673 892.8h0M594.5 975.2h0M613.7 957.8h0M681.7 895h0M694.8 869h0M509.2 964.8h0M587.9 1026.4h0M683.5 871.3h0M637.9 937.6h0M564 1052.2h0M586.6 983.7h0M663.5 922.1h0M600.4 1039h0M622.5 998.3h0M594.1 1004.2h0M689.9 869h0M573.7 993h0M583.7 903.6h0M609.6 964.1h0M647.3 918.3h0M638.4 976.6h0M688.6 882.4h0M692.2 877.8h0M616.6 951.5h0M666.1 873.3h0M665 892.6h0M644.4 873.9h0M688.1 882.1h0M676.8 867h0M686.7 882.6h0M517.8 1043.5h0M613.3 1017.9h0M697.4 869.6h0M549.2 1011.7h0M529.5 1088.8h0M695.5 867.7h0M652.3 920.2h0M639.2 923.7h0M685.1 910.2h0M582.6 991.7h0M610.8 953.9h0M652.7 872.6h0M696.2 861.7h0M627.9 922.1h0M575.1 1024.4h0M683.1 862.3h0M687.5 891.8h0M623.4 998.2h0M659.6 900.1h0M635.3 960.1h0M676.2 868.6h0M699.7 864.8h0M694 909.6h0M674.6 921.2h0M675.3 900.5h0M632.4 940.7h0M658.3 910.2h0M705 862.1h0M570.7 932h0M670 893.5h0M667 948.4h0M691.1 899h0M528.4 1037.9h0M584.7 971.9h0M659.4 935.5h0M640.5 912.8h0M630.3 904.5h0M708.1 872.2h0M702.8 891.9h0M619.7 989.7h0M694.3 870.8h0M622.5 955.5h0M669.8 911.9h0M661 928.7h0M704.2 871.9h0M537.5 972.6h0M647.9 925h0M670.1 915.4h0M631.6 923.8h0M691.5 883.6h0M663 914.5h0M702.2 884.6h0M641.6 964.6h0M666.5 1002.7h0M684.6 868.4h0M599.2 994.6h0M563.5 1048.3h0M690.2 881.6h0M680 971.2h0M675 891h0M646.4 914.1h0M674.4 887.8h0M682.4 936.1h0M646.1 938.5h0M698.2 869.9h0M695.7 872.7h0M667.4 889.7h0M628 961h0M660 905.9h0M569.5 1013.7h0M701 876.4h0M510.8 1024.1h0M538.7 1081.1h0M605.7 957h0M598.9 1016.1h0M671.9 885.5h0M632.8 932.7h0M629.3 901.7h0M665 1036.7h0M703.2 894h0M708.8 912.8h0M658.9 902.8h0M643.4 923.3h0M688.2 901.9h0M677.6 913.5h0M543.9 1000.6h0M588.3 978.2h0M612.1 958.6h0M679.6 891.8h0M703.2 864.3h0M557 1001.6h0M599.7 1001.2h0M701.6 864.7h0M606.6 963.8h0M645 886.4h0M644.1 939.1h0M630.7 964.2h0M648.9 916.7h0M596.1 996.9h0M678.3 896.4h0M618.4 896.2h0M572.1 1055.6h0M618.5 943.5h0M658.6 886.9h0M540.3 1009.1h0M678.3 867.5h0M528.2 891.9h0M633.3 944.8h0M657.1 902.3h0M640.9 943.3h0M639.5 918.1h0M680.9 873.1h0M634.3 969.3h0M640.1 928h0M627.3 975.8h0M678 877.7h0M667.9 900.3h0M515.3 1052.5h0M699.5 878.2h0M572.6 945.8h0M593.5 983.5h0M587.8 984.8h0M648.8 912.9h0M644.8 942.7h0M688 897h0M626.1 945.1h0M570.5 878.9h0M686.1 888.2h0M656.8 910h0M648.1 975.9h0M634.5 937.2h0M551 1064.9h0M523.1 917.9h0M701.8 870.3h0M543.9 1066.3h0M675.5 893.4h0M694 867h0M656 937h0M709.3 871.7h0M637.7 906.4h0M695.2 869h0M659 879.3h0M677.6 917.6h0M672.9 877.7h0M626 941.1h0M661.5 911.4h0M690.1 921.1h0M599.7 894.7h0M559.3 1001.7h0M679.9 889.7h0M634.8 929.7h0M646.6 949.5h0M603.2 969.7h0M590 906.9h0M627.1 944.7h0M601.2 985.1h0M668.8 908.4h0M658.7 900.4h0M628.5 910.9h0M703.8 862.2h0M676.3 878.2h0M539.8 1072.9h0M530.6 1033.2h0M658.6 939h0M656.8 1086h0M608.4 962.8h0M651.7 913.9h0M636.6 1050.8h0M609.8 973.1h0M690.8 891.5h0M541.5 1075.4h0M695.3 868.9h0M641.7 919.2h0M659.3 909.6h0M610.5 961.2h0M651.8 925.4h0M654.1 908.2h0M587.7 954.2h0M676.7 942.7h0M539.1 1081.4h0M530.1 906.4h0M635.1 893.7h0M661.9 872.2h0M610.9 936.1h0M605.4 1055h0M706.3 873.3h0M619 984.2h0M628.5 982h0M690.3 864.2h0M669.5 925.7h0M585 939.1h0M588.5 1021.7h0M679.4 899.3h0M634.3 893.2h0M569.9 968.4h0M687.6 876.2h0M657.9 1081h0M651.9 892.4h0M596.4 971.8h0M601.8 961.2h0M631.6 939.8h0M651.1 887.3h0M698.8 889.1h0M683.1 905.3h0M692.6 879.4h0M634.4 998.6h0M606.4 1009.1h0M651.3 939.6h0M530.3 935.2h0M592.2 1028.7h0M708.7 886h0M630.1 932.3h0M628 960.2h0M596.5 956.1h0M684.4 883.9h0M638.2 925.6h0M646.2 949.1h0M665.9 895h0M694.8 871.2h0M656.2 917.4h0M701.2 883.7h0M641.1 942.2h0M693.9 892.9h0M615.7 953.1h0M660.9 879.4h0M601.5 992.8h0M504.2 1058.1h0M565.9 1002h0M696.8 868.1h0M629.5 1002.4h0M580.5 1017.3h0M686.2 873.2h0M710.8 871.6h0M695.8 948.8h0M671.6 919.9h0M627.2 959.7h0M630.6 969.7h0M621.9 938.8h0M614.8 1009.5h0M593.8 1004.2h0M634.5 897.8h0M532.4 947.1h0M574.4 1035.2h0M512.8 1050.2h0M664.1 906.4h0M684.3 884.8h0M634.6 900h0M669 893.1h0M632 925h0M637.9 927.1h0M538.9 1025.4h0M545.7 1064.7h0M682.9 879.6h0M650.2 879.2h0M622.3 1009.4h0M643.8 922.1h0M707 872.2h0M658.5 914.5h0M629.3 943.9h0M689.9 879.5h0M647.6 949h0M684.6 912.3h0M605.9 964.3h0M603.8 995.6h0M643.4 960.1h0M623.1 948.6h0M648.2 950.2h0M635.5 954.5h0M623.4 947.2h0M576.5 972h0M661 888.5h0M678.5 907.1h0M693.3 894.4h0M646.2 932.5h0M647.2 950.6h0M663 905.8h0M612.4 938h0M644.3 934.9h0M623.6 967.2h0M646.6 941h0M592.3 1010.7h0M603.6 958.8h0M645.6 882.7h0M539.7 1072.2h0M587 1000.9h0M602.8 1027.6h0M612.5 1007.3h0M654.3 908h0M644.4 972.3h0M692.4 880.5h0M672.3 868.4h0M606.6 948h0M608.1 961.6h0M641.4 919.5h0M652.7 975.2h0M621.9 969.8h0M557.9 1010.2h0M544.9 1018.2h0M683.8 921.1h0M639.9 1069.9h0M513.3 1047.7h0M605.4 968.3h0M660.8 927.3h0M703.6 872.4h0M654.3 907.8h0M703.2 864.8h0M646.5 927.8h0M641.3 904.3h0M560.3 1057.7h0M662.3 914.7h0M641.7 939h0M658.4 889.6h0M671.2 909.9h0M606.8 942.7h0M551.8 1067h0M657.6 924.6h0M685.6 878.2h0M615.5 959.2h0M636.1 901.3h0M620.9 950.9h0M667.3 912.8h0M674 909.5h0M691.5 890.7h0M683 890.7h0M617.2 951.7h0M637 957.7h0M539.9 984.9h0M555.3 967.6h0M638.8 917.8h0M616.3 943h0M653.1 920.2h0M596.2 977.6h0M596.7 1004.6h0M633.9 925.8h0M682.8 907.7h0M706.1 862.9h0M618.3 953.7h0M616.2 976.8h0M683.7 882.9h0M690.9 865.9h0M698 866.9h0M685.1 871.7h0M622.7 970.4h0M629.3 961.2h0M698.1 866.4h0M620.4 999.6h0M609.1 963.4h0M698.7 871.5h0M706.9 872h0M620.9 951h0M596 970.2h0M627.9 938h0M694.6 891.7h0M701.8 871.2h0M656 917.8h0M583.9 1032.3h0M543.1 944h0M614.9 980.6h0M652.4 863.8h0M639.1 948h0M688.9 931.1h0M570 1035.7h0M686.9 872h0M667.8 949.1h0M577.2 995.4h0M666.7 912.7h0M654.9 873.6h0M652.3 1009.8h0M627.1 944.7h0M641.4 922.5h0M702.8 863.3h0M649.9 974.6h0M641.9 925h0M594.6 1050.1h0M700.2 883h0M673.8 885.9h0M683.1 867.7h0M684.9 876.5h0M710.3 874.1h0M629.2 956.4h0M699.7 897.4h0M628.8 919.8h0M698.1 895.6h0M678.2 871.4h0M579.6 992.3h0M579.2 1021.7h0M603.4 964.3h0M632.3 911.8h0M703.2 890.7h0M625.6 922.2h0M688.3 882.1h0M684.4 901h0M650.4 961.5h0M610.6 985.7h0M659.6 873.2h0M678 916.6h0M692 898.9h0M635.4 921.9h0M703.7 863h0M662.2 926h0M660.8 921.5h0M509.8 1059h0M616.8 962.7h0M690.1 862.2h0M661.2 934.5h0M580.6 970.3h0M590.6 1009.1h0M647.3 921.8h0M663.5 927h0M694.5 876.7h0M639.7 955.3h0M636.6 928.9h0M660.8 925.5h0M507.2 1041.2h0M631.1 919.8h0M710.7 881.3h0M628.8 981.6h0M623 1010.8h0M644.6 886.4h0M692.7 869.7h0M671.8 890.5h0M669.2 867.4h0M620.7 950.9h0M665 901.8h0M700.5 941.3h0M669.9 893.2h0M644.7 976.8h0M698.3 899h0M654.8 886.9h0M607.2 1000.6h0M608.2 963.6h0M654.7 918.8h0M651 932.2h0M710.8 877h0M659.5 906.5h0M661.6 927.7h0M658.6 907.2h0M630.4 1022.4h0M653.9 981.7h0M640.3 967.6h0M577.5 1024.7h0M523.4 1038.4h0M651.6 900.3h0M605.6 948h0M683.6 865.5h0M656.6 891.3h0M590.6 1002.8h0M615.9 933.2h0M684.3 910.7h0M697.3 878h0M568.7 997.4h0M686.1 897.6h0M693.5 867.5h0M678 870.7h0M579.1 1077.4h0M701 863.2h0M698.1 868.9h0M658.7 1082.9h0M646.1 939.1h0M702.7 866.6h0M637 887.4h0M697.2 863.5h0M643.3 931.7h0M696 901.6h0M647.6 949.2h0M589.5 982.7h0M688 869.9h0M603.5 949.9h0M658.7 871.2h0M626.7 944.9h0M504.8 989.5h0M684.7 878.3h0M619.4 963.3h0M612.2 955.9h0M696.3 887.7h0M643.9 909.4h0M617.9 924.6h0M635.2 911.8h0M584.5 986.5h0M551.4 971.7h0M666.8 981.6h0M604.8 894h0M695.2 897.3h0M705 869.1h0M692.4 863.5h0M651.3 925.1h0M677.9 912.2h0M694 888.9h0M697.9 874.7h0M641.8 928.8h0M565.2 976.1h0M621.5 1001.7h0M670.6 902.2h0M671.3 874h0M558.6 908.4h0M649.8 935.3h0M661.6 928.1h0M605.9 932.7h0M593.2 973.2h0M700.5 865.7h0M638.5 951.6h0M622.6 989.7h0M705.8 863h0M694.8 892.7h0M700.7 864.8h0M666.4 917.7h0M613.4 1020.4h0M677.2 889h0M649.2 913.1h0M601.5 947.4h0M634.8 960.7h0M673.5 876.1h0M603.5 963.8h0M600.7 956.5h0M545.3 1020h0M634.2 872.2h0M635.5 1022.3h0M553.5 1071.9h0" stroke="#1f77b4" stroke-opacity="0.62" stroke-width="3.8" stroke-linecap="round" fill="none"/>
<path d="M622 943.6h0M509.8 1046.8h0M702.7 862h0M688.5 878.8h0M692.8 898.6h0M635.3 1020.4h0M556.8 1053.9h0M595.3 898h0M651.3 938h0M616.1 930.8h0M644.7 934.4h0M534.7 1077h0M604.7 1062h0M616.8 954.2h0M673.5 889.2h0M707.8 894.2h0M692.6 866.6h0M571.3 1039.9h0M634.8 1071.9h0M653.4 913.8h0M675.6 921.9h0M710 874.9h0M640.3 912.5h0M710.2 863.7h0M700.8 870.8h0M635.5 939.3h0M584.7 991.9h0M653.1 934.4h0M554 1054.7h0M663 1019.6h0M639 931.7h0M596.7 942.3h0M602.9 965.4h0M622.5 918.6h0M517.3 1050.2h0M645.2 953.3h0M661.9 896.5h0M629.3 976.7h0M557.5 1054.6h0M645.8 916.5h0M595.9 978.4h0M630 910.4h0M633.4 934.3h0M673.7 907.2h0M648.8 931.5h0M645.1 937.7h0M704.4 883.7h0M625.4 947.4h0M588.7 967.3h0M546.5 1001.7h0M634.8 897.6h0M630 929.9h0M627.8 950.5h0M607 1008.7h0M538.3 1001.7h0M662.2 912.7h0M549.6 992.7h0M564.5 995.2h0M706.6 883.5h0M645.8 945.9h0M705.9 882.5h0M549.3 873.3h0M638 901.4h0M616.5 975.4h0M618 950.8h0M692.2 895.5h0M696.4 862.3h0M652.1 941.2h0M595.9 1002.2h0M689.1 895.7h0M521.4 1022h0M525.1 1092.5h0M621.9 936.2h0M677.9 882h0M630 940.8h0M629.8 971.8h0M533.1 1013h0M632.2 964.5h0M697.5 868.4h0M553.5 1010.5h0M621.8 888.5h0M575.9 991.5h0M680.2 879.3h0M675.2 948h0M690.5 904.4h0M693.3 869.1h0M547.4 1078.1h0M633.5 928h0M628.8 932.2h0M597.8 952.3h0M670.3 916.1h0M696.1 932.8h0M639.9 928.7h0M682.3 873.7h0M631.1 892.9h0M570.3 942.2h0M652.8 913.5h0M615.1 930.2h0M645.8 917.4h0M638 999.2h0M514.9 1000.9h0M529.9 1034.1h0M631.6 927.2h0M515.3 956.7h0M609.6 988h0M678.5 865.8h0M578 1023.3h0M696.8 871.1h0M548.7 1065h0M642 951.1h0M640.7 921.3h0M699.3 898.1h0M540.1 934.4h0M682.5 887h0M610 944.2h0M558.9 1055.6h0M675.9 889.9h0M643.4 880.2h0M517.2 953h0M538.1 1075.2h0M655.3 875.4h0M633.8 915.5h0M608.1 972.9h0M679.8 882h0M545.6 1066.4h0M644.8 950.7h0M668.3 919h0M703.4 884h0M582.8 1035.6h0M639.4 902h0M675.9 911h0M696.9 865.5h0M685.8 867h0M505.6 1060.4h0M630.8 908.1h0M592.5 960h0M703.9 881.9h0M656.7 1080.2h0M652.6 918.8h0M697.7 865.6h0M684.2 917.4h0M643.9 980.3h0M637.4 954.6h0M586.6 1015.3h0M682.6 896h0M659.1 919.3h0M634.4 885.3h0M618.6 950h0M619.5 937.6h0M601.9 958.2h0M636.4 894.5h0M668 880.8h0M677.3 962h0M625 929.8h0M535.2 1078.8h0M629.4 943h0M707.2 953.4h0M637.6 901.4h0M601.5 910.6h0M521.1 961.6h0M636.4 886h0M638.6 947.2h0M613.7 863.2h0M634.7 869h0M684.6 879.9h0M705.5 867.1h0M631.2 939.8h0M683.8 873.8h0M633 938.2h0M698.6 868.4h0M705.5 863.5h0M590 1011.6h0M654.3 921.3h0M621.4 904.9h0M692.3 871.9h0M657 1081.2h0M669.5 900.8h0M575.4 995.3h0M700.4 881.8h0M635.8 956.1h0M710.8 878.7h0M705.7 874.6h0M696.3 900h0M668.2 876.2h0M607.3 954h0M697.3 864.5h0M629.7 930.8h0M676.3 940.8h0M669 888h0M641.1 922.8h0M518.2 1045.1h0M655.9 1082.8h0M598.7 970.4h0M612.8 936.8h0M661.4 891.1h0M644.6 906.1h0M635.1 922h0M667.8 909.3h0M665.7 884.6h0M703 945.6h0M626.7 967.3h0M668.9 918.6h0M566.2 998.5h0M544 1017.3h0M586.9 977.1h0M700.2 868.1h0M644 937.9h0M695.9 884.1h0M600.6 958h0M643.4 888.4h0M625.5 956.8h0M672.3 944.1h0M591.6 977h0M666.1 874.3h0M678.1 910.7h0M665 901.9h0M631.5 958.4h0M596.7 973h0M706.3 862.7h0M676.8 909.7h0M703.1 876h0M590 1024.9h0M514.1 1045.1h0M695.7 879.7h0M601.3 999.1h0M691.2 885.8h0M633.8 947.4h0M684.2 875.1h0M638.9 918h0M648.7 885.2h0M643.4 887.8h0M640.6 930.1h0M665.1 927.8h0M580.5 992h0M666 917.4h0M680.8 888.9h0M627.1 901.5h0M523.9 1041.6h0M620.9 926.8h0M549.7 1066.4h0M705.5 888.4h0M630.8 905.1h0M628.8 929.9h0M652.6 893.3h0M669.4 931h0M671.6 894.2h0M646.9 916.5h0M609.8 921.7h0M623.2 979.1h0M695.1 896.1h0M568.9 1041.1h0M607.3 970.3h0M568.5 1039h0M638 930.2h0M552.6 1069.2h0M679.3 887.7h0M615.3 980.9h0M603.8 914.6h0M513.8 1044.7h0M684 884.5h0M628.5 938.1h0M662.8 880.5h0M657.9 1082.8h0M675.4 908.8h0M600.4 905.3h0M672.7 938.2h0M635.1 888.7h0M696 866.9h0M614.8 982.9h0M704.6 863.9h0M639.3 937.1h0M651.6 938.7h0M671.8 870.2h0M654.2 1085.1h0M543.8 983.7h0M695 872.6h0M689.2 915.1h0M709.9 866.6h0M668 901.8h0M595.2 1000.7h0M673.2 886.9h0M667.2 875.4h0M572.8 941.8h0M686 874.8h0M601.8 949.6h0M645.9 962h0M531.9 1086.3h0M641.7 939.4h0M708.8 873.1h0M704.1 895.8h0M510.3 1005.3h0M632.8 909.7h0M629.3 904.9h0M636 927.8h0M659.2 874h0M575.9 996.9h0M640.9 907.2h0M545.2 1007.7h0M628.4 944.1h0M523.6 1030.3h0M645.6 905.4h0M651.8 902.9h0M595.9 1029.4h0M508.2 1060.8h0M609.9 991.8h0M701.5 867.6h0M569.2 999.6h0M614.4 957.4h0M704.9 871.7h0M599 963.9h0M674.4 866.7h0M697.9 880.7h0M542.4 1017.8h0M671.7 912.1h0M641.4 945.7h0M639.7 956.4h0M632.2 940.7h0M641.5 951.6h0M700.6 889.2h0M541.6 1069.5h0M540.2 1072.5h0M670.7 894.3h0M661.3 888h0M639.1 932.4h0M681.6 880.9h0M694.2 881.4h0M634.2 946.1h0M507.8 1059.2h0M562.9 997.6h0M643.3 1047.5h0M688.8 894.2h0M522.5 929.1h0M570 1056.5h0M663.6 870.3h0M615.3 979.5h0M674.4 917h0M602.5 957.7h0M672.1 897.8h0M606 966h0M592 968.3h0M526.3 1006.6h0M623.1 972.8h0M610.4 946.8h0M600.3 1084h0M680.5 866.1h0M603 947.7h0M655.5 934.3h0M675.3 884h0M633.9 994.2h0M698.5 983.3h0M637.2 932.1h0M641.8 927h0M614.3 1086.3h0M619.9 947h0M667.3 918.5h0M607.5 905.9h0M524.3 1051.3h0M619.9 933.5h0M641.4 935.1h0M566.5 976.3h0M561.9 998.3h0M680.7 965.8h0M516.5 990.5h0M686.6 907.9h0M686.9 897.3h0M569.1 976.4h0M522.4 988.6h0M700 887.5h0M628.2 942h0M680.3 878.2h0M664.4 932.7h0M653.1 881.6h0M700 866.1h0M595 972.3h0M635.2 956.4h0M605.3 964.6h0M697 868.2h0M689.6 939.1h0M657.1 914.6h0M623.8 980.6h0M682.9 915.9h0M685.1 869.5h0M676.2 882.1h0M665.6 923.4h0M702.8 863.5h0M623.7 943.7h0M692.8 877h0M584.3 1019.6h0M553.2 1009.7h0M591.9 948h0M652.6 908.4h0M708.4 861.8h0M667.2 969.9h0M682.6 882.1h0M629.6 937.7h0M570.8 1035.9h0M626.7 990h0M603.1 996.8h0M681.2 953.5h0M601.9 956.5h0M632.4 911h0M646.5 950.1h0M663.6 884h0M646.2 950.2h0M662.7 870.6h0M508.3 978.7h0M665.5 909.1h0M520.7 1011.9h0M693.9 879.6h0M604.3 973.4h0M634.5 888.9h0M695.8 884.5h0M650.7 877.5h0M599.6 1016.9h0M514.1 1052h0M624.6 966.8h0M644.1 930.6h0M544.2 1016.2h0M658 887.9h0M694.2 893h0M691.1 873h0M675.9 893.7h0M574.5 1027.5h0M707.2 867.9h0M632.5 903.3h0M699.8 895.1h0M644 890.9h0M695.1 865.5h0M526.8 1034.2h0M692.5 896.2h0M611.1 984.4h0M650.7 874.9h0M628.5 911.1h0M620.4 980.7h0M624.3 968.5h0M612.8 960.1h0M633.2 944.8h0M510.4 1050.1h0M552.3 1014.7h0M675.8 897.3h0M592.6 1002.1h0M656.7 893h0M647.5 877.8h0M576.9 1029.3h0M642.6 952h0M686.4 903h0M619 928h0M680.1 882.3h0M581.8 934.5h0M638.4 950.6h0M699.4 876.2h0M707.4 870.3h0M597.5 1024.7h0M617.5 1011.4h0M682.1 904.1h0M688.7 879.2h0M542.6 1022.4h0M614.4 1010.4h0M666.4 883.6h0M597.5 972.7h0M645.2 1006.8h0M609.1 962.6h0M689.2 882.7h0M671.3 906.8h0M637 888.9h0M586.1 885.1h0M660.9 931h0M698.1 968.9h0M603.9 973.2h0M700 865.1h0M644.3 968.6h0M707 861.8h0M679.2 883.9h0M676.4 895.3h0M669.6 884.8h0M685.9 872.9h0M548.8 1073.6h0M654 944h0M637.7 963.1h0M610.3 961.1h0M633.4 894.9h0M654.2 942.3h0M582.2 1067h0M706 866.3h0M664.3 862.7h0M676.1 900.3h0M649.5 919.3h0M671.7 896.3h0M635.4 960.3h0M677.8 894.4h0M689.1 906.9h0M630.8 922.1h0M705.7 863.3h0M505.2 1045.4h0M645.8 898h0M621.2 921h0M613.6 954.7h0M635.6 978.1h0M620.2 964.3h0M571.9 958.3h0M706.2 882.2h0M678.4 892.7h0M619 871.6h0M614.1 998.6h0M678.4 900h0M625.3 925.9h0M584.8 1013.2h0M685.1 887.6h0M661.3 951.2h0M658.5 888.8h0M688.2 917h0M666.7 935.4h0M595.6 890h0M586.1 983.1h0M671 890.7h0M638.8 930.7h0M692.2 901.8h0M695.3 902.2h0M565.7 994.5h0M507.2 1063.4h0M622.1 936.6h0M684.2 864.2h0M698.7 888.1h0M612.5 961.8h0M672.7 887.1h0M622.3 973.6h0M664.9 914.4h0M637.2 913.9h0M599.7 984.2h0M633.8 941.3h0M668.5 925.8h0M705.4 889.8h0M641.1 988h0M614.9 955.2h0M689.5 874.2h0M609.7 939.4h0M548.7 1017.6h0M693.9 865.2h0M584.3 1013.4h0M613.5 950.5h0M536.8 1023.1h0M684.6 876.8h0M695.2 873.9h0M634.6 897.8h0M622.4 944.5h0M621.5 922.4h0M641.5 949.5h0M688.3 881.8h0M705.7 872.1h0M612.6 960.6h0M638.9 932.1h0M641.1 882.6h0M615.5 997.7h0M624.8 914.1h0M631.2 926.2h0M709.5 862.6h0M603.3 1017.1h0M689.3 900.1h0M643.9 928.5h0M662.2 905.8h0M599.4 954.6h0M623.4 969.6h0M509.9 1092.4h0M640.8 930.9h0M662.3 896.5h0M629.7 907.1h0M583.5 1027.1h0M674.1 919.5h0M641.9 930.9h0M636.9 956.5h0M637 924.9h0M544.6 933.1h0M545.5 972.6h0M593.8 1006.1h0M619.4 976.4h0M660.3 927.3h0M667.6 910.9h0M675.3 920.7h0M593.1 981.7h0M545.9 997.8h0M673.8 911.3h0M659.1 938.9h0M597.5 969h0M632 961.1h0M712.4 874.2h0M666.2 923.9h0M592.5 1006.6h0M639.2 945.1h0M694 898.4h0M695.2 866.6h0M618.6 978.3h0M616.2 928.2h0M646.8 925.4h0M670.4 898.5h0M637.9 915.9h0M593.8 1043.4h0M515.8 1001.5h0M650.9 891h0M681.2 914.5h0M665.1 930.9h0M514.5 1030.4h0M595.9 976h0M656 1082.6h0M693.8 900h0M676.1 891.2h0M696.5 867.6h0M523.7 935.1h0M505.3 1056.9h0M679.1 894.1h0M580.4 933.5h0M696.9 868.4h0M631 931.9h0M684 897.7h0M682.9 876.3h0M582 954h0M655.2 875.2h0M680 915.9h0M642.5 895.5h0M648.7 919.7h0M647.6 930.9h0M568.4 999.5h0M683.9 903.3h0M602.6 966.5h0M649.4 875.5h0M601.5 1047h0M698.2 883.5h0M622.6 866.6h0M647.5 879.2h0M601.8 997.4h0M590.8 994.3h0M647.6 923.9h0M563.3 939.8h0M711.7 875.1h0M663.7 896h0M626.5 952.5h0M704.5 863.1h0M582.7 936.7h0M611.1 948.2h0M548.2 1064.9h0M652 939.8h0M640.1 926.7h0M640.4 1002.8h0M623.4 981.9h0M690.7 898.6h0M645.8 911.1h0M630.1 915.1h0M690.6 871.4h0M681.6 880.8h0M508 1059.2h0M655.8 911.4h0M684.8 897.8h0M694.4 866.5h0M621.5 915.2h0M677.3 917.1h0M637.2 949.6h0M577 982.7h0M607.5 927.2h0M518.5 992.6h0M513.7 1050.9h0M517.6 1091.5h0M686.9 881.1h0M624.6 966.9h0M524 1092.9h0M697.8 887.1h0M626 964.2h0M586 1009.1h0M694.8 865.2h0M656 903.2h0M633.5 967.9h0M643.7 931.9h0M507.7 1003.3h0M625.7 947.9h0M707.5 880.4h0M554.5 1077.1h0M635.7 956.8h0M634.4 968.4h0M622.9 940h0M691.1 865.6h0M603.2 962.4h0M615 933.9h0M593.9 970.4h0M608.2 960.7h0M543.6 1019.8h0M677 901.5h0M600.2 969.3h0M614.9 969.1h0M638.2 943h0M636.9 977.4h0M659.2 926h0M658.4 1089.6h0M527.3 1023.9h0M703.6 872.5h0M672.2 901.8h0M604.8 949.9h0M691.4 883.2h0M693.5 894.7h0M637.7 940.9h0M611.8 983.7h0M605.6 970.5h0M630.6 924.3h0M636.9 922.7h0M682.4 888h0M695.5 894.1h0M642.3 921.6h0M711.5 872.3h0M671 872.2h0M651.1 908.8h0M703.3 876h0M639.2 919.5h0M659.4 915.9h0M710.2 878.8h0M645 922.4h0M616.3 955h0M678.9 895.1h0M569.1 1087.8h0M692.5 870.3h0M677.9 881.1h0M665 907.3h0M627.3 986.5h0M636.1 945.2h0M640.2 914.1h0M625.7 968.1h0M637.9 929.5h0M650.5 917.1h0M704.8 912.3h0M589.5 1027.9h0M694.1 876.9h0M645.3 918.3h0M667.6 918h0M707.5 867.3h0M678 865.9h0M695.9 866.4h0M695 871.8h0M631.8 940.6h0M690 864.3h0M533.7 911.7h0M694.5 877h0M636.1 956.5h0M704 871.3h0M571.6 1033.2h0M690.4 902.9h0M660.1 922.6h0M633.4 941.5h0M634 954.3h0M664.8 879.1h0M688.1 885.9h0M701.9 868.9h0M526.3 1014.7h0M635.2 1038.4h0M658.1 916.2h0M686.6 904.1h0M700.6 874.6h0M628.9 922.9h0M603.3 1028.1h0M670.6 877.4h0M563.6 990h0M637.7 909.1h0M679.9 917h0M643.8 929.1h0M605.8 964h0M618.4 870h0M557.2 999.2h0M617.5 926.8h0M653.1 915.5h0M521.8 1046.9h0M688.2 874h0M671.5 873.6h0M571.6 1037.4h0M621.4 926.7h0M632.4 1034.3h0M694.1 871.4h0M660.4 873h0M669.5 908.7h0M628.4 932.6h0M670.1 939.4h0M599 973.9h0M518.8 1042.5h0M704.1 940.2h0M598.3 959.8h0M657.4 911h0M652.3 897.2h0M602.9 956.5h0M699.3 869.8h0M656.6 928.6h0M657.5 911.5h0M679.7 872.1h0M557.6 1058h0M678.6 901.1h0M691.3 890.1h0M588.2 1000.5h0M613.7 966.2h0M671.2 938.5h0M525.7 1085.1h0M545.9 1005.1h0M646.5 1006.8h0M709 865h0M665.4 918.4h0M565.8 991.3h0M533.2 1084h0M681.4 886.7h0M638 943.2h0M616.8 955.3h0M636.6 948.4h0M631.6 942.2h0M681.5 913.6h0M649.7 928.8h0M631.1 960.5h0M707.3 885.9h0M637.7 896.2h0M635.8 945.8h0M691.9 867.2h0M683.4 870h0M710.4 884.5h0M638.9 958h0M650.9 991h0M616.9 947h0M642 931.4h0M658.4 927.7h0M550.2 885.4h0M659.8 910.7h0M570.3 1035h0M605 1013.7h0M588 1034.2h0M599.5 974.2h0M593.8 983.1h0M636.2 968.7h0M612.9 912.3h0M635.1 931.6h0M667 895h0M534.9 955.8h0M704.8 862.9h0M667.9 865h0M661.8 935.3h0M679.1 899.1h0M684.1 875.2h0M691.7 889.1h0M625.9 972.6h0M640.6 953.1h0M523.6 1093.3h0M704 864.1h0M674.3 957.8h0M684.3 884.2h0M523.5 1041.9h0M704.2 862.6h0M621.8 969.7h0M689.5 892.7h0M621.3 1021.9h0M694.4 871.1h0M641.3 929.4h0M632.8 988.4h0M616 961.7h0M666.6 990.6h0M689.3 888.6h0M653.9 918.2h0M627.5 964.2h0M569.2 922.8h0M603 978.6h0M684.3 883.8h0M503.4 1065.9h0M640.4 925.1h0M650.8 885.8h0M695.1 900h0M660.5 1026.9h0M703.5 891h0M616.4 957.6h0M687.3 880.6h0M685 884.4h0M632.2 957.2h0M658.6 937.1h0M664.1 875.3h0M577.7 1024.3h0M690.3 865h0M657.3 935.6h0M676.6 919.8h0M631.1 968.7h0M622.6 904.8h0M566.6 995.2h0M700.7 870.9h0M682.4 894.2h0M652.8 911.3h0M609.7 984.2h0M556.6 1075.5h0M580.1 1049.3h0M638.7 911.7h0M659 912.4h0M671.7 889.9h0M638.4 944.2h0M679.6 903.4h0M700.2 861.9h0M696.7 887.8h0M678.4 883.8h0M621 925.1h0M669.8 925.2h0M604.3 955.6h0M674.3 912.7h0M652.6 872.5h0M533.4 1024.3h0M581.3 991.9h0M698.2 864.3h0M635.6 941.4h0M684.2 910.3h0M605.8 1001.7h0M643.8 897.1h0M705.3 867.7h0M558 1002.4h0M700 864.2h0M648.7 947.8h0M526.8 1092h0M708.4 872.6h0M685.8 887.7h0M529.9 1017.1h0M611.1 1008.1h0M635.1 926.9h0M705.6 891.6h0M579.3 992.4h0M637.6 888.8h0M649.3 987.7h0M670.7 875.8h0M588.5 985.8h0M670.6 899.9h0M640.1 922.1h0M690.2 866.1h0M703.3 891.1h0M647.8 892.2h0M647.8 890.8h0M668.2 915.5h0M655.3 906h0M633.2 924.9h0M666.9 920.2h0M623.2 954.3h0M645 953.1h0M657.3 905.7h0M698.3 879.9h0M605.6 968.4h0M620.3 950.4h0M645.2 924.2h0M516 1090.7h0M683 883h0M703.4 863.9h0M671.9 872.8h0M518.7 946.7h0M556.5 1011.3h0M646.9 925.3h0M616.1 977.9h0M626.5 958.5h0M664.3 872.8h0M698 887.9h0M677.6 931.6h0M691.6 865.6h0M687.7 900.5h0M706.1 862.9h0M620.5 946.9h0M621.1 926.6h0M669.9 910.8h0M671.2 921h0M689.6 867.2h0M594.4 1074h0M593.1 969h0M661.5 945.8h0M659.6 925.8h0M664.9 894.9h0M509.1 1047.5h0M645.9 1023.2h0M603.1 992.9h0M704.7 887.8h0M559 1005.5h0M688.7 906.8h0M687.3 908.1h0M646.8 943.2h0M692 910.4h0M693.5 902.2h0M592.9 1013.3h0M702.3 874.3h0M702.4 908h0M688.6 907.4h0M655.7 898h0M635.7 1043.7h0M689.3 875.7h0M691.7 899.5h0M527 1091.2h0M513.1 1056.2h0M645.6 925h0M596.1 974.5h0M561.4 882.9h0M556.8 1003.4h0M605.2 961.5h0M557.2 1001.8h0M600.1 971.7h0M667.1 912.5h0M668 938.6h0M659.9 985.7h0M699.3 864.1h0M698.6 879.4h0M653 883.5h0M508.8 992.9h0M664.9 897.2h0M706.3 862.9h0M544.2 1072.3h0M687.8 881h0M675.8 868.4h0M552.4 1012.5h0M591.7 922.3h0M650.2 926.8h0M629.3 932.3h0M535.3 1026.9h0M608.6 898.8h0M700.1 868.1h0M680.8 890.1h0M598.1 938.2h0M653.1 911h0M593.8 1081.2h0M665.9 890h0M586.6 1065.3h0M661.4 936.2h0M630.1 964.2h0M650.5 930.3h0M652.1 928.5h0M672.3 871.6h0M606.1 968.1h0M660.7 910.7h0M676.1 909.3h0M502.3 1060.3h0M707.9 872.3h0M679.2 866.8h0M636.5 929.4h0M665.4 911.9h0M623.4 966.9h0M664.5 895.6h0M631.6 927.6h0M559.1 1062.4h0M575.4 993h0M606.7 1035.8h0M645.6 926.7h0M588.9 983.5h0M650.2 911.3h0M655.8 918.7h0M698 864.7h0M664.7 869.5h0M651.7 898.8h0M691.9 867.3h0M520.7 1042.3h0M664.7 873.9h0M581.6 988.1h0M668.8 924.2h0M641.7 876.9h0M649.4 932.7h0M699 892.2h0M711.7 871.8h0M636.7 955.6h0M613.4 1006.9h0M592.2 969.6h0M679 885.3h0M680.8 874.3h0M661.3 919.6h0M635.9 925.6h0M506 960.2h0M677.6 882.6h0M583.7 897.6h0M691.9 903.2h0M707.8 875.4h0M555.9 1010.5h0M643.4 906.2h0M700.4 877.2h0M687.2 872.7h0M609.2 980.5h0M635.6 963.3h0M706.1 869.6h0M636.7 956.4h0M668.9 871h0M563.7 1050.8h0M629.9 918.8h0M656.6 902.2h0M512.1 1055.2h0M678.8 879.6h0M679 902.2h0M640.5 942.5h0M569.8 1005.2h0M630.9 940.1h0M607.6 950.1h0M631.3 973h0M616.8 943.3h0M662.1 924.7h0M537.9 1073.5h0M579.2 1018.9h0M700.9 862.6h0M626.2 924.1h0M615.8 979h0M646.6 952.8h0M603.5 949.5h0M664.7 895.3h0M710.5 877.3h0M507.6 1056.2h0M630.9 932.8h0M686.9 895.3h0M634.4 955.5h0M582.5 1024h0M561.8 996h0M677 878.1h0M661.5 936.5h0M633.6 912.9h0M694.5 875.7h0M530.6 1082.7h0M519.5 966h0M694.5 868.2h0M700.6 866.5h0M658.4 869.3h0M634.2 919.1h0M675.1 973.2h0M656.2 1081h0M692 871.8h0M603.6 945.2h0M650.1 985.7h0M622.3 942.5h0M678.6 893.4h0M656.8 925.1h0M639.9 898.7h0M696.8 887.7h0M645.6 893.1h0M686.3 883.4h0M604.1 995.5h0M687.3 889.6h0M623.8 948.2h0M709.7 869.3h0M707.9 868.4h0M684.1 888.9h0M669.3 866.5h0M562.6 1058.2h0M685.7 877.5h0M685.3 879.7h0M683.5 863.8h0M696.7 872.1h0M653 924.2h0M692.5 899.4h0M591.4 1002.7h0M646 925.1h0M613.6 938h0M610.9 962.7h0M615.6 954.7h0M686.4 873.2h0M572 990.5h0M679 922h0M646.5 883.9h0M644.8 946.9h0M702.5 880.6h0M621.6 983h0M561.6 998.5h0M598.8 998.2h0M668.5 925h0M579.2 962.2h0M640.1 953.1h0M546.8 1072.4h0M652.7 913.3h0M622.2 868.7h0M688.2 864.5h0M695.7 891.4h0M705.2 861.6h0M707.6 872.6h0M596.7 958.6h0M562.6 1084.8h0M700.5 878.1h0M644.8 927.1h0M703.5 880.7h0M634.5 960.5h0M621.8 955.9h0M622.8 963h0M649.8 929h0M689.6 904.9h0M676.2 893.7h0M672.9 921.3h0M683.2 931.6h0M707.4 870.5h0M676.8 876.5h0M644.9 918.3h0M702.2 923.7h0M705.8 882.1h0M513.5 1053.5h0M657 908.5h0M603.3 1017.5h0M642.5 950.3h0M681.1 910.3h0M521.1 1087.7h0M668.5 894.7h0M595.8 968.1h0M621 992.9h0M594 957.5h0M665.9 912.2h0" stroke="#1f77b4" stroke-opacity="0.62" stroke-width="3.8" stroke-linecap="round" fill="none"/>
<path d="M557.9 1005.3h0M673.1 971.7h0M648.4 912.7h0M526.8 952.3h0M643.8 977.8h0M641.1 944.6h0M657 954.2h0M651.6 891.2h0M625.3 970.4h0M664.4 972.9h0M691.6 898.4h0M674.2 901.5h0M635.7 993.2h0M597.2 962.9h0M634.1 937.2h0M630 921.9h0M635.6 959.7h0M537.4 944.2h0M604.9 988.7h0M686.7 905.8h0M658.2 881.8h0M508.8 1047.9h0M554.7 1054.1h0M634 948.9h0M674.2 907.6h0M646.7 938.5h0M594.3 1001.4h0M672 906.4h0M683.1 904.1h0M646.3 987.6h0M619.7 990.7h0M619.4 951.5h0M619.1 991.6h0M683.5 885.8h0M664.2 955.1h0M697.3 892.6h0M663.1 863.9h0M640.1 916h0M622.3 1006.1h0M623.4 920.7h0M697.5 878.2h0M599.6 1022.1h0M632.3 928.2h0M704.6 936.4h0M633.1 939.1h0M676.2 917.1h0M610.4 942.6h0M639.9 924.3h0M632.7 919.7h0M711.1 862.3h0M693.2 889.2h0M633.9 964.6h0M660.1 930.8h0M636.3 981h0M545.2 1075.3h0M594.1 981.6h0M688 866.6h0M708.4 872.3h0M599 974.6h0M588.3 995h0M653 908.9h0M613.8 1018.2h0M505.1 1004.5h0M617.2 942.7h0M631.9 958.6h0M689.4 874.2h0M669.3 912.5h0M675.4 907.6h0M645.4 897h0M598.2 996.6h0M663.5 921.8h0M646.8 944.4h0M656.5 891.2h0M630.8 927.2h0M612.8 934.5h0M543.2 1018.8h0M634.8 898.7h0M638.3 934.2h0M638 925.6h0M700.8 868.9h0M519.2 1013.3h0M650.3 887.9h0M633.5 971.9h0M628.4 926.1h0M673.9 885.9h0M633.5 937.7h0M643.9 945.8h0M586.5 1013.6h0M524.5 935h0M553.3 1064.6h0M680.5 920.4h0M668.8 877.9h0M665.1 915h0M581.4 1014.6h0M692.8 872.1h0M637.1 980.8h0M654.4 931.7h0M656.6 925.2h0M694.6 870.2h0M705.3 889.9h0M588.4 912.9h0M555.4 1066.6h0M710.5 870.6h0M690 871h0M692.5 884.2h0M699.9 878.4h0M562.3 1052.5h0M604.2 989.6h0M654.4 910.4h0M556.2 1056.7h0M595.2 968.1h0M676.4 995.4h0M638.8 930.6h0M689 865h0M646.3 924.8h0M696.8 864.1h0M509.9 1007.4h0M525.6 982.6h0M621.3 957.4h0M638.8 927.4h0M652.5 942.1h0M675.3 961.6h0M546 1073.5h0M554.2 1007.6h0M681 896.2h0M679.4 883h0M640.6 940.1h0M640.4 894.5h0M660.7 876.7h0M590 1012h0M659.6 937.5h0M668.9 929h0M654.4 914.2h0M694.2 877.3h0M612.2 940.4h0M625.6 916.7h0M631.8 934.4h0M676.3 866.2h0M648.1 969.6h0M597.3 973h0M609.6 953.6h0M622.8 954h0M596.9 975.1h0M626.6 948.6h0M646.5 944h0M521.4 1041.3h0M651.8 923.9h0M613.1 905.6h0M632.7 917.7h0M605.6 991.3h0M641.4 923.4h0M681.3 883.7h0M568.3 1042.1h0M583 990.1h0M617.3 990.8h0M653.8 923.8h0M655.3 927.3h0M629.2 978h0M646.5 996.9h0M679.5 877.1h0M612.7 1000.6h0M687.2 879.8h0M670.6 901.2h0M569.7 996.7h0M592.1 966.4h0M709.3 865.3h0M693.2 917.7h0M673.7 880.9h0M598.5 1015.3h0M669.7 930.1h0M704.4 863.7h0M699.8 867.6h0M548.4 1061.3h0M544.2 966h0M590 1009.3h0M644.6 929.5h0M633.8 956.8h0M684 867.8h0M661.8 905.3h0M712.7 929.1h0M711 871.2h0M647.9 883.9h0M669.4 900h0M640.6 895.5h0M600.1 996.3h0M579.4 1050.3h0M663.3 933.1h0M613.3 955.3h0M610.9 980.5h0M555.9 1060.5h0M668 892.1h0M645.7 919.2h0M640 945.8h0M668.9 908.5h0M558.1 932.1h0M633.7 861.9h0M565.9 1047h0M694.9 880.9h0M682.2 879.2h0M674.3 906.6h0M508.6 1045.3h0M593.1 1011.7h0M694.3 881.8h0M597.2 962.8h0M652.7 920h0M658.7 918.7h0M619.2 974.9h0M666.8 919h0M639.2 961.6h0M606.1 976.8h0M688.8 901.5h0M702.6 863.4h0M673.4 889.6h0M685.7 896.5h0M630.8 998h0M676.9 881.8h0M697.3 879.6h0M638.8 942.6h0M628.2 921.5h0M706.6 862.6h0M586 1023.4h0M701.5 866.2h0M706.2 872.6h0M663.4 877.1h0M602 948.6h0M656.5 922h0M673 869.2h0M529.8 996.5h0M630 930.2h0M649.3 936.2h0M705.9 862.9h0M635.6 935.2h0M686.6 889.9h0M685.1 875.1h0M673.4 920h0M645.8 889.3h0M682.2 885.5h0M591.6 1003.2h0M655.9 908h0M666.1 907.1h0M642.8 953.3h0M640.4 937.5h0M633.4 953.4h0M630.1 939h0M556.1 1006.8h0M531.1 1035.2h0M606.2 993.3h0M673.2 900.2h0M622.1 954.8h0M670.1 880.4h0M555.4 1062.6h0M701.6 865h0M596.2 981.3h0M703.3 874.3h0M625.7 945.7h0M681.6 930.8h0M609.5 1014h0M696.5 869.5h0M615.1 1085.3h0M644.3 955.2h0M683.6 888.8h0M640.5 929.3h0M637.8 907.2h0M614.2 961.9h0M652.9 887.1h0M667.1 871.9h0M701.6 880.8h0M640.2 943h0M611.9 946.5h0M593.8 954.7h0M617.8 964.7h0M630.8 921.3h0M552.2 1014.6h0M532.5 1014.3h0M610.3 955.6h0M519.3 953.8h0M617.4 871.2h0M688.2 875h0M573.6 1026.8h0M693.9 925.8h0M658.9 891.8h0M527.7 962h0M692.6 880.1h0M603.7 962.2h0M638.9 950h0M583.9 1039.7h0M547.1 1010.7h0M565.2 1044.5h0M694.3 864.9h0M631.7 964.8h0M633.8 885.1h0M695 867.3h0M630.3 935.7h0M579.3 965.9h0M670 869.8h0M592.6 972.8h0M653 922.3h0M563.6 1050.1h0M609.4 944.9h0M534.6 1079.2h0M574 1001.8h0M632.6 968.7h0M546.6 1065.1h0M710.2 866.2h0M634.9 934h0M520.9 1047.4h0M650.1 878.9h0M676.3 906.4h0M623.6 967.4h0M682.1 944.6h0M659.9 886.8h0M641.7 933.3h0M676.8 864.9h0M561.1 951h0M707.6 873.5h0M566 999.6h0M666.6 943.1h0M667.9 901.1h0M644.4 898.8h0M634.7 912.5h0M510.6 1058.6h0M646.4 897.5h0M633.9 939h0M684.5 906.5h0M649.1 995.2h0M684.2 867.5h0M646.3 883.6h0M634.5 917.2h0M652.2 890.1h0M704.3 890.3h0M645.8 928.3h0M704.5 885.2h0M606.2 952.9h0M522 1053.2h0M663.7 920h0M659.8 930.7h0M637 931h0M612.6 961h0M629.9 992.3h0M684.2 875.8h0M659.9 876h0M561.4 1007h0M712.4 862.2h0M558.7 995.3h0M707.5 879.1h0M577.8 943.1h0M679.5 891.2h0M544 1070.6h0M675.6 881h0M642.5 955.9h0M663.3 895.3h0M634.7 962h0M631.6 910.3h0M636.3 979.7h0M560.7 1046.4h0M632.4 901.4h0M670.2 911.5h0M611.8 967.1h0M679.4 887.8h0M692.3 879.8h0M533.3 1033.2h0M641.7 949.8h0M517.9 1039h0M503.1 1067.2h0M668.9 904.2h0M653.5 880.8h0M590.9 1049.8h0M608.1 997.2h0M641.6 914.2h0M590.5 1011.2h0M651.7 944.8h0M691 871.8h0M638.4 903h0M659.3 942.1h0M612.3 985.9h0M708.5 879.4h0M540.5 1024.4h0M638.9 932.9h0M670.6 873h0M644.5 941.7h0M670.7 919.9h0M695.5 864.4h0M673.5 917h0M697.5 866.6h0M540.3 941.7h0M525.3 1043.5h0M651.1 910.6h0M635.7 943h0M501.8 1064.4h0M582 971.9h0M632.3 934.4h0M525.5 908.7h0M626.1 955.5h0M677.6 957.2h0M594.5 975.8h0M639.9 895h0M599.2 1026h0M597.6 958.8h0M682.1 886.1h0M673.9 875.8h0M643.6 887.6h0M698.6 888.2h0M637.9 926.2h0M658.1 1047.8h0M636.6 913.2h0M571.4 987.5h0M680.6 944.8h0M699.2 863h0M690.8 878.6h0M653.3 907.6h0M665.6 911.1h0M662.8 913.4h0M564.1 992.3h0M700.4 863h0M621.7 949.3h0M633.4 953.4h0M633.9 932.9h0M620.8 953.6h0M665.6 906.5h0M529.1 1090.8h0M646.5 926.9h0M583.7 949.2h0M636 906.8h0M694.3 922.3h0M633 905.1h0M514.5 1030.8h0M698.4 869.6h0M675.2 903.3h0M710.1 862.8h0M632 905.7h0M519 1049.8h0M650.3 915.6h0M710.9 865.3h0M606.1 965.3h0M657.8 885.1h0M569.8 1037.1h0M596.1 1001.9h0M687.8 870.7h0M606.8 935.3h0M559.3 1003.1h0M710.7 864.4h0M702.4 867.5h0M622.2 975.6h0M662.1 911.2h0M646.4 893.2h0M691.7 888.7h0M657.5 903.5h0M638.1 927.7h0M694.7 908.6h0M662.1 870.5h0M646.5 897.6h0M710.4 879h0M668.1 865.7h0M677.6 893.1h0M702.6 885.2h0M592.7 964.6h0M536.6 932.2h0M617.1 958.5h0M711.5 875.4h0M594.8 975.2h0M655.1 883.2h0M678.8 882.8h0M662.2 925.4h0M643.7 945.4h0M632.7 920.1h0M692.3 869.5h0M578.4 990.8h0M625.5 945.1h0M634.1 938.2h0M644.3 884.5h0M649 908h0M676.2 917.2h0M642.2 906.3h0M634.5 926h0M672.9 899.5h0M635 896.9h0M620.2 943.8h0M640.3 929.1h0M617.9 995.6h0M659.8 903.7h0M607.2 944.7h0M703.1 880.1h0M706.7 876.3h0M673.6 864.3h0M644.2 922.9h0M606.8 962.8h0M600.6 1022.6h0M555 1005.4h0M562.2 992.5h0M621.4 926.3h0M620.8 989.5h0M574.1 1028h0M645 960h0M691.3 875.9h0M661 915h0M626 926.4h0M695.6 904.4h0M676.3 867.1h0M636.2 913h0M634.6 961.5h0M591.8 982.7h0M692.5 903.2h0M668.6 917.3h0M702.1 867.7h0M521.9 1091.8h0M551.9 1074.5h0M628.5 940.3h0M604.4 944.4h0M650.9 921h0M655.2 885.4h0M529.1 1088.9h0M660.1 916.3h0M521.5 1040.9h0M527.6 1005.2h0M561.9 993.1h0M668.7 961.7h0M633.5 892.9h0M556.4 1071.3h0M635 895.1h0M706.8 862.2h0M648.8 895.4h0M661.4 873h0M543 1073.3h0M623.6 944.5h0M631.9 1027.2h0M659.4 869.2h0M510.3 1012.1h0M661.4 906h0M658.6 923.5h0M598 962h0M622.7 976h0M604.1 964.4h0M599.9 983.3h0M652.5 922.5h0M609.3 946.2h0M654.7 875.1h0M668.9 925.3h0M579.9 989.3h0M617.9 939.5h0M706 889h0M641.1 949.7h0M595 974.3h0M668.6 900.2h0M677.9 902.3h0M630.8 921.7h0M623.5 932.2h0M709.1 872h0M640.1 895.9h0M644.8 967.9h0M692.5 869.4h0M670.7 901.5h0M702.4 886.9h0M527.6 1083.2h0M560.8 998.7h0M668.1 945.7h0M680.8 914.4h0M512.5 997.3h0M639.6 940h0M622.6 969.9h0M572.7 997h0M626.5 947.2h0M658.1 909.9h0M623.9 986.4h0M690.5 864.5h0M625.3 958.8h0M707.7 870.8h0M613.5 955.7h0M682.5 922.7h0M543.4 1016.7h0M638.4 934.6h0M631.3 994.2h0M523.6 989h0M538.1 1081.6h0M688.1 868.1h0M523.3 1091.1h0M592.3 1009.5h0M634.9 962.8h0M610.1 980.2h0M647.3 923.5h0M630.7 915.8h0M648 923.1h0M637.9 902.9h0M617.1 978.9h0M689.2 866.9h0M628.9 900.4h0M621.3 951.5h0M695.2 885.5h0M676.6 942.4h0M617.7 1018h0M636.9 940.3h0M658.8 985.9h0M568.6 1017.9h0M673.2 891.5h0M642 895.7h0M520.4 1020.8h0M611.2 965.8h0M599.6 952.4h0M657.3 1085.1h0M624.9 934.3h0M672.5 880.3h0M708.5 880.9h0M647.3 888.5h0M694.1 887.7h0M691.6 887.7h0M670.3 895.8h0M681.1 876.8h0M657.8 893.2h0M650.4 892.5h0M568.5 1043.7h0M594.7 981.8h0M600.8 976.4h0M631.6 977.2h0M507.3 1061.7h0M694 865.7h0M661.8 900.2h0M652.7 952.9h0M580.1 970.4h0M608.3 916.1h0M511.2 1044.6h0M619.6 957.2h0M591.5 970.1h0M592.8 982.7h0M579.8 990.6h0M686.4 881.1h0M628.2 973.8h0M667.7 874.9h0M661 904.9h0M641.9 950h0M514.9 1048.4h0M678.5 902.3h0M588 1025.6h0M687.2 873.7h0M508.8 1091.2h0M684.1 873.7h0M701.7 872.6h0M656.9 919.9h0M549.2 1013.9h0M599.8 1015.4h0M596.8 1007.9h0M650 909.3h0M635.7 924.2h0M706.4 888.6h0M635.2 911.5h0M608.3 977.8h0M670.7 898.1h0M631.6 899.2h0M666 926h0M664.4 902.4h0M588.3 996h0M706.6 861.7h0M666.2 864.2h0M665.4 912.6h0M712.4 875h0M712.1 941.2h0M517.6 1020h0M675.6 890.4h0M607 962.7h0M660.5 915h0M709.7 864h0M635 947.9h0M580.2 989.1h0M526.3 1039.1h0M636.2 947.2h0M647.8 893h0M646.8 915.7h0M653.3 935.3h0M640.9 922h0M686.4 897.4h0M593.3 978h0M680 929.3h0M633.3 922.5h0M659.5 924h0M549.2 1016.5h0M618 996.3h0M539.2 1015.4h0M622.9 950.6h0M667 883.9h0M638.3 977.9h0M638.1 922h0M679 897.3h0M658.4 1082.4h0M649.3 910.1h0M652.4 883.6h0M562.2 1049.2h0M638 931.4h0M703.2 877.4h0M644.9 883h0M567.8 1000.7h0M626.3 998.3h0M694 874.3h0M666.8 922.5h0M644 925.3h0M609.8 969.2h0M642 944.4h0M644.1 991.6h0M664 913.4h0M637 926.5h0M690 913.6h0M685.4 874.9h0M658.2 862h0M645.5 868.9h0M686.8 893.4h0M636.4 907h0M537.6 1017.8h0M575 960.5h0M685.1 874.8h0M668.6 904.8h0M622.1 949.8h0M626.2 971.3h0M632.5 924.7h0M664.3 906h0M698 886.4h0M650.2 928.9h0M703.8 897.4h0M557.6 921.5h0M664.7 865.5h0M635.7 924.3h0M616.6 952h0M623.3 934.6h0M544.7 1019h0M633.5 959.8h0M670.7 867.6h0M645.6 953.6h0M658 1085.7h0M575.2 1031.6h0M597.6 941.6h0M630.3 940.9h0M574.5 992.6h0M685.8 1011.9h0M682.7 976.2h0M641.7 914.2h0M513.8 1090.3h0M675.2 862.6h0M584.5 972.6h0M708.2 868.5h0M632 943.1h0M658.7 891.7h0M616.2 951h0M619.9 973.3h0M596 1004h0M683.5 887.2h0M665.5 888.1h0M536.4 1074.4h0M621.2 945.9h0M616.9 955.7h0M651.2 932.6h0M571 998.3h0M509.2 1057.7h0M700.3 876.3h0M658.2 862.8h0M636.9 928.9h0M674.8 867h0M640.5 951.3h0M631.5 934.7h0M613 954.9h0M658.8 933.7h0M591.6 968.3h0M660 926.3h0M680.1 914.5h0M628 968.4h0M657.2 916.1h0M658.4 920.5h0M684.6 891h0M635.4 954.4h0M635 932.7h0M677.6 885h0M639.9 939.6h0M684.7 897.1h0M642.6 954.6h0M519.5 1010.1h0M618.3 1003.1h0M562.9 1003.6h0M518.5 1046.6h0M629.9 922.3h0M620.2 960.2h0M650.5 929.3h0M627.2 942.7h0M516.1 1050.3h0M571.7 957.2h0M595.5 992.4h0M534.8 1078.8h0M642.1 899.8h0M602.4 971.9h0M674.3 916h0M701.3 895.5h0M682.5 887.8h0M692.6 867.5h0M575.8 1024.8h0M685.4 894.7h0M625.5 964.4h0M593.6 982.3h0M692.7 876h0M685.5 869.3h0M588.8 1014.9h0M589.3 930.9h0M660.4 885h0M697.5 897.7h0M705.3 931.9h0M650.7 909.2h0M704.4 864.5h0M630.9 959.2h0M692.2 895.3h0M506.5 1062.8h0M684.5 867.2h0M653.3 928.2h0M649.1 929.9h0M627.2 1026.6h0M594.2 963.6h0M707.6 868.3h0M634.6 948.3h0M655.2 935.2h0M572.1 1031.5h0M668.9 877.8h0M654.7 920.7h0M694.8 873.7h0M639.4 911.7h0M670 898.7h0M556.1 1059.9h0M602.8 970.9h0M621 974.8h0M689 911.7h0M704 891.6h0M570 981.5h0M645.2 967.6h0M694.4 886.3h0M646 904.2h0M644.8 906.8h0M639.5 923.3h0M693.6 869.4h0M592.2 1047.6h0M691.2 890.3h0M573.2 1072.8h0M650.5 887h0M651.7 921.2h0M638.7 921.1h0M554.7 1061h0M706.2 873.6h0M587.6 980.5h0M576.5 975.2h0M545.4 1020.9h0M565.6 1046.1h0M693.5 887.8h0M659.8 924.2h0M609.7 963.4h0M525.6 1088.2h0M676.7 870.6h0M625.5 976.5h0M696 880.3h0M691.7 903.5h0M710.5 870.6h0M703 876h0M636.2 930.1h0M637.4 922.3h0M640.7 930.8h0M681.2 881.1h0M592.1 964.2h0M697.6 889.7h0M551.3 968.6h0M522.7 1043.9h0M707.3 915.4h0M674.2 890.7h0M709 881.8h0M672.5 889.3h0M615.7 981.3h0M616.7 918.6h0M584.2 963.4h0M692.4 876.1h0M591.5 1076.8h0M706.9 866.9h0M654.6 872.6h0M676.9 874.5h0M505.9 982.5h0M635.1 879.3h0M633.1 925.5h0M706.6 861.7h0M521 1089h0M573 1010.1h0M522.5 947.7h0M646.6 916h0M690 896.3h0M624.5 909.7h0M619.6 937.7h0M590.4 970.1h0M599.6 950.6h0M558.9 1076.7h0M696.1 887.6h0M665.5 867.5h0M587.9 870.2h0M663.6 921.6h0M598 989.2h0M626.3 922h0M661.2 924.6h0M561.2 896.8h0M672.6 924.6h0M657.3 974h0M673.4 928.7h0M584.3 955.4h0M637.4 924.4h0M620.6 934.3h0M695.7 950.1h0M681.7 891h0M633.6 889.2h0M661.9 914.1h0M619 1051.5h0M595.8 995.4h0M590.2 1009h0M702.5 934.9h0M609 1020.5h0M670.6 933.8h0M533.7 1080.4h0M524.7 1034.5h0M703.1 863.4h0M551.3 1067h0M672.3 906.1h0M596.7 952.9h0M621.6 943.4h0M591.6 973h0M532.4 1021h0M662.1 919.2h0M684.4 877.2h0M667.3 910.3h0M582.5 987.1h0M639.2 923.5h0M699.7 872.1h0M689.9 868.8h0M648.5 980.6h0M645 881.2h0M591.6 969.7h0M693.2 898.7h0M693.5 885.4h0M665.6 912.8h0M617.2 955.9h0M503.9 1037.5h0M650.6 909.6h0M596.9 963.6h0M705.1 880.4h0M629.4 953.9h0M645.5 925.5h0M651.1 957.8h0M702 864.3h0M613.8 936.9h0M699.1 866.4h0M658.5 902.2h0M563.9 920.3h0M651.2 948.3h0M663.5 894.8h0M605.4 942.6h0M599.4 969.2h0M679.8 883.2h0M647.2 932.5h0M638.5 921.9h0M622.6 948.1h0M662.7 896.8h0M710.7 868.8h0M660.5 914.4h0M599.5 987.7h0M521.2 1009.6h0M635.1 923.9h0M697 902.3h0M546.9 962.6h0M654 873.4h0M637 929.9h0M599.3 949.4h0M509.1 1052.5h0M537.3 1029.6h0M703.6 865.6h0M568.9 1004.5h0M640.3 934.8h0M603.9 953.3h0M636.6 924h0M634.7 920.2h0M656.1 918.4h0M645.3 917.3h0M699.1 876.1h0M638.7 914.3h0M662.6 874.4h0M570 1015h0M683.3 868.6h0M695.5 871.4h0M505.1 1065.2h0M636.8 900.8h0M668.9 870.4h0M647.7 928.1h0M531.6 1082.9h0M661.7 901h0M587.6 985h0M699.3 864.1h0M709.3 867.4h0M697.3 868.6h0M614.6 935.1h0M656.6 898.2h0M675.1 884.1h0M673.9 910.1h0M634.9 1012.1h0M638.9 937.4h0M690.6 875h0M633.4 912.5h0M634.8 936.1h0M514.6 1051.4h0M696.6 881.1h0M711.2 888.5h0M573.6 965.5h0M521.1 934.9h0M612.8 898.6h0M642.2 923.1h0M614 948.6h0M606.3 1011h0M645.7 894.4h0M670.9 886.9h0M540.2 1015.6h0M632.5 935.2h0M532.1 985.9h0M630.7 919.9h0M681.8 926.4h0M687.2 894.3h0M654.8 930.3h0M636.2 952.9h0M523.8 1040.7h0M600.9 1000.2h0M502 1064h0M598.4 959h0M664.1 896.7h0M613.8 1084.1h0M603.8 994.7h0M636.9 963.2h0M593.7 978.9h0M605.7 878.5h0M612.2 955.1h0M622.7 1062.3h0M673.9 879.6h0M696.2 881.7h0M665.3 883.2h0M629.8 927.8h0M680.5 902.6h0M632.4 944.5h0M685.1 949h0M610.9 957.1h0M690.8 893.9h0M522.5 1046.4h0M702.6 878.7h0M625.5 945.6h0M581.7 1015.8h0M694.2 884.1h0M628.4 908.2h0M672.6 931.8h0M508.7 1091.4h0M660.6 922h0M636.2 907h0M659.2 896h0M608.1 987.8h0M677.1 868.4h0M641.2 920h0M661.9 933.2h0M619.1 950.4h0M647 925.8h0M655.3 909h0M573.3 1029.2h0M704.4 888h0M692 866.6h0M546.5 1070.3h0M687.8 870.5h0M635.7 958.5h0M702.7 885.4h0M648.7 948.6h0M571.7 1036.7h0M633.6 1024.6h0M645.7 892.2h0M711.4 878.2h0M688.2 877.6h0M685.5 897h0M631.9 909.1h0M551.3 1013.9h0M670.8 902.2h0M706.6 877.5h0M611.3 930.9h0M668.9 903.3h0M643.5 879.6h0M611.8 881.1h0M633.8 962.4h0M552.6 1064.6h0M619.4 961.4h0M618.9 980.1h0M617.4 954.8h0M595.9 968.3h0M574.4 993h0M633.6 914.3h0M565.6 1066.1h0M676 880.8h0M638.5 887.6h0M596.8 976.1h0M682.7 894h0M705.4 872.9h0M688.2 878.5h0M654.5 882.3h0M640 904.7h0M634.7 934.4h0M554.1 904.6h0M633.5 933h0M519 1041.9h0M705.9 883.6h0M605.2 973.2h0M507.5 1091.9h0M696.4 891h0M570.7 1035.6h0M648.9 925.1h0M684 879.4h0M688.5 875h0M609 955.2h0M626 944.2h0M606.9 965.8h0M640 957.3h0M606.9 963.8h0M537.5 1028.4h0M674.8 906.9h0M602.7 971.4h0M644.8 1012.4h0M653.5 880.8h0M688.7 901.8h0M516.2 1089.6h0M606.6 986.4h0M538.4 1075.4h0M639.9 931.9h0M611.3 956.3h0M527.2 1019.7h0M641.8 941.9h0M633.9 963.5h0M550 1014.3h0M693.6 872.8h0M685.6 881.4h0M550.2 1071.5h0M526.8 1029.5h0M636.2 919h0M572 1035.4h0M606.8 961.2h0M634 957.7h0M622.9 948.3h0M691.9 866.3h0M683.8 907.6h0M704.8 886.6h0M672.1 893.4h0M627.1 955.2h0M661.2 898.2h0M584.3 987.6h0M678.2 865.4h0M587.4 1021.9h0M694.7 864.7h0M646.1 881.5h0M637.6 869.4h0M580.1 987.8h0M677 883.9h0M616.4 944.7h0M597.2 947.8h0M705.3 861.7h0M661.3 922.5h0M540.7 1076.5h0M653.9 940.7h0M633.8 930.3h0M634.5 918.7h0M667.4 957.3h0M707.6 880.8h0M616.6 911.7h0M705.3 863.3h0M597.1 997.1h0M633.3 927.5h0M530 1034.7h0M629.1 938.1h0M596.5 953.8h0M560.1 1048.3h0M654.7 935.2h0M624.3 923h0M693.8 887.4h0M651.2 942.1h0M668.8 945.2h0M676.6 887.7h0M633.6 931.6h0M626.4 920.9h0M664.7 885.8h0M630.2 929.9h0M686.7 896.9h0M710.6 902h0M504.1 1050.4h0M583 967.4h0M534 949.9h0M581.9 992.7h0M651.5 922.3h0M690.7 869.6h0" stroke="#1f77b4" stroke-opacity="0.62" stroke-width="3.8" stroke-linecap="round" fill="none"/>
<path d="M617.8 1007.1h0M608.4 989.8h0M640.8 980h0M549.8 1008.7h0M654 921.4h0M616.9 956.8h0M604.5 1080h0M650 972.9h0M640.1 955.8h0M638.4 991h0M522.3 1038.5h0M704.9 938.6h0M541.3 1084.4h0M627.5 920.1h0M563.8 976h0M648.4 908.7h0M661.9 906.1h0M648.4 916.9h0M680.7 878.4h0M622.3 973.1h0M571.1 1010.6h0M630.5 896.7h0M645.3 923.3h0M594.3 963.2h0M555.9 1003.4h0M509.2 1038.2h0M668.7 907.2h0M610.8 953.1h0M688.9 890.1h0M663.9 947.9h0M639.1 940.5h0M539.6 1075.2h0M579.1 1026.8h0M547.8 1078.3h0M678.6 881.3h0M509.5 1053h0M700.5 868.2h0M651.7 898.4h0M665.9 880h0M629.1 946h0M627.1 883.7h0M661.2 865.9h0M647.7 912.3h0M671.1 915.1h0M664.5 924.8h0M693.5 872.9h0M635.2 923.6h0M672.4 892.6h0M684.9 917.5h0M682.5 889.1h0M631.5 965.9h0M657.7 908.7h0M530.4 1004.9h0M666.7 918.5h0M624.6 925.8h0M688.7 900h0M560 1002.3h0M514.2 1047.5h0M571.5 987.5h0M644.7 923.1h0M704 877.9h0M646.5 943.9h0M612.7 961.7h0M681.6 893h0M648.3 950.1h0M520.6 981.6h0M636.7 928h0M627.1 934.1h0M636.9 933.8h0M598.6 972.6h0M520.6 1044h0M665.9 972.1h0M658.5 926.7h0M682.7 871.6h0M557.1 1055h0M694.5 870.7h0M582.2 973.8h0M593.6 938.6h0M666.4 881.6h0M683.6 892.9h0M512.4 1003.5h0M701.4 863.9h0M628 948.4h0M638.5 927.3h0M666.8 893.8h0M575.4 1072.2h0M624.3 951.9h0M682.5 968.6h0M656.7 913h0M616.2 952.3h0M603.7 963.1h0M635.2 889.2h0M659 896.1h0M598.4 951.9h0M637.2 997.1h0M693.3 877.7h0M506.3 1064.1h0M601.2 998.5h0M653.9 929.1h0M708.1 875.2h0M638.7 944.4h0M671.5 872.6h0M616.8 940.7h0M683.9 905.5h0M621.8 993.8h0M696.8 875.8h0M636.7 901.8h0M671.2 921.8h0M710.9 869.7h0M704.5 869.8h0M693.3 862.2h0M670.5 880.5h0M567.9 1000.5h0M700.5 864.7h0M656.3 906.3h0M572.8 1018.7h0M631.9 903.4h0M639.9 932.4h0M676.3 916.7h0M700.7 867.8h0M576.8 982h0M657.1 904.9h0M619.9 976.7h0M638 938.8h0M650.5 897.4h0M687.2 893.4h0M588.5 982.2h0M577.7 1022.7h0M601.2 956.8h0M635.2 917.7h0M614.5 1008.5h0M620.5 932.9h0M568.2 1059.3h0M636.8 901.8h0M546.1 1072.6h0M651.9 943h0M655.1 938h0M671.3 917.6h0M682.7 915.7h0M630.1 968.3h0M636.5 934.5h0M657.9 886.7h0M690.4 867.9h0M676.2 890.7h0M502.6 1063.9h0M589.6 978.3h0M632.4 1009.2h0M687.9 903.3h0M629.6 932.7h0M675.2 895.4h0M636.2 935.7h0M677.6 903.9h0M688.1 869.4h0M648.4 980.2h0M526.1 1049.6h0M644.8 886.6h0M648.1 952h0M660.9 936.5h0M690.3 879.8h0M664.9 924.1h0M702.2 878.6h0M529 938.9h0M527.1 1012.7h0M579.2 1043.6h0M626.1 907.4h0M631.5 939.9h0M639.5 954.9h0M694 897.9h0M666.9 869.8h0M607.7 1035h0M653.8 1080.7h0M606.8 968h0M629.8 933.1h0M677.3 926h0M624.6 971.4h0M576.1 991.7h0M523.8 975.6h0M595.4 1031.9h0M613.7 954.5h0M558.9 1006.2h0M526.9 1032.6h0M655.5 1016.8h0M627.4 961.5h0M696.1 889.9h0M707.2 862.1h0M518.4 1088.8h0M645.3 919.6h0M669.7 915.5h0M675.4 887.6h0M642.3 926.9h0M698.3 893.1h0M691.3 867.1h0M657.1 904.3h0M660.2 912h0M561.3 1000.8h0M638.1 981.1h0M567 993.2h0M631.6 902.4h0M541.3 925.4h0M675.5 958.3h0M639.1 919.2h0M593.1 997h0M704.5 865.1h0M693.2 867.4h0M631.4 935.6h0M676 890.1h0M649.5 963.4h0M527.8 1084.1h0M544.5 1073.5h0M659.5 947.3h0M613.9 960h0M616.8 945.2h0M659 937.3h0M638.2 935.4h0M646.5 868.9h0M517.8 1018.2h0M601.1 969.6h0M706.1 862.2h0M707 875.7h0M653 876.4h0M564.1 1051.5h0M678.5 923.5h0M615.1 937.3h0M683.5 885.6h0M537.3 1082h0M632.4 961.4h0M602.7 934.9h0M638 947.9h0M687.6 867.2h0M636.2 944h0M569.8 1036.1h0M706.2 878.8h0M638.8 946.4h0M652.4 911.8h0M597.9 997.2h0M573.5 1033.1h0M674.1 912.5h0M669.6 862.8h0M522 1017.8h0M556 1005.1h0M700.6 938.8h0M688.7 893.6h0M698.4 889h0M550.7 919.4h0M631 931.7h0M652.2 929h0M648 961.1h0M705.9 883.4h0M635.6 943.8h0M591.2 990.1h0M658.8 931.3h0M629 941.7h0M707.8 862.8h0M590.3 1032h0M512 1055.6h0M688.2 899.9h0M544.4 982.3h0M642.1 925.9h0M652.3 930.3h0M639.3 934.7h0M508.5 1057h0M656.4 935.9h0M701.2 863.5h0M608.6 981.3h0M638.9 927.1h0M709.6 866.3h0M646.8 964.3h0M702.5 872.8h0M656 926.7h0M647.7 941.3h0M673.7 877.3h0M506.7 1059.4h0M595.5 1080.6h0M642.2 977.4h0M558.8 1048.5h0M671.9 916.7h0M639.5 919.7h0M610.9 964.1h0M525.7 971.3h0M644.3 922.2h0M521.6 1018.8h0M619.9 974.2h0M542.8 1016.3h0M695.2 892.3h0M684 941.6h0M638.9 958h0M509.2 1058.1h0M665.5 906.3h0M540.7 936.8h0M617.9 922h0M665.7 873.9h0M627.3 944.7h0M663 905.7h0M641.4 938.3h0M650.3 918h0M694.4 883.1h0M567.7 992.6h0M710.9 880h0M525.4 987.8h0M623.4 982.8h0M648.3 936.6h0M694.6 867.6h0M624.6 939.3h0M513.9 982.1h0M683.1 907.2h0M648.1 941.4h0M662.5 889.7h0M681.5 901.1h0M616.8 1029.7h0M679.8 890h0M691.6 869.3h0M664.3 899.3h0M582.3 891.7h0M699.8 866.4h0M635.8 946.4h0M601.8 959.7h0M649.2 920h0M694.9 903.8h0M643.8 983.2h0M695.1 880.5h0M693.4 872.1h0M668.3 910h0M642 906.5h0M616.3 925.3h0M669.7 905.3h0M689.9 883.6h0M634.3 939h0M630.6 921.3h0M642.3 917.3h0M576.5 909.9h0M701.6 899.6h0M680.4 900.1h0M562.7 963.4h0M646.2 881.2h0M635.2 936.6h0M642.2 927.5h0M636.7 930.6h0M681.7 886.6h0M593.9 980.2h0M646.6 923.5h0M643.7 927.1h0M688.2 880.8h0M585.3 1005h0M669.5 872.3h0M669.5 934.4h0M626.4 948.9h0M705.9 862.7h0M620.6 981.2h0M565.7 998.5h0M700.5 868.2h0M679.6 922.6h0M681.5 876.6h0M635 896.9h0M659.3 927.2h0M681 877.1h0M647.2 964.6h0M668.4 908.3h0M625.2 920.9h0M527.2 1041.7h0M659 939.4h0M663.2 923.8h0M665.3 932.6h0M587.6 1015.1h0M636.1 929.6h0M613.3 936.6h0M574.1 1032.6h0M659.1 899.3h0M514.9 999.8h0M700.2 871.8h0M648.9 945h0M612.1 924.4h0M528.6 1081.5h0M618.5 910.9h0M608.1 939.4h0M652.1 928.5h0M641.5 922.9h0M688.1 870h0M576.1 992.1h0M639.5 929h0M612.2 961.3h0M633.2 967.3h0M515.3 1014.7h0M675.5 884.9h0M620.3 981.3h0M654.9 921.9h0M634.2 930.8h0M670.1 935.4h0M545.6 1073h0M658.8 882h0M538.1 1024.2h0M688.5 912.6h0M684 884.2h0M624 946.4h0M666.2 901.6h0M689.5 870.2h0M586.7 985.4h0M606.1 962.8h0M684.6 865.7h0M607.9 987.8h0M690.3 897.2h0M656.6 871.8h0M640.8 952.9h0M613.8 904.5h0M636.8 895.6h0M621.2 951h0M636.5 988.7h0M622.5 1085.1h0M648.1 964.6h0M622.8 974.9h0M657.4 902.9h0M506.8 1058.9h0M678.7 864h0M638.7 932.4h0M583.1 986h0M602.7 956.6h0M609 942.3h0M649.1 972.7h0M693.9 959.8h0M670.3 996.5h0M638.7 923.6h0M650.9 876.9h0M707 876.3h0M582.6 991.9h0M624 928.7h0M518.3 1045.5h0M656.8 864.8h0M667.7 901.9h0M657.2 914.2h0M624.5 958.9h0M704.8 863.5h0M587.5 1015.1h0M707.1 885.3h0M636 882.7h0M679.7 894.7h0M581.2 933.4h0M626.1 938.5h0M678.6 873.9h0M685.1 890.6h0M601 946h0M596.8 970.7h0M567.3 952.9h0M667.2 897.6h0M653 1081.3h0M689.9 867.3h0M577.3 991.8h0M703.9 875.9h0M685.3 907.8h0M685.3 883.9h0M554.6 929.9h0M522.4 1022.3h0M639 907.4h0M656.7 902.4h0M545.5 1074.3h0M606.2 949h0M662.3 896h0M697.2 870.4h0M636.3 931.3h0M653.1 910.5h0M589.1 984.4h0M523.4 1042.5h0M661.5 917.3h0M600.4 1081.3h0M673.8 894h0M559.3 1059.7h0M554.5 1060.4h0M665.9 911.5h0M669.2 871.8h0M606.6 961.5h0M608.2 933.9h0M646.6 899.6h0M625.6 966.7h0M651.9 943.3h0M641.2 913.2h0M690.9 885.8h0M594.4 979.1h0M636.1 900.1h0M666 931.2h0M677.5 883.3h0M525.9 1037.4h0M597.9 995.1h0M630.7 919.4h0M661.6 944.9h0M595.7 957h0M589.2 949.4h0M607.6 912.8h0M683.3 910.3h0M641.3 985.4h0M648.2 891.5h0M649.8 914h0M531.7 1028.7h0M552.1 1060.9h0M678.7 906.1h0M657 957.5h0M589.3 982.4h0M676.4 918.8h0M696.9 874.9h0M654.9 872.8h0M654.6 940h0M653.6 865.6h0M655.1 904.6h0M575.8 1057.2h0M665.6 891.3h0M653.2 889.2h0M644.4 874.9h0M554 919.9h0M652.6 903.6h0M697.6 886h0M683.5 950.6h0M516.7 1022.9h0M590.9 1030.9h0M690.7 886.3h0M651.5 926.5h0M689.4 880.9h0M589.5 1003.5h0M579.6 994.4h0M695.1 867.6h0M611.9 951.2h0M705.9 890.1h0M531.8 1029.6h0M630 970h0M692.8 870.3h0M612.5 959.3h0M642.1 902.4h0M536.8 1028.6h0M641.6 955.2h0M677.7 929.5h0M538 895.4h0M681 881.1h0M653.4 934.7h0M684.9 863.3h0M549.8 1016.6h0M696.5 884.7h0M635.5 884.5h0M575.4 946h0M638.8 928h0M633.7 950h0M643.3 888.7h0M637.5 909.1h0M650.3 934.8h0M577.3 1026.3h0M655.7 912.6h0M528.4 1038.3h0M539.6 1072.3h0M665.1 896.3h0M623.6 957.9h0M634.5 935h0M611.1 980h0M632.3 957.9h0M640.2 939.5h0M673.1 896.5h0M642.7 944.3h0M626.2 930.2h0M611.4 980.9h0M639.7 915.2h0M699.8 863.8h0M571 1035.3h0M674.2 887.6h0M700.4 901.2h0M535.1 1085.8h0M710.3 872.6h0M675.5 897.6h0M642 910.1h0M541.1 1080h0M537.5 1075.9h0M675.2 896.3h0M537.6 1026.1h0M597.2 1028.6h0M631.1 900.9h0M592.1 963.7h0M605.4 1014h0M631.4 914.7h0M594.1 1042h0M606.9 931.2h0M632.9 943.4h0M692.7 872.5h0M695.1 891h0M666.4 923.6h0M615.9 951.5h0M635.3 932.6h0M710.8 874.1h0M695.5 877.1h0M597.4 1003.4h0M604.1 1012.1h0M609.9 952.7h0M683.2 877.6h0M584.6 947.6h0M634 939.1h0M658.3 922.3h0M639.6 907.7h0M690.3 913.2h0M631.9 903.5h0M688.8 907.8h0M688 870h0M699.6 872.9h0M678.8 888.7h0M677.3 972.5h0M681 876h0M606.6 967.4h0M648.5 962.3h0M669.9 899.6h0M706.3 896.8h0M648.7 952.6h0M662 924.7h0M508.2 994.4h0M639.2 913.4h0M607.7 964.3h0M532.1 1026.9h0M639.8 950.1h0M696.4 867.4h0M654.4 911.5h0M628.5 939.7h0M663.6 925.1h0M666.9 873.6h0M596.5 976.2h0M563.4 1004.2h0M578.3 1078.6h0M509.5 1048.5h0M629.8 931.4h0M677.3 882.4h0M559.6 991.6h0M579.5 1039.7h0M542 1075.5h0M637.6 905.1h0M630.6 918.8h0M633.3 927.6h0M528.7 1032.4h0M685.6 872.5h0M612 985h0M694.4 904.8h0M688.5 907.4h0M581 994.3h0M670.6 890.7h0M696.1 898.3h0M684.6 890.2h0M691.1 884.9h0M702 864.3h0M603.4 968.8h0M681.5 888.3h0M702.5 889.6h0M664.7 907.2h0M660.6 922h0M710.1 863.6h0M615.4 899.8h0M592.1 1025.3h0M574.9 1048.1h0M649 932.1h0M705.5 875.4h0M559.7 1057.9h0M608 1046.2h0M604.2 1026.2h0M710.3 875.5h0M649.7 941.5h0M617.2 960.7h0M655.3 999.5h0M615.2 950.1h0M688.1 907.8h0M702.6 888.7h0M637.3 960.7h0M603.9 988.2h0M618.7 932.2h0M540.7 1021.1h0M607.7 948h0M707.7 882h0M626.2 964.5h0M626.7 980.4h0M582.6 1037.5h0M637.7 953.8h0M581.5 979.5h0M639 922.8h0M625 939.3h0M710.3 875.3h0M643.3 932.2h0M666 937.8h0M657 1071h0M677 902.1h0M526.9 1039h0M598.8 968.3h0M619.5 936.2h0M685 904.2h0M520.7 940h0M669.7 925.5h0M636.9 914.5h0M666.4 874.9h0M657.3 908.3h0M641.5 909.7h0M579.6 949h0M576.4 996.2h0M503.3 1059.4h0M585.7 1031.8h0M606 971.4h0M585.1 1013.7h0M656.8 916h0M621.7 954.7h0M631.8 898.5h0M631.4 955.2h0M602.4 944.9h0M678.5 877.6h0M519.2 1091.4h0M534.4 931.5h0M652.8 945.6h0M625.4 965.1h0M636.7 977.5h0M611.5 993.3h0M665 892.9h0M591.9 984.6h0M642.8 912.5h0M703.2 893h0M662.6 933.5h0M672.5 901.1h0M683.9 865.8h0M629.7 905.9h0M689.8 884.6h0M677.6 900h0M687.2 880.3h0M674.2 915.3h0M710.7 863.5h0M641.3 948.9h0M642.9 966.1h0M670.6 895.7h0M661.2 933.2h0M584.6 890.2h0M674.8 902.5h0M705.6 870.9h0M525 1004h0M627.9 941.7h0M537.1 1022.7h0M683.6 908.9h0M629.5 938.1h0M678.7 889.9h0M616.1 943.1h0M529.6 1018.3h0M676.1 939.5h0M662.6 869.2h0M627.5 956.3h0M615.9 919.9h0M686.8 869.9h0M517.2 1051h0M628.1 922.6h0M686.6 879.3h0M516 1016.1h0M545.7 1071.8h0M549.5 1001.4h0M698.5 877.8h0M648.7 898.7h0M656.2 1051.4h0M523.6 1045.2h0M668.6 907h0M690.8 871.5h0M667 891h0M700.2 863.7h0M695.1 873.2h0M633.6 1078.4h0M708.2 862.6h0M707.9 891.6h0M623.1 863.7h0M680.8 884.2h0M669.3 915.2h0M665.9 913.2h0M603.5 937.3h0M701.4 890.4h0M602.9 968.4h0M678.6 910.6h0M706.1 872.7h0M646.5 918.9h0M651.8 969.4h0M679.1 916.4h0M665.6 884.5h0M665.6 900.1h0M597.2 1026.1h0M682.8 907h0M516.2 1052.4h0M635.1 931.3h0M583 1037.7h0M538.4 953.5h0M650.8 872.4h0M634.2 899.2h0M586.8 986.5h0M682.3 902h0M623.5 939.5h0M549.5 901.4h0M543.8 954.8h0M678.8 910.8h0M613.7 943.4h0M633.8 875.5h0M613 959.8h0M606.4 970.3h0M678.5 973.9h0M607.9 989.5h0M545.2 1067.5h0M647.2 890.2h0M682.5 907.4h0M671.8 885.7h0M647.9 912.8h0M685 871.6h0M659.5 920.2h0M642.5 969.9h0M640.1 949.2h0M649 971.2h0M506.3 1092.6h0M692.2 874.1h0M682.7 884.8h0M550.5 977.1h0M520 1045.3h0M670.8 916.2h0M686.3 890.3h0M703.1 882.4h0M568.9 1039.1h0M675.2 916.1h0M640.5 932.5h0M697.4 881.6h0M563.1 1001.7h0M623.2 903.5h0M655.7 930.4h0M585.8 934.9h0M634.8 966.3h0M676.8 908.3h0M672 891.5h0M539 1025.2h0M644 905.7h0M701 899.7h0M670.3 936.5h0M598.5 951.6h0M686 875h0M609.6 955.6h0M696.2 862.2h0M684 873.9h0M658.3 891.1h0M662.5 926.5h0M680.2 881.4h0M511.7 1051.1h0M622.1 940.7h0M673.9 866.9h0M632.5 997.6h0M654.7 933h0M689.2 871.4h0M630 991.7h0M627.8 941.3h0M699.7 868.7h0M552.3 921.9h0M708.4 865.8h0M666.7 871.8h0M630.1 1025.2h0M641.5 914.7h0M689 986.4h0M577.4 993.9h0M610.2 991.3h0M689 893.8h0M639.5 893.9h0M626.1 971.2h0M569.2 994.9h0M668.8 872.9h0M699.1 884.8h0M639.4 883.9h0M637.7 953.7h0M676.9 883.8h0M556.6 965.1h0M649.2 902.2h0M667.5 881.3h0M662.9 916.2h0M662.4 914.8h0M579.5 1014.8h0M614.6 981h0M650.7 908.9h0M513.1 1090.9h0M648.7 947.8h0M651.8 903h0M689.6 910h0M608.5 874.9h0M634.1 934.8h0M606.1 1043.6h0M697.4 897.1h0M539.2 1028.9h0M534.6 1080.2h0M657.7 932.7h0M639.5 877.6h0M646.1 883.7h0M580.1 979.6h0M631.5 933h0M685.2 873.2h0M643.2 925h0M505.8 1055.4h0M677.2 911h0M566 997.6h0M668.4 899h0M640.8 953.1h0M584.5 992.2h0M539.9 1091.6h0M608.7 959.5h0M670.7 887.1h0M611.9 891h0M706.1 862.6h0M653.9 1081.5h0M688.3 877.8h0M591.7 981.7h0M576.5 994h0M631 921.6h0M656.4 903.1h0M594.7 983.9h0M641.4 951.9h0M662.1 919.7h0M686.6 893.4h0M626.1 1025.6h0M585.8 1029.6h0M628.5 947.4h0M552.3 991.4h0M620.2 939.1h0M513.4 1051.1h0M668.6 888.7h0M626.8 975.4h0M633.4 919.1h0M572.5 883.8h0M672.3 896.1h0M678.1 904.9h0M697.8 865.4h0M685.6 863h0M680.5 874.9h0M531.1 1034.3h0M594.3 993h0M634.3 918.8h0M617.2 939.5h0M662.8 913.4h0M507.9 1052.3h0M568.9 978.4h0M662.3 905.5h0M644.9 902.7h0M658.4 902.3h0M707.3 864.2h0M590.2 964h0M647.4 918.6h0M674.2 894.6h0M632.3 900.6h0M679.1 890.8h0M672.1 885.9h0M625.8 1031.8h0M673 885h0M674.1 865.6h0M647.7 924.9h0M533.5 979.6h0M667.4 907.5h0M592.5 977.3h0M637.1 975.4h0M653.5 912.7h0M707.8 885.3h0M662.7 895.5h0M630.2 921.1h0M678.1 906.2h0M643.9 936.4h0M643 938.1h0M623.6 947h0M628.2 969.4h0M650.3 912.4h0M587.7 980.9h0M597.4 964.8h0M699.8 865.7h0M645.5 964h0M616 978.9h0M695.3 867.4h0M697.3 872.5h0M596.9 961.6h0M632.9 1016.3h0M618.8 927h0M683 881.8h0M619.5 961.2h0M655.4 920.2h0M638.9 908.1h0M605.3 1061.5h0M587.1 914h0M662.8 931.7h0M518 1039h0M681.7 905h0M694.4 868.6h0M640.6 920.8h0M668.9 913.2h0M654.7 916.3h0M660.9 932.2h0M710.4 881.3h0M609.2 969.1h0M635.3 907.2h0M655.2 930.2h0M679.5 904.4h0M527.7 999.4h0M660.1 890h0M582.4 888.5h0M689.6 881.9h0M693.9 880h0M639 911.9h0M626.3 946.5h0M591.4 968.3h0M534.9 1029h0M667 950.5h0M543.1 1017.1h0M640 946.6h0M633.4 927.5h0M517.3 1052h0M528.1 1039.5h0M694.1 881.9h0M607 967.4h0M512.1 976.2h0M653.7 935.2h0M679 889.6h0M622.8 961.2h0M627.4 1072.4h0M683.3 871.1h0M640.2 954.3h0M675.9 885.1h0M540.1 1013.7h0M599.5 1000.8h0M700.6 880.2h0M531.8 1016.5h0M515.3 1092.8h0M659.8 950.3h0M655.2 892.5h0M702.5 902.6h0M590.2 969.4h0M692 863.9h0M617.1 955h0M658.7 888.9h0M580.1 1041.8h0M699.5 866.8h0M624.1 971.4h0M675.9 898.7h0M698.8 876.3h0M621.4 948.8h0M685.3 982.1h0M570.8 976.6h0M680.7 882.5h0M554.6 1004.6h0M592.2 970.2h0M628.9 910.4h0M712.3 864.2h0M705.6 869.8h0M665.3 913.4h0M691.8 865.9h0M627.1 970.4h0M638.8 924h0M693.2 869.4h0M625.5 978.5h0M614.1 1016.1h0M632.3 961.9h0M662.8 889.9h0M630.3 948.9h0M592.4 1010.6h0M664.2 918.2h0M667 863.1h0M648.8 926.6h0M661.5 1080.5h0M559.8 1006.2h0M713.5 869.4h0M534.6 993.8h0M630.5 944.7h0M648.5 888.3h0M633.1 961.1h0M527.2 1088h0M643.2 916.6h0M510.4 1022.7h0M627 1007.4h0M637.3 928.9h0M683.5 889.2h0M534.8 1001.4h0M667.2 885.5h0M643.7 933.4h0M680.6 900h0M709.8 867.5h0M691.9 872.6h0M562.7 997.8h0M594.3 977.1h0M669.7 909.9h0M607.2 961h0M583.7 968.3h0M637.3 952h0M627.1 969.5h0M674.9 895.6h0M627.6 945.9h0M675.4 896h0M649 962.9h0M565.5 918.6h0M539.9 1022.6h0M666.6 914.8h0M541.1 1074.4h0M680 867.3h0M671.6 876.6h0M632.5 940.4h0M704.7 874.8h0M530.8 1089h0M629.7 965.6h0M695.4 866.9h0M591.2 1022.4h0M605.1 956.2h0M631 923.3h0M633.1 953.4h0M679.6 887.9h0M638.9 960h0M664.7 930.8h0M603.2 970.9h0M570.4 995.9h0M538.4 944.3h0M640 915.8h0M695.8 871.2h0M643.1 879.5h0M678.7 907.7h0M596.7 973.5h0M629.4 963.7h0M691.5 894.4h0M630.5 952.6h0M551 1058.6h0M686.1 869.8h0M700.6 867h0M564.5 1049.2h0M621.3 973h0M610.2 961.6h0M520.7 1090.7h0M663.2 896h0M631.4 931.3h0M503.6 1043.6h0M708.3 875.2h0M586.7 1013.3h0M636.4 925.7h0M626.3 965.4h0M646.3 941.8h0M617.4 982.8h0M661.5 896.6h0M638.9 956.5h0M705.2 869.3h0M697.1 866.1h0M588.9 979.9h0M687.5 907.9h0M687.1 882.5h0M594.5 1001.3h0M667.6 918.1h0M649.9 885.8h0M656.6 917.3h0M699.3 868.2h0M612.8 959.2h0M703.9 871.6h0M663.6 881.6h0M579.3 989.6h0M550 958h0M581.4 1048.1h0M669.6 879.9h0M660.7 1084.4h0M647.8 899.5h0M550.9 1067.3h0M593.6 1005h0M645.6 879.6h0M644.9 898.8h0M592.9 979.8h0M511.7 995.9h0M515.1 1044.5h0M607.1 920.3h0M679.9 875.4h0M625.2 951h0M680.3 876.8h0M705.7 869h0M672.3 865.7h0M671 889.6h0M537.3 960h0M702.1 880.7h0M603.7 964.9h0M687.8 867.2h0M681.7 907.4h0M651.6 922.7h0M678 891.8h0M508.3 1054.1h0M579.8 990h0M528.4 1031.1h0M514.4 1048.6h0M662.3 892h0M527.1 1033.4h0M693.8 862.8h0M627.5 941.8h0M603.9 973h0M628.7 966.6h0M543.8 1022h0M599.9 954.1h0M660.8 871.5h0M684.5 897.5h0M542.2 1009.6h0M660.1 909.6h0M704.8 862.6h0M583.4 1034.4h0M637.1 961.3h0M678.3 965h0M696.6 868.7h0M647.8 921.3h0M630.8 929.7h0" stroke="#1f77b4" stroke-opacity="0.62" stroke-width="3.8" stroke-linecap="round" fill="none"/>
<path d="M498.6 1036.7H730.3M551.9 1094.1V844.6" stroke="#e1454b" stroke-width="1.4" stroke-dasharray="4.9 3.7" fill="none"/>
<path d="M498.6 1069.1L707.1 844.6M521.8 1094.1L730.3 869.5" stroke="#f5a623" stroke-width="1.35" stroke-dasharray="4.9 3.7" fill="none"/>
<circle cx="498.6" cy="1069.1" r="1.6" fill="#f5a623"/>
<circle cx="707.1" cy="844.6" r="1.6" fill="#f5a623"/>
<circle cx="521.8" cy="1094.1" r="1.6" fill="#f5a623"/>
<circle cx="730.3" cy="869.5" r="1.6" fill="#f5a623"/>
<rect x="487.2" y="832.4" width="254.4" height="274.2" fill="none" stroke="#3a3a3a" stroke-width="0.9"/>
<line x1="479.9" y1="1094.1" x2="487.2" y2="1094.1" stroke="#3a3a3a" stroke-width="0.9"/>
<text x="472.8" y="1098.1" font-size="11.5" text-anchor="end" fill="#222" textLength="6.9" lengthAdjust="spacingAndGlyphs">0</text>
<line x1="479.9" y1="1044.2" x2="487.2" y2="1044.2" stroke="#3a3a3a" stroke-width="0.9"/>
<text x="472.8" y="1048.2" font-size="11.5" text-anchor="end" fill="#222" textLength="16.8" lengthAdjust="spacingAndGlyphs">0.2</text>
<line x1="479.9" y1="994.3" x2="487.2" y2="994.3" stroke="#3a3a3a" stroke-width="0.9"/>
<text x="472.8" y="998.3" font-size="11.5" text-anchor="end" fill="#222" textLength="16.8" lengthAdjust="spacingAndGlyphs">0.4</text>
<line x1="479.9" y1="944.4" x2="487.2" y2="944.4" stroke="#3a3a3a" stroke-width="0.9"/>
<text x="472.8" y="948.4" font-size="11.5" text-anchor="end" fill="#222" textLength="16.8" lengthAdjust="spacingAndGlyphs">0.6</text>
<line x1="479.9" y1="894.5" x2="487.2" y2="894.5" stroke="#3a3a3a" stroke-width="0.9"/>
<text x="472.8" y="898.5" font-size="11.5" text-anchor="end" fill="#222" textLength="16.8" lengthAdjust="spacingAndGlyphs">0.8</text>
<line x1="479.9" y1="844.6" x2="487.2" y2="844.6" stroke="#3a3a3a" stroke-width="0.9"/>
<text x="472.8" y="848.6" font-size="11.5" text-anchor="end" fill="#222" textLength="16.8" lengthAdjust="spacingAndGlyphs">1.0</text>
<line x1="498.6" y1="1106.6" x2="498.6" y2="1113.9" stroke="#3a3a3a" stroke-width="0.9"/>
<text x="498.6" y="1130.5" font-size="11.5" text-anchor="middle" fill="#222" textLength="6.6" lengthAdjust="spacingAndGlyphs">0</text>
<line x1="544.9" y1="1106.6" x2="544.9" y2="1113.9" stroke="#3a3a3a" stroke-width="0.9"/>
<text x="544.9" y="1130.5" font-size="11.5" text-anchor="middle" fill="#222" textLength="16.8" lengthAdjust="spacingAndGlyphs">0.2</text>
<line x1="591.3" y1="1106.6" x2="591.3" y2="1113.9" stroke="#3a3a3a" stroke-width="0.9"/>
<text x="591.3" y="1130.5" font-size="11.5" text-anchor="middle" fill="#222" textLength="16.8" lengthAdjust="spacingAndGlyphs">0.4</text>
<line x1="637.6" y1="1106.6" x2="637.6" y2="1113.9" stroke="#3a3a3a" stroke-width="0.9"/>
<text x="637.6" y="1130.5" font-size="11.5" text-anchor="middle" fill="#222" textLength="16.8" lengthAdjust="spacingAndGlyphs">0.6</text>
<line x1="684" y1="1106.6" x2="684" y2="1113.9" stroke="#3a3a3a" stroke-width="0.9"/>
<text x="684" y="1130.5" font-size="11.5" text-anchor="middle" fill="#222" textLength="16.8" lengthAdjust="spacingAndGlyphs">0.8</text>
<line x1="730.3" y1="1106.6" x2="730.3" y2="1113.9" stroke="#3a3a3a" stroke-width="0.9"/>
<text x="730.3" y="1130.5" font-size="11.5" text-anchor="middle" fill="#222" textLength="16.8" lengthAdjust="spacingAndGlyphs">1.0</text>
<text x="616.8" y="1154.3" font-size="14.2" text-anchor="middle" fill="#222" textLength="179.1" lengthAdjust="spacingAndGlyphs">DockQ of last ten steps from</text>
<text x="616.8" y="1169.6" font-size="14.2" text-anchor="middle" fill="#222" textLength="105.7" lengthAdjust="spacingAndGlyphs">generation stage</text>
<text x="425.5" y="969.2" font-size="14.2" text-anchor="middle" fill="#222" textLength="177.1" lengthAdjust="spacingAndGlyphs" transform="rotate(-90 425.5 969.2)">DockQ of last ten steps from</text>
<text x="440.5" y="969.2" font-size="14.2" text-anchor="middle" fill="#222" textLength="101.3" lengthAdjust="spacingAndGlyphs" transform="rotate(-90 440.5 969.2)">prediction stage</text>
<rect x="577.4" y="838.5" width="113.3" height="23.7" rx="1" fill="#fff" fill-opacity="0.85" stroke="#dcdcdc" stroke-width="0.9"/>
<circle cx="584.5" cy="850.5" r="2" fill="#1f77b4" fill-opacity="0.6"/>
<text x="596" y="854.3" font-size="14.2" text-anchor="start" fill="#222" textLength="89.5" lengthAdjust="spacingAndGlyphs">MvN restraints</text>
<text x="396" y="826.2" font-size="19" text-anchor="start" fill="#000" textLength="8.2" lengthAdjust="spacingAndGlyphs" font-weight="bold" stroke="#000" stroke-width="0.5">f</text></svg></body></html>
